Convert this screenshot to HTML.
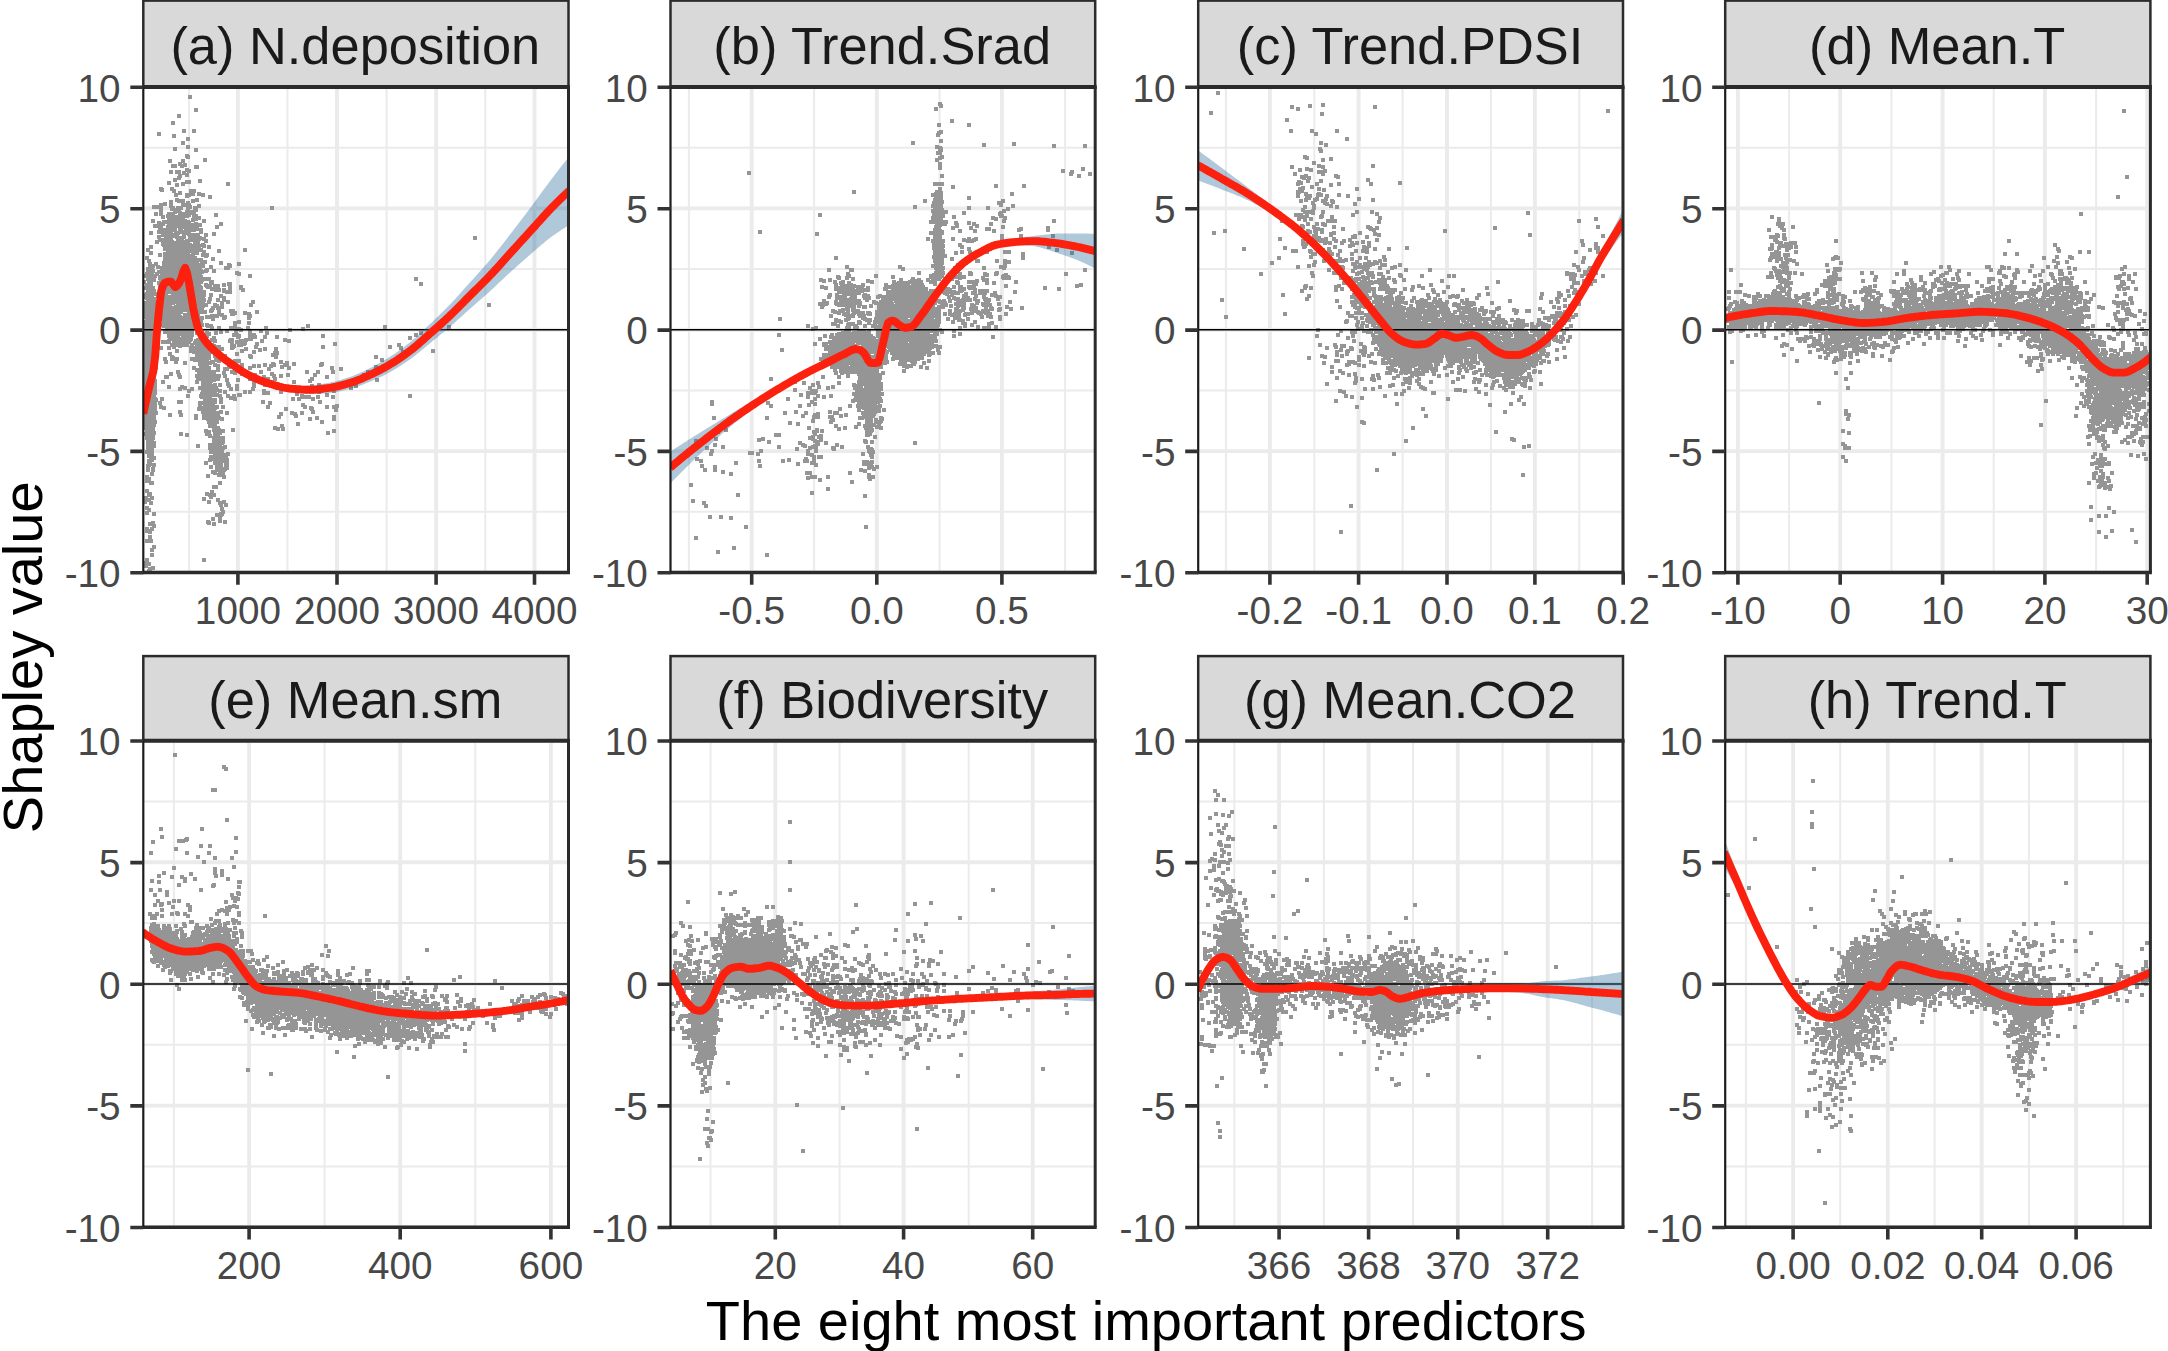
<!DOCTYPE html>
<html><head><meta charset="utf-8"><title>Shapley value</title>
<style>html,body{margin:0;padding:0;background:#fff}svg{display:block}text{font-family:"Liberation Sans",Arial,sans-serif}</style></head><body>
<svg width="2168" height="1351" viewBox="0 0 2168 1351">
<rect width="2168" height="1351" fill="#fff"/>
<g id="panel-a">
<clipPath id="clipa"><rect x="143.3" y="87" width="425.2" height="485.5"/></clipPath>
<rect x="143.3" y="0.6" width="425.2" height="86.4" fill="#d9d9d9" stroke="#2b2b2b" stroke-width="2.5"/>
<text x="355.3" y="64" font-size="52.4" text-anchor="middle" fill="#1a1a1a">(a) N.deposition</text>
<g clip-path="url(#clipa)">
<path d="M143.3 511.8H568.5M143.3 390.4H568.5M143.3 269.1H568.5M143.3 147.7H568.5M189.1 87V572.5M287.5 87V572.5M386.6 87V572.5M485.3 87V572.5" stroke="#ebebeb" stroke-width="2" fill="none"/>
<path d="M143.3 572.5H568.5M143.3 451.1H568.5M143.3 329.8H568.5M143.3 208.4H568.5M143.3 87H568.5M237.9 87V572.5M337 87V572.5M436.1 87V572.5M534.5 87V572.5" stroke="#ebebeb" stroke-width="3.9" fill="none"/>
<path d="M142 282h4M142 288h4M142 331h4M142 362h4M142 371h4M142 381h4M142 394h4M143 295h4M143 297h4M143 305h4M143 316h4M143 317h4M143 322h4M143 324h4M143 325h4M143 328h4M143 329h4M143 332h4M143 334h4M143 339h4M143 341h4M143 346h4M143 347h4M143 350h4M143 352h4M143 353h4M143 357h4M143 358h4M143 362h4M143 366h4M143 377h4M143 380h4M143 381h4M143 383h4M143 385h4M143 388h4M143 391h4M143 395h4M143 396h4M143 397h4M143 407h4M143 408h4M143 412h4M143 414h4M143 415h4M143 416h4M143 418h4M143 419h4M143 421h4M143 425h4M143 499h4M143 502h4M144 276h4M144 303h4M144 307h4M144 310h4M144 312h4M144 315h4M144 316h4M144 317h4M144 324h4M144 328h4M144 336h4M144 337h4M144 338h4M144 342h4M144 347h4M144 350h4M144 352h4M144 354h4M144 359h4M144 361h4M144 365h4M144 366h4M144 367h4M144 369h4M144 375h4M144 377h4M144 380h4M144 382h4M144 388h4M144 389h4M144 390h4M144 397h4M144 401h4M144 402h4M144 405h4M144 406h4M144 410h4M144 412h4M144 413h4M144 414h4M144 415h4M144 422h4M144 423h4M144 428h4M144 434h4M144 498h4M144 563h4M144 566h4M145 258h4M145 274h4M145 276h4M145 285h4M145 288h4M145 294h4M145 298h4M145 303h4M145 305h4M145 306h4M145 307h4M145 308h4M145 309h4M145 313h4M145 315h4M145 316h4M145 317h4M145 320h4M145 321h4M145 323h4M145 324h4M145 327h4M145 329h4M145 330h4M145 331h4M145 333h4M145 336h4M145 340h4M145 345h4M145 347h4M145 352h4M145 353h4M145 356h4M145 359h4M145 361h4M145 369h4M145 370h4M145 371h4M145 372h4M145 379h4M145 380h4M145 390h4M145 394h4M145 395h4M145 403h4M145 405h4M145 415h4M145 418h4M145 422h4M145 423h4M145 427h4M145 430h4M145 431h4M145 432h4M145 434h4M145 435h4M145 438h4M145 452h4M145 477h4M145 481h4M145 491h4M145 500h4M145 508h4M145 513h4M145 529h4M145 531h4M145 541h4M145 560h4M146 250h4M146 269h4M146 273h4M146 277h4M146 279h4M146 287h4M146 289h4M146 291h4M146 294h4M146 299h4M146 300h4M146 307h4M146 309h4M146 311h4M146 316h4M146 318h4M146 321h4M146 322h4M146 324h4M146 326h4M146 331h4M146 332h4M146 333h4M146 335h4M146 336h4M146 352h4M146 353h4M146 354h4M146 358h4M146 360h4M146 363h4M146 373h4M146 376h4M146 377h4M146 378h4M146 382h4M146 383h4M146 384h4M146 389h4M146 390h4M146 395h4M146 396h4M146 397h4M146 401h4M146 402h4M146 404h4M146 409h4M146 411h4M146 418h4M146 423h4M146 424h4M146 429h4M146 430h4M146 438h4M146 440h4M146 443h4M146 446h4M146 448h4M146 450h4M146 451h4M146 452h4M146 466h4M146 470h4M146 531h4M147 261h4M147 271h4M147 273h4M147 276h4M147 277h4M147 278h4M147 279h4M147 280h4M147 284h4M147 286h4M147 288h4M147 291h4M147 293h4M147 294h4M147 295h4M147 299h4M147 312h4M147 314h4M147 315h4M147 316h4M147 317h4M147 321h4M147 322h4M147 323h4M147 324h4M147 325h4M147 328h4M147 334h4M147 335h4M147 342h4M147 348h4M147 353h4M147 362h4M147 364h4M147 366h4M147 368h4M147 376h4M147 379h4M147 384h4M147 385h4M147 390h4M147 391h4M147 395h4M147 403h4M147 404h4M147 406h4M147 408h4M147 409h4M147 410h4M147 413h4M147 418h4M147 419h4M147 420h4M147 422h4M147 424h4M147 425h4M147 437h4M147 439h4M147 445h4M147 447h4M147 448h4M147 453h4M147 456h4M147 461h4M147 465h4M147 479h4M147 495h4M147 500h4M147 510h4M147 564h4M147 571h4M148 264h4M148 267h4M148 272h4M148 275h4M148 277h4M148 278h4M148 280h4M148 282h4M148 284h4M148 288h4M148 294h4M148 301h4M148 303h4M148 304h4M148 306h4M148 307h4M148 308h4M148 309h4M148 310h4M148 313h4M148 314h4M148 315h4M148 317h4M148 324h4M148 325h4M148 332h4M148 334h4M148 337h4M148 341h4M148 342h4M148 345h4M148 347h4M148 358h4M148 360h4M148 364h4M148 368h4M148 370h4M148 373h4M148 377h4M148 380h4M148 385h4M148 387h4M148 391h4M148 405h4M148 408h4M148 409h4M148 422h4M148 425h4M148 426h4M148 430h4M148 432h4M148 434h4M148 438h4M148 439h4M148 440h4M148 441h4M148 443h4M148 444h4M148 446h4M148 450h4M148 452h4M148 455h4M148 464h4M148 494h4M148 524h4M148 532h4M148 537h4M148 569h4M149 233h4M149 247h4M149 253h4M149 271h4M149 272h4M149 275h4M149 277h4M149 281h4M149 283h4M149 284h4M149 285h4M149 286h4M149 287h4M149 288h4M149 292h4M149 295h4M149 297h4M149 301h4M149 302h4M149 307h4M149 309h4M149 311h4M149 313h4M149 316h4M149 325h4M149 326h4M149 327h4M149 330h4M149 331h4M149 332h4M149 333h4M149 336h4M149 338h4M149 343h4M149 346h4M149 347h4M149 348h4M149 350h4M149 353h4M149 356h4M149 358h4M149 359h4M149 370h4M149 377h4M149 381h4M149 383h4M149 390h4M149 401h4M149 403h4M149 404h4M149 410h4M149 411h4M149 416h4M149 417h4M149 420h4M149 425h4M149 427h4M149 433h4M149 435h4M149 438h4M149 439h4M149 440h4M149 441h4M149 443h4M149 444h4M149 447h4M149 448h4M149 449h4M149 454h4M149 457h4M149 458h4M149 483h4M149 503h4M149 541h4M150 268h4M150 273h4M150 274h4M150 276h4M150 279h4M150 291h4M150 292h4M150 293h4M150 297h4M150 298h4M150 301h4M150 305h4M150 306h4M150 309h4M150 311h4M150 315h4M150 316h4M150 317h4M150 318h4M150 320h4M150 324h4M150 326h4M150 329h4M150 330h4M150 331h4M150 333h4M150 334h4M150 336h4M150 339h4M150 348h4M150 350h4M150 357h4M150 364h4M150 365h4M150 368h4M150 370h4M150 373h4M150 375h4M150 380h4M150 382h4M150 385h4M150 393h4M150 397h4M150 398h4M150 404h4M150 405h4M150 406h4M150 408h4M150 416h4M150 417h4M150 418h4M150 420h4M150 427h4M150 429h4M150 430h4M150 431h4M150 432h4M150 433h4M150 437h4M150 439h4M150 443h4M150 444h4M150 445h4M150 446h4M150 447h4M150 449h4M150 450h4M150 451h4M150 453h4M150 454h4M150 460h4M150 474h4M150 483h4M150 498h4M150 529h4M150 550h4M150 555h4M151 221h4M151 266h4M151 271h4M151 288h4M151 290h4M151 291h4M151 294h4M151 300h4M151 303h4M151 304h4M151 305h4M151 312h4M151 317h4M151 318h4M151 321h4M151 322h4M151 326h4M151 329h4M151 331h4M151 336h4M151 338h4M151 340h4M151 343h4M151 349h4M151 350h4M151 351h4M151 354h4M151 355h4M151 359h4M151 360h4M151 373h4M151 376h4M151 377h4M151 378h4M151 380h4M151 382h4M151 386h4M151 387h4M151 395h4M151 399h4M151 402h4M151 406h4M151 409h4M151 411h4M151 415h4M151 419h4M151 421h4M151 426h4M151 429h4M151 430h4M151 432h4M151 435h4M151 436h4M151 437h4M151 438h4M151 444h4M151 469h4M151 470h4M151 523h4M151 568h4M152 207h4M152 280h4M152 291h4M152 299h4M152 300h4M152 301h4M152 304h4M152 305h4M152 306h4M152 308h4M152 310h4M152 314h4M152 322h4M152 326h4M152 327h4M152 333h4M152 337h4M152 342h4M152 347h4M152 348h4M152 352h4M152 355h4M152 360h4M152 365h4M152 368h4M152 370h4M152 371h4M152 373h4M152 375h4M152 378h4M152 383h4M152 386h4M152 388h4M152 391h4M152 396h4M152 403h4M152 404h4M152 405h4M152 412h4M152 414h4M152 416h4M152 418h4M152 423h4M152 425h4M152 433h4M152 443h4M152 446h4M152 458h4M152 465h4M152 514h4M152 526h4M152 547h4M153 226h4M153 276h4M153 319h4M153 322h4M153 327h4M153 328h4M153 331h4M153 333h4M153 336h4M153 343h4M153 349h4M153 352h4M153 353h4M153 354h4M153 356h4M153 358h4M153 362h4M153 364h4M153 365h4M153 369h4M153 370h4M153 371h4M153 381h4M153 383h4M153 385h4M153 387h4M153 388h4M153 389h4M153 392h4M153 393h4M153 399h4M153 402h4M153 406h4M153 408h4M153 409h4M153 410h4M153 412h4M153 422h4M154 214h4M154 264h4M154 294h4M154 313h4M154 323h4M154 338h4M154 343h4M154 368h4M154 400h4M154 413h4M155 207h4M155 242h4M155 274h4M156 267h4M156 296h4M156 333h4M157 134h4M157 223h4M157 226h4M157 232h4M157 237h4M157 272h4M157 283h4M157 300h4M157 303h4M158 229h4M158 240h4M158 255h4M158 278h4M158 285h4M158 288h4M158 289h4M158 292h4M158 294h4M158 296h4M158 297h4M158 298h4M158 305h4M158 309h4M158 403h4M159 189h4M159 205h4M159 209h4M159 212h4M159 214h4M159 227h4M159 277h4M159 281h4M159 301h4M159 303h4M159 304h4M159 305h4M159 306h4M159 309h4M159 317h4M159 348h4M159 407h4M160 190h4M160 268h4M160 270h4M160 272h4M160 273h4M160 274h4M160 277h4M160 282h4M160 283h4M160 285h4M160 289h4M160 291h4M160 296h4M160 297h4M160 299h4M160 302h4M160 303h4M160 306h4M160 307h4M160 308h4M160 309h4M160 312h4M160 314h4M160 315h4M160 320h4M160 399h4M161 217h4M161 224h4M161 230h4M161 231h4M161 235h4M161 243h4M161 244h4M161 269h4M161 270h4M161 275h4M161 276h4M161 280h4M161 282h4M161 283h4M161 284h4M161 294h4M161 295h4M161 296h4M161 298h4M161 300h4M161 301h4M161 302h4M161 304h4M161 306h4M161 308h4M161 311h4M161 312h4M161 318h4M161 319h4M161 325h4M161 342h4M161 382h4M162 222h4M162 240h4M162 245h4M162 263h4M162 267h4M162 277h4M162 279h4M162 281h4M162 286h4M162 291h4M162 292h4M162 293h4M162 298h4M162 300h4M162 303h4M162 306h4M162 308h4M162 314h4M162 321h4M162 326h4M162 408h4M163 204h4M163 222h4M163 230h4M163 235h4M163 243h4M163 245h4M163 249h4M163 254h4M163 255h4M163 258h4M163 261h4M163 262h4M163 263h4M163 265h4M163 271h4M163 275h4M163 278h4M163 279h4M163 284h4M163 290h4M163 295h4M163 304h4M163 307h4M163 308h4M163 310h4M163 312h4M163 313h4M163 324h4M163 332h4M163 359h4M164 231h4M164 232h4M164 237h4M164 240h4M164 241h4M164 255h4M164 257h4M164 258h4M164 262h4M164 265h4M164 266h4M164 267h4M164 268h4M164 270h4M164 271h4M164 272h4M164 277h4M164 285h4M164 289h4M164 293h4M164 295h4M164 301h4M164 305h4M164 306h4M164 313h4M164 318h4M164 321h4M164 342h4M164 362h4M164 377h4M165 234h4M165 255h4M165 259h4M165 260h4M165 262h4M165 265h4M165 282h4M165 285h4M165 286h4M165 287h4M165 289h4M165 290h4M165 300h4M165 305h4M165 312h4M165 314h4M165 316h4M165 325h4M165 326h4M165 327h4M165 332h4M165 377h4M166 216h4M166 227h4M166 233h4M166 234h4M166 238h4M166 239h4M166 240h4M166 244h4M166 248h4M166 252h4M166 254h4M166 256h4M166 258h4M166 264h4M166 267h4M166 272h4M166 275h4M166 278h4M166 282h4M166 283h4M166 287h4M166 289h4M166 292h4M166 297h4M166 298h4M166 303h4M166 308h4M166 310h4M166 312h4M166 317h4M166 320h4M166 323h4M166 330h4M167 183h4M167 214h4M167 215h4M167 219h4M167 221h4M167 223h4M167 230h4M167 231h4M167 234h4M167 251h4M167 252h4M167 256h4M167 257h4M167 261h4M167 264h4M167 265h4M167 267h4M167 268h4M167 272h4M167 276h4M167 280h4M167 281h4M167 282h4M167 285h4M167 288h4M167 298h4M167 300h4M167 307h4M167 308h4M167 311h4M167 315h4M167 317h4M167 321h4M167 324h4M167 326h4M167 331h4M167 332h4M167 334h4M167 336h4M167 341h4M167 342h4M167 348h4M167 387h4M168 161h4M168 215h4M168 216h4M168 231h4M168 232h4M168 234h4M168 236h4M168 238h4M168 239h4M168 244h4M168 246h4M168 248h4M168 257h4M168 259h4M168 269h4M168 270h4M168 273h4M168 278h4M168 281h4M168 282h4M168 301h4M168 305h4M168 316h4M168 319h4M168 322h4M168 325h4M168 332h4M168 337h4M168 354h4M168 415h4M169 172h4M169 202h4M169 206h4M169 217h4M169 218h4M169 222h4M169 224h4M169 232h4M169 233h4M169 238h4M169 242h4M169 244h4M169 260h4M169 264h4M169 267h4M169 275h4M169 280h4M169 286h4M169 287h4M169 289h4M169 291h4M169 297h4M169 299h4M169 309h4M169 316h4M169 322h4M169 323h4M169 374h4M170 189h4M170 209h4M170 221h4M170 227h4M170 236h4M170 242h4M170 244h4M170 252h4M170 253h4M170 254h4M170 255h4M170 261h4M170 262h4M170 263h4M170 266h4M170 267h4M170 269h4M170 276h4M170 279h4M170 283h4M170 286h4M170 287h4M170 288h4M170 289h4M170 290h4M170 292h4M170 297h4M170 301h4M170 302h4M170 308h4M170 315h4M170 316h4M170 318h4M170 319h4M170 326h4M170 328h4M170 330h4M170 333h4M170 338h4M170 339h4M170 345h4M170 357h4M170 359h4M171 123h4M171 166h4M171 208h4M171 209h4M171 214h4M171 215h4M171 219h4M171 220h4M171 223h4M171 226h4M171 228h4M171 236h4M171 243h4M171 247h4M171 249h4M171 255h4M171 256h4M171 257h4M171 267h4M171 268h4M171 274h4M171 282h4M171 284h4M171 287h4M171 294h4M171 299h4M171 303h4M171 312h4M171 315h4M171 316h4M171 317h4M171 318h4M171 319h4M171 322h4M171 328h4M171 331h4M171 332h4M171 336h4M171 358h4M172 136h4M172 191h4M172 219h4M172 221h4M172 222h4M172 235h4M172 247h4M172 249h4M172 252h4M172 253h4M172 255h4M172 258h4M172 262h4M172 267h4M172 268h4M172 272h4M172 277h4M172 278h4M172 282h4M172 283h4M172 287h4M172 289h4M172 291h4M172 292h4M172 297h4M172 309h4M172 311h4M172 313h4M172 318h4M172 319h4M172 321h4M172 322h4M172 323h4M172 329h4M172 330h4M172 331h4M172 333h4M172 335h4M172 342h4M172 347h4M173 149h4M173 166h4M173 180h4M173 212h4M173 217h4M173 224h4M173 227h4M173 230h4M173 235h4M173 243h4M173 246h4M173 247h4M173 248h4M173 249h4M173 250h4M173 254h4M173 257h4M173 261h4M173 262h4M173 270h4M173 271h4M173 281h4M173 283h4M173 285h4M173 286h4M173 288h4M173 292h4M173 296h4M173 298h4M173 299h4M173 302h4M173 311h4M173 312h4M173 319h4M173 321h4M173 325h4M173 327h4M173 328h4M173 332h4M173 335h4M173 338h4M173 341h4M173 343h4M173 344h4M174 195h4M174 210h4M174 211h4M174 221h4M174 223h4M174 233h4M174 245h4M174 246h4M174 248h4M174 251h4M174 257h4M174 264h4M174 265h4M174 266h4M174 267h4M174 268h4M174 269h4M174 275h4M174 277h4M174 279h4M174 281h4M174 285h4M174 288h4M174 297h4M174 298h4M174 301h4M174 307h4M174 309h4M174 312h4M174 316h4M174 321h4M174 324h4M174 336h4M174 362h4M175 172h4M175 185h4M175 200h4M175 226h4M175 234h4M175 237h4M175 247h4M175 248h4M175 250h4M175 252h4M175 255h4M175 264h4M175 268h4M175 272h4M175 275h4M175 280h4M175 281h4M175 283h4M175 288h4M175 292h4M175 293h4M175 295h4M175 298h4M175 312h4M175 316h4M175 317h4M175 318h4M175 322h4M175 325h4M175 327h4M175 333h4M175 334h4M175 335h4M175 336h4M175 337h4M175 342h4M175 343h4M175 345h4M175 351h4M175 359h4M176 208h4M176 217h4M176 233h4M176 238h4M176 241h4M176 242h4M176 243h4M176 247h4M176 248h4M176 252h4M176 253h4M176 254h4M176 257h4M176 260h4M176 264h4M176 265h4M176 268h4M176 270h4M176 271h4M176 273h4M176 275h4M176 277h4M176 284h4M176 285h4M176 287h4M176 289h4M176 291h4M176 292h4M176 296h4M176 297h4M176 299h4M176 303h4M176 304h4M176 307h4M176 309h4M176 316h4M176 323h4M176 324h4M176 326h4M176 330h4M176 334h4M176 336h4M176 340h4M176 372h4M177 116h4M177 172h4M177 178h4M177 201h4M177 209h4M177 211h4M177 238h4M177 240h4M177 244h4M177 245h4M177 247h4M177 251h4M177 252h4M177 253h4M177 256h4M177 258h4M177 263h4M177 264h4M177 270h4M177 275h4M177 276h4M177 280h4M177 286h4M177 287h4M177 289h4M177 290h4M177 293h4M177 296h4M177 297h4M177 306h4M177 307h4M177 308h4M177 312h4M177 315h4M177 331h4M177 333h4M177 334h4M177 339h4M177 343h4M177 375h4M177 402h4M178 164h4M178 176h4M178 193h4M178 213h4M178 215h4M178 217h4M178 220h4M178 224h4M178 225h4M178 227h4M178 230h4M178 231h4M178 238h4M178 242h4M178 250h4M178 255h4M178 256h4M178 261h4M178 263h4M178 271h4M178 282h4M178 288h4M178 290h4M178 293h4M178 298h4M178 299h4M178 301h4M178 308h4M178 311h4M178 312h4M178 317h4M178 319h4M178 328h4M178 333h4M178 343h4M178 345h4M178 346h4M178 377h4M178 389h4M178 412h4M179 208h4M179 214h4M179 221h4M179 223h4M179 224h4M179 226h4M179 229h4M179 232h4M179 238h4M179 242h4M179 243h4M179 245h4M179 246h4M179 251h4M179 258h4M179 261h4M179 262h4M179 273h4M179 281h4M179 288h4M179 290h4M179 295h4M179 302h4M179 303h4M179 308h4M179 312h4M179 318h4M179 320h4M179 321h4M179 322h4M179 323h4M179 324h4M179 325h4M179 332h4M179 333h4M179 334h4M179 402h4M179 415h4M179 434h4M180 166h4M180 226h4M180 227h4M180 241h4M180 243h4M180 250h4M180 251h4M180 254h4M180 259h4M180 262h4M180 268h4M180 269h4M180 275h4M180 276h4M180 280h4M180 284h4M180 285h4M180 289h4M180 290h4M180 291h4M180 294h4M180 297h4M180 298h4M180 299h4M180 302h4M180 306h4M180 307h4M180 325h4M180 326h4M180 328h4M180 329h4M180 330h4M180 339h4M180 344h4M180 387h4M181 143h4M181 161h4M181 184h4M181 201h4M181 203h4M181 205h4M181 214h4M181 217h4M181 220h4M181 227h4M181 243h4M181 244h4M181 247h4M181 249h4M181 252h4M181 255h4M181 256h4M181 261h4M181 263h4M181 264h4M181 266h4M181 267h4M181 270h4M181 271h4M181 273h4M181 275h4M181 276h4M181 277h4M181 278h4M181 281h4M181 282h4M181 283h4M181 286h4M181 287h4M181 292h4M181 296h4M181 298h4M181 299h4M181 302h4M181 304h4M181 307h4M181 308h4M181 309h4M181 321h4M181 322h4M181 327h4M181 328h4M181 335h4M181 345h4M182 131h4M182 173h4M182 216h4M182 223h4M182 227h4M182 232h4M182 233h4M182 235h4M182 236h4M182 237h4M182 246h4M182 252h4M182 262h4M182 265h4M182 273h4M182 274h4M182 275h4M182 279h4M182 281h4M182 286h4M182 287h4M182 288h4M182 292h4M182 304h4M182 310h4M182 318h4M182 328h4M182 330h4M182 331h4M182 342h4M183 165h4M183 215h4M183 221h4M183 233h4M183 244h4M183 248h4M183 250h4M183 257h4M183 259h4M183 260h4M183 269h4M183 273h4M183 275h4M183 280h4M183 285h4M183 291h4M183 293h4M183 294h4M183 296h4M183 298h4M183 299h4M183 302h4M183 303h4M183 305h4M183 315h4M183 317h4M183 321h4M183 326h4M183 331h4M183 334h4M183 341h4M183 363h4M183 388h4M184 205h4M184 226h4M184 228h4M184 242h4M184 244h4M184 246h4M184 247h4M184 249h4M184 250h4M184 251h4M184 259h4M184 260h4M184 261h4M184 264h4M184 266h4M184 268h4M184 270h4M184 283h4M184 287h4M184 291h4M184 293h4M184 295h4M184 297h4M184 304h4M184 324h4M184 327h4M184 330h4M184 333h4M184 334h4M184 335h4M184 337h4M184 338h4M184 339h4M184 341h4M185 156h4M185 170h4M185 175h4M185 182h4M185 195h4M185 196h4M185 212h4M185 216h4M185 222h4M185 223h4M185 224h4M185 225h4M185 226h4M185 241h4M185 246h4M185 248h4M185 249h4M185 252h4M185 253h4M185 255h4M185 263h4M185 266h4M185 267h4M185 270h4M185 271h4M185 273h4M185 274h4M185 275h4M185 279h4M185 283h4M185 285h4M185 287h4M185 295h4M185 301h4M185 308h4M185 309h4M185 315h4M185 322h4M185 323h4M185 325h4M185 331h4M185 332h4M185 336h4M185 345h4M185 435h4M186 139h4M186 147h4M186 157h4M186 203h4M186 206h4M186 210h4M186 222h4M186 224h4M186 229h4M186 241h4M186 243h4M186 245h4M186 247h4M186 249h4M186 250h4M186 252h4M186 253h4M186 256h4M186 259h4M186 260h4M186 263h4M186 264h4M186 265h4M186 267h4M186 269h4M186 275h4M186 276h4M186 277h4M186 278h4M186 283h4M186 288h4M186 293h4M186 294h4M186 299h4M186 308h4M186 310h4M186 321h4M186 325h4M186 329h4M186 331h4M186 335h4M186 336h4M186 338h4M186 341h4M186 396h4M187 171h4M187 182h4M187 195h4M187 205h4M187 212h4M187 215h4M187 223h4M187 227h4M187 232h4M187 234h4M187 248h4M187 256h4M187 260h4M187 263h4M187 267h4M187 268h4M187 272h4M187 273h4M187 274h4M187 278h4M187 280h4M187 286h4M187 289h4M187 295h4M187 298h4M187 299h4M187 304h4M187 306h4M187 314h4M187 319h4M187 320h4M187 332h4M187 333h4M187 335h4M187 337h4M187 341h4M187 342h4M187 391h4M188 97h4M188 207h4M188 230h4M188 235h4M188 237h4M188 245h4M188 251h4M188 256h4M188 259h4M188 261h4M188 263h4M188 266h4M188 267h4M188 270h4M188 271h4M188 275h4M188 277h4M188 278h4M188 285h4M188 286h4M188 287h4M188 294h4M188 299h4M188 304h4M188 305h4M188 307h4M188 309h4M188 314h4M188 317h4M188 321h4M188 325h4M188 333h4M188 336h4M188 340h4M189 191h4M189 194h4M189 213h4M189 225h4M189 228h4M189 229h4M189 240h4M189 246h4M189 249h4M189 250h4M189 257h4M189 259h4M189 263h4M189 273h4M189 278h4M189 282h4M189 295h4M189 297h4M189 298h4M189 299h4M189 300h4M189 301h4M189 302h4M189 310h4M189 312h4M189 316h4M189 324h4M189 328h4M189 331h4M189 334h4M189 338h4M189 339h4M189 348h4M189 351h4M190 194h4M190 212h4M190 236h4M190 250h4M190 257h4M190 259h4M190 260h4M190 263h4M190 266h4M190 269h4M190 270h4M190 275h4M190 282h4M190 291h4M190 297h4M190 302h4M190 303h4M190 305h4M190 308h4M190 310h4M190 311h4M190 312h4M190 315h4M190 331h4M190 335h4M190 345h4M190 359h4M190 389h4M191 191h4M191 194h4M191 201h4M191 212h4M191 220h4M191 228h4M191 230h4M191 235h4M191 236h4M191 247h4M191 254h4M191 255h4M191 258h4M191 265h4M191 278h4M191 283h4M191 285h4M191 286h4M191 292h4M191 295h4M191 296h4M191 298h4M191 299h4M191 303h4M191 306h4M191 307h4M191 308h4M191 309h4M191 316h4M191 317h4M191 324h4M191 350h4M192 131h4M192 191h4M192 213h4M192 214h4M192 215h4M192 219h4M192 225h4M192 230h4M192 235h4M192 236h4M192 240h4M192 246h4M192 250h4M192 258h4M192 264h4M192 267h4M192 270h4M192 271h4M192 272h4M192 274h4M192 275h4M192 278h4M192 279h4M192 294h4M192 299h4M192 303h4M192 315h4M192 319h4M192 320h4M192 321h4M192 322h4M192 323h4M192 325h4M192 327h4M192 328h4M192 352h4M192 368h4M193 208h4M193 216h4M193 236h4M193 239h4M193 242h4M193 258h4M193 260h4M193 262h4M193 269h4M193 270h4M193 271h4M193 276h4M193 279h4M193 283h4M193 284h4M193 285h4M193 295h4M193 296h4M193 298h4M193 299h4M193 300h4M193 307h4M193 321h4M193 327h4M193 328h4M193 343h4M193 348h4M193 360h4M194 110h4M194 150h4M194 167h4M194 210h4M194 216h4M194 219h4M194 224h4M194 228h4M194 242h4M194 243h4M194 248h4M194 250h4M194 260h4M194 261h4M194 267h4M194 271h4M194 273h4M194 278h4M194 287h4M194 291h4M194 293h4M194 295h4M194 300h4M194 303h4M194 307h4M194 313h4M194 316h4M194 317h4M194 319h4M194 323h4M194 324h4M194 326h4M194 341h4M194 359h4M194 416h4M194 418h4M195 167h4M195 200h4M195 229h4M195 236h4M195 238h4M195 242h4M195 247h4M195 253h4M195 263h4M195 274h4M195 275h4M195 277h4M195 279h4M195 280h4M195 286h4M195 288h4M195 291h4M195 292h4M195 295h4M195 299h4M195 302h4M195 303h4M195 306h4M195 308h4M195 312h4M195 321h4M195 322h4M195 324h4M195 325h4M195 333h4M195 342h4M195 345h4M195 347h4M195 348h4M195 351h4M195 354h4M195 358h4M195 370h4M195 376h4M195 382h4M196 235h4M196 236h4M196 242h4M196 244h4M196 265h4M196 271h4M196 276h4M196 283h4M196 287h4M196 293h4M196 298h4M196 300h4M196 302h4M196 307h4M196 308h4M196 313h4M196 315h4M196 330h4M196 340h4M196 341h4M196 342h4M196 347h4M196 349h4M196 352h4M196 359h4M196 360h4M196 379h4M196 446h4M197 194h4M197 206h4M197 218h4M197 238h4M197 239h4M197 246h4M197 247h4M197 249h4M197 271h4M197 274h4M197 276h4M197 283h4M197 288h4M197 291h4M197 295h4M197 297h4M197 301h4M197 310h4M197 347h4M197 350h4M197 353h4M197 354h4M197 357h4M197 372h4M197 409h4M198 181h4M198 225h4M198 238h4M198 260h4M198 268h4M198 276h4M198 279h4M198 280h4M198 287h4M198 289h4M198 293h4M198 294h4M198 300h4M198 304h4M198 306h4M198 307h4M198 318h4M198 327h4M198 343h4M198 345h4M198 346h4M198 350h4M198 352h4M198 364h4M198 370h4M198 374h4M198 377h4M198 379h4M198 388h4M198 403h4M198 406h4M199 230h4M199 232h4M199 250h4M199 260h4M199 271h4M199 277h4M199 281h4M199 282h4M199 288h4M199 293h4M199 296h4M199 303h4M199 310h4M199 321h4M199 339h4M199 341h4M199 343h4M199 344h4M199 346h4M199 348h4M199 349h4M199 354h4M199 360h4M199 361h4M199 368h4M199 370h4M199 372h4M199 375h4M199 396h4M199 403h4M200 263h4M200 265h4M200 272h4M200 280h4M200 296h4M200 297h4M200 306h4M200 307h4M200 308h4M200 312h4M200 318h4M200 325h4M200 340h4M200 345h4M200 350h4M200 355h4M200 358h4M200 361h4M200 364h4M200 365h4M200 372h4M200 374h4M200 376h4M200 378h4M200 379h4M200 388h4M200 394h4M200 396h4M200 397h4M200 408h4M201 195h4M201 245h4M201 255h4M201 266h4M201 295h4M201 297h4M201 304h4M201 306h4M201 342h4M201 343h4M201 344h4M201 349h4M201 352h4M201 358h4M201 363h4M201 364h4M201 365h4M201 366h4M201 368h4M201 370h4M201 372h4M201 381h4M201 385h4M201 389h4M201 390h4M201 393h4M201 412h4M202 221h4M202 239h4M202 246h4M202 252h4M202 262h4M202 279h4M202 292h4M202 295h4M202 300h4M202 335h4M202 341h4M202 362h4M202 363h4M202 364h4M202 365h4M202 368h4M202 369h4M202 371h4M202 372h4M202 375h4M202 382h4M202 383h4M202 388h4M202 390h4M202 393h4M202 416h4M202 418h4M202 499h4M202 560h4M203 160h4M203 262h4M203 312h4M203 345h4M203 349h4M203 360h4M203 362h4M203 363h4M203 364h4M203 365h4M203 371h4M203 372h4M203 377h4M203 378h4M203 379h4M203 380h4M203 381h4M203 387h4M203 394h4M203 400h4M203 403h4M203 406h4M203 414h4M203 416h4M203 418h4M204 235h4M204 241h4M204 256h4M204 271h4M204 285h4M204 305h4M204 349h4M204 351h4M204 354h4M204 356h4M204 359h4M204 365h4M204 368h4M204 369h4M204 372h4M204 373h4M204 377h4M204 379h4M204 382h4M204 383h4M204 387h4M204 392h4M204 395h4M204 397h4M204 407h4M204 411h4M204 414h4M204 431h4M204 463h4M205 255h4M205 270h4M205 279h4M205 286h4M205 317h4M205 325h4M205 333h4M205 336h4M205 350h4M205 352h4M205 354h4M205 357h4M205 360h4M205 361h4M205 364h4M205 365h4M205 368h4M205 369h4M205 374h4M205 380h4M205 381h4M205 382h4M205 384h4M205 392h4M205 396h4M205 404h4M205 409h4M205 411h4M205 418h4M205 434h4M205 494h4M206 287h4M206 326h4M206 343h4M206 350h4M206 351h4M206 352h4M206 358h4M206 370h4M206 372h4M206 385h4M206 389h4M206 391h4M206 392h4M206 395h4M206 396h4M206 399h4M206 402h4M206 404h4M206 405h4M206 419h4M206 432h4M206 476h4M206 522h4M207 247h4M207 279h4M207 302h4M207 334h4M207 345h4M207 348h4M207 355h4M207 358h4M207 363h4M207 368h4M207 376h4M207 379h4M207 380h4M207 381h4M207 382h4M207 384h4M207 385h4M207 388h4M207 390h4M207 391h4M207 394h4M207 395h4M207 396h4M207 402h4M207 404h4M207 414h4M207 420h4M207 421h4M207 422h4M207 432h4M207 502h4M207 523h4M208 197h4M208 286h4M208 299h4M208 317h4M208 352h4M208 363h4M208 373h4M208 375h4M208 376h4M208 382h4M208 385h4M208 388h4M208 392h4M208 394h4M208 395h4M208 399h4M208 402h4M208 403h4M208 405h4M208 406h4M208 409h4M208 410h4M208 415h4M208 418h4M208 426h4M208 436h4M208 445h4M208 448h4M208 460h4M208 495h4M209 267h4M209 283h4M209 295h4M209 311h4M209 326h4M209 345h4M209 372h4M209 378h4M209 381h4M209 386h4M209 387h4M209 392h4M209 395h4M209 402h4M209 403h4M209 405h4M209 406h4M209 407h4M209 420h4M209 422h4M209 424h4M209 425h4M209 426h4M209 452h4M209 457h4M209 467h4M209 497h4M210 282h4M210 289h4M210 310h4M210 316h4M210 328h4M210 340h4M210 345h4M210 362h4M210 374h4M210 376h4M210 386h4M210 388h4M210 393h4M210 402h4M210 407h4M210 412h4M210 417h4M210 420h4M210 422h4M210 492h4M211 259h4M211 308h4M211 319h4M211 347h4M211 362h4M211 379h4M211 387h4M211 394h4M211 405h4M211 407h4M211 409h4M211 414h4M211 415h4M211 417h4M211 447h4M211 472h4M211 519h4M212 234h4M212 271h4M212 316h4M212 338h4M212 346h4M212 349h4M212 372h4M212 380h4M212 387h4M212 400h4M212 411h4M212 413h4M212 415h4M212 424h4M212 428h4M212 429h4M212 430h4M212 438h4M212 439h4M212 440h4M212 441h4M212 442h4M212 444h4M212 450h4M212 459h4M212 487h4M212 495h4M212 524h4M213 286h4M213 305h4M213 341h4M213 347h4M213 356h4M213 365h4M213 376h4M213 385h4M213 391h4M213 395h4M213 400h4M213 402h4M213 408h4M213 419h4M213 420h4M213 424h4M213 430h4M213 431h4M213 433h4M213 434h4M213 435h4M213 443h4M213 453h4M213 455h4M213 456h4M213 459h4M213 460h4M213 463h4M213 473h4M213 487h4M214 215h4M214 290h4M214 333h4M214 349h4M214 351h4M214 356h4M214 360h4M214 388h4M214 389h4M214 414h4M214 416h4M214 417h4M214 420h4M214 429h4M214 433h4M214 436h4M214 459h4M214 463h4M214 487h4M215 227h4M215 306h4M215 316h4M215 390h4M215 395h4M215 407h4M215 413h4M215 414h4M215 422h4M215 429h4M215 433h4M215 434h4M215 436h4M215 443h4M215 446h4M215 447h4M215 449h4M215 450h4M215 453h4M215 454h4M215 459h4M215 467h4M215 470h4M215 515h4M216 286h4M216 300h4M216 308h4M216 354h4M216 366h4M216 370h4M216 379h4M216 415h4M216 428h4M216 437h4M216 439h4M216 440h4M216 442h4M216 443h4M216 444h4M216 448h4M216 449h4M216 450h4M216 451h4M216 454h4M216 457h4M216 461h4M216 467h4M216 468h4M216 500h4M217 251h4M217 290h4M217 311h4M217 314h4M217 328h4M217 347h4M217 355h4M217 358h4M217 361h4M217 376h4M217 418h4M217 430h4M217 432h4M217 439h4M217 450h4M217 451h4M217 458h4M217 460h4M217 461h4M217 475h4M218 385h4M218 391h4M218 396h4M218 433h4M218 442h4M218 445h4M218 446h4M218 447h4M218 457h4M218 458h4M218 465h4M218 472h4M218 475h4M218 483h4M218 503h4M218 518h4M218 521h4M219 224h4M219 263h4M219 296h4M219 332h4M219 349h4M219 399h4M219 402h4M219 412h4M219 431h4M219 438h4M219 441h4M219 442h4M219 448h4M219 449h4M219 450h4M219 452h4M219 453h4M219 463h4M219 466h4M219 470h4M219 505h4M219 514h4M219 515h4M220 303h4M220 307h4M220 315h4M220 349h4M220 419h4M220 443h4M220 449h4M220 451h4M220 458h4M220 472h4M220 509h4M220 514h4M221 407h4M221 431h4M221 438h4M221 442h4M221 448h4M221 461h4M221 473h4M221 512h4M222 285h4M222 290h4M222 291h4M222 298h4M222 300h4M222 318h4M222 373h4M222 455h4M222 470h4M222 477h4M222 502h4M223 317h4M223 356h4M223 369h4M223 376h4M223 392h4M223 447h4M223 469h4M223 522h4M224 268h4M224 458h4M224 465h4M224 468h4M224 505h4M225 292h4M225 331h4M225 369h4M225 380h4M225 413h4M225 460h4M225 464h4M225 468h4M226 184h4M226 268h4M226 302h4M226 384h4M226 396h4M226 454h4M227 265h4M227 284h4M227 292h4M227 361h4M227 363h4M227 367h4M227 386h4M228 266h4M228 284h4M228 288h4M228 292h4M228 341h4M228 364h4M229 311h4M229 328h4M229 340h4M229 389h4M229 398h4M230 313h4M230 314h4M230 340h4M230 342h4M230 344h4M230 348h4M230 362h4M230 372h4M231 311h4M231 314h4M231 347h4M231 430h4M232 335h4M232 346h4M232 362h4M232 365h4M232 396h4M233 313h4M233 323h4M233 326h4M233 327h4M233 361h4M233 373h4M233 399h4M234 332h4M235 273h4M235 335h4M235 342h4M235 354h4M235 386h4M235 389h4M236 337h4M236 380h4M237 264h4M237 274h4M237 322h4M237 329h4M237 336h4M237 345h4M237 361h4M237 395h4M238 395h4M239 287h4M239 288h4M239 330h4M239 341h4M239 345h4M240 351h4M240 365h4M240 367h4M240 374h4M241 290h4M242 341h4M242 344h4M243 250h4M243 313h4M243 343h4M243 392h4M244 340h4M244 349h4M244 372h4M244 375h4M246 328h4M246 374h4M247 314h4M247 318h4M247 323h4M248 276h4M248 316h4M248 332h4M248 335h4M248 339h4M248 356h4M248 368h4M248 379h4M248 392h4M249 305h4M249 339h4M249 357h4M250 335h4M251 302h4M251 389h4M252 335h4M252 352h4M252 366h4M252 382h4M252 386h4M253 337h4M253 375h4M254 347h4M254 378h4M254 380h4M255 312h4M255 344h4M257 366h4M258 350h4M259 331h4M259 372h4M260 341h4M261 402h4M262 377h4M262 391h4M262 393h4M263 337h4M263 349h4M263 365h4M263 385h4M264 328h4M264 383h4M264 393h4M265 333h4M266 379h4M266 381h4M266 393h4M266 407h4M267 369h4M268 403h4M269 366h4M270 208h4M270 374h4M271 355h4M271 364h4M272 365h4M272 376h4M273 353h4M273 379h4M273 384h4M273 428h4M274 349h4M274 357h4M275 337h4M275 353h4M275 388h4M276 429h4M277 417h4M279 362h4M279 376h4M279 392h4M279 414h4M280 367h4M280 426h4M281 429h4M283 340h4M283 365h4M284 409h4M285 363h4M285 364h4M286 375h4M287 341h4M287 368h4M288 330h4M290 413h4M291 399h4M292 364h4M292 382h4M293 414h4M294 416h4M295 394h4M296 424h4M297 399h4M300 396h4M300 413h4M301 329h4M301 389h4M301 397h4M301 405h4M302 390h4M303 407h4M305 372h4M305 397h4M306 326h4M307 397h4M308 381h4M308 419h4M309 408h4M310 379h4M310 386h4M310 409h4M311 399h4M311 412h4M313 375h4M315 418h4M316 372h4M316 397h4M317 385h4M317 392h4M318 388h4M318 402h4M319 365h4M320 364h4M320 422h4M321 336h4M321 347h4M325 377h4M325 395h4M325 407h4M326 433h4M330 368h4M331 372h4M331 397h4M332 391h4M332 407h4M332 417h4M332 419h4M332 431h4M333 344h4M333 386h4M334 410h4M335 406h4M339 369h4M349 388h4M354 386h4M358 378h4M362 375h4M366 372h4M371 373h4M374 357h4M374 367h4M375 380h4M380 360h4M383 327h4M388 347h4M397 345h4M399 348h4M399 359h4M401 352h4M408 338h4M408 350h4M408 396h4M414 279h4M414 335h4M414 347h4M419 284h4M419 333h4M431 351h4M440 321h4M447 327h4M473 238h4M487 305h4" stroke="#959595" stroke-width="4" fill="none"/>
<path d="M143.3 329.8H568.5" stroke="#000" stroke-width="1.4"/>
<path d="M299.2 385.7 301.2 385.7 303.2 385.7 305.2 385.7 307.2 385.6 309.2 385.6 311.2 385.4 313.2 385.3 315.2 385.1 317.2 384.8 319.2 384.5 321.2 384.2 323.2 383.8 325.2 383.4 327.2 383.1 329.2 382.7 331.2 382.3 333.2 381.9 335.2 381.4 337.2 380.9 339.2 380.3 341.2 379.7 343.2 379.1 345.2 378.5 347.2 377.8 349.2 377.2 351.2 376.5 353.2 375.7 355.2 375 357.2 374.1 359.2 373.2 361.2 372.3 363.2 371.4 365.2 370.4 367.2 369.5 369.2 368.5 371.2 367.5 373.2 366.5 375.2 365.4 377.2 364.3 379.2 363.3 381.2 362.1 383.2 361 385.2 359.8 387.2 358.6 389.2 357.3 391.2 356.1 393.2 354.8 395.2 353.4 397.2 352 399.2 350.6 401.2 349.1 403.2 347.7 405.2 346.1 407.2 344.6 409.2 343 411.2 341.3 413.2 339.6 415.2 337.9 417.2 336.1 419.2 334.2 421.2 332.4 423.2 330.5 425.2 328.6 427.2 326.7 429.2 324.8 431.2 322.9 433.2 321 435.2 319.1 437.2 317.2 439.2 315.2 441.2 313.3 443.2 311.3 445.2 309.3 447.2 307.3 449.2 305.3 451.2 303.2 453.2 301.1 455.2 298.9 457.2 296.7 459.2 294.5 461.2 292.3 463.2 290 465.2 287.8 467.2 285.6 469.2 283.3 471.2 281.1 473.2 278.9 475.2 276.7 477.2 274.5 479.2 272.3 481.2 270 483.2 267.8 485.2 265.5 487.2 263.2 489.2 260.9 491.2 258.5 493.2 256.1 495.2 253.6 497.2 251.1 499.2 248.6 501.2 246 503.2 243.4 505.2 240.8 507.2 238.2 509.2 235.6 511.2 233 513.2 230.4 515.2 227.8 517.2 225.2 519.2 222.6 521.2 219.9 523.2 217.3 525.2 214.7 527.2 212 529.2 209.4 531.2 206.7 533.2 204 535.2 201.3 537.2 198.6 539.2 195.8 541.2 193.1 543.2 190.3 545.2 187.6 547.2 184.9 549.2 182.2 551.2 179.6 553.2 176.9 555.2 174.3 557.2 171.7 559.2 169.1 561.2 166.6 563.2 164 565.2 161.5 567.2 158.9 569.2 156.4 569.2 156.3 L569.2 225.1 569.2 225.1 567.2 226.3 565.2 227.6 563.2 228.8 561.2 230.1 559.2 231.5 557.2 232.8 555.2 234.2 553.2 235.6 551.2 237.1 549.2 238.6 547.2 240.1 545.2 241.7 543.2 243.4 541.2 245.1 539.2 246.8 537.2 248.5 535.2 250.2 533.2 252 531.2 253.8 529.2 255.5 527.2 257.3 525.2 259 523.2 260.8 521.2 262.5 519.2 264.3 517.2 266.1 515.2 267.9 513.2 269.6 511.2 271.4 509.2 273.3 507.2 275.1 505.2 276.9 503.2 278.8 501.2 280.7 499.2 282.6 497.2 284.5 495.2 286.4 493.2 288.2 491.2 290.1 489.2 291.9 487.2 293.7 485.2 295.5 483.2 297.3 481.2 299 479.2 300.7 477.2 302.5 475.2 304.2 473.2 305.9 471.2 307.7 469.2 309.5 467.2 311.2 465.2 313.1 463.2 314.9 461.2 316.7 459.2 318.5 457.2 320.3 455.2 322.2 453.2 323.9 451.2 325.7 449.2 327.4 447.2 329.1 445.2 330.8 443.2 332.5 441.2 334.1 439.2 335.7 437.2 337.4 435.2 339 433.2 340.6 431.2 342.2 429.2 343.9 427.2 345.5 425.2 347.2 423.2 348.9 421.2 350.5 419.2 352.2 417.2 353.8 415.2 355.4 413.2 357 411.2 358.5 409.2 359.9 407.2 361.3 405.2 362.7 403.2 364 401.2 365.3 399.2 366.6 397.2 367.9 395.2 369.1 393.2 370.3 391.2 371.4 389.2 372.5 387.2 373.6 385.2 374.7 383.2 375.7 381.2 376.7 379.2 377.6 377.2 378.6 375.2 379.5 373.2 380.3 371.2 381.2 369.2 382 367.2 382.8 365.2 383.6 363.2 384.4 361.2 385.2 359.2 386 357.2 386.7 355.2 387.4 353.2 388 351.2 388.6 349.2 389.1 347.2 389.6 345.2 390.1 343.2 390.6 341.2 391.1 339.2 391.5 337.2 391.9 335.2 392.2 333.2 392.6 331.2 392.8 329.2 393 327.2 393.2 325.2 393.4 323.2 393.6 321.2 393.7 319.2 393.9 317.2 394 315.2 394.1 313.2 394.1 311.2 394 309.2 394 307.2 393.8 305.2 393.7 303.2 393.5 301.2 393.3 299.2 393Z" fill="#2e6f9e" fill-opacity="0.38"/>
<path d="M143.2 413.7 145.2 404.6 147.2 395.7 149.2 387.1 151.2 379.3 153.2 371.9 155.2 356.2 157.2 328.8 159.2 307.7 161.2 291 163.2 285.4 165.2 282.6 167.2 281.8 169.2 281.8 171.2 281.8 173.2 284.5 175.2 287 177.2 285.8 179.2 283 181.2 278.8 183.2 271.6 185.2 267.8 187.2 273.6 189.2 284 191.2 296 193.2 308 195.2 317.6 197.2 325.6 199.2 330.8 201.2 334.7 203.2 338 205.2 340.8 207.2 343.4 209.2 345.6 211.2 347.7 213.2 349.6 215.2 351.4 217.2 353.1 219.2 354.9 221.2 356.5 223.2 358.1 225.2 359.6 227.2 361.1 229.2 362.5 231.2 363.9 233.2 365.3 235.2 366.6 237.2 368 239.2 369.4 241.2 370.7 243.2 372 245.2 373.2 247.2 374.3 249.2 375.4 251.2 376.4 253.2 377.3 255.2 378.2 257.2 379.1 259.2 380 261.2 380.8 263.2 381.5 265.2 382.2 267.2 382.9 269.2 383.5 271.2 384.1 273.2 384.8 275.2 385.4 277.2 385.9 279.2 386.5 281.2 387 283.2 387.5 285.2 387.9 287.2 388.2 289.2 388.5 291.2 388.7 293.2 388.9 295.2 389 297.2 389.2 299.2 389.3 301.2 389.5 303.2 389.6 305.2 389.7 307.2 389.7 309.2 389.8 311.2 389.7 313.2 389.7 315.2 389.6 317.2 389.4 319.2 389.2 321.2 389 323.2 388.7 325.2 388.4 327.2 388.1 329.2 387.9 331.2 387.6 333.2 387.2 335.2 386.8 337.2 386.4 339.2 385.9 341.2 385.4 343.2 384.9 345.2 384.3 347.2 383.7 349.2 383.2 351.2 382.5 353.2 381.9 355.2 381.2 357.2 380.4 359.2 379.6 361.2 378.8 363.2 377.9 365.2 377 367.2 376.2 369.2 375.3 371.2 374.3 373.2 373.4 375.2 372.4 377.2 371.5 379.2 370.4 381.2 369.4 383.2 368.3 385.2 367.2 387.2 366.1 389.2 364.9 391.2 363.7 393.2 362.5 395.2 361.3 397.2 360 399.2 358.6 401.2 357.2 403.2 355.8 405.2 354.4 407.2 352.9 409.2 351.4 411.2 349.9 413.2 348.3 415.2 346.7 417.2 345 419.2 343.2 421.2 341.4 423.2 339.7 425.2 337.9 427.2 336.1 429.2 334.3 431.2 332.6 433.2 330.8 435.2 329 437.2 327.3 439.2 325.5 441.2 323.7 443.2 321.9 445.2 320.1 447.2 318.2 449.2 316.4 451.2 314.4 453.2 312.5 455.2 310.5 457.2 308.5 459.2 306.5 461.2 304.5 463.2 302.5 465.2 300.4 467.2 298.4 469.2 296.4 471.2 294.4 473.2 292.4 475.2 290.4 477.2 288.5 479.2 286.5 481.2 284.5 483.2 282.5 485.2 280.5 487.2 278.5 489.2 276.4 491.2 274.3 493.2 272.2 495.2 270 497.2 267.8 499.2 265.6 501.2 263.3 503.2 261.1 505.2 258.9 507.2 256.7 509.2 254.4 511.2 252.2 513.2 250 515.2 247.8 517.2 245.6 519.2 243.4 521.2 241.2 523.2 239 525.2 236.8 527.2 234.6 529.2 232.4 531.2 230.2 533.2 228 535.2 225.8 537.2 223.5 539.2 221.3 541.2 219.1 543.2 216.8 545.2 214.7 547.2 212.5 549.2 210.4 551.2 208.3 553.2 206.3 555.2 204.3 557.2 202.3 559.2 200.3 561.2 198.3 563.2 196.4 565.2 194.5 567.2 192.6 569.2 190.8 569.2 190.7" stroke="#fb210e" stroke-width="7.9" stroke-linejoin="round" stroke-linecap="butt" fill="none"/>
</g>
<path d="M142.2 87H570" stroke="#2b2b2b" stroke-width="4" fill="none"/>
<path d="M142.2 572.5H570" stroke="#2b2b2b" stroke-width="3.5" fill="none"/>
<path d="M568.5 87V572.5" stroke="#2b2b2b" stroke-width="3" fill="none"/>
<path d="M143.3 87V572.5" stroke="#1c1c1c" stroke-width="2.2" fill="none"/>
<path d="M130.3 572.8H143.3M130.3 451.4H143.3M130.3 330.1H143.3M130.3 208.7H143.3M130.3 87.3H143.3M237.9 572.5V584.8M337 572.5V584.8M436.1 572.5V584.8M534.5 572.5V584.8" stroke="#333333" stroke-width="3.6" fill="none"/>
<text x="120.6" y="587.1" font-size="38.7" text-anchor="end" fill="#474747">-10</text>
<text x="120.6" y="465.7" font-size="38.7" text-anchor="end" fill="#474747">-5</text>
<text x="120.6" y="344.4" font-size="38.7" text-anchor="end" fill="#474747">0</text>
<text x="120.6" y="223" font-size="38.7" text-anchor="end" fill="#474747">5</text>
<text x="120.6" y="101.6" font-size="38.7" text-anchor="end" fill="#474747">10</text>
<text x="237.9" y="624" font-size="38.7" text-anchor="middle" fill="#474747">1000</text>
<text x="337" y="624" font-size="38.7" text-anchor="middle" fill="#474747">2000</text>
<text x="436.1" y="624" font-size="38.7" text-anchor="middle" fill="#474747">3000</text>
<text x="534.5" y="624" font-size="38.7" text-anchor="middle" fill="#474747">4000</text>
</g>
<g id="panel-b">
<clipPath id="clipb"><rect x="670.5" y="87" width="424.7" height="485.5"/></clipPath>
<rect x="670.5" y="0.6" width="424.7" height="86.4" fill="#d9d9d9" stroke="#2b2b2b" stroke-width="2.5"/>
<text x="882.2" y="64" font-size="52.4" text-anchor="middle" fill="#1a1a1a">(b) Trend.Srad</text>
<g clip-path="url(#clipb)">
<path d="M670.5 511.8H1095.2M670.5 390.4H1095.2M670.5 269.1H1095.2M670.5 147.7H1095.2M688.9 87V572.5M814.1 87V572.5M939.6 87V572.5M1065.1 87V572.5" stroke="#ebebeb" stroke-width="2" fill="none"/>
<path d="M670.5 572.5H1095.2M670.5 451.1H1095.2M670.5 329.8H1095.2M670.5 208.4H1095.2M670.5 87H1095.2M751.7 87V572.5M876.8 87V572.5M1001.9 87V572.5" stroke="#ebebeb" stroke-width="3.9" fill="none"/>
<path d="M689 485h4M691 501h4M694 441h4M694 538h4M695 459h4M699 461h4M700 466h4M702 503h4M703 470h4M704 506h4M705 448h4M708 517h4M709 454h4M710 402h4M710 404h4M710 451h4M712 418h4M713 445h4M713 467h4M713 470h4M714 439h4M716 432h4M716 552h4M719 517h4M721 447h4M721 472h4M724 430h4M729 474h4M729 518h4M732 548h4M733 415h4M734 463h4M736 495h4M738 413h4M744 527h4M747 173h4M748 453h4M750 453h4M756 454h4M757 440h4M757 461h4M758 232h4M758 466h4M759 451h4M761 439h4M765 418h4M765 555h4M766 403h4M767 442h4M769 379h4M769 406h4M774 435h4M777 335h4M777 435h4M777 447h4M778 319h4M780 350h4M781 461h4M783 413h4M786 399h4M787 460h4M788 423h4M793 382h4M793 390h4M794 412h4M795 449h4M796 424h4M796 464h4M798 406h4M798 443h4M799 395h4M801 416h4M801 445h4M802 383h4M803 446h4M803 461h4M804 413h4M804 459h4M805 461h4M805 473h4M806 326h4M806 393h4M806 397h4M806 451h4M806 454h4M806 478h4M807 405h4M807 428h4M808 388h4M808 438h4M808 448h4M808 473h4M809 393h4M810 391h4M810 402h4M810 455h4M810 463h4M810 477h4M810 493h4M811 329h4M811 385h4M811 421h4M811 437h4M811 439h4M811 447h4M812 417h4M812 432h4M812 457h4M812 460h4M812 461h4M813 344h4M813 392h4M813 393h4M813 399h4M813 404h4M813 415h4M813 416h4M813 434h4M813 441h4M813 446h4M813 477h4M814 328h4M814 391h4M814 447h4M814 451h4M814 465h4M815 234h4M815 430h4M815 431h4M815 442h4M816 383h4M816 396h4M816 414h4M816 417h4M816 442h4M816 444h4M817 387h4M817 437h4M817 457h4M818 215h4M818 304h4M818 339h4M818 480h4M819 280h4M819 359h4M819 436h4M819 440h4M819 457h4M820 287h4M820 307h4M820 431h4M821 305h4M821 361h4M821 377h4M822 281h4M822 301h4M822 344h4M822 345h4M822 355h4M822 358h4M822 397h4M823 336h4M823 361h4M823 365h4M824 288h4M824 304h4M824 344h4M824 349h4M824 443h4M825 303h4M825 355h4M826 347h4M826 355h4M826 357h4M826 388h4M826 477h4M826 489h4M827 270h4M827 297h4M827 349h4M827 358h4M828 280h4M828 295h4M828 342h4M828 351h4M828 358h4M828 360h4M828 361h4M828 412h4M828 417h4M829 316h4M829 337h4M829 343h4M829 344h4M829 346h4M829 347h4M829 348h4M829 349h4M829 354h4M829 356h4M829 360h4M829 362h4M829 363h4M829 396h4M829 422h4M830 335h4M830 343h4M830 345h4M830 347h4M830 349h4M830 352h4M830 353h4M830 363h4M830 364h4M830 367h4M830 417h4M830 418h4M831 311h4M831 324h4M831 343h4M831 345h4M831 348h4M831 350h4M831 354h4M831 356h4M831 358h4M831 360h4M831 364h4M831 365h4M831 387h4M831 420h4M831 448h4M832 338h4M832 339h4M832 347h4M832 350h4M832 352h4M832 355h4M832 357h4M832 359h4M832 364h4M832 365h4M832 367h4M832 449h4M833 282h4M833 312h4M833 324h4M833 338h4M833 342h4M833 344h4M833 345h4M833 356h4M833 358h4M833 360h4M833 366h4M833 367h4M833 370h4M833 413h4M834 258h4M834 285h4M834 289h4M834 302h4M834 303h4M834 320h4M834 344h4M834 346h4M834 352h4M834 354h4M834 355h4M834 364h4M834 366h4M834 373h4M834 426h4M835 295h4M835 298h4M835 304h4M835 335h4M835 338h4M835 342h4M835 348h4M835 354h4M835 413h4M835 445h4M836 277h4M836 326h4M836 335h4M836 336h4M836 338h4M836 340h4M836 341h4M836 350h4M836 351h4M836 355h4M836 356h4M836 357h4M836 358h4M836 361h4M836 362h4M837 278h4M837 292h4M837 305h4M837 313h4M837 321h4M837 334h4M837 344h4M837 347h4M837 350h4M837 351h4M837 356h4M837 360h4M837 361h4M837 362h4M837 364h4M837 366h4M837 367h4M837 377h4M837 383h4M837 429h4M838 288h4M838 291h4M838 311h4M838 334h4M838 336h4M838 339h4M838 340h4M838 342h4M838 343h4M838 350h4M838 351h4M838 352h4M838 355h4M838 360h4M838 361h4M838 363h4M838 409h4M839 283h4M839 288h4M839 297h4M839 300h4M839 301h4M839 305h4M839 322h4M839 334h4M839 337h4M839 340h4M839 343h4M839 356h4M839 359h4M839 365h4M839 367h4M839 368h4M839 371h4M839 416h4M840 286h4M840 292h4M840 336h4M840 339h4M840 344h4M840 347h4M840 353h4M840 354h4M840 357h4M840 358h4M840 361h4M840 363h4M840 364h4M840 365h4M840 373h4M840 447h4M841 282h4M841 283h4M841 298h4M841 299h4M841 302h4M841 310h4M841 333h4M841 334h4M841 335h4M841 336h4M841 341h4M841 345h4M841 346h4M841 352h4M841 358h4M841 360h4M841 362h4M841 366h4M841 370h4M841 371h4M842 292h4M842 294h4M842 305h4M842 314h4M842 335h4M842 337h4M842 345h4M842 346h4M842 347h4M842 349h4M842 357h4M842 364h4M842 365h4M842 367h4M842 368h4M843 288h4M843 293h4M843 298h4M843 303h4M843 304h4M843 341h4M843 345h4M843 346h4M843 353h4M843 357h4M843 362h4M843 363h4M843 368h4M843 369h4M843 372h4M843 428h4M844 286h4M844 289h4M844 303h4M844 314h4M844 315h4M844 320h4M844 332h4M844 339h4M844 348h4M844 350h4M844 351h4M844 356h4M844 358h4M844 362h4M844 363h4M844 366h4M844 369h4M844 415h4M845 267h4M845 278h4M845 287h4M845 292h4M845 294h4M845 300h4M845 307h4M845 309h4M845 328h4M845 332h4M845 337h4M845 345h4M845 350h4M845 351h4M845 357h4M845 360h4M845 366h4M845 368h4M846 274h4M846 286h4M846 294h4M846 309h4M846 312h4M846 319h4M846 325h4M846 326h4M846 331h4M846 332h4M846 335h4M846 339h4M846 341h4M846 344h4M846 346h4M846 350h4M846 351h4M846 352h4M846 353h4M846 354h4M846 360h4M846 363h4M846 370h4M846 376h4M847 276h4M847 283h4M847 286h4M847 290h4M847 306h4M847 318h4M847 324h4M847 327h4M847 331h4M847 334h4M847 338h4M847 345h4M847 349h4M847 352h4M847 356h4M847 359h4M847 361h4M847 363h4M847 372h4M848 293h4M848 300h4M848 304h4M848 316h4M848 334h4M848 337h4M848 346h4M848 352h4M848 357h4M848 371h4M848 406h4M848 473h4M849 270h4M849 285h4M849 286h4M849 289h4M849 299h4M849 306h4M849 337h4M849 338h4M849 339h4M849 342h4M849 344h4M849 346h4M849 347h4M849 349h4M849 354h4M849 355h4M849 358h4M849 360h4M849 363h4M849 368h4M849 369h4M849 370h4M849 372h4M850 270h4M850 296h4M850 303h4M850 334h4M850 339h4M850 340h4M850 343h4M850 346h4M850 348h4M850 350h4M850 351h4M850 353h4M850 356h4M850 365h4M850 367h4M850 482h4M851 279h4M851 288h4M851 310h4M851 315h4M851 316h4M851 324h4M851 334h4M851 341h4M851 343h4M851 349h4M851 350h4M851 351h4M851 354h4M851 358h4M851 362h4M851 363h4M851 364h4M851 366h4M851 401h4M852 192h4M852 286h4M852 292h4M852 294h4M852 304h4M852 308h4M852 312h4M852 313h4M852 333h4M852 334h4M852 338h4M852 340h4M852 352h4M852 354h4M852 355h4M852 362h4M852 367h4M852 371h4M852 385h4M852 394h4M853 294h4M853 298h4M853 300h4M853 303h4M853 327h4M853 328h4M853 336h4M853 338h4M853 340h4M853 341h4M853 346h4M853 348h4M853 356h4M853 361h4M853 363h4M853 367h4M853 369h4M853 371h4M853 372h4M853 388h4M853 400h4M854 312h4M854 326h4M854 334h4M854 338h4M854 349h4M854 351h4M854 359h4M854 362h4M854 395h4M854 399h4M854 400h4M854 427h4M855 291h4M855 303h4M855 328h4M855 333h4M855 336h4M855 338h4M855 340h4M855 357h4M855 362h4M855 363h4M855 364h4M855 386h4M855 389h4M855 391h4M856 287h4M856 302h4M856 311h4M856 335h4M856 343h4M856 348h4M856 352h4M856 353h4M856 358h4M856 366h4M856 367h4M856 368h4M856 386h4M856 389h4M856 390h4M856 395h4M856 396h4M856 397h4M856 398h4M856 399h4M856 406h4M857 287h4M857 293h4M857 301h4M857 306h4M857 314h4M857 322h4M857 331h4M857 339h4M857 343h4M857 349h4M857 350h4M857 352h4M857 359h4M857 360h4M857 363h4M857 367h4M857 368h4M857 369h4M857 370h4M857 371h4M857 374h4M857 382h4M857 383h4M857 389h4M857 392h4M857 396h4M857 399h4M857 402h4M857 403h4M857 410h4M857 424h4M858 303h4M858 304h4M858 316h4M858 323h4M858 332h4M858 338h4M858 340h4M858 348h4M858 350h4M858 353h4M858 354h4M858 358h4M858 361h4M858 363h4M858 368h4M858 369h4M858 374h4M858 375h4M858 376h4M858 377h4M858 379h4M858 385h4M858 389h4M858 390h4M858 399h4M858 404h4M858 405h4M858 407h4M858 418h4M859 290h4M859 291h4M859 333h4M859 335h4M859 337h4M859 338h4M859 339h4M859 342h4M859 349h4M859 350h4M859 352h4M859 353h4M859 357h4M859 359h4M859 365h4M859 372h4M859 374h4M859 381h4M859 383h4M859 387h4M859 389h4M859 390h4M859 393h4M859 394h4M859 398h4M859 400h4M859 404h4M859 418h4M859 470h4M860 287h4M860 291h4M860 313h4M860 333h4M860 335h4M860 338h4M860 350h4M860 366h4M860 368h4M860 370h4M860 371h4M860 374h4M860 377h4M860 381h4M860 382h4M860 390h4M860 391h4M860 401h4M860 403h4M860 406h4M860 418h4M861 285h4M861 313h4M861 318h4M861 336h4M861 339h4M861 341h4M861 344h4M861 346h4M861 347h4M861 353h4M861 355h4M861 364h4M861 369h4M861 373h4M861 379h4M861 383h4M861 384h4M861 393h4M861 395h4M861 396h4M861 398h4M861 399h4M861 401h4M861 413h4M861 454h4M862 290h4M862 296h4M862 307h4M862 316h4M862 332h4M862 333h4M862 334h4M862 339h4M862 345h4M862 346h4M862 352h4M862 357h4M862 362h4M862 364h4M862 368h4M862 370h4M862 371h4M862 372h4M862 375h4M862 376h4M862 391h4M862 398h4M862 399h4M862 401h4M862 403h4M862 408h4M862 413h4M862 415h4M862 462h4M862 464h4M863 295h4M863 297h4M863 298h4M863 307h4M863 319h4M863 326h4M863 334h4M863 339h4M863 347h4M863 350h4M863 352h4M863 353h4M863 361h4M863 364h4M863 365h4M863 366h4M863 367h4M863 368h4M863 369h4M863 380h4M863 383h4M863 394h4M863 396h4M863 400h4M863 408h4M863 416h4M863 426h4M863 441h4M863 471h4M863 496h4M864 333h4M864 335h4M864 337h4M864 342h4M864 346h4M864 347h4M864 348h4M864 349h4M864 353h4M864 354h4M864 359h4M864 368h4M864 369h4M864 370h4M864 374h4M864 376h4M864 377h4M864 378h4M864 379h4M864 387h4M864 393h4M864 394h4M864 396h4M864 400h4M864 404h4M864 406h4M864 407h4M864 408h4M864 412h4M864 414h4M864 417h4M864 428h4M864 442h4M864 527h4M865 300h4M865 320h4M865 333h4M865 341h4M865 342h4M865 344h4M865 348h4M865 352h4M865 354h4M865 357h4M865 358h4M865 360h4M865 362h4M865 364h4M865 365h4M865 366h4M865 367h4M865 368h4M865 371h4M865 375h4M865 379h4M865 384h4M865 395h4M865 398h4M865 400h4M865 402h4M865 403h4M865 410h4M865 413h4M865 416h4M865 419h4M865 422h4M865 425h4M865 429h4M865 432h4M865 435h4M865 462h4M865 464h4M866 281h4M866 288h4M866 290h4M866 296h4M866 313h4M866 337h4M866 338h4M866 340h4M866 344h4M866 350h4M866 356h4M866 360h4M866 361h4M866 366h4M866 378h4M866 379h4M866 380h4M866 381h4M866 385h4M866 386h4M866 390h4M866 391h4M866 398h4M866 401h4M866 402h4M866 408h4M866 435h4M866 447h4M867 298h4M867 313h4M867 314h4M867 323h4M867 332h4M867 333h4M867 335h4M867 344h4M867 345h4M867 346h4M867 351h4M867 353h4M867 356h4M867 357h4M867 360h4M867 361h4M867 362h4M867 363h4M867 365h4M867 372h4M867 375h4M867 385h4M867 389h4M867 391h4M867 402h4M867 406h4M867 410h4M867 421h4M867 424h4M867 433h4M867 434h4M867 451h4M867 468h4M867 475h4M867 477h4M868 314h4M868 320h4M868 341h4M868 348h4M868 349h4M868 357h4M868 364h4M868 370h4M868 376h4M868 377h4M868 382h4M868 393h4M868 394h4M868 395h4M868 405h4M868 407h4M868 408h4M868 410h4M868 412h4M868 413h4M868 416h4M868 427h4M868 432h4M868 434h4M868 452h4M868 463h4M868 479h4M869 306h4M869 336h4M869 339h4M869 350h4M869 357h4M869 359h4M869 360h4M869 362h4M869 365h4M869 367h4M869 372h4M869 374h4M869 377h4M869 378h4M869 382h4M869 386h4M869 390h4M869 392h4M869 393h4M869 394h4M869 399h4M869 402h4M869 405h4M869 407h4M869 413h4M869 415h4M869 416h4M869 418h4M869 421h4M869 424h4M869 428h4M869 431h4M869 449h4M869 455h4M869 466h4M870 282h4M870 339h4M870 340h4M870 343h4M870 344h4M870 347h4M870 348h4M870 349h4M870 352h4M870 357h4M870 362h4M870 363h4M870 367h4M870 371h4M870 373h4M870 374h4M870 376h4M870 379h4M870 382h4M870 388h4M870 390h4M870 391h4M870 393h4M870 394h4M870 396h4M870 399h4M870 404h4M870 407h4M870 409h4M870 410h4M870 411h4M870 416h4M870 430h4M870 442h4M870 450h4M870 452h4M870 455h4M870 457h4M870 462h4M870 467h4M871 326h4M871 338h4M871 342h4M871 346h4M871 349h4M871 350h4M871 351h4M871 358h4M871 361h4M871 362h4M871 363h4M871 364h4M871 365h4M871 366h4M871 367h4M871 368h4M871 373h4M871 374h4M871 386h4M871 387h4M871 388h4M871 393h4M871 396h4M871 400h4M871 402h4M871 405h4M871 406h4M871 409h4M871 411h4M871 416h4M871 452h4M871 477h4M872 302h4M872 339h4M872 341h4M872 342h4M872 345h4M872 357h4M872 361h4M872 365h4M872 366h4M872 367h4M872 371h4M872 374h4M872 375h4M872 381h4M872 382h4M872 385h4M872 388h4M872 392h4M872 394h4M872 396h4M872 403h4M872 405h4M872 406h4M872 414h4M872 425h4M872 469h4M873 322h4M873 323h4M873 346h4M873 349h4M873 350h4M873 358h4M873 363h4M873 365h4M873 368h4M873 370h4M873 371h4M873 375h4M873 379h4M873 384h4M873 385h4M873 386h4M873 388h4M873 391h4M873 398h4M873 400h4M873 403h4M873 407h4M873 408h4M873 409h4M873 412h4M873 437h4M874 276h4M874 303h4M874 319h4M874 327h4M874 341h4M874 342h4M874 344h4M874 347h4M874 352h4M874 353h4M874 357h4M874 358h4M874 361h4M874 365h4M874 371h4M874 374h4M874 377h4M874 379h4M874 394h4M874 397h4M874 409h4M874 410h4M874 420h4M874 421h4M875 312h4M875 315h4M875 320h4M875 342h4M875 344h4M875 356h4M875 359h4M875 371h4M875 372h4M875 377h4M875 381h4M875 383h4M875 385h4M875 391h4M875 392h4M875 395h4M875 399h4M875 409h4M875 427h4M875 467h4M876 297h4M876 332h4M876 334h4M876 336h4M876 345h4M876 349h4M876 355h4M876 356h4M876 357h4M876 359h4M876 367h4M876 375h4M876 378h4M876 382h4M876 384h4M876 386h4M876 389h4M876 394h4M876 398h4M876 402h4M876 407h4M876 411h4M876 422h4M877 307h4M877 308h4M877 310h4M877 316h4M877 317h4M877 319h4M877 322h4M877 327h4M877 329h4M877 347h4M877 348h4M877 352h4M877 356h4M877 361h4M877 365h4M877 375h4M877 377h4M877 380h4M877 381h4M877 387h4M877 390h4M877 391h4M877 395h4M877 396h4M877 407h4M877 411h4M877 425h4M878 296h4M878 304h4M878 309h4M878 311h4M878 314h4M878 316h4M878 319h4M878 320h4M878 321h4M878 322h4M878 325h4M878 334h4M878 335h4M878 337h4M878 341h4M878 343h4M878 346h4M878 351h4M878 357h4M878 376h4M878 378h4M878 388h4M878 394h4M878 399h4M878 401h4M878 406h4M878 422h4M879 302h4M879 310h4M879 312h4M879 313h4M879 315h4M879 316h4M879 319h4M879 320h4M879 322h4M879 328h4M879 332h4M879 336h4M879 347h4M879 364h4M879 367h4M879 384h4M879 388h4M879 389h4M879 401h4M879 418h4M879 421h4M879 428h4M880 304h4M880 305h4M880 306h4M880 308h4M880 309h4M880 312h4M880 315h4M880 316h4M880 322h4M880 324h4M880 325h4M880 331h4M880 333h4M880 334h4M880 336h4M880 339h4M880 343h4M880 354h4M880 355h4M880 394h4M880 419h4M881 297h4M881 298h4M881 303h4M881 307h4M881 309h4M881 310h4M881 313h4M881 317h4M881 318h4M881 322h4M881 325h4M881 331h4M881 335h4M881 346h4M881 347h4M881 355h4M881 373h4M882 297h4M882 298h4M882 300h4M882 303h4M882 307h4M882 308h4M882 313h4M882 317h4M882 319h4M882 320h4M882 322h4M882 327h4M882 328h4M882 332h4M882 336h4M882 340h4M882 341h4M882 348h4M882 359h4M882 410h4M883 289h4M883 300h4M883 302h4M883 306h4M883 326h4M883 330h4M883 331h4M883 335h4M883 343h4M883 351h4M883 352h4M883 356h4M883 363h4M884 285h4M884 289h4M884 297h4M884 298h4M884 300h4M884 305h4M884 307h4M884 314h4M884 317h4M884 331h4M884 332h4M884 335h4M884 337h4M884 352h4M884 354h4M884 358h4M885 298h4M885 301h4M885 302h4M885 304h4M885 309h4M885 312h4M885 314h4M885 322h4M885 329h4M885 335h4M885 352h4M885 362h4M886 287h4M886 292h4M886 293h4M886 299h4M886 301h4M886 303h4M886 304h4M886 305h4M886 309h4M886 310h4M886 322h4M886 326h4M886 329h4M886 336h4M886 343h4M886 345h4M886 346h4M887 297h4M887 298h4M887 312h4M887 314h4M887 315h4M887 316h4M887 317h4M887 318h4M887 319h4M887 322h4M887 323h4M887 328h4M887 330h4M887 333h4M887 334h4M887 337h4M887 338h4M887 342h4M887 345h4M887 347h4M888 287h4M888 293h4M888 295h4M888 296h4M888 298h4M888 300h4M888 301h4M888 303h4M888 305h4M888 308h4M888 328h4M888 330h4M888 333h4M888 334h4M888 335h4M888 336h4M888 337h4M888 341h4M888 342h4M888 344h4M888 346h4M888 350h4M889 295h4M889 297h4M889 302h4M889 303h4M889 305h4M889 306h4M889 313h4M889 314h4M889 315h4M889 317h4M889 318h4M889 319h4M889 320h4M889 321h4M889 327h4M889 349h4M890 292h4M890 304h4M890 308h4M890 312h4M890 319h4M890 322h4M890 323h4M890 324h4M890 325h4M890 326h4M890 327h4M890 328h4M890 331h4M890 332h4M890 334h4M890 338h4M890 343h4M890 351h4M890 352h4M890 353h4M891 277h4M891 286h4M891 289h4M891 292h4M891 299h4M891 309h4M891 314h4M891 315h4M891 325h4M891 329h4M891 330h4M891 331h4M891 332h4M891 336h4M891 339h4M891 343h4M891 346h4M891 348h4M891 352h4M891 359h4M892 282h4M892 286h4M892 294h4M892 298h4M892 299h4M892 306h4M892 309h4M892 310h4M892 311h4M892 314h4M892 317h4M892 318h4M892 326h4M892 328h4M892 332h4M892 334h4M892 337h4M892 341h4M892 343h4M892 353h4M892 356h4M893 286h4M893 287h4M893 288h4M893 289h4M893 291h4M893 296h4M893 297h4M893 298h4M893 299h4M893 308h4M893 311h4M893 312h4M893 315h4M893 318h4M893 319h4M893 321h4M893 323h4M893 324h4M893 333h4M893 335h4M893 338h4M893 339h4M893 344h4M893 351h4M893 355h4M894 285h4M894 287h4M894 292h4M894 296h4M894 301h4M894 308h4M894 310h4M894 311h4M894 314h4M894 316h4M894 322h4M894 323h4M894 324h4M894 326h4M894 327h4M894 339h4M894 343h4M894 344h4M894 347h4M894 348h4M895 284h4M895 285h4M895 289h4M895 294h4M895 296h4M895 298h4M895 301h4M895 302h4M895 310h4M895 311h4M895 312h4M895 314h4M895 317h4M895 319h4M895 321h4M895 326h4M895 330h4M895 334h4M895 336h4M895 339h4M895 347h4M895 353h4M895 357h4M895 358h4M896 284h4M896 285h4M896 287h4M896 294h4M896 295h4M896 297h4M896 299h4M896 302h4M896 304h4M896 307h4M896 309h4M896 315h4M896 319h4M896 326h4M896 327h4M896 328h4M896 333h4M896 337h4M896 341h4M896 344h4M896 351h4M896 353h4M896 354h4M896 356h4M897 283h4M897 284h4M897 290h4M897 292h4M897 294h4M897 295h4M897 299h4M897 304h4M897 305h4M897 307h4M897 309h4M897 310h4M897 314h4M897 318h4M897 319h4M897 320h4M897 323h4M897 326h4M897 339h4M897 346h4M897 349h4M897 352h4M897 353h4M897 354h4M898 267h4M898 286h4M898 289h4M898 290h4M898 298h4M898 299h4M898 313h4M898 317h4M898 318h4M898 319h4M898 323h4M898 332h4M898 337h4M898 338h4M898 339h4M898 340h4M898 343h4M898 347h4M898 352h4M898 354h4M898 364h4M899 280h4M899 281h4M899 285h4M899 286h4M899 288h4M899 292h4M899 293h4M899 296h4M899 301h4M899 305h4M899 314h4M899 328h4M899 329h4M899 332h4M899 334h4M899 337h4M899 342h4M899 344h4M899 345h4M899 349h4M899 352h4M899 353h4M899 356h4M899 358h4M899 362h4M899 364h4M900 286h4M900 288h4M900 293h4M900 297h4M900 298h4M900 300h4M900 301h4M900 303h4M900 308h4M900 311h4M900 313h4M900 314h4M900 322h4M900 323h4M900 328h4M900 330h4M900 331h4M900 335h4M900 337h4M900 338h4M900 339h4M900 341h4M900 347h4M900 350h4M900 351h4M900 356h4M900 357h4M900 361h4M901 269h4M901 283h4M901 285h4M901 286h4M901 287h4M901 290h4M901 291h4M901 294h4M901 296h4M901 297h4M901 298h4M901 302h4M901 306h4M901 308h4M901 310h4M901 314h4M901 316h4M901 319h4M901 323h4M901 327h4M901 328h4M901 329h4M901 334h4M901 338h4M901 343h4M901 347h4M901 348h4M901 351h4M901 357h4M902 283h4M902 285h4M902 288h4M902 291h4M902 292h4M902 293h4M902 296h4M902 297h4M902 300h4M902 302h4M902 304h4M902 313h4M902 319h4M902 324h4M902 325h4M902 332h4M902 338h4M902 340h4M902 342h4M902 345h4M902 349h4M902 352h4M902 359h4M902 366h4M902 371h4M903 284h4M903 286h4M903 287h4M903 300h4M903 310h4M903 312h4M903 313h4M903 314h4M903 318h4M903 320h4M903 323h4M903 324h4M903 325h4M903 326h4M903 327h4M903 332h4M903 334h4M903 335h4M903 337h4M903 340h4M903 341h4M903 345h4M903 347h4M903 350h4M903 351h4M903 353h4M903 356h4M903 359h4M903 360h4M903 363h4M903 364h4M904 283h4M904 284h4M904 285h4M904 287h4M904 288h4M904 289h4M904 297h4M904 301h4M904 314h4M904 317h4M904 318h4M904 328h4M904 329h4M904 334h4M904 337h4M904 340h4M904 343h4M904 350h4M904 352h4M904 353h4M904 358h4M904 359h4M904 360h4M905 283h4M905 289h4M905 290h4M905 293h4M905 301h4M905 303h4M905 307h4M905 313h4M905 316h4M905 321h4M905 327h4M905 333h4M905 338h4M905 348h4M905 349h4M905 350h4M905 356h4M905 357h4M905 359h4M905 367h4M906 285h4M906 287h4M906 292h4M906 293h4M906 296h4M906 297h4M906 300h4M906 304h4M906 306h4M906 311h4M906 313h4M906 314h4M906 315h4M906 321h4M906 338h4M906 346h4M906 351h4M906 353h4M906 354h4M906 358h4M906 359h4M906 366h4M907 289h4M907 291h4M907 296h4M907 297h4M907 298h4M907 301h4M907 305h4M907 306h4M907 307h4M907 315h4M907 316h4M907 321h4M907 325h4M907 326h4M907 330h4M907 333h4M907 334h4M907 335h4M907 340h4M907 347h4M907 350h4M907 352h4M907 353h4M907 357h4M907 360h4M908 282h4M908 289h4M908 295h4M908 297h4M908 299h4M908 300h4M908 303h4M908 306h4M908 307h4M908 309h4M908 314h4M908 331h4M908 333h4M908 334h4M908 338h4M908 339h4M908 345h4M908 346h4M908 348h4M908 352h4M908 356h4M908 358h4M909 289h4M909 295h4M909 298h4M909 302h4M909 310h4M909 313h4M909 316h4M909 323h4M909 325h4M909 332h4M909 333h4M909 342h4M909 347h4M909 348h4M909 350h4M909 358h4M909 366h4M910 281h4M910 287h4M910 291h4M910 294h4M910 297h4M910 305h4M910 310h4M910 312h4M910 313h4M910 317h4M910 321h4M910 322h4M910 323h4M910 326h4M910 327h4M910 332h4M910 335h4M910 340h4M910 345h4M910 347h4M910 349h4M910 353h4M910 355h4M910 361h4M911 143h4M911 279h4M911 284h4M911 286h4M911 289h4M911 290h4M911 299h4M911 305h4M911 307h4M911 308h4M911 309h4M911 315h4M911 318h4M911 326h4M911 338h4M911 341h4M911 343h4M911 346h4M911 347h4M911 355h4M911 356h4M911 358h4M911 359h4M911 360h4M911 364h4M912 282h4M912 284h4M912 289h4M912 294h4M912 298h4M912 303h4M912 305h4M912 310h4M912 311h4M912 321h4M912 323h4M912 336h4M912 337h4M912 338h4M912 344h4M912 345h4M912 347h4M912 350h4M912 351h4M912 353h4M912 355h4M912 357h4M912 359h4M912 360h4M912 364h4M913 207h4M913 281h4M913 286h4M913 288h4M913 299h4M913 301h4M913 302h4M913 308h4M913 311h4M913 315h4M913 321h4M913 323h4M913 328h4M913 330h4M913 333h4M913 336h4M913 342h4M913 343h4M913 344h4M913 348h4M913 352h4M913 355h4M913 357h4M913 358h4M913 362h4M913 443h4M914 284h4M914 286h4M914 288h4M914 289h4M914 290h4M914 292h4M914 293h4M914 296h4M914 299h4M914 301h4M914 303h4M914 304h4M914 305h4M914 307h4M914 308h4M914 313h4M914 316h4M914 324h4M914 327h4M914 331h4M914 334h4M914 345h4M914 349h4M914 358h4M914 359h4M915 281h4M915 286h4M915 289h4M915 291h4M915 293h4M915 298h4M915 305h4M915 307h4M915 308h4M915 311h4M915 313h4M915 317h4M915 324h4M915 330h4M915 333h4M915 337h4M915 339h4M915 341h4M915 344h4M915 348h4M915 350h4M915 351h4M915 352h4M915 355h4M915 358h4M915 359h4M916 284h4M916 286h4M916 293h4M916 294h4M916 297h4M916 300h4M916 304h4M916 307h4M916 317h4M916 331h4M916 332h4M916 333h4M916 334h4M916 336h4M916 339h4M916 345h4M916 349h4M916 350h4M916 351h4M916 353h4M916 354h4M916 356h4M916 359h4M917 273h4M917 280h4M917 281h4M917 285h4M917 288h4M917 293h4M917 294h4M917 297h4M917 300h4M917 301h4M917 302h4M917 306h4M917 308h4M917 309h4M917 315h4M917 320h4M917 321h4M917 322h4M917 324h4M917 328h4M917 331h4M917 332h4M917 333h4M917 341h4M917 342h4M917 343h4M917 347h4M917 352h4M918 290h4M918 295h4M918 296h4M918 297h4M918 304h4M918 315h4M918 325h4M918 326h4M918 330h4M918 334h4M918 339h4M918 341h4M918 342h4M918 346h4M918 350h4M918 351h4M918 355h4M919 282h4M919 289h4M919 292h4M919 295h4M919 296h4M919 311h4M919 314h4M919 319h4M919 325h4M919 327h4M919 328h4M919 331h4M919 338h4M919 341h4M919 343h4M919 348h4M919 349h4M919 354h4M919 355h4M919 357h4M919 367h4M920 285h4M920 286h4M920 287h4M920 289h4M920 293h4M920 294h4M920 296h4M920 300h4M920 303h4M920 305h4M920 309h4M920 311h4M920 313h4M920 314h4M920 315h4M920 318h4M920 322h4M920 323h4M920 327h4M920 331h4M920 337h4M920 338h4M920 340h4M920 343h4M920 344h4M920 346h4M920 348h4M920 349h4M920 352h4M920 354h4M920 358h4M921 287h4M921 296h4M921 299h4M921 301h4M921 311h4M921 317h4M921 319h4M921 325h4M921 333h4M921 338h4M921 339h4M921 340h4M921 344h4M921 345h4M921 348h4M921 350h4M921 351h4M921 352h4M921 354h4M922 293h4M922 295h4M922 298h4M922 300h4M922 304h4M922 306h4M922 307h4M922 308h4M922 313h4M922 316h4M922 323h4M922 324h4M922 327h4M922 331h4M922 346h4M922 349h4M922 354h4M922 363h4M923 201h4M923 294h4M923 300h4M923 301h4M923 303h4M923 306h4M923 311h4M923 315h4M923 317h4M923 320h4M923 321h4M923 323h4M923 324h4M923 330h4M923 333h4M923 335h4M923 336h4M923 340h4M923 342h4M923 343h4M923 347h4M923 351h4M924 289h4M924 290h4M924 293h4M924 298h4M924 299h4M924 302h4M924 303h4M924 308h4M924 313h4M924 317h4M924 319h4M924 320h4M924 329h4M924 337h4M924 340h4M924 348h4M924 350h4M924 352h4M925 295h4M925 303h4M925 306h4M925 315h4M925 318h4M925 320h4M925 322h4M925 324h4M925 328h4M925 330h4M925 331h4M925 336h4M925 337h4M925 343h4M925 344h4M925 352h4M925 368h4M926 239h4M926 280h4M926 293h4M926 295h4M926 298h4M926 302h4M926 303h4M926 316h4M926 317h4M926 318h4M926 320h4M926 328h4M926 333h4M926 334h4M926 336h4M926 342h4M926 346h4M926 348h4M926 350h4M927 295h4M927 301h4M927 309h4M927 312h4M927 314h4M927 323h4M927 328h4M927 336h4M927 339h4M927 340h4M927 341h4M927 343h4M927 348h4M927 350h4M927 355h4M927 361h4M928 297h4M928 299h4M928 303h4M928 308h4M928 311h4M928 313h4M928 316h4M928 320h4M928 321h4M928 323h4M928 324h4M928 329h4M928 330h4M928 336h4M928 337h4M928 338h4M928 347h4M928 348h4M928 354h4M929 222h4M929 233h4M929 276h4M929 282h4M929 291h4M929 293h4M929 294h4M929 295h4M929 297h4M929 308h4M929 310h4M929 313h4M929 315h4M929 316h4M929 319h4M929 320h4M929 323h4M929 326h4M929 328h4M929 330h4M929 331h4M929 340h4M929 346h4M929 347h4M930 277h4M930 292h4M930 294h4M930 296h4M930 299h4M930 300h4M930 301h4M930 319h4M930 320h4M930 323h4M930 324h4M930 326h4M930 327h4M930 330h4M930 331h4M930 339h4M930 342h4M930 344h4M930 347h4M931 195h4M931 206h4M931 211h4M931 218h4M931 221h4M931 241h4M931 266h4M931 279h4M931 299h4M931 305h4M931 314h4M931 322h4M931 331h4M931 336h4M931 339h4M931 353h4M932 203h4M932 205h4M932 206h4M932 214h4M932 215h4M932 217h4M932 242h4M932 244h4M932 247h4M932 248h4M932 257h4M932 275h4M932 291h4M932 298h4M932 301h4M932 313h4M932 315h4M932 316h4M932 321h4M932 325h4M932 330h4M932 340h4M933 184h4M933 200h4M933 201h4M933 204h4M933 209h4M933 222h4M933 230h4M933 234h4M933 238h4M933 246h4M933 247h4M933 251h4M933 252h4M933 253h4M933 258h4M933 259h4M933 261h4M933 283h4M933 284h4M933 294h4M933 300h4M933 303h4M933 309h4M933 310h4M933 313h4M933 314h4M933 324h4M933 326h4M933 327h4M933 330h4M933 331h4M933 333h4M933 338h4M934 109h4M934 194h4M934 199h4M934 201h4M934 206h4M934 207h4M934 209h4M934 215h4M934 217h4M934 218h4M934 219h4M934 220h4M934 227h4M934 239h4M934 240h4M934 241h4M934 242h4M934 243h4M934 246h4M934 253h4M934 257h4M934 259h4M934 264h4M934 268h4M934 273h4M934 274h4M934 276h4M934 310h4M934 315h4M934 322h4M934 326h4M934 332h4M934 334h4M934 341h4M934 346h4M935 147h4M935 160h4M935 184h4M935 192h4M935 195h4M935 197h4M935 198h4M935 199h4M935 210h4M935 211h4M935 213h4M935 218h4M935 221h4M935 222h4M935 223h4M935 225h4M935 227h4M935 228h4M935 233h4M935 235h4M935 239h4M935 240h4M935 241h4M935 242h4M935 243h4M935 244h4M935 252h4M935 254h4M935 257h4M935 258h4M935 259h4M935 261h4M935 262h4M935 263h4M935 267h4M935 271h4M935 272h4M935 273h4M935 274h4M935 277h4M935 279h4M935 312h4M935 315h4M935 318h4M935 323h4M935 325h4M935 328h4M935 329h4M935 332h4M935 334h4M936 135h4M936 153h4M936 196h4M936 198h4M936 201h4M936 203h4M936 205h4M936 206h4M936 207h4M936 208h4M936 211h4M936 212h4M936 215h4M936 220h4M936 222h4M936 225h4M936 226h4M936 230h4M936 231h4M936 232h4M936 234h4M936 236h4M936 242h4M936 245h4M936 247h4M936 249h4M936 250h4M936 256h4M936 257h4M936 260h4M936 261h4M936 262h4M936 263h4M936 264h4M936 267h4M936 268h4M936 269h4M936 270h4M936 272h4M936 273h4M936 274h4M936 275h4M936 276h4M936 278h4M936 310h4M936 317h4M936 319h4M936 325h4M936 350h4M937 125h4M937 133h4M937 195h4M937 197h4M937 199h4M937 200h4M937 201h4M937 202h4M937 204h4M937 207h4M937 210h4M937 211h4M937 213h4M937 214h4M937 215h4M937 216h4M937 217h4M937 221h4M937 222h4M937 224h4M937 226h4M937 227h4M937 230h4M937 233h4M937 236h4M937 242h4M937 243h4M937 246h4M937 247h4M937 252h4M937 253h4M937 256h4M937 258h4M937 259h4M937 260h4M937 264h4M937 265h4M937 266h4M937 267h4M937 268h4M937 270h4M937 271h4M937 272h4M937 273h4M937 274h4M937 279h4M937 301h4M937 307h4M937 309h4M937 313h4M937 314h4M937 318h4M937 322h4M937 353h4M938 104h4M938 148h4M938 151h4M938 153h4M938 158h4M938 164h4M938 168h4M938 189h4M938 197h4M938 200h4M938 205h4M938 210h4M938 212h4M938 217h4M938 221h4M938 222h4M938 225h4M938 231h4M938 233h4M938 235h4M938 236h4M938 238h4M938 239h4M938 241h4M938 244h4M938 245h4M938 248h4M938 253h4M938 257h4M938 260h4M938 267h4M938 268h4M938 270h4M938 273h4M938 275h4M938 276h4M938 277h4M938 302h4M938 307h4M938 330h4M938 347h4M939 106h4M939 132h4M939 141h4M939 149h4M939 150h4M939 184h4M939 193h4M939 194h4M939 195h4M939 197h4M939 198h4M939 205h4M939 208h4M939 210h4M939 211h4M939 212h4M939 215h4M939 216h4M939 217h4M939 221h4M939 242h4M939 255h4M939 257h4M939 264h4M939 266h4M939 270h4M940 157h4M940 176h4M940 184h4M940 202h4M940 210h4M940 222h4M940 223h4M940 232h4M940 233h4M940 243h4M940 245h4M940 249h4M940 251h4M940 252h4M940 255h4M940 260h4M940 261h4M940 263h4M940 269h4M940 274h4M940 276h4M940 305h4M940 332h4M941 212h4M941 216h4M941 224h4M941 241h4M941 246h4M941 251h4M941 253h4M941 255h4M941 268h4M941 273h4M941 306h4M941 307h4M942 292h4M942 301h4M943 224h4M943 256h4M943 293h4M943 303h4M943 314h4M944 212h4M944 222h4M944 290h4M944 305h4M945 291h4M945 294h4M946 289h4M946 319h4M947 297h4M948 290h4M948 301h4M948 311h4M948 314h4M949 292h4M949 306h4M950 121h4M950 259h4M950 279h4M950 295h4M950 315h4M951 187h4M951 228h4M951 239h4M951 322h4M952 217h4M952 287h4M952 292h4M952 298h4M952 331h4M952 336h4M953 268h4M953 314h4M953 318h4M954 223h4M954 253h4M954 277h4M954 293h4M954 299h4M954 304h4M954 309h4M954 312h4M955 225h4M955 226h4M955 272h4M955 282h4M955 309h4M956 265h4M956 283h4M956 293h4M956 299h4M956 302h4M956 303h4M956 306h4M957 301h4M957 305h4M957 315h4M957 316h4M957 320h4M958 231h4M958 245h4M958 274h4M958 278h4M958 287h4M958 289h4M958 304h4M958 311h4M958 320h4M958 328h4M958 334h4M959 287h4M959 291h4M959 302h4M960 247h4M960 252h4M960 290h4M961 300h4M961 307h4M961 309h4M961 310h4M961 321h4M961 323h4M962 213h4M962 240h4M962 277h4M962 289h4M962 296h4M962 303h4M962 305h4M962 308h4M963 315h4M963 324h4M963 326h4M964 263h4M964 294h4M964 300h4M964 314h4M966 241h4M966 298h4M966 314h4M966 319h4M967 125h4M967 198h4M967 208h4M967 223h4M967 239h4M967 249h4M967 282h4M967 287h4M968 252h4M968 273h4M968 274h4M968 287h4M968 288h4M968 300h4M969 228h4M969 274h4M969 309h4M970 241h4M970 258h4M970 305h4M970 308h4M970 313h4M970 325h4M971 282h4M971 293h4M971 307h4M972 224h4M972 240h4M972 286h4M972 288h4M972 306h4M972 307h4M973 231h4M973 284h4M973 290h4M973 293h4M973 299h4M973 311h4M973 322h4M974 239h4M974 282h4M974 284h4M974 296h4M974 308h4M975 226h4M975 261h4M975 281h4M975 303h4M976 261h4M976 301h4M976 312h4M976 327h4M977 313h4M978 291h4M978 292h4M978 293h4M979 314h4M980 317h4M981 278h4M981 304h4M981 311h4M981 312h4M982 145h4M982 268h4M982 280h4M982 291h4M982 294h4M982 296h4M982 297h4M982 305h4M982 328h4M983 274h4M983 280h4M983 293h4M983 299h4M984 299h4M984 300h4M984 307h4M984 311h4M984 313h4M984 328h4M985 229h4M985 252h4M985 275h4M985 280h4M985 283h4M985 291h4M985 303h4M986 208h4M986 303h4M986 305h4M986 311h4M986 316h4M987 229h4M987 300h4M987 324h4M987 327h4M988 249h4M988 305h4M988 314h4M989 224h4M989 308h4M989 317h4M990 295h4M990 309h4M990 323h4M991 218h4M991 337h4M992 231h4M992 283h4M993 293h4M994 186h4M994 219h4M994 244h4M994 274h4M994 296h4M994 327h4M995 261h4M995 273h4M996 299h4M997 203h4M997 304h4M997 310h4M998 214h4M998 297h4M998 309h4M998 317h4M998 319h4M999 205h4M999 213h4M999 216h4M999 267h4M1000 216h4M1000 236h4M1000 239h4M1001 201h4M1001 227h4M1001 277h4M1002 211h4M1002 221h4M1002 268h4M1002 276h4M1002 278h4M1003 218h4M1003 252h4M1003 261h4M1003 262h4M1003 266h4M1003 278h4M1004 275h4M1004 286h4M1004 314h4M1005 252h4M1005 307h4M1006 209h4M1006 277h4M1007 252h4M1007 262h4M1007 278h4M1008 302h4M1009 309h4M1010 194h4M1011 206h4M1012 144h4M1013 292h4M1014 282h4M1017 230h4M1019 229h4M1019 236h4M1020 308h4M1021 254h4M1021 258h4M1022 186h4M1043 288h4M1046 228h4M1046 230h4M1047 247h4M1051 236h4M1052 146h4M1052 221h4M1055 250h4M1057 289h4M1061 171h4M1064 274h4M1069 174h4M1070 172h4M1070 253h4M1075 286h4M1077 176h4M1079 285h4M1081 169h4M1083 146h4M1083 270h4M1088 174h4" stroke="#959595" stroke-width="4" fill="none"/>
<path d="M670.5 329.8H1095.2" stroke="#000" stroke-width="1.4"/>
<path d="M670.2 451.7 672.2 450.4 674.2 449.1 676.2 447.8 678.2 446.5 680.2 445.2 682.2 443.9 684.2 442.6 686.2 441.4 688.2 440.1 690.2 438.8 692.2 437.5 694.2 436.3 696.2 435 698.2 433.8 700.2 432.5 702.2 431.3 704.2 430 706.2 428.8 708.2 427.6 710.2 426.4 712.2 425.1 714.2 423.9 716.2 422.7 718.2 421.5 720.2 420.3 722.2 419.1 724.2 417.9 726.2 416.7 728.2 415.5 730.2 414.3 732.2 413 734.2 411.8 736.2 410.6 738.2 409.4 740.2 408.2 742.2 407 744.2 405.8 746.2 404.6 748.2 403.4 750.2 402.2 752.2 401 754.2 399.8 756.2 398.6 758.2 397.5 760.2 396.3 762.2 395.1 764.2 394 766.2 392.8 768.2 391.6 770.2 390.5 772.2 389.3 774.2 388.1 776.2 387 L776.2 393.4 774.2 394.7 772.2 396 770.2 397.3 768.2 398.6 766.2 399.9 764.2 401.3 762.2 402.7 760.2 404.1 758.2 405.5 756.2 406.9 754.2 408.3 752.2 409.8 750.2 411.3 748.2 412.7 746.2 414.2 744.2 415.8 742.2 417.3 740.2 418.8 738.2 420.4 736.2 421.9 734.2 423.5 732.2 425.1 730.2 426.8 728.2 428.5 726.2 430.2 724.2 431.9 722.2 433.6 720.2 435.4 718.2 437.2 716.2 439 714.2 440.8 712.2 442.6 710.2 444.5 708.2 446.4 706.2 448.2 704.2 450.1 702.2 452 700.2 453.9 698.2 455.8 696.2 457.6 694.2 459.6 692.2 461.5 690.2 463.4 688.2 465.4 686.2 467.4 684.2 469.4 682.2 471.4 680.2 473.4 678.2 475.4 676.2 477.5 674.2 479.5 672.2 481.6 670.2 483.7Z" fill="#2e6f9e" fill-opacity="0.38"/>
<path d="M1018.2 238.4 1020.2 238.1 1022.2 237.8 1024.2 237.4 1026.2 237.1 1028.2 236.8 1030.2 236.4 1032.2 236.1 1034.2 235.9 1036.2 235.6 1038.2 235.4 1040.2 235.2 1042.2 235 1044.2 234.8 1046.2 234.6 1048.2 234.4 1050.2 234.1 1052.2 233.9 1054.2 233.7 1056.2 233.6 1058.2 233.5 1060.2 233.4 1062.2 233.4 1064.2 233.4 1066.2 233.4 1068.2 233.4 1070.2 233.4 1072.2 233.4 1074.2 233.4 1076.2 233.5 1078.2 233.5 1080.2 233.5 1082.2 233.5 1084.2 233.6 1086.2 233.6 1088.2 233.6 1090.2 233.7 1092.2 233.7 1094.2 233.8 1096.2 233.9 1096.2 233.9 L1096.2 269 1096.2 269 1094.2 268 1092.2 266.9 1090.2 265.9 1088.2 265 1086.2 264 1084.2 263.1 1082.2 262.2 1080.2 261.3 1078.2 260.5 1076.2 259.6 1074.2 258.9 1072.2 258.1 1070.2 257.4 1068.2 256.6 1066.2 255.9 1064.2 255.2 1062.2 254.6 1060.2 253.9 1058.2 253.2 1056.2 252.6 1054.2 251.9 1052.2 251.3 1050.2 250.6 1048.2 250 1046.2 249.3 1044.2 248.7 1042.2 248.1 1040.2 247.6 1038.2 247.1 1036.2 246.7 1034.2 246.3 1032.2 246 1030.2 245.8 1028.2 245.6 1026.2 245.4 1024.2 245.3 1022.2 245.2 1020.2 245.1 1018.2 245.1Z" fill="#2e6f9e" fill-opacity="0.38"/>
<path d="M670.2 467.7 672.2 466 674.2 464.3 676.2 462.6 678.2 461 680.2 459.3 682.2 457.6 684.2 456 686.2 454.4 688.2 452.7 690.2 451.1 692.2 449.5 694.2 447.9 696.2 446.3 698.2 444.8 700.2 443.2 702.2 441.6 704.2 440.1 706.2 438.5 708.2 437 710.2 435.4 712.2 433.9 714.2 432.4 716.2 430.9 718.2 429.3 720.2 427.8 722.2 426.4 724.2 424.9 726.2 423.4 728.2 422 730.2 420.5 732.2 419.1 734.2 417.7 736.2 416.3 738.2 414.9 740.2 413.5 742.2 412.1 744.2 410.8 746.2 409.4 748.2 408.1 750.2 406.7 752.2 405.4 754.2 404.1 756.2 402.8 758.2 401.5 760.2 400.2 762.2 398.9 764.2 397.6 766.2 396.4 768.2 395.1 770.2 393.9 772.2 392.6 774.2 391.4 776.2 390.2 778.2 389 780.2 387.8 782.2 386.6 784.2 385.4 786.2 384.2 788.2 383.1 790.2 381.9 792.2 380.8 794.2 379.6 796.2 378.5 798.2 377.4 800.2 376.3 802.2 375.2 804.2 374.1 806.2 373.1 808.2 372 810.2 371 812.2 370 814.2 369 816.2 368 818.2 367 820.2 366.1 822.2 365.1 824.2 364.1 826.2 363.1 828.2 362.1 830.2 361.1 832.2 360.1 834.2 359.1 836.2 358 838.2 357 840.2 356 842.2 355 844.2 354.1 846.2 353.1 848.2 352 850.2 350.9 852.2 349.9 854.2 349.2 856.2 349 858.2 349.4 860.2 350.2 862.2 351.4 864.2 353.2 866.2 356.7 868.2 360.5 870.2 362.8 872.2 363 874.2 363 876.2 363 878.2 362.6 880.2 356 882.2 346.4 884.2 338.1 886.2 328.9 888.2 322.5 890.2 321.2 892.2 320.6 894.2 321 896.2 322.5 898.2 324.2 900.2 325.5 902.2 326.9 904.2 327.7 906.2 327.7 908.2 327.5 910.2 327.1 912.2 326.4 914.2 324.6 916.2 322.2 918.2 319.4 920.2 316.6 922.2 314 924.2 311.3 926.2 308.5 928.2 305.6 930.2 302.7 932.2 299.9 934.2 297.1 936.2 294.3 938.2 291.6 940.2 288.8 942.2 286.1 944.2 283.5 946.2 280.9 948.2 278.5 950.2 276.2 952.2 274 954.2 271.8 956.2 269.7 958.2 267.7 960.2 265.8 962.2 264 964.2 262.3 966.2 260.8 968.2 259.4 970.2 258 972.2 256.7 974.2 255.5 976.2 254.3 978.2 253.2 980.2 252.2 982.2 251.1 984.2 250 986.2 249 988.2 247.9 990.2 247 992.2 246.1 994.2 245.4 996.2 244.8 998.2 244.4 1000.2 244 1002.2 243.6 1004.2 243.3 1006.2 243 1008.2 242.7 1010.2 242.5 1012.2 242.3 1014.2 242.1 1016.2 241.9 1018.2 241.8 1020.2 241.6 1022.2 241.5 1024.2 241.4 1026.2 241.2 1028.2 241.2 1030.2 241.1 1032.2 241.1 1034.2 241.1 1036.2 241.1 1038.2 241.2 1040.2 241.4 1042.2 241.6 1044.2 241.7 1046.2 241.9 1048.2 242.2 1050.2 242.4 1052.2 242.6 1054.2 242.8 1056.2 243.1 1058.2 243.4 1060.2 243.7 1062.2 244 1064.2 244.3 1066.2 244.7 1068.2 245 1070.2 245.4 1072.2 245.8 1074.2 246.2 1076.2 246.6 1078.2 247 1080.2 247.4 1082.2 247.9 1084.2 248.3 1086.2 248.8 1088.2 249.3 1090.2 249.8 1092.2 250.3 1094.2 250.9 1096.2 251.4 1096.2 251.5" stroke="#fb210e" stroke-width="7.9" stroke-linejoin="round" stroke-linecap="butt" fill="none"/>
</g>
<path d="M669.4 87H1096.7" stroke="#2b2b2b" stroke-width="4" fill="none"/>
<path d="M669.4 572.5H1096.7" stroke="#2b2b2b" stroke-width="3.5" fill="none"/>
<path d="M1095.2 87V572.5" stroke="#2b2b2b" stroke-width="3" fill="none"/>
<path d="M670.5 87V572.5" stroke="#1c1c1c" stroke-width="2.2" fill="none"/>
<path d="M657.5 572.8H670.5M657.5 451.4H670.5M657.5 330.1H670.5M657.5 208.7H670.5M657.5 87.3H670.5M751.7 572.5V584.8M876.8 572.5V584.8M1001.9 572.5V584.8" stroke="#333333" stroke-width="3.6" fill="none"/>
<text x="647.8" y="587.1" font-size="38.7" text-anchor="end" fill="#474747">-10</text>
<text x="647.8" y="465.7" font-size="38.7" text-anchor="end" fill="#474747">-5</text>
<text x="647.8" y="344.4" font-size="38.7" text-anchor="end" fill="#474747">0</text>
<text x="647.8" y="223" font-size="38.7" text-anchor="end" fill="#474747">5</text>
<text x="647.8" y="101.6" font-size="38.7" text-anchor="end" fill="#474747">10</text>
<text x="751.7" y="624" font-size="38.7" text-anchor="middle" fill="#474747">-0.5</text>
<text x="876.8" y="624" font-size="38.7" text-anchor="middle" fill="#474747">0.0</text>
<text x="1001.9" y="624" font-size="38.7" text-anchor="middle" fill="#474747">0.5</text>
</g>
<g id="panel-c">
<clipPath id="clipc"><rect x="1198.2" y="87" width="424.8" height="485.5"/></clipPath>
<rect x="1198.2" y="0.6" width="424.8" height="86.4" fill="#d9d9d9" stroke="#2b2b2b" stroke-width="2.5"/>
<text x="1410" y="64" font-size="52.4" text-anchor="middle" fill="#1a1a1a">(c) Trend.PDSI</text>
<g clip-path="url(#clipc)">
<path d="M1198.2 511.8H1623M1198.2 390.4H1623M1198.2 269.1H1623M1198.2 147.7H1623M1225.9 87V572.5M1314.3 87V572.5M1402.6 87V572.5M1490.9 87V572.5M1579.3 87V572.5" stroke="#ebebeb" stroke-width="2" fill="none"/>
<path d="M1198.2 572.5H1623M1198.2 451.1H1623M1198.2 329.8H1623M1198.2 208.4H1623M1198.2 87H1623M1269.9 87V572.5M1358.6 87V572.5M1447 87V572.5M1534.9 87V572.5M1623.2 87V572.5" stroke="#ebebeb" stroke-width="3.9" fill="none"/>
<path d="M1209 113h4M1212 233h4M1216 93h4M1220 300h4M1223 231h4M1224 317h4M1242 249h4M1259 274h4M1270 263h4M1277 258h4M1278 239h4M1280 221h4M1281 295h4M1283 248h4M1283 314h4M1285 120h4M1289 131h4M1290 107h4M1290 167h4M1291 251h4M1293 174h4M1294 215h4M1294 251h4M1296 109h4M1296 184h4M1296 192h4M1296 196h4M1296 267h4M1297 182h4M1297 192h4M1297 218h4M1297 219h4M1297 229h4M1298 170h4M1298 189h4M1298 215h4M1299 183h4M1299 201h4M1299 215h4M1300 177h4M1300 191h4M1300 226h4M1300 291h4M1301 188h4M1301 210h4M1301 217h4M1301 227h4M1301 236h4M1301 241h4M1301 244h4M1302 178h4M1302 247h4M1303 157h4M1303 207h4M1303 212h4M1303 219h4M1303 220h4M1303 246h4M1303 287h4M1303 288h4M1304 176h4M1304 194h4M1304 200h4M1304 234h4M1304 244h4M1304 286h4M1305 158h4M1305 169h4M1305 196h4M1305 213h4M1305 216h4M1305 299h4M1306 181h4M1306 224h4M1306 231h4M1307 178h4M1307 198h4M1307 212h4M1307 266h4M1307 296h4M1307 358h4M1308 106h4M1308 196h4M1308 232h4M1308 251h4M1309 170h4M1309 219h4M1309 252h4M1309 257h4M1309 288h4M1310 131h4M1310 187h4M1310 273h4M1311 203h4M1311 211h4M1311 213h4M1311 243h4M1311 254h4M1311 276h4M1312 163h4M1312 206h4M1312 208h4M1312 227h4M1312 236h4M1312 239h4M1312 265h4M1313 200h4M1313 231h4M1313 254h4M1313 262h4M1314 134h4M1314 229h4M1314 233h4M1314 235h4M1314 238h4M1314 239h4M1315 184h4M1315 199h4M1315 224h4M1315 240h4M1315 247h4M1315 336h4M1316 195h4M1316 229h4M1316 330h4M1317 166h4M1317 172h4M1317 189h4M1317 194h4M1317 238h4M1318 149h4M1318 345h4M1319 143h4M1319 151h4M1319 172h4M1319 181h4M1319 195h4M1319 217h4M1319 241h4M1320 114h4M1320 216h4M1320 230h4M1320 232h4M1320 252h4M1320 356h4M1321 105h4M1321 160h4M1321 167h4M1321 174h4M1321 201h4M1321 212h4M1321 224h4M1321 240h4M1321 250h4M1322 190h4M1322 261h4M1322 363h4M1323 171h4M1323 203h4M1323 225h4M1323 243h4M1323 357h4M1324 145h4M1324 199h4M1324 239h4M1324 242h4M1325 196h4M1325 204h4M1325 253h4M1325 257h4M1325 348h4M1325 384h4M1326 221h4M1327 249h4M1327 270h4M1328 243h4M1328 252h4M1328 256h4M1329 159h4M1329 185h4M1329 206h4M1329 234h4M1329 235h4M1330 201h4M1330 217h4M1330 221h4M1330 254h4M1330 367h4M1330 372h4M1331 202h4M1332 227h4M1332 233h4M1332 239h4M1332 273h4M1333 221h4M1333 247h4M1333 345h4M1334 176h4M1334 241h4M1334 261h4M1334 287h4M1334 290h4M1334 347h4M1334 361h4M1334 401h4M1335 131h4M1335 207h4M1335 273h4M1335 301h4M1335 352h4M1335 355h4M1335 378h4M1336 177h4M1336 255h4M1336 335h4M1336 361h4M1337 184h4M1337 195h4M1337 261h4M1337 271h4M1337 286h4M1338 251h4M1338 259h4M1338 307h4M1338 371h4M1338 391h4M1339 278h4M1339 331h4M1339 350h4M1339 532h4M1340 243h4M1340 267h4M1340 289h4M1340 346h4M1340 356h4M1341 229h4M1341 261h4M1341 268h4M1341 373h4M1342 241h4M1342 283h4M1342 346h4M1342 392h4M1343 282h4M1344 260h4M1344 322h4M1344 396h4M1345 139h4M1345 283h4M1345 321h4M1345 352h4M1345 354h4M1345 365h4M1346 196h4M1346 278h4M1346 313h4M1346 338h4M1346 351h4M1347 280h4M1347 362h4M1347 364h4M1347 375h4M1348 240h4M1348 246h4M1348 316h4M1349 278h4M1349 348h4M1349 506h4M1350 243h4M1350 254h4M1350 259h4M1350 282h4M1350 283h4M1350 288h4M1350 289h4M1350 297h4M1350 302h4M1350 316h4M1350 332h4M1350 349h4M1350 397h4M1351 215h4M1351 237h4M1351 245h4M1351 264h4M1351 271h4M1351 282h4M1351 286h4M1351 305h4M1351 336h4M1351 362h4M1352 283h4M1352 284h4M1352 285h4M1352 295h4M1352 297h4M1352 341h4M1353 204h4M1353 236h4M1353 237h4M1353 266h4M1353 268h4M1353 280h4M1353 286h4M1353 302h4M1353 304h4M1353 307h4M1353 332h4M1353 363h4M1353 374h4M1353 383h4M1354 251h4M1354 279h4M1354 281h4M1354 288h4M1354 299h4M1354 313h4M1354 318h4M1354 378h4M1354 381h4M1355 189h4M1355 212h4M1355 243h4M1355 262h4M1355 274h4M1355 291h4M1355 308h4M1355 325h4M1355 407h4M1356 279h4M1356 322h4M1356 329h4M1357 199h4M1357 267h4M1357 273h4M1357 279h4M1357 284h4M1357 285h4M1357 286h4M1357 291h4M1357 298h4M1357 302h4M1357 309h4M1357 357h4M1357 360h4M1357 365h4M1358 233h4M1358 258h4M1358 265h4M1358 313h4M1359 287h4M1359 290h4M1359 300h4M1359 306h4M1359 344h4M1359 351h4M1360 272h4M1360 282h4M1360 296h4M1360 306h4M1360 313h4M1360 318h4M1360 326h4M1360 328h4M1360 379h4M1360 398h4M1360 422h4M1361 242h4M1361 251h4M1361 267h4M1361 277h4M1361 283h4M1361 284h4M1361 287h4M1361 293h4M1361 296h4M1361 297h4M1361 304h4M1361 305h4M1361 323h4M1361 353h4M1362 247h4M1362 269h4M1362 278h4M1362 288h4M1362 295h4M1362 299h4M1362 301h4M1362 302h4M1362 331h4M1362 347h4M1362 355h4M1362 366h4M1362 423h4M1363 264h4M1363 267h4M1363 282h4M1363 286h4M1363 287h4M1363 291h4M1363 297h4M1363 303h4M1363 304h4M1363 307h4M1363 348h4M1363 352h4M1363 389h4M1364 258h4M1364 264h4M1364 284h4M1364 292h4M1364 295h4M1364 299h4M1364 300h4M1364 305h4M1364 315h4M1365 237h4M1365 248h4M1365 252h4M1365 270h4M1365 283h4M1365 296h4M1365 304h4M1365 307h4M1365 315h4M1365 320h4M1365 326h4M1365 331h4M1366 180h4M1366 227h4M1366 267h4M1366 273h4M1366 278h4M1366 286h4M1366 299h4M1366 300h4M1366 301h4M1366 318h4M1366 321h4M1366 332h4M1367 243h4M1367 246h4M1367 262h4M1367 275h4M1367 286h4M1367 287h4M1367 291h4M1367 303h4M1367 331h4M1367 356h4M1368 228h4M1368 265h4M1368 282h4M1368 298h4M1368 308h4M1368 313h4M1368 322h4M1369 184h4M1369 229h4M1369 273h4M1369 282h4M1369 289h4M1369 305h4M1369 315h4M1369 318h4M1369 319h4M1369 330h4M1369 332h4M1369 362h4M1370 212h4M1370 273h4M1370 283h4M1370 312h4M1370 317h4M1370 354h4M1370 379h4M1371 166h4M1371 200h4M1371 264h4M1371 276h4M1371 277h4M1371 309h4M1371 310h4M1371 318h4M1371 323h4M1371 325h4M1371 335h4M1371 343h4M1371 376h4M1371 389h4M1372 230h4M1372 289h4M1372 291h4M1372 295h4M1372 302h4M1372 314h4M1372 317h4M1372 320h4M1372 321h4M1372 325h4M1372 339h4M1372 342h4M1372 380h4M1373 107h4M1373 234h4M1373 249h4M1373 262h4M1373 296h4M1373 302h4M1373 316h4M1373 329h4M1373 363h4M1374 282h4M1374 298h4M1374 301h4M1374 307h4M1374 311h4M1374 312h4M1374 318h4M1374 319h4M1374 321h4M1374 323h4M1374 328h4M1374 332h4M1374 341h4M1374 342h4M1374 349h4M1375 214h4M1375 228h4M1375 240h4M1375 263h4M1375 297h4M1375 298h4M1375 304h4M1375 306h4M1375 312h4M1375 313h4M1375 316h4M1375 317h4M1375 337h4M1375 340h4M1375 470h4M1376 300h4M1376 301h4M1376 314h4M1376 328h4M1376 375h4M1377 222h4M1377 235h4M1377 274h4M1377 280h4M1377 298h4M1377 302h4M1377 303h4M1377 316h4M1377 317h4M1377 321h4M1377 325h4M1377 330h4M1377 337h4M1377 344h4M1377 354h4M1377 378h4M1378 218h4M1378 261h4M1378 268h4M1378 280h4M1378 283h4M1378 289h4M1378 297h4M1378 298h4M1378 306h4M1378 310h4M1378 312h4M1378 313h4M1378 315h4M1378 318h4M1378 319h4M1378 321h4M1378 324h4M1378 325h4M1378 334h4M1378 336h4M1378 339h4M1378 345h4M1378 352h4M1378 387h4M1379 274h4M1379 286h4M1379 297h4M1379 298h4M1379 299h4M1379 302h4M1379 303h4M1379 305h4M1379 306h4M1379 314h4M1379 316h4M1379 319h4M1379 321h4M1379 323h4M1379 326h4M1379 327h4M1379 328h4M1379 331h4M1379 332h4M1379 336h4M1379 340h4M1379 343h4M1379 347h4M1379 349h4M1380 265h4M1380 284h4M1380 307h4M1380 309h4M1380 312h4M1380 313h4M1380 316h4M1380 321h4M1380 324h4M1380 331h4M1380 335h4M1380 338h4M1380 340h4M1380 341h4M1380 342h4M1381 277h4M1381 280h4M1381 284h4M1381 285h4M1381 305h4M1381 311h4M1381 316h4M1381 322h4M1381 324h4M1381 326h4M1381 330h4M1381 335h4M1381 345h4M1381 347h4M1381 352h4M1381 355h4M1381 360h4M1381 363h4M1382 257h4M1382 289h4M1382 299h4M1382 311h4M1382 312h4M1382 313h4M1382 315h4M1382 318h4M1382 320h4M1382 321h4M1382 322h4M1382 323h4M1382 324h4M1382 325h4M1382 329h4M1382 332h4M1382 338h4M1382 343h4M1382 346h4M1382 350h4M1382 353h4M1383 260h4M1383 265h4M1383 280h4M1383 284h4M1383 299h4M1383 306h4M1383 307h4M1383 313h4M1383 315h4M1383 318h4M1383 320h4M1383 321h4M1383 322h4M1383 327h4M1383 335h4M1383 338h4M1383 339h4M1383 340h4M1383 341h4M1383 342h4M1383 343h4M1383 344h4M1383 348h4M1383 351h4M1383 358h4M1383 396h4M1384 298h4M1384 302h4M1384 306h4M1384 308h4M1384 309h4M1384 312h4M1384 319h4M1384 320h4M1384 323h4M1384 324h4M1384 327h4M1384 328h4M1384 330h4M1384 331h4M1384 333h4M1384 341h4M1384 346h4M1384 347h4M1384 356h4M1384 363h4M1385 286h4M1385 292h4M1385 298h4M1385 299h4M1385 300h4M1385 303h4M1385 309h4M1385 312h4M1385 313h4M1385 315h4M1385 316h4M1385 318h4M1385 321h4M1385 324h4M1385 326h4M1385 327h4M1385 330h4M1385 331h4M1385 334h4M1385 335h4M1385 337h4M1385 349h4M1385 353h4M1385 356h4M1385 358h4M1385 373h4M1386 272h4M1386 288h4M1386 297h4M1386 302h4M1386 303h4M1386 305h4M1386 311h4M1386 313h4M1386 317h4M1386 318h4M1386 319h4M1386 321h4M1386 324h4M1386 332h4M1386 335h4M1386 338h4M1386 342h4M1386 344h4M1386 346h4M1386 348h4M1386 349h4M1386 353h4M1386 355h4M1386 368h4M1387 249h4M1387 278h4M1387 299h4M1387 300h4M1387 303h4M1387 304h4M1387 311h4M1387 314h4M1387 318h4M1387 320h4M1387 322h4M1387 326h4M1387 327h4M1387 330h4M1387 332h4M1387 334h4M1387 338h4M1387 339h4M1387 340h4M1387 341h4M1387 345h4M1387 350h4M1387 355h4M1387 360h4M1387 362h4M1388 292h4M1388 295h4M1388 301h4M1388 302h4M1388 306h4M1388 310h4M1388 314h4M1388 317h4M1388 318h4M1388 322h4M1388 323h4M1388 326h4M1388 327h4M1388 331h4M1388 332h4M1388 337h4M1388 339h4M1388 342h4M1388 344h4M1388 346h4M1388 347h4M1388 348h4M1388 349h4M1388 351h4M1388 369h4M1388 373h4M1388 386h4M1389 293h4M1389 295h4M1389 300h4M1389 310h4M1389 317h4M1389 319h4M1389 320h4M1389 322h4M1389 323h4M1389 328h4M1389 329h4M1389 331h4M1389 332h4M1389 334h4M1389 339h4M1389 343h4M1389 344h4M1389 347h4M1389 354h4M1389 356h4M1389 361h4M1389 363h4M1390 268h4M1390 290h4M1390 299h4M1390 309h4M1390 318h4M1390 319h4M1390 320h4M1390 323h4M1390 327h4M1390 330h4M1390 331h4M1390 335h4M1390 337h4M1390 338h4M1390 340h4M1390 342h4M1390 343h4M1390 345h4M1390 349h4M1390 362h4M1390 366h4M1391 292h4M1391 303h4M1391 314h4M1391 316h4M1391 317h4M1391 318h4M1391 320h4M1391 324h4M1391 325h4M1391 330h4M1391 331h4M1391 332h4M1391 335h4M1391 336h4M1391 344h4M1391 354h4M1391 356h4M1391 385h4M1392 280h4M1392 311h4M1392 314h4M1392 318h4M1392 320h4M1392 322h4M1392 323h4M1392 331h4M1392 332h4M1392 337h4M1392 339h4M1392 340h4M1392 341h4M1392 346h4M1392 348h4M1392 352h4M1392 354h4M1392 355h4M1392 370h4M1392 378h4M1392 454h4M1393 267h4M1393 282h4M1393 290h4M1393 305h4M1393 306h4M1393 312h4M1393 316h4M1393 319h4M1393 325h4M1393 327h4M1393 338h4M1393 343h4M1393 347h4M1393 353h4M1393 357h4M1393 360h4M1393 363h4M1393 365h4M1394 309h4M1394 313h4M1394 316h4M1394 318h4M1394 322h4M1394 323h4M1394 324h4M1394 325h4M1394 331h4M1394 333h4M1394 338h4M1394 339h4M1394 340h4M1394 342h4M1394 343h4M1394 346h4M1394 355h4M1394 363h4M1394 371h4M1394 394h4M1395 298h4M1395 301h4M1395 304h4M1395 306h4M1395 319h4M1395 324h4M1395 327h4M1395 328h4M1395 332h4M1395 333h4M1395 334h4M1395 339h4M1395 346h4M1395 349h4M1395 354h4M1395 362h4M1395 404h4M1396 305h4M1396 320h4M1396 322h4M1396 323h4M1396 324h4M1396 329h4M1396 334h4M1396 335h4M1396 336h4M1396 343h4M1396 345h4M1396 351h4M1396 357h4M1396 360h4M1396 361h4M1396 364h4M1396 376h4M1397 297h4M1397 301h4M1397 305h4M1397 306h4M1397 309h4M1397 312h4M1397 320h4M1397 321h4M1397 325h4M1397 328h4M1397 329h4M1397 330h4M1397 333h4M1397 338h4M1397 339h4M1397 340h4M1397 341h4M1397 345h4M1397 348h4M1397 350h4M1397 352h4M1397 355h4M1397 357h4M1398 183h4M1398 265h4M1398 275h4M1398 309h4M1398 315h4M1398 321h4M1398 326h4M1398 330h4M1398 332h4M1398 334h4M1398 335h4M1398 336h4M1398 339h4M1398 340h4M1398 342h4M1398 343h4M1398 345h4M1398 349h4M1398 354h4M1398 355h4M1398 357h4M1398 358h4M1398 364h4M1398 366h4M1399 276h4M1399 293h4M1399 307h4M1399 311h4M1399 318h4M1399 320h4M1399 321h4M1399 322h4M1399 327h4M1399 328h4M1399 332h4M1399 333h4M1399 334h4M1399 337h4M1399 338h4M1399 339h4M1399 340h4M1399 343h4M1399 346h4M1399 347h4M1399 348h4M1399 349h4M1399 351h4M1399 355h4M1399 356h4M1399 357h4M1399 360h4M1399 373h4M1400 302h4M1400 309h4M1400 312h4M1400 319h4M1400 320h4M1400 324h4M1400 325h4M1400 326h4M1400 334h4M1400 335h4M1400 336h4M1400 338h4M1400 345h4M1400 346h4M1400 347h4M1400 348h4M1400 350h4M1400 353h4M1400 360h4M1400 367h4M1400 370h4M1400 394h4M1401 298h4M1401 311h4M1401 312h4M1401 313h4M1401 320h4M1401 324h4M1401 329h4M1401 335h4M1401 338h4M1401 340h4M1401 347h4M1401 350h4M1401 351h4M1401 352h4M1401 360h4M1401 362h4M1401 372h4M1401 384h4M1402 280h4M1402 308h4M1402 315h4M1402 318h4M1402 329h4M1402 330h4M1402 331h4M1402 334h4M1402 335h4M1402 339h4M1402 342h4M1402 345h4M1402 361h4M1402 362h4M1402 363h4M1402 367h4M1402 372h4M1402 391h4M1403 289h4M1403 325h4M1403 328h4M1403 331h4M1403 335h4M1403 337h4M1403 346h4M1403 351h4M1403 354h4M1403 356h4M1403 364h4M1403 365h4M1403 379h4M1404 270h4M1404 303h4M1404 315h4M1404 316h4M1404 321h4M1404 323h4M1404 325h4M1404 328h4M1404 330h4M1404 338h4M1404 345h4M1404 346h4M1404 348h4M1404 349h4M1404 350h4M1404 353h4M1404 356h4M1404 358h4M1404 359h4M1404 362h4M1404 366h4M1404 368h4M1404 373h4M1404 379h4M1404 382h4M1404 441h4M1405 248h4M1405 314h4M1405 333h4M1405 341h4M1405 342h4M1405 351h4M1405 352h4M1405 354h4M1405 355h4M1405 362h4M1405 366h4M1405 367h4M1406 310h4M1406 316h4M1406 322h4M1406 325h4M1406 326h4M1406 331h4M1406 334h4M1406 335h4M1406 340h4M1406 341h4M1406 343h4M1406 347h4M1406 354h4M1406 357h4M1406 359h4M1406 362h4M1406 363h4M1406 372h4M1407 309h4M1407 320h4M1407 321h4M1407 336h4M1407 337h4M1407 340h4M1407 347h4M1407 348h4M1407 354h4M1407 363h4M1407 364h4M1407 369h4M1407 388h4M1408 312h4M1408 319h4M1408 330h4M1408 339h4M1408 340h4M1408 347h4M1408 348h4M1408 350h4M1408 352h4M1408 358h4M1408 367h4M1408 371h4M1408 378h4M1408 379h4M1408 383h4M1409 306h4M1409 312h4M1409 316h4M1409 317h4M1409 319h4M1409 322h4M1409 331h4M1409 334h4M1409 346h4M1409 347h4M1409 355h4M1409 361h4M1409 362h4M1409 363h4M1409 366h4M1410 290h4M1410 301h4M1410 315h4M1410 317h4M1410 322h4M1410 325h4M1410 329h4M1410 330h4M1410 334h4M1410 340h4M1410 341h4M1410 344h4M1410 345h4M1410 346h4M1410 353h4M1410 356h4M1410 358h4M1410 359h4M1410 360h4M1410 362h4M1410 363h4M1410 365h4M1410 373h4M1410 376h4M1411 287h4M1411 309h4M1411 318h4M1411 327h4M1411 328h4M1411 335h4M1411 336h4M1411 340h4M1411 343h4M1411 344h4M1411 348h4M1411 352h4M1411 354h4M1411 360h4M1411 362h4M1411 366h4M1411 428h4M1412 298h4M1412 313h4M1412 317h4M1412 321h4M1412 324h4M1412 325h4M1412 338h4M1412 341h4M1412 346h4M1412 348h4M1412 349h4M1412 350h4M1412 352h4M1412 354h4M1412 362h4M1412 374h4M1413 316h4M1413 317h4M1413 324h4M1413 330h4M1413 333h4M1413 335h4M1413 339h4M1413 342h4M1413 343h4M1413 350h4M1413 352h4M1413 354h4M1413 360h4M1413 362h4M1413 365h4M1414 310h4M1414 315h4M1414 317h4M1414 319h4M1414 320h4M1414 323h4M1414 327h4M1414 331h4M1414 333h4M1414 337h4M1414 338h4M1414 342h4M1414 343h4M1414 354h4M1414 358h4M1414 370h4M1415 302h4M1415 317h4M1415 322h4M1415 326h4M1415 330h4M1415 336h4M1415 338h4M1415 344h4M1415 346h4M1415 347h4M1415 348h4M1415 350h4M1415 358h4M1415 375h4M1415 381h4M1416 304h4M1416 308h4M1416 313h4M1416 317h4M1416 325h4M1416 335h4M1416 337h4M1416 338h4M1416 342h4M1416 345h4M1416 348h4M1416 350h4M1416 353h4M1416 355h4M1416 357h4M1416 359h4M1416 362h4M1416 370h4M1416 373h4M1417 286h4M1417 306h4M1417 309h4M1417 311h4M1417 315h4M1417 316h4M1417 317h4M1417 319h4M1417 320h4M1417 326h4M1417 329h4M1417 331h4M1417 334h4M1417 336h4M1417 339h4M1417 342h4M1417 344h4M1417 345h4M1417 346h4M1417 348h4M1417 350h4M1417 351h4M1417 352h4M1417 355h4M1417 356h4M1417 357h4M1417 363h4M1417 364h4M1417 373h4M1417 374h4M1417 379h4M1417 384h4M1418 308h4M1418 312h4M1418 315h4M1418 318h4M1418 329h4M1418 330h4M1418 333h4M1418 339h4M1418 343h4M1418 354h4M1418 368h4M1419 301h4M1419 312h4M1419 323h4M1419 325h4M1419 329h4M1419 331h4M1419 337h4M1419 340h4M1419 341h4M1419 343h4M1419 347h4M1419 350h4M1419 353h4M1419 354h4M1419 357h4M1419 358h4M1419 360h4M1419 368h4M1419 387h4M1420 276h4M1420 300h4M1420 305h4M1420 307h4M1420 328h4M1420 330h4M1420 333h4M1420 334h4M1420 341h4M1420 347h4M1420 349h4M1420 351h4M1420 356h4M1420 357h4M1420 358h4M1420 363h4M1420 364h4M1421 288h4M1421 301h4M1421 310h4M1421 318h4M1421 325h4M1421 330h4M1421 335h4M1421 337h4M1421 344h4M1421 349h4M1421 350h4M1421 352h4M1421 359h4M1421 370h4M1421 374h4M1421 388h4M1421 409h4M1422 305h4M1422 322h4M1422 341h4M1422 342h4M1422 344h4M1422 351h4M1422 352h4M1422 355h4M1422 356h4M1422 357h4M1422 363h4M1423 306h4M1423 311h4M1423 315h4M1423 316h4M1423 321h4M1423 324h4M1423 331h4M1423 332h4M1423 336h4M1423 340h4M1423 342h4M1423 347h4M1423 351h4M1423 353h4M1423 355h4M1423 358h4M1423 359h4M1423 366h4M1423 369h4M1423 389h4M1424 301h4M1424 302h4M1424 315h4M1424 316h4M1424 321h4M1424 325h4M1424 328h4M1424 329h4M1424 331h4M1424 332h4M1424 340h4M1424 345h4M1424 349h4M1424 350h4M1424 352h4M1424 354h4M1424 359h4M1424 360h4M1424 416h4M1425 317h4M1425 319h4M1425 326h4M1425 328h4M1425 336h4M1425 338h4M1425 339h4M1425 341h4M1425 342h4M1425 346h4M1425 353h4M1425 355h4M1425 360h4M1425 366h4M1425 368h4M1425 371h4M1426 295h4M1426 311h4M1426 315h4M1426 320h4M1426 326h4M1426 331h4M1426 332h4M1426 333h4M1426 341h4M1426 351h4M1426 357h4M1426 358h4M1426 362h4M1426 364h4M1426 366h4M1426 368h4M1427 298h4M1427 304h4M1427 307h4M1427 310h4M1427 317h4M1427 325h4M1427 327h4M1427 331h4M1427 332h4M1427 334h4M1427 336h4M1427 353h4M1427 356h4M1427 358h4M1427 362h4M1427 365h4M1427 367h4M1428 270h4M1428 311h4M1428 315h4M1428 318h4M1428 327h4M1428 328h4M1428 329h4M1428 330h4M1428 340h4M1428 343h4M1428 346h4M1428 347h4M1428 348h4M1428 353h4M1428 364h4M1428 368h4M1429 285h4M1429 304h4M1429 330h4M1429 332h4M1429 333h4M1429 337h4M1429 339h4M1429 342h4M1429 343h4M1429 346h4M1429 347h4M1429 348h4M1429 350h4M1429 354h4M1429 366h4M1429 382h4M1430 305h4M1430 308h4M1430 313h4M1430 315h4M1430 317h4M1430 320h4M1430 325h4M1430 327h4M1430 328h4M1430 334h4M1430 336h4M1430 351h4M1430 353h4M1430 357h4M1430 360h4M1430 369h4M1431 290h4M1431 307h4M1431 315h4M1431 322h4M1431 323h4M1431 325h4M1431 328h4M1431 332h4M1431 336h4M1431 339h4M1431 342h4M1431 343h4M1431 344h4M1431 347h4M1431 353h4M1431 357h4M1431 359h4M1431 360h4M1431 371h4M1431 393h4M1432 292h4M1432 302h4M1432 308h4M1432 309h4M1432 311h4M1432 315h4M1432 320h4M1432 321h4M1432 326h4M1432 331h4M1432 332h4M1432 356h4M1432 361h4M1432 374h4M1432 393h4M1433 299h4M1433 309h4M1433 314h4M1433 321h4M1433 329h4M1433 332h4M1433 334h4M1433 338h4M1433 343h4M1433 347h4M1433 349h4M1433 350h4M1433 356h4M1433 359h4M1434 313h4M1434 316h4M1434 319h4M1434 320h4M1434 324h4M1434 334h4M1434 336h4M1434 337h4M1434 343h4M1434 347h4M1434 349h4M1434 361h4M1434 364h4M1434 366h4M1434 370h4M1435 306h4M1435 315h4M1435 321h4M1435 324h4M1435 329h4M1435 330h4M1435 332h4M1435 338h4M1435 339h4M1435 341h4M1435 345h4M1435 346h4M1435 347h4M1435 349h4M1435 352h4M1435 361h4M1435 364h4M1436 295h4M1436 302h4M1436 312h4M1436 315h4M1436 322h4M1436 323h4M1436 326h4M1436 328h4M1436 331h4M1436 333h4M1436 337h4M1436 342h4M1436 343h4M1436 346h4M1436 349h4M1436 351h4M1436 354h4M1436 355h4M1436 357h4M1436 364h4M1437 312h4M1437 320h4M1437 325h4M1437 327h4M1437 328h4M1437 332h4M1437 336h4M1437 339h4M1437 344h4M1437 345h4M1437 350h4M1437 376h4M1438 300h4M1438 304h4M1438 320h4M1438 326h4M1438 333h4M1438 338h4M1438 339h4M1438 346h4M1438 347h4M1438 352h4M1439 303h4M1439 304h4M1439 308h4M1439 321h4M1439 322h4M1439 330h4M1439 335h4M1439 337h4M1439 342h4M1439 345h4M1439 346h4M1439 347h4M1439 350h4M1439 351h4M1439 360h4M1439 361h4M1440 281h4M1440 311h4M1440 319h4M1440 320h4M1440 324h4M1440 328h4M1440 329h4M1440 340h4M1440 342h4M1440 344h4M1440 345h4M1440 351h4M1440 356h4M1441 304h4M1441 311h4M1441 312h4M1441 314h4M1441 319h4M1441 324h4M1441 333h4M1441 337h4M1441 339h4M1441 345h4M1441 346h4M1441 348h4M1441 353h4M1442 292h4M1442 308h4M1442 312h4M1442 316h4M1442 319h4M1442 326h4M1442 327h4M1442 330h4M1442 334h4M1442 335h4M1442 339h4M1442 345h4M1442 348h4M1442 349h4M1442 351h4M1443 231h4M1443 313h4M1443 314h4M1443 326h4M1443 329h4M1443 340h4M1443 343h4M1443 344h4M1443 346h4M1443 348h4M1443 351h4M1443 368h4M1444 306h4M1444 310h4M1444 315h4M1444 324h4M1444 329h4M1444 332h4M1444 333h4M1444 336h4M1444 341h4M1444 343h4M1444 347h4M1444 352h4M1445 302h4M1445 309h4M1445 313h4M1445 319h4M1445 320h4M1445 322h4M1445 327h4M1445 328h4M1445 337h4M1445 338h4M1445 340h4M1445 342h4M1445 350h4M1445 353h4M1445 356h4M1445 375h4M1446 287h4M1446 310h4M1446 311h4M1446 314h4M1446 321h4M1446 325h4M1446 329h4M1446 330h4M1446 334h4M1446 336h4M1446 340h4M1446 343h4M1446 351h4M1446 353h4M1446 359h4M1446 366h4M1446 399h4M1447 276h4M1447 313h4M1447 317h4M1447 318h4M1447 323h4M1447 326h4M1447 327h4M1447 343h4M1447 346h4M1447 347h4M1447 353h4M1447 354h4M1447 361h4M1448 297h4M1448 315h4M1448 329h4M1448 330h4M1448 331h4M1448 333h4M1448 334h4M1448 335h4M1448 337h4M1448 338h4M1448 347h4M1448 351h4M1448 353h4M1448 355h4M1448 362h4M1449 319h4M1449 323h4M1449 329h4M1449 330h4M1449 331h4M1449 336h4M1449 340h4M1449 343h4M1449 348h4M1449 355h4M1449 363h4M1449 366h4M1450 319h4M1450 321h4M1450 323h4M1450 325h4M1450 326h4M1450 327h4M1450 328h4M1450 329h4M1450 331h4M1450 332h4M1450 333h4M1450 336h4M1450 338h4M1450 340h4M1450 344h4M1450 357h4M1450 372h4M1451 296h4M1451 315h4M1451 318h4M1451 319h4M1451 327h4M1451 333h4M1451 334h4M1451 335h4M1451 338h4M1451 340h4M1451 341h4M1451 344h4M1451 345h4M1451 347h4M1451 352h4M1451 354h4M1451 356h4M1451 359h4M1451 363h4M1451 382h4M1452 276h4M1452 305h4M1452 317h4M1452 321h4M1452 322h4M1452 323h4M1452 324h4M1452 325h4M1452 331h4M1452 332h4M1452 333h4M1452 334h4M1452 336h4M1452 344h4M1452 349h4M1452 352h4M1452 359h4M1452 360h4M1452 361h4M1453 304h4M1453 312h4M1453 323h4M1453 325h4M1453 327h4M1453 332h4M1453 335h4M1453 337h4M1453 339h4M1453 342h4M1453 344h4M1453 352h4M1453 354h4M1453 355h4M1454 319h4M1454 322h4M1454 325h4M1454 329h4M1454 332h4M1454 334h4M1454 339h4M1454 340h4M1454 341h4M1454 343h4M1454 344h4M1454 345h4M1454 348h4M1454 349h4M1454 353h4M1454 357h4M1454 390h4M1455 297h4M1455 323h4M1455 325h4M1455 331h4M1455 332h4M1455 335h4M1455 337h4M1455 339h4M1455 341h4M1455 345h4M1455 346h4M1455 358h4M1456 296h4M1456 306h4M1456 317h4M1456 321h4M1456 327h4M1456 328h4M1456 331h4M1456 342h4M1456 343h4M1456 346h4M1456 347h4M1456 349h4M1456 358h4M1456 361h4M1456 379h4M1457 305h4M1457 310h4M1457 318h4M1457 326h4M1457 327h4M1457 331h4M1457 332h4M1457 336h4M1457 337h4M1457 339h4M1457 344h4M1457 348h4M1457 350h4M1457 352h4M1457 356h4M1457 361h4M1457 367h4M1457 368h4M1457 373h4M1458 318h4M1458 325h4M1458 327h4M1458 328h4M1458 334h4M1458 337h4M1458 343h4M1458 348h4M1458 352h4M1458 370h4M1458 390h4M1459 308h4M1459 313h4M1459 325h4M1459 328h4M1459 330h4M1459 336h4M1459 338h4M1459 339h4M1459 342h4M1459 346h4M1459 347h4M1459 350h4M1459 351h4M1459 358h4M1459 362h4M1460 301h4M1460 315h4M1460 326h4M1460 329h4M1460 330h4M1460 334h4M1460 335h4M1460 338h4M1460 340h4M1460 342h4M1460 344h4M1460 345h4M1460 346h4M1460 348h4M1460 349h4M1460 365h4M1461 290h4M1461 308h4M1461 314h4M1461 319h4M1461 320h4M1461 332h4M1461 333h4M1461 334h4M1461 337h4M1461 338h4M1461 341h4M1461 344h4M1461 352h4M1461 353h4M1461 356h4M1461 377h4M1462 303h4M1462 311h4M1462 312h4M1462 318h4M1462 319h4M1462 321h4M1462 326h4M1462 333h4M1462 335h4M1462 339h4M1462 340h4M1462 341h4M1462 342h4M1462 347h4M1462 349h4M1462 352h4M1462 357h4M1462 367h4M1463 303h4M1463 308h4M1463 336h4M1463 338h4M1463 345h4M1463 347h4M1463 348h4M1463 349h4M1463 356h4M1463 391h4M1464 325h4M1464 329h4M1464 331h4M1464 336h4M1464 338h4M1464 341h4M1464 343h4M1464 344h4M1464 360h4M1464 363h4M1464 369h4M1465 300h4M1465 305h4M1465 309h4M1465 317h4M1465 323h4M1465 325h4M1465 328h4M1465 330h4M1465 333h4M1465 336h4M1465 339h4M1465 342h4M1465 343h4M1465 344h4M1465 345h4M1465 352h4M1465 353h4M1465 356h4M1465 359h4M1465 371h4M1466 312h4M1466 318h4M1466 333h4M1466 339h4M1466 340h4M1466 344h4M1466 352h4M1466 355h4M1467 303h4M1467 306h4M1467 311h4M1467 317h4M1467 318h4M1467 320h4M1467 325h4M1467 326h4M1467 328h4M1467 329h4M1467 331h4M1467 340h4M1467 342h4M1467 344h4M1467 345h4M1467 350h4M1467 351h4M1467 353h4M1467 357h4M1467 363h4M1467 365h4M1468 313h4M1468 316h4M1468 332h4M1468 336h4M1468 345h4M1468 352h4M1468 353h4M1469 304h4M1469 305h4M1469 310h4M1469 325h4M1469 328h4M1469 330h4M1469 332h4M1469 342h4M1469 350h4M1469 355h4M1469 356h4M1469 357h4M1469 364h4M1469 367h4M1469 368h4M1470 313h4M1470 317h4M1470 321h4M1470 329h4M1470 331h4M1470 336h4M1470 340h4M1470 341h4M1470 345h4M1470 354h4M1470 360h4M1471 303h4M1471 336h4M1471 337h4M1471 338h4M1471 339h4M1471 341h4M1471 342h4M1471 348h4M1471 354h4M1472 304h4M1472 320h4M1472 322h4M1472 323h4M1472 333h4M1472 335h4M1472 336h4M1472 338h4M1472 341h4M1472 344h4M1472 353h4M1472 367h4M1472 373h4M1472 382h4M1473 309h4M1473 312h4M1473 316h4M1473 318h4M1473 321h4M1473 329h4M1473 330h4M1473 333h4M1473 335h4M1473 336h4M1473 346h4M1473 351h4M1473 352h4M1473 356h4M1473 359h4M1473 362h4M1473 379h4M1474 317h4M1474 318h4M1474 322h4M1474 335h4M1474 341h4M1474 349h4M1474 351h4M1474 352h4M1474 372h4M1474 389h4M1475 298h4M1475 314h4M1475 315h4M1475 326h4M1475 333h4M1475 336h4M1475 337h4M1475 338h4M1475 339h4M1475 342h4M1475 344h4M1475 345h4M1476 322h4M1476 329h4M1476 335h4M1476 339h4M1476 351h4M1476 363h4M1477 295h4M1477 315h4M1477 324h4M1477 326h4M1477 327h4M1477 342h4M1477 345h4M1477 347h4M1477 348h4M1477 380h4M1477 382h4M1477 392h4M1478 310h4M1478 318h4M1478 320h4M1478 321h4M1478 327h4M1478 328h4M1478 331h4M1478 337h4M1478 339h4M1478 341h4M1478 342h4M1478 343h4M1478 352h4M1478 356h4M1478 357h4M1478 370h4M1478 380h4M1479 325h4M1479 329h4M1479 333h4M1479 336h4M1479 337h4M1479 338h4M1479 339h4M1479 341h4M1479 347h4M1479 348h4M1479 350h4M1479 354h4M1479 357h4M1479 359h4M1480 308h4M1480 327h4M1480 329h4M1480 332h4M1480 335h4M1480 337h4M1480 338h4M1480 340h4M1480 342h4M1480 343h4M1480 344h4M1480 348h4M1480 355h4M1480 358h4M1480 375h4M1481 325h4M1481 326h4M1481 327h4M1481 328h4M1481 331h4M1481 337h4M1481 339h4M1481 341h4M1481 342h4M1481 343h4M1481 346h4M1481 347h4M1481 348h4M1481 353h4M1481 354h4M1481 358h4M1481 360h4M1482 312h4M1482 314h4M1482 319h4M1482 326h4M1482 329h4M1482 332h4M1482 337h4M1482 341h4M1482 344h4M1482 345h4M1482 359h4M1482 361h4M1483 312h4M1483 319h4M1483 320h4M1483 323h4M1483 325h4M1483 329h4M1483 330h4M1483 335h4M1483 337h4M1483 340h4M1483 351h4M1483 352h4M1483 353h4M1483 356h4M1483 364h4M1484 311h4M1484 320h4M1484 322h4M1484 324h4M1484 327h4M1484 333h4M1484 337h4M1484 339h4M1484 340h4M1484 341h4M1484 344h4M1484 346h4M1484 347h4M1484 350h4M1484 359h4M1484 360h4M1484 362h4M1484 370h4M1484 373h4M1484 385h4M1484 394h4M1485 288h4M1485 324h4M1485 338h4M1485 346h4M1485 348h4M1485 355h4M1485 356h4M1485 363h4M1485 366h4M1485 367h4M1485 375h4M1486 294h4M1486 319h4M1486 327h4M1486 330h4M1486 335h4M1486 337h4M1486 339h4M1486 341h4M1486 343h4M1486 347h4M1486 348h4M1486 354h4M1486 355h4M1486 360h4M1486 362h4M1486 369h4M1487 326h4M1487 327h4M1487 330h4M1487 341h4M1487 342h4M1487 345h4M1487 347h4M1487 349h4M1487 366h4M1487 367h4M1487 368h4M1487 369h4M1487 370h4M1488 319h4M1488 328h4M1488 330h4M1488 335h4M1488 336h4M1488 339h4M1488 340h4M1488 342h4M1488 351h4M1488 353h4M1488 355h4M1488 361h4M1488 366h4M1488 405h4M1489 312h4M1489 337h4M1489 351h4M1489 356h4M1489 357h4M1489 363h4M1489 366h4M1489 372h4M1489 373h4M1489 375h4M1489 376h4M1490 303h4M1490 332h4M1490 333h4M1490 335h4M1490 336h4M1490 338h4M1490 340h4M1490 341h4M1490 344h4M1490 346h4M1490 347h4M1490 351h4M1490 353h4M1490 359h4M1490 361h4M1490 363h4M1490 364h4M1490 369h4M1490 388h4M1491 316h4M1491 322h4M1491 327h4M1491 328h4M1491 329h4M1491 331h4M1491 337h4M1491 339h4M1491 341h4M1491 345h4M1491 346h4M1491 350h4M1491 351h4M1491 352h4M1491 365h4M1491 369h4M1491 373h4M1491 377h4M1491 385h4M1492 312h4M1492 324h4M1492 330h4M1492 331h4M1492 337h4M1492 342h4M1492 348h4M1492 351h4M1492 356h4M1492 359h4M1492 363h4M1492 367h4M1492 371h4M1492 372h4M1492 374h4M1492 376h4M1492 382h4M1493 228h4M1493 342h4M1493 343h4M1493 344h4M1493 347h4M1493 349h4M1493 351h4M1493 357h4M1493 359h4M1493 361h4M1493 364h4M1494 328h4M1494 330h4M1494 332h4M1494 338h4M1494 340h4M1494 343h4M1494 350h4M1494 355h4M1494 356h4M1494 359h4M1494 363h4M1494 365h4M1494 368h4M1494 369h4M1494 370h4M1494 371h4M1494 375h4M1494 432h4M1495 309h4M1495 319h4M1495 323h4M1495 334h4M1495 337h4M1495 342h4M1495 353h4M1495 355h4M1495 364h4M1495 369h4M1495 381h4M1496 282h4M1496 328h4M1496 335h4M1496 341h4M1496 345h4M1496 346h4M1496 348h4M1496 349h4M1496 350h4M1496 351h4M1496 353h4M1496 358h4M1496 366h4M1496 374h4M1497 308h4M1497 316h4M1497 318h4M1497 326h4M1497 329h4M1497 339h4M1497 340h4M1497 343h4M1497 344h4M1497 345h4M1497 346h4M1497 350h4M1497 355h4M1497 357h4M1497 362h4M1497 364h4M1497 371h4M1497 375h4M1498 338h4M1498 343h4M1498 344h4M1498 347h4M1498 353h4M1498 357h4M1498 361h4M1498 368h4M1498 370h4M1498 386h4M1499 322h4M1499 328h4M1499 333h4M1499 344h4M1499 345h4M1499 348h4M1499 353h4M1499 355h4M1499 358h4M1499 359h4M1499 364h4M1500 338h4M1500 344h4M1500 345h4M1500 352h4M1500 353h4M1500 357h4M1500 359h4M1500 362h4M1500 366h4M1500 368h4M1500 375h4M1501 320h4M1501 329h4M1501 333h4M1501 338h4M1501 345h4M1501 346h4M1501 348h4M1501 349h4M1501 355h4M1501 356h4M1501 368h4M1502 326h4M1502 333h4M1502 336h4M1502 339h4M1502 348h4M1502 349h4M1502 352h4M1502 353h4M1502 354h4M1502 359h4M1502 361h4M1502 366h4M1502 367h4M1502 369h4M1502 370h4M1502 378h4M1502 388h4M1503 322h4M1503 329h4M1503 333h4M1503 339h4M1503 343h4M1503 344h4M1503 350h4M1503 351h4M1503 355h4M1503 359h4M1503 360h4M1503 365h4M1503 382h4M1503 412h4M1504 323h4M1504 334h4M1504 337h4M1504 350h4M1504 351h4M1504 352h4M1504 353h4M1504 356h4M1504 357h4M1504 360h4M1504 361h4M1504 372h4M1504 375h4M1504 385h4M1504 390h4M1505 332h4M1505 336h4M1505 339h4M1505 341h4M1505 343h4M1505 347h4M1505 349h4M1505 350h4M1505 351h4M1505 358h4M1505 360h4M1505 362h4M1505 363h4M1505 373h4M1505 377h4M1506 330h4M1506 338h4M1506 339h4M1506 341h4M1506 348h4M1506 353h4M1506 354h4M1506 357h4M1506 365h4M1506 367h4M1506 370h4M1506 380h4M1507 331h4M1507 338h4M1507 339h4M1507 340h4M1507 344h4M1507 349h4M1507 350h4M1507 353h4M1507 355h4M1507 358h4M1507 362h4M1507 368h4M1507 376h4M1507 379h4M1507 383h4M1508 301h4M1508 326h4M1508 329h4M1508 334h4M1508 349h4M1508 351h4M1508 353h4M1508 354h4M1508 355h4M1508 357h4M1508 358h4M1508 360h4M1508 361h4M1508 365h4M1508 367h4M1508 368h4M1508 369h4M1508 374h4M1508 376h4M1508 387h4M1509 335h4M1509 351h4M1509 356h4M1509 357h4M1509 376h4M1509 383h4M1509 404h4M1510 320h4M1510 340h4M1510 346h4M1510 350h4M1510 352h4M1510 355h4M1510 358h4M1510 360h4M1510 372h4M1510 376h4M1510 377h4M1510 439h4M1511 329h4M1511 343h4M1511 348h4M1511 352h4M1511 356h4M1511 358h4M1511 360h4M1511 361h4M1511 364h4M1511 373h4M1511 374h4M1511 376h4M1511 382h4M1511 383h4M1511 386h4M1511 387h4M1511 393h4M1512 310h4M1512 330h4M1512 340h4M1512 343h4M1512 350h4M1512 353h4M1512 354h4M1512 356h4M1512 363h4M1512 365h4M1512 366h4M1512 370h4M1512 371h4M1512 372h4M1512 375h4M1512 440h4M1513 325h4M1513 332h4M1513 346h4M1513 347h4M1513 350h4M1513 352h4M1513 356h4M1513 358h4M1513 359h4M1513 360h4M1513 364h4M1513 369h4M1513 376h4M1513 384h4M1514 313h4M1514 322h4M1514 328h4M1514 333h4M1514 337h4M1514 338h4M1514 343h4M1514 345h4M1514 348h4M1514 350h4M1514 357h4M1514 359h4M1514 361h4M1514 364h4M1514 367h4M1514 373h4M1514 375h4M1514 379h4M1515 311h4M1515 331h4M1515 340h4M1515 346h4M1515 350h4M1515 354h4M1515 355h4M1515 357h4M1515 362h4M1515 364h4M1515 367h4M1515 371h4M1515 372h4M1515 374h4M1515 375h4M1515 377h4M1515 380h4M1516 320h4M1516 325h4M1516 335h4M1516 342h4M1516 344h4M1516 345h4M1516 347h4M1516 348h4M1516 349h4M1516 351h4M1516 353h4M1516 354h4M1516 355h4M1516 361h4M1516 364h4M1516 366h4M1517 328h4M1517 335h4M1517 336h4M1517 343h4M1517 345h4M1517 346h4M1517 347h4M1517 349h4M1517 353h4M1517 355h4M1517 360h4M1517 362h4M1517 364h4M1517 367h4M1517 369h4M1517 370h4M1517 379h4M1517 380h4M1517 381h4M1517 382h4M1517 400h4M1518 321h4M1518 324h4M1518 329h4M1518 334h4M1518 337h4M1518 339h4M1518 341h4M1518 342h4M1518 344h4M1518 347h4M1518 352h4M1518 353h4M1518 354h4M1518 355h4M1518 357h4M1518 359h4M1518 360h4M1518 362h4M1518 363h4M1518 364h4M1518 366h4M1518 372h4M1518 374h4M1519 330h4M1519 334h4M1519 336h4M1519 337h4M1519 339h4M1519 340h4M1519 341h4M1519 343h4M1519 348h4M1519 356h4M1519 358h4M1519 361h4M1519 362h4M1519 372h4M1519 373h4M1519 397h4M1520 323h4M1520 324h4M1520 329h4M1520 335h4M1520 339h4M1520 341h4M1520 342h4M1520 343h4M1520 345h4M1520 349h4M1520 350h4M1520 351h4M1520 353h4M1520 356h4M1520 357h4M1520 363h4M1520 364h4M1520 366h4M1520 372h4M1520 378h4M1520 384h4M1521 321h4M1521 325h4M1521 326h4M1521 351h4M1521 352h4M1521 353h4M1521 354h4M1521 359h4M1521 362h4M1521 363h4M1521 367h4M1521 371h4M1521 385h4M1521 475h4M1522 332h4M1522 334h4M1522 336h4M1522 341h4M1522 347h4M1522 349h4M1522 351h4M1522 352h4M1522 355h4M1522 356h4M1522 357h4M1522 358h4M1522 362h4M1522 363h4M1522 364h4M1522 369h4M1522 370h4M1522 379h4M1522 404h4M1522 447h4M1523 337h4M1523 340h4M1523 343h4M1523 346h4M1523 347h4M1523 348h4M1523 349h4M1523 351h4M1523 353h4M1523 356h4M1523 359h4M1523 365h4M1523 370h4M1523 383h4M1523 386h4M1524 332h4M1524 339h4M1524 344h4M1524 347h4M1524 349h4M1524 350h4M1524 351h4M1524 353h4M1524 358h4M1524 359h4M1524 365h4M1524 378h4M1524 380h4M1525 311h4M1525 325h4M1525 334h4M1525 340h4M1525 345h4M1525 358h4M1526 213h4M1526 337h4M1526 341h4M1526 360h4M1526 368h4M1527 311h4M1527 336h4M1527 338h4M1527 347h4M1527 350h4M1527 355h4M1527 364h4M1527 368h4M1527 374h4M1527 446h4M1528 235h4M1528 339h4M1528 345h4M1528 349h4M1528 359h4M1528 363h4M1528 377h4M1528 388h4M1529 343h4M1529 345h4M1529 362h4M1529 380h4M1530 324h4M1530 327h4M1530 331h4M1530 336h4M1530 341h4M1530 350h4M1530 361h4M1530 365h4M1531 336h4M1531 340h4M1531 346h4M1531 347h4M1531 348h4M1531 358h4M1531 361h4M1532 340h4M1532 344h4M1532 349h4M1532 355h4M1532 358h4M1532 359h4M1532 362h4M1532 366h4M1532 372h4M1533 328h4M1533 329h4M1533 332h4M1533 335h4M1533 342h4M1533 350h4M1533 351h4M1533 354h4M1533 363h4M1533 371h4M1534 327h4M1534 333h4M1534 347h4M1534 352h4M1534 364h4M1535 333h4M1535 334h4M1535 335h4M1535 343h4M1535 350h4M1535 357h4M1535 360h4M1536 325h4M1536 332h4M1536 342h4M1536 356h4M1537 320h4M1537 324h4M1537 334h4M1537 336h4M1537 340h4M1537 344h4M1537 356h4M1538 309h4M1538 344h4M1538 346h4M1538 349h4M1538 358h4M1538 372h4M1539 298h4M1539 323h4M1539 324h4M1539 332h4M1539 336h4M1539 337h4M1539 338h4M1539 346h4M1539 349h4M1539 350h4M1539 351h4M1539 353h4M1539 363h4M1539 384h4M1540 294h4M1540 335h4M1540 341h4M1541 312h4M1541 324h4M1541 328h4M1541 331h4M1541 335h4M1541 348h4M1541 353h4M1541 354h4M1541 361h4M1542 328h4M1542 337h4M1542 340h4M1542 346h4M1542 351h4M1542 361h4M1543 318h4M1543 325h4M1543 343h4M1543 346h4M1544 325h4M1544 337h4M1545 329h4M1545 356h4M1546 327h4M1546 333h4M1546 345h4M1546 354h4M1547 318h4M1547 320h4M1547 326h4M1547 331h4M1547 338h4M1547 341h4M1547 344h4M1547 362h4M1548 331h4M1549 302h4M1549 334h4M1550 316h4M1550 317h4M1550 337h4M1551 316h4M1552 307h4M1552 323h4M1552 339h4M1553 317h4M1553 319h4M1553 338h4M1553 340h4M1554 318h4M1554 322h4M1554 323h4M1554 324h4M1554 327h4M1554 331h4M1554 337h4M1555 299h4M1555 313h4M1555 316h4M1555 327h4M1555 328h4M1555 350h4M1555 359h4M1556 302h4M1556 315h4M1556 325h4M1556 341h4M1557 293h4M1557 297h4M1557 308h4M1558 313h4M1558 316h4M1559 295h4M1559 314h4M1559 330h4M1559 337h4M1559 342h4M1560 315h4M1560 318h4M1560 323h4M1560 324h4M1560 325h4M1560 337h4M1561 320h4M1561 339h4M1562 323h4M1562 333h4M1562 348h4M1563 300h4M1563 306h4M1563 312h4M1563 316h4M1563 321h4M1563 357h4M1565 273h4M1565 274h4M1565 316h4M1565 329h4M1566 291h4M1566 317h4M1566 341h4M1567 274h4M1567 296h4M1567 320h4M1568 306h4M1568 311h4M1568 337h4M1569 277h4M1569 279h4M1569 326h4M1570 287h4M1571 274h4M1571 317h4M1572 265h4M1572 279h4M1572 283h4M1572 293h4M1573 275h4M1573 290h4M1574 252h4M1574 315h4M1576 267h4M1576 283h4M1576 292h4M1577 221h4M1577 270h4M1577 304h4M1580 241h4M1580 276h4M1580 291h4M1581 245h4M1581 262h4M1582 258h4M1582 281h4M1583 272h4M1584 274h4M1587 270h4M1588 250h4M1588 268h4M1589 284h4M1592 269h4M1593 281h4M1594 219h4M1594 244h4M1594 248h4M1594 273h4M1595 267h4M1596 227h4M1596 248h4M1596 252h4M1601 236h4M1601 251h4M1601 253h4M1601 276h4M1606 111h4" stroke="#959595" stroke-width="4" fill="none"/>
<path d="M1198.2 329.8H1623" stroke="#000" stroke-width="1.4"/>
<path d="M1197.6 149.9 1199.6 151.4 1201.6 152.9 1203.6 154.4 1205.6 155.9 1207.6 157.3 1209.6 158.8 1211.6 160.3 1213.6 161.8 1215.6 163.3 1217.6 164.8 1219.6 166.3 1221.6 167.7 1223.6 169.2 1225.6 170.7 1227.6 172.2 1229.6 173.7 1231.6 175.2 1233.6 176.7 1235.6 178.2 1237.6 179.7 1239.6 181.2 1241.6 182.7 1243.6 184.2 1245.6 185.7 1247.6 187.2 1249.6 188.7 1251.6 190.2 1253.6 191.8 1255.6 193.3 1257.6 194.8 1259.6 196.4 1261.6 197.9 1263.6 199.4 1265.6 201 1267.6 202.5 1269.6 204.1 1271.6 205.6 1273.6 207.2 1275.6 208.7 1277.6 210.3 1279.6 211.8 1281.6 213.4 1283.6 214.9 1285.6 216.5 1287.6 218.1 L1287.6 224.5 1285.6 223 1283.6 221.6 1281.6 220.2 1279.6 218.9 1277.6 217.6 1275.6 216.2 1273.6 214.9 1271.6 213.7 1269.6 212.4 1267.6 211.2 1265.6 210 1263.6 208.8 1261.6 207.6 1259.6 206.5 1257.6 205.3 1255.6 204.3 1253.6 203.2 1251.6 202.1 1249.6 201.1 1247.6 200.1 1245.6 199.2 1243.6 198.2 1241.6 197.3 1239.6 196.5 1237.6 195.7 1235.6 194.9 1233.6 194.1 1231.6 193.3 1229.6 192.5 1227.6 191.7 1225.6 190.9 1223.6 190.2 1221.6 189.4 1219.6 188.6 1217.6 187.8 1215.6 187 1213.6 186.2 1211.6 185.5 1209.6 184.7 1207.6 184 1205.6 183.2 1203.6 182.5 1201.6 181.8 1199.6 181 1197.6 180.3Z" fill="#2e6f9e" fill-opacity="0.38"/>
<path d="M1577.6 295.6 1579.6 292.2 1581.6 288.8 1583.6 285.3 1585.6 281.7 1587.6 278 1589.6 274.3 1591.6 270.4 1593.6 266.4 1595.6 262.3 1597.6 258.3 1599.6 254.4 1601.6 250.6 1603.6 246.8 1605.6 243.1 1607.6 239.4 1609.6 235.6 1611.6 231.8 1613.6 228 1615.6 224.2 1617.6 220.4 1619.6 216.5 1621.6 212.7 1623.6 208.8 1624 207.9 L1624 231.9 1623.6 232.5 1621.6 235 1619.6 237.5 1617.6 240.1 1615.6 242.8 1613.6 245.5 1611.6 248.2 1609.6 251 1607.6 253.8 1605.6 256.6 1603.6 259.6 1601.6 262.6 1599.6 265.7 1597.6 268.9 1595.6 272.3 1593.6 275.7 1591.6 279.2 1589.6 282.7 1587.6 286 1585.6 289.3 1583.6 292.6 1581.6 295.8 1579.6 298.9 1577.6 302.1Z" fill="#2e6f9e" fill-opacity="0.38"/>
<path d="M1197.6 165.1 1199.6 166.2 1201.6 167.3 1203.6 168.4 1205.6 169.5 1207.6 170.7 1209.6 171.8 1211.6 172.9 1213.6 174 1215.6 175.1 1217.6 176.3 1219.6 177.4 1221.6 178.6 1223.6 179.7 1225.6 180.8 1227.6 182 1229.6 183.1 1231.6 184.3 1233.6 185.4 1235.6 186.5 1237.6 187.7 1239.6 188.9 1241.6 190 1243.6 191.2 1245.6 192.4 1247.6 193.7 1249.6 194.9 1251.6 196.2 1253.6 197.5 1255.6 198.8 1257.6 200.1 1259.6 201.4 1261.6 202.7 1263.6 204.1 1265.6 205.5 1267.6 206.8 1269.6 208.2 1271.6 209.6 1273.6 211.1 1275.6 212.5 1277.6 213.9 1279.6 215.3 1281.6 216.8 1283.6 218.3 1285.6 219.8 1287.6 221.3 1289.6 222.8 1291.6 224.4 1293.6 226 1295.6 227.6 1297.6 229.3 1299.6 231 1301.6 232.7 1303.6 234.5 1305.6 236.2 1307.6 238.1 1309.6 239.9 1311.6 241.8 1313.6 243.7 1315.6 245.6 1317.6 247.6 1319.6 249.6 1321.6 251.6 1323.6 253.6 1325.6 255.7 1327.6 257.8 1329.6 259.9 1331.6 262.1 1333.6 264.3 1335.6 266.5 1337.6 268.7 1339.6 271 1341.6 273.2 1343.6 275.5 1345.6 277.8 1347.6 280.1 1349.6 282.5 1351.6 284.9 1353.6 287.3 1355.6 289.7 1357.6 292.1 1359.6 294.6 1361.6 297 1363.6 299.5 1365.6 302 1367.6 304.5 1369.6 307 1371.6 309.5 1373.6 312 1375.6 314.6 1377.6 317 1379.6 319.5 1381.6 321.9 1383.6 324.5 1385.6 327 1387.6 329.4 1389.6 331.7 1391.6 333.6 1393.6 335.3 1395.6 336.9 1397.6 338.4 1399.6 339.7 1401.6 340.8 1403.6 341.7 1405.6 342.4 1407.6 343.1 1409.6 343.6 1411.6 344.1 1413.6 344.5 1415.6 344.6 1417.6 344.6 1419.6 344.5 1421.6 344.3 1423.6 344.1 1425.6 343.8 1427.6 343.2 1429.6 342 1431.6 340.6 1433.6 339.1 1435.6 337.7 1437.6 336 1439.6 334.5 1441.6 333.8 1443.6 334 1445.6 334.4 1447.6 334.9 1449.6 335.6 1451.6 336.5 1453.6 337.4 1455.6 337.8 1457.6 337.7 1459.6 337.4 1461.6 337 1463.6 336.6 1465.6 336.2 1467.6 335.7 1469.6 335.2 1471.6 335 1473.6 335.2 1475.6 335.8 1477.6 336.7 1479.6 337.7 1481.6 339 1483.6 340.7 1485.6 342.7 1487.6 344.4 1489.6 346 1491.6 347.7 1493.6 349.2 1495.6 350.6 1497.6 351.7 1499.6 352.6 1501.6 353.5 1503.6 354.2 1505.6 354.8 1507.6 355 1509.6 355 1511.6 355 1513.6 355 1515.6 355 1517.6 355 1519.6 354.8 1521.6 354.3 1523.6 353.6 1525.6 352.7 1527.6 351.8 1529.6 351 1531.6 349.9 1533.6 348.7 1535.6 347.5 1537.6 346.1 1539.6 344.7 1541.6 343.2 1543.6 341.5 1545.6 339.8 1547.6 337.9 1549.6 335.9 1551.6 333.9 1553.6 331.9 1555.6 329.7 1557.6 327.4 1559.6 325 1561.6 322.5 1563.6 320 1565.6 317.3 1567.6 314.4 1569.6 311.4 1571.6 308.3 1573.6 305.2 1575.6 302 1577.6 298.8 1579.6 295.6 1581.6 292.3 1583.6 288.9 1585.6 285.5 1587.6 282 1589.6 278.5 1591.6 274.8 1593.6 271 1595.6 267.3 1597.6 263.6 1599.6 260 1601.6 256.6 1603.6 253.2 1605.6 249.9 1607.6 246.6 1609.6 243.3 1611.6 240 1613.6 236.7 1615.6 233.5 1617.6 230.3 1619.6 227 1621.6 223.8 1623.6 220.6 1624 219.9" stroke="#fb210e" stroke-width="7.9" stroke-linejoin="round" stroke-linecap="butt" fill="none"/>
</g>
<path d="M1197.1 87H1624.5" stroke="#2b2b2b" stroke-width="4" fill="none"/>
<path d="M1197.1 572.5H1624.5" stroke="#2b2b2b" stroke-width="3.5" fill="none"/>
<path d="M1623 87V572.5" stroke="#2b2b2b" stroke-width="3" fill="none"/>
<path d="M1198.2 87V572.5" stroke="#1c1c1c" stroke-width="2.2" fill="none"/>
<path d="M1185.2 572.8H1198.2M1185.2 451.4H1198.2M1185.2 330.1H1198.2M1185.2 208.7H1198.2M1185.2 87.3H1198.2M1269.9 572.5V584.8M1358.6 572.5V584.8M1447 572.5V584.8M1534.9 572.5V584.8M1623.2 572.5V584.8" stroke="#333333" stroke-width="3.6" fill="none"/>
<text x="1175.5" y="587.1" font-size="38.7" text-anchor="end" fill="#474747">-10</text>
<text x="1175.5" y="465.7" font-size="38.7" text-anchor="end" fill="#474747">-5</text>
<text x="1175.5" y="344.4" font-size="38.7" text-anchor="end" fill="#474747">0</text>
<text x="1175.5" y="223" font-size="38.7" text-anchor="end" fill="#474747">5</text>
<text x="1175.5" y="101.6" font-size="38.7" text-anchor="end" fill="#474747">10</text>
<text x="1269.9" y="624" font-size="38.7" text-anchor="middle" fill="#474747">-0.2</text>
<text x="1358.6" y="624" font-size="38.7" text-anchor="middle" fill="#474747">-0.1</text>
<text x="1447" y="624" font-size="38.7" text-anchor="middle" fill="#474747">0.0</text>
<text x="1534.9" y="624" font-size="38.7" text-anchor="middle" fill="#474747">0.1</text>
<text x="1623.2" y="624" font-size="38.7" text-anchor="middle" fill="#474747">0.2</text>
</g>
<g id="panel-d">
<clipPath id="clipd"><rect x="1725.2" y="87" width="425.2" height="485.5"/></clipPath>
<rect x="1725.2" y="0.6" width="425.2" height="86.4" fill="#d9d9d9" stroke="#2b2b2b" stroke-width="2.5"/>
<text x="1937.2" y="64" font-size="52.4" text-anchor="middle" fill="#1a1a1a">(d) Mean.T</text>
<g clip-path="url(#clipd)">
<path d="M1725.2 511.8H2150.4M1725.2 390.4H2150.4M1725.2 269.1H2150.4M1725.2 147.7H2150.4M1789.1 87V572.5M1891.4 87V572.5M1993.7 87V572.5M2096.1 87V572.5" stroke="#ebebeb" stroke-width="2" fill="none"/>
<path d="M1725.2 572.5H2150.4M1725.2 451.1H2150.4M1725.2 329.8H2150.4M1725.2 208.4H2150.4M1725.2 87H2150.4M1737.9 87V572.5M1840.2 87V572.5M1942.6 87V572.5M2044.9 87V572.5M2147.2 87V572.5" stroke="#ebebeb" stroke-width="3.9" fill="none"/>
<path d="M1726 309h4M1726 317h4M1726 321h4M1727 292h4M1727 298h4M1727 308h4M1727 327h4M1728 306h4M1728 313h4M1728 316h4M1728 320h4M1728 321h4M1728 332h4M1729 270h4M1729 304h4M1729 313h4M1729 319h4M1729 320h4M1729 324h4M1729 327h4M1730 317h4M1730 321h4M1730 324h4M1730 331h4M1730 362h4M1731 323h4M1731 324h4M1731 328h4M1732 310h4M1732 315h4M1732 316h4M1732 320h4M1732 326h4M1732 327h4M1733 302h4M1733 310h4M1733 313h4M1733 315h4M1733 318h4M1733 322h4M1734 292h4M1734 309h4M1734 315h4M1734 316h4M1734 318h4M1734 321h4M1735 303h4M1735 305h4M1735 308h4M1735 310h4M1735 314h4M1735 315h4M1735 316h4M1735 317h4M1735 321h4M1735 328h4M1736 307h4M1736 312h4M1736 313h4M1736 314h4M1736 316h4M1736 319h4M1736 324h4M1737 307h4M1737 308h4M1737 311h4M1737 312h4M1737 313h4M1737 314h4M1737 315h4M1737 316h4M1737 318h4M1737 319h4M1737 320h4M1737 323h4M1737 324h4M1737 325h4M1737 327h4M1738 292h4M1738 310h4M1738 312h4M1738 313h4M1738 316h4M1738 318h4M1738 321h4M1738 322h4M1738 323h4M1738 324h4M1739 285h4M1739 306h4M1739 307h4M1739 314h4M1739 317h4M1739 328h4M1739 331h4M1740 301h4M1740 302h4M1740 312h4M1740 318h4M1740 319h4M1740 324h4M1740 327h4M1741 309h4M1741 312h4M1741 313h4M1741 314h4M1741 324h4M1741 329h4M1741 330h4M1742 303h4M1742 309h4M1742 310h4M1742 312h4M1742 314h4M1742 320h4M1742 322h4M1742 323h4M1743 295h4M1743 306h4M1743 309h4M1743 320h4M1743 322h4M1743 327h4M1744 305h4M1744 310h4M1744 313h4M1744 314h4M1744 316h4M1744 317h4M1744 321h4M1744 323h4M1745 311h4M1745 312h4M1745 313h4M1745 315h4M1745 316h4M1745 317h4M1746 307h4M1746 308h4M1746 312h4M1746 314h4M1746 316h4M1746 317h4M1746 321h4M1746 322h4M1746 336h4M1747 296h4M1747 307h4M1747 310h4M1747 312h4M1747 314h4M1747 315h4M1747 316h4M1747 317h4M1747 321h4M1747 323h4M1748 306h4M1748 307h4M1748 308h4M1748 309h4M1748 311h4M1748 326h4M1748 328h4M1749 311h4M1749 313h4M1749 314h4M1749 315h4M1749 319h4M1749 320h4M1749 327h4M1750 306h4M1750 307h4M1750 309h4M1750 310h4M1750 311h4M1750 312h4M1750 317h4M1751 306h4M1751 311h4M1751 313h4M1751 314h4M1751 318h4M1751 319h4M1751 322h4M1751 324h4M1752 297h4M1752 300h4M1752 302h4M1752 306h4M1752 311h4M1752 312h4M1752 313h4M1752 315h4M1752 319h4M1753 301h4M1753 310h4M1753 311h4M1753 313h4M1753 315h4M1753 316h4M1753 323h4M1753 326h4M1754 298h4M1754 305h4M1754 311h4M1754 312h4M1754 313h4M1754 316h4M1754 319h4M1754 320h4M1754 323h4M1754 327h4M1754 335h4M1755 305h4M1755 312h4M1755 313h4M1755 315h4M1755 324h4M1756 294h4M1756 304h4M1756 306h4M1756 309h4M1756 310h4M1756 316h4M1756 321h4M1756 322h4M1757 303h4M1757 307h4M1757 317h4M1757 318h4M1757 319h4M1757 322h4M1757 323h4M1758 296h4M1758 301h4M1758 302h4M1758 305h4M1758 306h4M1758 307h4M1758 312h4M1758 314h4M1758 315h4M1758 317h4M1758 318h4M1758 320h4M1759 306h4M1759 308h4M1759 309h4M1759 312h4M1759 314h4M1759 315h4M1759 321h4M1760 308h4M1760 309h4M1760 311h4M1760 316h4M1760 317h4M1760 319h4M1760 324h4M1760 328h4M1760 332h4M1761 309h4M1761 315h4M1761 318h4M1762 300h4M1762 301h4M1762 303h4M1762 306h4M1762 307h4M1762 308h4M1762 311h4M1762 313h4M1762 315h4M1762 320h4M1762 331h4M1762 336h4M1763 301h4M1763 306h4M1763 307h4M1763 315h4M1763 318h4M1764 296h4M1764 305h4M1764 310h4M1764 312h4M1764 314h4M1764 316h4M1764 317h4M1765 305h4M1765 314h4M1765 318h4M1766 277h4M1766 296h4M1766 308h4M1766 309h4M1766 314h4M1766 320h4M1766 328h4M1767 230h4M1767 299h4M1767 302h4M1767 304h4M1767 306h4M1767 308h4M1767 313h4M1767 314h4M1767 324h4M1768 249h4M1768 260h4M1768 298h4M1768 303h4M1768 305h4M1768 307h4M1768 308h4M1768 315h4M1768 321h4M1768 322h4M1768 325h4M1769 237h4M1769 249h4M1769 258h4M1769 273h4M1769 299h4M1769 311h4M1769 317h4M1769 319h4M1769 320h4M1770 217h4M1770 245h4M1770 248h4M1770 254h4M1770 277h4M1770 297h4M1770 303h4M1770 306h4M1770 310h4M1770 314h4M1770 315h4M1770 321h4M1771 294h4M1771 300h4M1771 304h4M1771 316h4M1771 317h4M1771 319h4M1772 254h4M1772 257h4M1772 268h4M1772 292h4M1772 293h4M1772 303h4M1772 310h4M1772 314h4M1772 318h4M1772 319h4M1773 237h4M1773 240h4M1773 269h4M1773 291h4M1773 304h4M1773 305h4M1773 306h4M1773 309h4M1773 310h4M1773 311h4M1773 312h4M1773 314h4M1773 315h4M1773 316h4M1774 240h4M1774 252h4M1774 271h4M1774 297h4M1774 306h4M1774 316h4M1774 319h4M1774 325h4M1774 327h4M1774 338h4M1775 235h4M1775 236h4M1775 242h4M1775 252h4M1775 257h4M1775 261h4M1775 275h4M1775 293h4M1775 301h4M1775 307h4M1775 308h4M1775 310h4M1775 313h4M1775 315h4M1775 318h4M1775 320h4M1775 325h4M1776 224h4M1776 236h4M1776 256h4M1776 259h4M1776 272h4M1776 278h4M1776 287h4M1776 299h4M1776 309h4M1776 316h4M1776 317h4M1776 322h4M1777 219h4M1777 222h4M1777 248h4M1777 253h4M1777 256h4M1777 271h4M1777 275h4M1777 293h4M1777 302h4M1777 306h4M1777 309h4M1777 310h4M1777 312h4M1778 226h4M1778 244h4M1778 259h4M1778 276h4M1778 281h4M1778 286h4M1778 295h4M1778 299h4M1778 308h4M1778 317h4M1778 319h4M1778 324h4M1778 328h4M1779 243h4M1779 246h4M1779 259h4M1779 266h4M1779 278h4M1779 288h4M1779 298h4M1779 308h4M1779 310h4M1779 313h4M1779 314h4M1779 315h4M1779 321h4M1779 328h4M1780 228h4M1780 282h4M1780 289h4M1780 291h4M1780 302h4M1780 306h4M1780 307h4M1780 308h4M1780 310h4M1780 311h4M1780 313h4M1780 314h4M1780 322h4M1780 326h4M1780 346h4M1781 224h4M1781 246h4M1781 263h4M1781 266h4M1781 267h4M1781 272h4M1781 282h4M1781 297h4M1781 298h4M1781 299h4M1781 302h4M1781 308h4M1781 310h4M1781 311h4M1781 315h4M1781 317h4M1781 318h4M1781 335h4M1782 230h4M1782 235h4M1782 238h4M1782 266h4M1782 270h4M1782 280h4M1782 281h4M1782 289h4M1782 291h4M1782 300h4M1782 305h4M1782 306h4M1782 309h4M1782 312h4M1782 313h4M1782 317h4M1782 324h4M1782 328h4M1782 344h4M1782 355h4M1783 239h4M1783 255h4M1783 270h4M1783 281h4M1783 299h4M1783 303h4M1783 304h4M1783 315h4M1783 319h4M1784 244h4M1784 258h4M1784 263h4M1784 266h4M1784 268h4M1784 286h4M1784 300h4M1784 302h4M1784 304h4M1784 307h4M1784 309h4M1784 311h4M1784 313h4M1784 314h4M1784 316h4M1784 319h4M1784 321h4M1784 324h4M1785 244h4M1785 247h4M1785 250h4M1785 262h4M1785 268h4M1785 272h4M1785 273h4M1785 282h4M1785 294h4M1785 303h4M1785 306h4M1785 309h4M1785 311h4M1785 313h4M1785 317h4M1785 345h4M1786 255h4M1786 286h4M1786 302h4M1786 305h4M1786 306h4M1786 309h4M1786 311h4M1786 312h4M1786 314h4M1786 330h4M1787 244h4M1787 248h4M1787 274h4M1787 278h4M1787 292h4M1787 295h4M1787 296h4M1787 301h4M1787 306h4M1787 312h4M1787 313h4M1787 315h4M1787 316h4M1787 317h4M1787 318h4M1787 323h4M1788 260h4M1788 273h4M1788 289h4M1788 300h4M1788 311h4M1788 312h4M1788 313h4M1788 314h4M1788 316h4M1788 317h4M1788 320h4M1789 243h4M1789 247h4M1789 283h4M1789 303h4M1789 312h4M1789 314h4M1789 318h4M1789 328h4M1789 333h4M1790 303h4M1790 308h4M1790 313h4M1790 314h4M1790 315h4M1790 321h4M1790 349h4M1791 227h4M1791 304h4M1791 309h4M1791 311h4M1791 316h4M1791 317h4M1791 326h4M1792 261h4M1792 301h4M1792 303h4M1792 307h4M1792 308h4M1792 321h4M1792 322h4M1793 243h4M1793 273h4M1793 309h4M1793 312h4M1793 326h4M1794 247h4M1794 252h4M1794 296h4M1794 301h4M1794 307h4M1794 310h4M1794 312h4M1794 315h4M1794 318h4M1794 320h4M1794 322h4M1794 330h4M1795 264h4M1795 300h4M1795 307h4M1795 308h4M1795 312h4M1795 313h4M1795 315h4M1795 317h4M1795 323h4M1795 326h4M1795 333h4M1795 361h4M1796 298h4M1796 305h4M1796 307h4M1796 308h4M1796 313h4M1796 314h4M1796 315h4M1796 318h4M1796 320h4M1796 339h4M1797 298h4M1797 306h4M1797 307h4M1797 311h4M1797 312h4M1797 316h4M1797 317h4M1797 318h4M1797 324h4M1798 308h4M1798 311h4M1798 313h4M1798 314h4M1798 315h4M1798 316h4M1798 317h4M1798 319h4M1798 341h4M1799 312h4M1799 315h4M1799 318h4M1799 320h4M1799 322h4M1799 324h4M1799 339h4M1800 274h4M1800 308h4M1800 313h4M1800 314h4M1800 321h4M1800 339h4M1801 297h4M1801 307h4M1801 309h4M1801 310h4M1801 313h4M1801 316h4M1802 295h4M1802 302h4M1802 306h4M1802 310h4M1802 313h4M1802 315h4M1802 320h4M1803 302h4M1803 310h4M1803 314h4M1803 315h4M1803 320h4M1803 325h4M1803 341h4M1804 306h4M1804 311h4M1804 314h4M1804 318h4M1804 319h4M1804 321h4M1804 323h4M1804 337h4M1805 298h4M1805 312h4M1805 313h4M1805 318h4M1805 338h4M1806 294h4M1806 304h4M1806 307h4M1806 310h4M1806 315h4M1806 316h4M1807 299h4M1807 305h4M1807 310h4M1807 311h4M1807 312h4M1807 313h4M1807 316h4M1807 317h4M1807 320h4M1807 346h4M1808 307h4M1808 308h4M1808 310h4M1808 312h4M1808 313h4M1808 318h4M1808 321h4M1808 352h4M1809 312h4M1809 314h4M1809 318h4M1809 320h4M1809 322h4M1809 327h4M1809 332h4M1809 337h4M1810 307h4M1810 313h4M1810 319h4M1810 321h4M1811 308h4M1811 311h4M1811 315h4M1811 319h4M1811 345h4M1812 316h4M1812 321h4M1812 323h4M1812 324h4M1812 339h4M1812 342h4M1812 346h4M1813 294h4M1813 306h4M1813 313h4M1813 314h4M1813 317h4M1813 318h4M1813 320h4M1813 321h4M1813 323h4M1813 326h4M1814 307h4M1814 310h4M1814 312h4M1814 313h4M1814 314h4M1814 319h4M1814 322h4M1814 324h4M1814 327h4M1814 331h4M1815 290h4M1815 292h4M1815 303h4M1815 305h4M1815 307h4M1815 310h4M1815 315h4M1815 316h4M1815 317h4M1815 321h4M1815 328h4M1816 304h4M1816 305h4M1816 311h4M1816 316h4M1816 319h4M1816 320h4M1816 327h4M1816 328h4M1816 341h4M1816 342h4M1816 344h4M1816 350h4M1817 301h4M1817 307h4M1817 310h4M1817 315h4M1817 316h4M1817 318h4M1817 319h4M1817 329h4M1817 331h4M1817 343h4M1817 403h4M1818 303h4M1818 317h4M1818 319h4M1818 326h4M1818 336h4M1818 339h4M1818 357h4M1819 313h4M1819 315h4M1819 317h4M1819 319h4M1819 321h4M1819 344h4M1819 345h4M1820 285h4M1820 308h4M1820 320h4M1820 322h4M1820 323h4M1820 328h4M1820 349h4M1821 300h4M1821 303h4M1821 313h4M1821 317h4M1821 319h4M1821 320h4M1821 321h4M1821 325h4M1821 331h4M1821 333h4M1822 285h4M1822 311h4M1822 314h4M1822 316h4M1822 320h4M1822 321h4M1822 323h4M1822 325h4M1823 281h4M1823 286h4M1823 311h4M1823 312h4M1823 314h4M1823 315h4M1823 316h4M1823 323h4M1823 325h4M1823 346h4M1823 352h4M1824 286h4M1824 308h4M1824 313h4M1824 315h4M1824 316h4M1824 323h4M1824 325h4M1824 326h4M1824 335h4M1824 339h4M1824 344h4M1824 358h4M1825 265h4M1825 302h4M1825 311h4M1825 313h4M1825 316h4M1825 323h4M1825 324h4M1825 333h4M1825 343h4M1825 349h4M1826 271h4M1826 282h4M1826 293h4M1826 297h4M1826 308h4M1826 310h4M1826 317h4M1826 322h4M1826 346h4M1826 354h4M1826 355h4M1827 278h4M1827 284h4M1827 302h4M1827 306h4M1827 307h4M1827 311h4M1827 313h4M1827 319h4M1827 321h4M1827 325h4M1828 280h4M1828 286h4M1828 288h4M1828 289h4M1828 300h4M1828 312h4M1828 315h4M1828 316h4M1828 322h4M1828 323h4M1828 328h4M1828 329h4M1828 330h4M1828 340h4M1828 341h4M1828 344h4M1828 349h4M1829 277h4M1829 280h4M1829 287h4M1829 295h4M1829 309h4M1829 316h4M1829 317h4M1829 318h4M1829 319h4M1829 320h4M1829 324h4M1829 327h4M1829 329h4M1829 333h4M1829 334h4M1829 341h4M1829 342h4M1829 352h4M1830 277h4M1830 303h4M1830 317h4M1830 322h4M1830 325h4M1830 327h4M1830 328h4M1830 333h4M1830 334h4M1830 336h4M1830 339h4M1830 340h4M1830 342h4M1831 259h4M1831 280h4M1831 284h4M1831 291h4M1831 301h4M1831 308h4M1831 310h4M1831 311h4M1831 314h4M1831 318h4M1831 322h4M1831 323h4M1831 324h4M1831 327h4M1831 329h4M1831 334h4M1831 336h4M1831 342h4M1831 347h4M1831 351h4M1832 273h4M1832 289h4M1832 293h4M1832 297h4M1832 302h4M1832 312h4M1832 314h4M1832 315h4M1832 316h4M1832 317h4M1832 318h4M1832 319h4M1832 326h4M1832 331h4M1832 338h4M1832 362h4M1833 258h4M1833 269h4M1833 272h4M1833 281h4M1833 283h4M1833 308h4M1833 314h4M1833 317h4M1833 319h4M1833 320h4M1833 321h4M1833 322h4M1833 323h4M1833 324h4M1833 330h4M1833 333h4M1833 334h4M1833 336h4M1833 338h4M1833 349h4M1833 351h4M1833 360h4M1834 241h4M1834 257h4M1834 275h4M1834 277h4M1834 300h4M1834 308h4M1834 309h4M1834 317h4M1834 319h4M1834 320h4M1834 322h4M1834 323h4M1834 324h4M1834 339h4M1834 341h4M1834 344h4M1834 358h4M1834 373h4M1835 270h4M1835 295h4M1835 296h4M1835 300h4M1835 307h4M1835 308h4M1835 315h4M1835 316h4M1835 319h4M1835 321h4M1835 322h4M1835 323h4M1835 328h4M1835 331h4M1835 333h4M1835 335h4M1835 346h4M1835 360h4M1836 258h4M1836 279h4M1836 312h4M1836 314h4M1836 318h4M1836 319h4M1836 321h4M1836 326h4M1836 327h4M1836 329h4M1836 339h4M1836 348h4M1836 349h4M1837 269h4M1837 270h4M1837 294h4M1837 314h4M1837 317h4M1837 318h4M1837 320h4M1837 321h4M1837 324h4M1837 326h4M1837 327h4M1837 328h4M1837 335h4M1837 339h4M1837 344h4M1837 346h4M1838 269h4M1838 279h4M1838 311h4M1838 314h4M1838 318h4M1838 322h4M1838 323h4M1838 326h4M1838 332h4M1838 342h4M1838 351h4M1839 263h4M1839 315h4M1839 316h4M1839 318h4M1839 319h4M1839 320h4M1839 321h4M1839 326h4M1839 331h4M1839 338h4M1839 347h4M1839 349h4M1839 353h4M1839 356h4M1839 359h4M1840 304h4M1840 312h4M1840 314h4M1840 315h4M1840 319h4M1840 321h4M1840 322h4M1840 334h4M1840 341h4M1840 351h4M1840 354h4M1840 356h4M1841 296h4M1841 300h4M1841 305h4M1841 319h4M1841 324h4M1841 326h4M1841 347h4M1841 354h4M1841 431h4M1841 444h4M1841 457h4M1842 302h4M1842 308h4M1842 314h4M1842 315h4M1842 317h4M1842 318h4M1842 320h4M1842 321h4M1842 322h4M1842 323h4M1842 330h4M1842 333h4M1842 334h4M1842 338h4M1842 340h4M1842 356h4M1842 357h4M1843 297h4M1843 316h4M1843 317h4M1843 319h4M1843 320h4M1843 321h4M1843 322h4M1843 323h4M1843 327h4M1843 339h4M1843 341h4M1843 347h4M1843 353h4M1843 355h4M1843 446h4M1843 448h4M1844 309h4M1844 312h4M1844 317h4M1844 318h4M1844 319h4M1844 325h4M1844 328h4M1844 330h4M1844 331h4M1844 335h4M1844 346h4M1844 348h4M1844 379h4M1844 411h4M1844 414h4M1844 461h4M1845 316h4M1845 317h4M1845 321h4M1845 327h4M1845 329h4M1845 330h4M1845 340h4M1845 341h4M1845 345h4M1846 326h4M1846 328h4M1846 336h4M1846 346h4M1846 388h4M1846 419h4M1847 313h4M1847 319h4M1847 322h4M1847 325h4M1847 327h4M1847 337h4M1847 345h4M1847 346h4M1847 415h4M1847 433h4M1847 448h4M1848 301h4M1848 310h4M1848 312h4M1848 313h4M1848 320h4M1848 329h4M1848 333h4M1848 337h4M1848 340h4M1848 353h4M1848 355h4M1848 363h4M1849 306h4M1849 308h4M1849 309h4M1849 313h4M1849 315h4M1849 316h4M1849 321h4M1849 324h4M1849 325h4M1849 326h4M1849 327h4M1849 333h4M1849 335h4M1849 353h4M1849 357h4M1849 373h4M1850 307h4M1850 313h4M1850 319h4M1850 328h4M1850 344h4M1850 346h4M1851 323h4M1851 327h4M1851 330h4M1851 334h4M1852 317h4M1852 321h4M1852 326h4M1852 330h4M1852 331h4M1852 333h4M1852 335h4M1852 339h4M1852 342h4M1852 345h4M1852 350h4M1852 351h4M1853 292h4M1853 312h4M1853 314h4M1853 318h4M1853 323h4M1853 344h4M1853 348h4M1853 350h4M1854 308h4M1854 313h4M1854 322h4M1854 323h4M1854 326h4M1854 330h4M1854 334h4M1854 339h4M1854 345h4M1854 348h4M1855 329h4M1855 332h4M1855 339h4M1855 345h4M1855 348h4M1855 354h4M1856 307h4M1856 310h4M1856 313h4M1856 328h4M1856 329h4M1856 332h4M1856 334h4M1856 341h4M1856 348h4M1856 350h4M1856 361h4M1857 313h4M1857 314h4M1857 316h4M1857 317h4M1857 319h4M1857 320h4M1857 325h4M1857 326h4M1857 328h4M1857 349h4M1858 313h4M1858 321h4M1858 324h4M1858 326h4M1858 333h4M1858 336h4M1859 292h4M1859 317h4M1859 321h4M1859 325h4M1859 330h4M1859 335h4M1859 337h4M1859 343h4M1860 273h4M1860 316h4M1860 319h4M1860 328h4M1860 329h4M1860 331h4M1860 349h4M1860 351h4M1861 281h4M1861 290h4M1861 299h4M1861 312h4M1861 318h4M1861 319h4M1861 320h4M1861 321h4M1861 325h4M1861 326h4M1861 330h4M1861 333h4M1861 334h4M1861 335h4M1861 348h4M1862 291h4M1862 299h4M1862 300h4M1862 318h4M1862 323h4M1862 324h4M1862 328h4M1862 330h4M1862 342h4M1863 288h4M1863 290h4M1863 300h4M1863 310h4M1863 314h4M1863 317h4M1863 319h4M1863 332h4M1863 335h4M1863 336h4M1863 340h4M1863 349h4M1864 291h4M1864 297h4M1864 304h4M1864 306h4M1864 316h4M1864 319h4M1864 326h4M1864 328h4M1864 331h4M1864 344h4M1864 352h4M1865 289h4M1865 293h4M1865 306h4M1865 312h4M1865 320h4M1865 322h4M1865 324h4M1865 326h4M1865 330h4M1865 332h4M1865 334h4M1866 289h4M1866 291h4M1866 307h4M1866 308h4M1866 309h4M1866 314h4M1866 316h4M1866 317h4M1866 318h4M1866 323h4M1866 324h4M1866 325h4M1866 326h4M1866 328h4M1866 331h4M1866 332h4M1867 291h4M1867 295h4M1867 301h4M1867 303h4M1867 310h4M1867 311h4M1867 312h4M1867 313h4M1867 314h4M1867 315h4M1867 316h4M1867 318h4M1867 323h4M1867 324h4M1867 333h4M1867 347h4M1868 287h4M1868 291h4M1868 293h4M1868 303h4M1868 304h4M1868 309h4M1868 316h4M1868 320h4M1868 329h4M1868 330h4M1868 332h4M1868 339h4M1869 311h4M1869 315h4M1869 316h4M1869 317h4M1869 318h4M1869 320h4M1869 322h4M1869 327h4M1869 333h4M1869 337h4M1870 273h4M1870 291h4M1870 297h4M1870 306h4M1870 307h4M1870 320h4M1870 322h4M1870 323h4M1870 326h4M1870 328h4M1870 335h4M1870 344h4M1871 297h4M1871 304h4M1871 305h4M1871 311h4M1871 317h4M1871 318h4M1871 320h4M1871 322h4M1871 323h4M1871 326h4M1871 328h4M1871 329h4M1871 331h4M1871 354h4M1871 356h4M1872 291h4M1872 303h4M1872 311h4M1872 313h4M1872 314h4M1872 315h4M1872 316h4M1872 317h4M1872 318h4M1872 320h4M1872 324h4M1872 333h4M1872 343h4M1872 347h4M1873 280h4M1873 286h4M1873 300h4M1873 308h4M1873 314h4M1873 323h4M1873 324h4M1873 325h4M1873 327h4M1873 331h4M1873 348h4M1874 277h4M1874 300h4M1874 314h4M1874 321h4M1874 322h4M1874 327h4M1874 329h4M1874 330h4M1874 332h4M1874 334h4M1874 336h4M1874 337h4M1875 305h4M1875 311h4M1875 313h4M1875 319h4M1875 345h4M1876 293h4M1876 299h4M1876 301h4M1876 304h4M1876 306h4M1876 311h4M1876 314h4M1876 317h4M1876 319h4M1876 320h4M1876 322h4M1876 324h4M1876 325h4M1876 326h4M1876 327h4M1876 329h4M1876 334h4M1877 298h4M1877 307h4M1877 313h4M1877 320h4M1877 321h4M1877 324h4M1877 328h4M1877 330h4M1877 333h4M1878 316h4M1878 319h4M1878 323h4M1878 325h4M1878 329h4M1878 330h4M1878 335h4M1878 337h4M1879 295h4M1879 317h4M1879 318h4M1879 319h4M1879 323h4M1879 333h4M1879 346h4M1880 306h4M1880 314h4M1880 322h4M1880 323h4M1880 324h4M1880 326h4M1880 327h4M1880 328h4M1880 330h4M1880 356h4M1881 319h4M1881 321h4M1881 323h4M1881 330h4M1881 331h4M1881 332h4M1881 334h4M1881 347h4M1882 308h4M1882 312h4M1882 314h4M1882 320h4M1882 323h4M1882 331h4M1882 334h4M1883 310h4M1883 318h4M1883 320h4M1883 325h4M1883 329h4M1883 343h4M1884 317h4M1884 320h4M1884 322h4M1884 330h4M1884 332h4M1884 333h4M1884 345h4M1885 319h4M1885 320h4M1885 325h4M1885 327h4M1885 330h4M1886 309h4M1886 311h4M1886 315h4M1886 320h4M1886 323h4M1886 328h4M1886 345h4M1887 317h4M1887 322h4M1887 323h4M1887 326h4M1888 314h4M1888 315h4M1888 318h4M1888 320h4M1888 329h4M1888 337h4M1888 360h4M1889 291h4M1889 313h4M1889 319h4M1889 321h4M1889 325h4M1889 328h4M1889 329h4M1890 292h4M1890 310h4M1890 322h4M1890 325h4M1890 327h4M1890 333h4M1890 336h4M1890 339h4M1890 352h4M1891 320h4M1891 321h4M1891 323h4M1891 326h4M1891 351h4M1892 282h4M1892 291h4M1892 294h4M1892 296h4M1892 304h4M1892 310h4M1892 311h4M1892 313h4M1892 314h4M1892 316h4M1892 321h4M1892 322h4M1892 323h4M1892 348h4M1893 307h4M1893 308h4M1893 309h4M1893 311h4M1893 315h4M1893 316h4M1893 317h4M1893 320h4M1893 328h4M1893 333h4M1893 340h4M1894 302h4M1894 312h4M1894 315h4M1894 317h4M1894 318h4M1894 320h4M1894 325h4M1894 326h4M1894 342h4M1895 274h4M1895 299h4M1895 317h4M1895 321h4M1895 322h4M1895 324h4M1895 325h4M1895 327h4M1895 328h4M1895 336h4M1896 292h4M1896 294h4M1896 297h4M1896 303h4M1896 304h4M1896 317h4M1896 318h4M1896 320h4M1896 323h4M1896 325h4M1896 327h4M1896 330h4M1896 334h4M1896 347h4M1897 298h4M1897 305h4M1897 306h4M1897 315h4M1897 322h4M1897 323h4M1897 329h4M1897 338h4M1898 297h4M1898 305h4M1898 307h4M1898 313h4M1898 316h4M1898 318h4M1898 321h4M1898 322h4M1898 324h4M1898 337h4M1899 295h4M1899 301h4M1899 308h4M1899 311h4M1899 320h4M1899 325h4M1899 331h4M1899 335h4M1900 289h4M1900 300h4M1900 314h4M1900 315h4M1900 316h4M1900 317h4M1900 318h4M1900 320h4M1900 329h4M1900 331h4M1901 291h4M1901 293h4M1901 301h4M1901 320h4M1902 271h4M1902 274h4M1902 314h4M1902 315h4M1902 316h4M1902 320h4M1902 321h4M1902 324h4M1902 327h4M1902 336h4M1903 293h4M1903 301h4M1903 310h4M1903 313h4M1903 316h4M1903 322h4M1903 330h4M1904 263h4M1904 300h4M1904 303h4M1904 304h4M1904 307h4M1904 320h4M1904 323h4M1904 327h4M1904 328h4M1905 284h4M1905 289h4M1905 302h4M1905 306h4M1905 314h4M1905 315h4M1905 317h4M1905 319h4M1905 320h4M1905 324h4M1905 330h4M1906 287h4M1906 314h4M1906 316h4M1906 317h4M1906 319h4M1906 320h4M1906 321h4M1906 324h4M1906 329h4M1906 343h4M1907 292h4M1907 295h4M1907 306h4M1907 309h4M1907 312h4M1907 314h4M1907 317h4M1907 325h4M1907 332h4M1908 293h4M1908 297h4M1908 314h4M1908 318h4M1908 320h4M1908 321h4M1908 322h4M1908 323h4M1908 325h4M1908 326h4M1909 280h4M1909 294h4M1909 299h4M1909 302h4M1909 315h4M1909 317h4M1909 319h4M1909 320h4M1909 322h4M1909 326h4M1910 283h4M1910 288h4M1910 292h4M1910 309h4M1910 310h4M1910 311h4M1910 315h4M1910 324h4M1911 285h4M1911 288h4M1911 292h4M1911 303h4M1911 308h4M1911 309h4M1911 312h4M1911 313h4M1911 314h4M1911 315h4M1911 321h4M1911 328h4M1911 339h4M1912 298h4M1912 301h4M1912 307h4M1912 310h4M1912 313h4M1912 318h4M1913 285h4M1913 288h4M1913 293h4M1913 296h4M1913 309h4M1913 310h4M1913 313h4M1913 314h4M1913 315h4M1913 316h4M1913 317h4M1913 318h4M1913 319h4M1913 323h4M1913 325h4M1913 329h4M1913 330h4M1913 333h4M1914 304h4M1914 307h4M1914 308h4M1914 309h4M1914 318h4M1914 321h4M1915 290h4M1915 300h4M1915 309h4M1915 311h4M1915 314h4M1915 315h4M1915 316h4M1915 317h4M1915 318h4M1915 321h4M1915 328h4M1915 332h4M1916 309h4M1916 312h4M1916 313h4M1916 314h4M1916 321h4M1917 299h4M1917 311h4M1917 313h4M1917 314h4M1917 326h4M1917 328h4M1917 336h4M1918 289h4M1918 305h4M1918 317h4M1918 320h4M1918 323h4M1919 277h4M1919 280h4M1919 290h4M1919 305h4M1919 310h4M1919 312h4M1919 319h4M1919 320h4M1919 321h4M1919 322h4M1919 323h4M1919 326h4M1919 328h4M1919 331h4M1920 308h4M1920 309h4M1920 313h4M1920 315h4M1920 317h4M1921 287h4M1921 290h4M1921 302h4M1921 303h4M1921 310h4M1921 315h4M1921 317h4M1921 318h4M1921 320h4M1921 323h4M1921 324h4M1922 296h4M1922 310h4M1922 311h4M1922 312h4M1922 316h4M1922 318h4M1922 321h4M1922 322h4M1922 327h4M1922 344h4M1923 283h4M1923 290h4M1923 293h4M1923 300h4M1923 303h4M1923 314h4M1923 318h4M1923 319h4M1923 322h4M1923 326h4M1924 305h4M1924 315h4M1924 317h4M1924 321h4M1924 323h4M1924 324h4M1924 331h4M1924 333h4M1924 334h4M1925 309h4M1925 317h4M1925 322h4M1926 293h4M1926 305h4M1926 316h4M1926 318h4M1926 319h4M1926 322h4M1926 324h4M1926 332h4M1927 301h4M1927 307h4M1927 308h4M1927 309h4M1927 311h4M1927 318h4M1928 292h4M1928 296h4M1928 300h4M1928 315h4M1928 316h4M1928 320h4M1928 322h4M1928 338h4M1929 274h4M1929 291h4M1929 298h4M1929 303h4M1929 306h4M1929 310h4M1929 312h4M1929 313h4M1929 314h4M1929 316h4M1929 317h4M1929 320h4M1929 322h4M1929 329h4M1930 310h4M1930 311h4M1930 319h4M1930 326h4M1931 284h4M1931 287h4M1931 308h4M1931 312h4M1931 313h4M1931 316h4M1931 320h4M1931 321h4M1931 326h4M1932 272h4M1932 284h4M1932 304h4M1932 313h4M1932 319h4M1932 328h4M1933 286h4M1933 308h4M1933 309h4M1933 314h4M1933 317h4M1933 318h4M1933 323h4M1934 280h4M1934 298h4M1934 300h4M1934 305h4M1934 309h4M1934 311h4M1934 315h4M1934 316h4M1934 318h4M1934 333h4M1935 301h4M1935 304h4M1935 307h4M1935 311h4M1935 313h4M1935 315h4M1935 316h4M1935 317h4M1935 318h4M1935 320h4M1936 279h4M1936 301h4M1936 302h4M1936 310h4M1936 313h4M1936 314h4M1936 317h4M1936 322h4M1936 333h4M1936 337h4M1936 338h4M1937 281h4M1937 290h4M1937 296h4M1937 308h4M1937 314h4M1937 321h4M1938 289h4M1938 290h4M1938 298h4M1938 299h4M1938 307h4M1938 309h4M1938 312h4M1938 313h4M1938 314h4M1938 317h4M1938 320h4M1938 322h4M1939 267h4M1939 276h4M1939 305h4M1939 309h4M1939 312h4M1939 314h4M1939 316h4M1939 321h4M1939 325h4M1940 283h4M1940 289h4M1940 302h4M1940 303h4M1940 309h4M1940 310h4M1940 315h4M1940 317h4M1940 321h4M1941 275h4M1941 296h4M1941 301h4M1941 302h4M1941 310h4M1941 312h4M1941 317h4M1941 321h4M1941 330h4M1942 295h4M1942 296h4M1942 297h4M1942 298h4M1942 304h4M1942 306h4M1942 307h4M1942 308h4M1942 309h4M1942 310h4M1942 312h4M1942 314h4M1942 315h4M1942 319h4M1942 325h4M1942 328h4M1942 338h4M1943 280h4M1943 286h4M1943 287h4M1943 303h4M1943 308h4M1943 310h4M1943 311h4M1943 312h4M1943 315h4M1943 320h4M1944 273h4M1944 285h4M1944 291h4M1944 294h4M1944 298h4M1944 304h4M1944 312h4M1944 314h4M1944 318h4M1944 321h4M1944 325h4M1945 273h4M1945 283h4M1945 285h4M1945 297h4M1945 305h4M1945 308h4M1945 311h4M1945 312h4M1945 313h4M1945 315h4M1945 316h4M1945 318h4M1945 333h4M1946 304h4M1946 305h4M1946 308h4M1946 310h4M1946 315h4M1946 316h4M1947 267h4M1947 286h4M1947 300h4M1947 310h4M1947 311h4M1947 312h4M1947 315h4M1947 316h4M1947 319h4M1947 321h4M1947 322h4M1948 270h4M1948 284h4M1948 286h4M1948 293h4M1948 303h4M1948 304h4M1948 308h4M1948 309h4M1948 310h4M1948 317h4M1948 321h4M1948 323h4M1948 333h4M1949 292h4M1949 294h4M1949 297h4M1949 300h4M1949 301h4M1949 304h4M1949 308h4M1949 309h4M1949 311h4M1949 313h4M1949 314h4M1949 315h4M1949 320h4M1949 324h4M1949 326h4M1950 284h4M1950 291h4M1950 292h4M1950 297h4M1950 304h4M1950 312h4M1950 319h4M1950 320h4M1951 279h4M1951 284h4M1951 291h4M1951 292h4M1951 296h4M1951 297h4M1951 299h4M1951 309h4M1951 312h4M1951 313h4M1951 314h4M1951 315h4M1951 317h4M1951 321h4M1951 322h4M1951 324h4M1951 326h4M1952 304h4M1952 311h4M1952 312h4M1952 314h4M1952 315h4M1953 289h4M1953 295h4M1953 299h4M1953 305h4M1953 307h4M1953 311h4M1953 312h4M1953 313h4M1953 322h4M1953 323h4M1953 325h4M1954 284h4M1954 288h4M1954 301h4M1954 310h4M1954 314h4M1954 318h4M1954 323h4M1954 325h4M1954 333h4M1955 274h4M1955 311h4M1955 312h4M1955 314h4M1955 318h4M1955 320h4M1955 322h4M1956 278h4M1956 305h4M1956 308h4M1956 315h4M1956 316h4M1956 317h4M1956 319h4M1956 321h4M1956 322h4M1956 323h4M1956 327h4M1956 332h4M1956 341h4M1957 271h4M1957 280h4M1957 293h4M1957 302h4M1957 310h4M1957 315h4M1957 318h4M1957 323h4M1957 328h4M1957 336h4M1958 286h4M1958 287h4M1958 301h4M1958 302h4M1958 305h4M1958 309h4M1958 310h4M1958 311h4M1958 312h4M1958 313h4M1958 316h4M1958 319h4M1958 331h4M1959 296h4M1959 300h4M1959 304h4M1959 316h4M1959 328h4M1960 286h4M1960 292h4M1960 293h4M1960 298h4M1960 308h4M1960 311h4M1960 312h4M1960 314h4M1960 315h4M1960 317h4M1960 318h4M1960 322h4M1960 324h4M1960 326h4M1961 301h4M1961 306h4M1961 312h4M1961 313h4M1961 314h4M1961 316h4M1961 319h4M1961 320h4M1961 329h4M1962 299h4M1962 304h4M1962 307h4M1962 310h4M1962 312h4M1962 319h4M1962 322h4M1962 326h4M1963 286h4M1963 305h4M1963 310h4M1963 315h4M1963 316h4M1963 320h4M1963 346h4M1964 288h4M1964 290h4M1964 296h4M1964 302h4M1964 303h4M1964 309h4M1964 314h4M1964 320h4M1964 323h4M1964 324h4M1964 339h4M1965 294h4M1965 296h4M1965 297h4M1965 306h4M1965 308h4M1965 314h4M1965 315h4M1965 316h4M1965 320h4M1965 324h4M1966 286h4M1966 315h4M1966 316h4M1966 320h4M1966 321h4M1966 325h4M1967 274h4M1967 312h4M1967 322h4M1968 307h4M1968 313h4M1968 314h4M1968 315h4M1968 316h4M1968 326h4M1969 296h4M1969 308h4M1969 316h4M1969 317h4M1969 322h4M1969 323h4M1969 325h4M1969 333h4M1970 304h4M1970 310h4M1970 311h4M1970 312h4M1970 315h4M1970 317h4M1970 320h4M1970 321h4M1970 323h4M1970 325h4M1970 326h4M1971 306h4M1971 307h4M1971 311h4M1971 314h4M1971 315h4M1971 323h4M1971 325h4M1971 326h4M1971 330h4M1971 336h4M1972 305h4M1972 307h4M1972 311h4M1972 313h4M1972 314h4M1972 320h4M1972 323h4M1972 324h4M1973 304h4M1973 311h4M1973 312h4M1973 314h4M1973 316h4M1973 318h4M1973 319h4M1973 320h4M1973 321h4M1973 330h4M1974 301h4M1974 304h4M1974 308h4M1974 311h4M1974 312h4M1974 314h4M1974 315h4M1974 316h4M1974 318h4M1974 319h4M1974 324h4M1974 325h4M1974 338h4M1975 282h4M1975 300h4M1975 303h4M1975 304h4M1975 308h4M1975 314h4M1975 317h4M1975 318h4M1975 320h4M1975 323h4M1976 293h4M1976 306h4M1976 311h4M1976 317h4M1976 318h4M1976 320h4M1977 298h4M1977 304h4M1977 307h4M1977 308h4M1977 310h4M1978 302h4M1978 303h4M1978 305h4M1978 308h4M1978 309h4M1978 314h4M1978 316h4M1978 317h4M1978 318h4M1978 321h4M1978 325h4M1979 298h4M1979 300h4M1979 305h4M1979 307h4M1979 335h4M1980 286h4M1980 298h4M1980 308h4M1980 313h4M1980 314h4M1980 315h4M1980 316h4M1980 317h4M1980 318h4M1980 320h4M1980 322h4M1980 340h4M1981 301h4M1981 304h4M1981 309h4M1981 310h4M1981 311h4M1981 315h4M1981 316h4M1981 320h4M1981 331h4M1982 297h4M1982 300h4M1982 302h4M1982 314h4M1982 317h4M1982 321h4M1982 329h4M1983 291h4M1983 297h4M1983 299h4M1983 305h4M1983 312h4M1983 313h4M1983 316h4M1983 323h4M1983 326h4M1984 299h4M1984 304h4M1984 305h4M1984 307h4M1984 311h4M1984 312h4M1984 313h4M1984 319h4M1984 320h4M1984 321h4M1984 325h4M1985 267h4M1985 289h4M1985 305h4M1985 307h4M1985 312h4M1985 315h4M1985 316h4M1985 320h4M1985 322h4M1985 324h4M1986 291h4M1986 296h4M1986 299h4M1986 300h4M1986 307h4M1986 317h4M1987 267h4M1987 279h4M1987 282h4M1987 302h4M1987 307h4M1987 309h4M1987 312h4M1987 316h4M1987 320h4M1988 297h4M1988 311h4M1988 312h4M1988 313h4M1988 314h4M1988 330h4M1989 270h4M1989 288h4M1989 297h4M1989 306h4M1989 316h4M1989 318h4M1990 289h4M1990 292h4M1990 304h4M1990 306h4M1990 307h4M1990 310h4M1990 313h4M1990 318h4M1990 320h4M1991 279h4M1991 287h4M1991 290h4M1991 296h4M1991 297h4M1991 306h4M1991 308h4M1991 310h4M1991 318h4M1991 332h4M1991 335h4M1992 300h4M1992 310h4M1992 311h4M1992 312h4M1992 314h4M1992 316h4M1993 306h4M1993 310h4M1993 314h4M1993 315h4M1994 294h4M1994 306h4M1994 310h4M1994 311h4M1994 312h4M1994 325h4M1995 300h4M1995 305h4M1995 307h4M1995 314h4M1995 315h4M1995 320h4M1996 293h4M1996 296h4M1996 300h4M1996 301h4M1996 305h4M1996 306h4M1996 311h4M1996 314h4M1996 321h4M1997 273h4M1997 288h4M1997 299h4M1997 300h4M1997 308h4M1997 314h4M1997 317h4M1997 318h4M1998 271h4M1998 273h4M1998 281h4M1998 299h4M1998 303h4M1998 305h4M1998 306h4M1998 311h4M1998 313h4M1998 314h4M1998 315h4M1998 319h4M1998 320h4M1998 322h4M1998 326h4M1998 328h4M1998 345h4M1999 284h4M1999 292h4M1999 307h4M1999 308h4M1999 310h4M1999 316h4M1999 318h4M1999 319h4M1999 322h4M1999 333h4M1999 334h4M2000 267h4M2000 299h4M2000 300h4M2000 301h4M2000 311h4M2000 312h4M2000 316h4M2000 317h4M2000 321h4M2000 323h4M2000 326h4M2000 328h4M2000 332h4M2001 295h4M2001 305h4M2001 310h4M2001 315h4M2001 318h4M2001 319h4M2001 322h4M2001 332h4M2002 268h4M2002 276h4M2002 306h4M2002 315h4M2002 317h4M2002 318h4M2002 321h4M2003 254h4M2003 290h4M2003 292h4M2003 298h4M2003 300h4M2003 309h4M2003 310h4M2003 314h4M2003 316h4M2003 319h4M2003 320h4M2003 327h4M2004 277h4M2004 304h4M2004 306h4M2004 310h4M2004 311h4M2004 313h4M2004 319h4M2004 323h4M2004 325h4M2004 329h4M2005 287h4M2005 294h4M2005 304h4M2005 308h4M2005 309h4M2005 310h4M2005 311h4M2005 313h4M2005 315h4M2005 318h4M2005 319h4M2005 332h4M2006 289h4M2006 294h4M2006 298h4M2006 303h4M2006 308h4M2006 309h4M2006 310h4M2006 311h4M2006 313h4M2006 315h4M2006 317h4M2006 324h4M2006 326h4M2006 338h4M2007 241h4M2007 268h4M2007 289h4M2007 296h4M2007 297h4M2007 299h4M2007 306h4M2007 311h4M2007 316h4M2007 318h4M2007 320h4M2008 288h4M2008 301h4M2008 304h4M2008 305h4M2008 311h4M2008 318h4M2008 319h4M2008 321h4M2008 325h4M2008 334h4M2009 286h4M2009 291h4M2009 298h4M2009 301h4M2009 309h4M2009 314h4M2009 319h4M2009 325h4M2009 327h4M2010 282h4M2010 296h4M2010 305h4M2010 310h4M2010 312h4M2010 315h4M2010 316h4M2010 317h4M2010 319h4M2010 320h4M2010 321h4M2011 294h4M2011 297h4M2011 300h4M2011 303h4M2011 306h4M2011 307h4M2011 314h4M2011 319h4M2011 323h4M2011 328h4M2012 275h4M2012 288h4M2012 290h4M2012 293h4M2012 309h4M2012 320h4M2012 322h4M2012 323h4M2013 274h4M2013 278h4M2013 287h4M2013 298h4M2013 300h4M2013 311h4M2013 315h4M2013 316h4M2013 325h4M2013 332h4M2014 299h4M2014 309h4M2014 310h4M2014 318h4M2014 327h4M2015 254h4M2015 270h4M2015 306h4M2015 309h4M2015 310h4M2015 312h4M2015 314h4M2015 321h4M2016 272h4M2016 293h4M2016 305h4M2016 306h4M2016 311h4M2016 314h4M2016 316h4M2016 318h4M2016 320h4M2016 321h4M2016 322h4M2017 304h4M2017 307h4M2017 309h4M2017 315h4M2017 329h4M2017 338h4M2018 297h4M2018 306h4M2018 312h4M2018 314h4M2018 315h4M2018 316h4M2018 317h4M2018 320h4M2018 327h4M2019 304h4M2019 307h4M2019 309h4M2019 311h4M2019 313h4M2019 317h4M2019 320h4M2019 321h4M2019 323h4M2019 340h4M2019 356h4M2020 293h4M2020 296h4M2020 305h4M2020 309h4M2020 315h4M2020 318h4M2020 320h4M2020 321h4M2020 322h4M2020 324h4M2020 325h4M2020 326h4M2020 332h4M2021 308h4M2021 310h4M2021 313h4M2021 314h4M2021 315h4M2021 319h4M2021 322h4M2021 323h4M2021 330h4M2021 337h4M2021 338h4M2022 282h4M2022 306h4M2022 312h4M2022 313h4M2022 317h4M2022 318h4M2022 319h4M2022 325h4M2022 326h4M2023 302h4M2023 305h4M2023 306h4M2023 311h4M2023 313h4M2023 317h4M2023 318h4M2023 321h4M2023 323h4M2023 326h4M2023 328h4M2023 334h4M2023 335h4M2024 293h4M2024 307h4M2024 311h4M2024 315h4M2024 316h4M2024 318h4M2024 320h4M2024 322h4M2024 328h4M2025 308h4M2025 312h4M2025 315h4M2025 316h4M2025 322h4M2025 327h4M2025 362h4M2026 293h4M2026 301h4M2026 305h4M2026 313h4M2026 315h4M2026 317h4M2026 320h4M2026 321h4M2026 324h4M2026 325h4M2026 326h4M2026 327h4M2026 328h4M2026 331h4M2026 332h4M2026 333h4M2026 342h4M2026 344h4M2027 296h4M2027 312h4M2027 313h4M2027 318h4M2027 320h4M2027 321h4M2027 322h4M2027 323h4M2027 324h4M2027 334h4M2027 346h4M2027 358h4M2028 271h4M2028 305h4M2028 307h4M2028 308h4M2028 309h4M2028 314h4M2028 320h4M2028 323h4M2028 324h4M2028 325h4M2028 332h4M2028 334h4M2028 340h4M2028 341h4M2028 365h4M2029 291h4M2029 299h4M2029 300h4M2029 313h4M2029 315h4M2029 316h4M2029 317h4M2029 318h4M2029 321h4M2029 324h4M2029 325h4M2029 326h4M2029 328h4M2029 331h4M2029 334h4M2029 335h4M2029 347h4M2029 361h4M2030 266h4M2030 290h4M2030 293h4M2030 312h4M2030 313h4M2030 317h4M2030 322h4M2030 326h4M2030 327h4M2030 329h4M2030 330h4M2030 331h4M2030 333h4M2031 294h4M2031 300h4M2031 303h4M2031 308h4M2031 309h4M2031 312h4M2031 313h4M2031 314h4M2031 320h4M2031 321h4M2031 329h4M2031 333h4M2031 336h4M2031 340h4M2032 284h4M2032 295h4M2032 307h4M2032 308h4M2032 311h4M2032 321h4M2032 324h4M2032 331h4M2032 336h4M2032 358h4M2033 276h4M2033 291h4M2033 302h4M2033 303h4M2033 316h4M2033 317h4M2033 318h4M2033 323h4M2033 324h4M2033 332h4M2033 339h4M2033 346h4M2034 292h4M2034 299h4M2034 300h4M2034 306h4M2034 310h4M2034 316h4M2034 318h4M2034 321h4M2034 322h4M2034 323h4M2034 325h4M2034 327h4M2034 330h4M2034 331h4M2034 341h4M2035 301h4M2035 309h4M2035 314h4M2035 315h4M2035 316h4M2035 317h4M2035 322h4M2035 328h4M2035 329h4M2035 333h4M2035 336h4M2035 358h4M2036 290h4M2036 315h4M2036 316h4M2036 323h4M2036 328h4M2036 333h4M2036 335h4M2036 336h4M2036 341h4M2036 347h4M2036 371h4M2037 287h4M2037 313h4M2037 320h4M2037 322h4M2037 324h4M2037 325h4M2037 329h4M2037 340h4M2038 275h4M2038 289h4M2038 303h4M2038 304h4M2038 305h4M2038 310h4M2038 315h4M2038 317h4M2038 318h4M2038 321h4M2038 329h4M2038 349h4M2039 281h4M2039 300h4M2039 301h4M2039 310h4M2039 312h4M2039 313h4M2039 316h4M2039 326h4M2039 330h4M2039 332h4M2039 343h4M2039 347h4M2039 354h4M2039 356h4M2039 365h4M2039 425h4M2040 301h4M2040 303h4M2040 306h4M2040 311h4M2040 314h4M2040 328h4M2040 330h4M2040 345h4M2040 346h4M2040 360h4M2040 369h4M2041 271h4M2041 298h4M2041 308h4M2041 309h4M2041 313h4M2041 314h4M2041 317h4M2041 319h4M2041 322h4M2041 324h4M2041 325h4M2041 327h4M2041 335h4M2041 336h4M2041 342h4M2041 359h4M2042 258h4M2042 294h4M2042 297h4M2042 305h4M2042 309h4M2042 313h4M2042 316h4M2042 321h4M2042 327h4M2042 332h4M2042 334h4M2042 336h4M2042 338h4M2042 341h4M2042 345h4M2043 285h4M2043 289h4M2043 291h4M2043 313h4M2043 314h4M2043 316h4M2043 317h4M2043 318h4M2043 322h4M2043 323h4M2043 326h4M2043 334h4M2043 345h4M2043 346h4M2043 348h4M2044 294h4M2044 302h4M2044 306h4M2044 326h4M2044 331h4M2044 337h4M2044 341h4M2044 344h4M2044 401h4M2045 320h4M2045 322h4M2045 329h4M2045 333h4M2045 335h4M2045 343h4M2045 350h4M2045 351h4M2046 267h4M2046 284h4M2046 295h4M2046 300h4M2046 303h4M2046 305h4M2046 313h4M2046 315h4M2046 317h4M2046 319h4M2046 327h4M2046 328h4M2046 330h4M2046 334h4M2046 339h4M2046 351h4M2046 354h4M2047 292h4M2047 300h4M2047 319h4M2047 320h4M2047 327h4M2047 328h4M2047 329h4M2047 332h4M2047 341h4M2047 344h4M2048 291h4M2048 300h4M2048 301h4M2048 305h4M2048 309h4M2048 314h4M2048 317h4M2048 322h4M2048 325h4M2048 327h4M2048 331h4M2048 339h4M2048 342h4M2048 344h4M2048 345h4M2048 346h4M2048 352h4M2048 361h4M2049 274h4M2049 290h4M2049 298h4M2049 308h4M2049 311h4M2049 325h4M2049 327h4M2049 332h4M2049 334h4M2049 337h4M2049 342h4M2050 275h4M2050 289h4M2050 298h4M2050 302h4M2050 308h4M2050 311h4M2050 313h4M2050 321h4M2050 325h4M2050 330h4M2050 331h4M2050 337h4M2050 338h4M2050 342h4M2050 343h4M2050 352h4M2051 278h4M2051 293h4M2051 308h4M2051 310h4M2051 311h4M2051 319h4M2051 321h4M2051 322h4M2051 323h4M2051 326h4M2051 335h4M2051 336h4M2051 337h4M2051 350h4M2051 351h4M2051 352h4M2051 353h4M2051 354h4M2052 261h4M2052 290h4M2052 309h4M2052 314h4M2052 317h4M2052 319h4M2052 322h4M2052 325h4M2052 327h4M2052 328h4M2052 329h4M2052 330h4M2052 340h4M2052 346h4M2052 350h4M2052 351h4M2053 245h4M2053 281h4M2053 287h4M2053 299h4M2053 310h4M2053 314h4M2053 315h4M2053 319h4M2053 325h4M2053 331h4M2053 332h4M2053 337h4M2053 351h4M2053 352h4M2054 267h4M2054 293h4M2054 295h4M2054 297h4M2054 299h4M2054 307h4M2054 316h4M2054 317h4M2054 320h4M2054 324h4M2054 326h4M2054 328h4M2054 333h4M2054 342h4M2054 345h4M2055 257h4M2055 289h4M2055 296h4M2055 297h4M2055 299h4M2055 300h4M2055 302h4M2055 306h4M2055 309h4M2055 314h4M2055 315h4M2055 322h4M2055 323h4M2055 335h4M2055 339h4M2055 340h4M2055 344h4M2055 349h4M2056 249h4M2056 263h4M2056 285h4M2056 291h4M2056 300h4M2056 309h4M2056 317h4M2056 325h4M2056 326h4M2056 327h4M2056 328h4M2056 329h4M2056 331h4M2056 332h4M2056 335h4M2056 348h4M2056 349h4M2056 354h4M2057 251h4M2057 288h4M2057 293h4M2057 301h4M2057 313h4M2057 315h4M2057 319h4M2057 327h4M2057 328h4M2057 329h4M2057 330h4M2057 334h4M2057 339h4M2057 346h4M2057 349h4M2057 351h4M2057 360h4M2058 271h4M2058 274h4M2058 279h4M2058 298h4M2058 304h4M2058 310h4M2058 312h4M2058 314h4M2058 317h4M2058 318h4M2058 324h4M2058 325h4M2058 326h4M2058 327h4M2058 329h4M2058 332h4M2058 337h4M2058 342h4M2059 271h4M2059 280h4M2059 284h4M2059 300h4M2059 308h4M2059 314h4M2059 316h4M2059 323h4M2059 324h4M2059 325h4M2059 327h4M2059 333h4M2059 334h4M2059 338h4M2059 341h4M2059 351h4M2059 352h4M2060 274h4M2060 279h4M2060 290h4M2060 299h4M2060 301h4M2060 302h4M2060 316h4M2060 322h4M2060 328h4M2060 334h4M2060 343h4M2060 346h4M2060 357h4M2061 288h4M2061 296h4M2061 306h4M2061 308h4M2061 313h4M2061 322h4M2061 323h4M2061 327h4M2061 328h4M2061 329h4M2061 331h4M2061 334h4M2061 338h4M2061 342h4M2061 348h4M2061 349h4M2062 288h4M2062 294h4M2062 300h4M2062 303h4M2062 305h4M2062 320h4M2062 323h4M2062 326h4M2062 327h4M2062 331h4M2062 343h4M2062 344h4M2062 346h4M2062 348h4M2062 356h4M2062 358h4M2063 278h4M2063 279h4M2063 289h4M2063 304h4M2063 306h4M2063 308h4M2063 313h4M2063 315h4M2063 317h4M2063 327h4M2063 329h4M2063 333h4M2063 339h4M2063 341h4M2063 343h4M2063 347h4M2063 353h4M2063 354h4M2064 278h4M2064 288h4M2064 294h4M2064 300h4M2064 309h4M2064 312h4M2064 320h4M2064 333h4M2064 334h4M2064 335h4M2064 337h4M2064 338h4M2064 339h4M2064 341h4M2064 347h4M2064 348h4M2065 262h4M2065 279h4M2065 283h4M2065 295h4M2065 296h4M2065 313h4M2065 319h4M2065 321h4M2065 323h4M2065 338h4M2065 340h4M2065 344h4M2065 351h4M2065 354h4M2066 282h4M2066 288h4M2066 290h4M2066 291h4M2066 304h4M2066 318h4M2066 324h4M2066 326h4M2066 332h4M2066 334h4M2066 339h4M2066 340h4M2066 344h4M2066 354h4M2066 355h4M2067 268h4M2067 280h4M2067 290h4M2067 302h4M2067 304h4M2067 306h4M2067 311h4M2067 312h4M2067 318h4M2067 320h4M2067 334h4M2067 337h4M2067 338h4M2067 343h4M2067 348h4M2067 353h4M2067 368h4M2068 257h4M2068 273h4M2068 283h4M2068 297h4M2068 302h4M2068 308h4M2068 310h4M2068 317h4M2068 324h4M2068 326h4M2068 333h4M2068 338h4M2068 348h4M2068 349h4M2068 350h4M2068 351h4M2068 352h4M2068 354h4M2069 283h4M2069 286h4M2069 290h4M2069 306h4M2069 319h4M2069 320h4M2069 322h4M2069 325h4M2069 326h4M2069 330h4M2069 331h4M2069 333h4M2069 340h4M2069 345h4M2069 346h4M2069 353h4M2070 258h4M2070 278h4M2070 293h4M2070 299h4M2070 303h4M2070 310h4M2070 319h4M2070 323h4M2070 336h4M2070 340h4M2070 342h4M2070 343h4M2070 346h4M2070 357h4M2070 361h4M2070 378h4M2071 299h4M2071 312h4M2071 328h4M2071 334h4M2071 345h4M2071 348h4M2071 352h4M2071 357h4M2072 288h4M2072 291h4M2072 295h4M2072 315h4M2072 319h4M2072 320h4M2072 328h4M2072 333h4M2072 334h4M2072 338h4M2072 342h4M2072 345h4M2072 349h4M2072 353h4M2072 355h4M2073 269h4M2073 292h4M2073 294h4M2073 314h4M2073 319h4M2073 320h4M2073 326h4M2073 331h4M2073 335h4M2073 342h4M2073 346h4M2073 348h4M2073 349h4M2073 350h4M2073 351h4M2073 352h4M2073 362h4M2074 290h4M2074 292h4M2074 304h4M2074 311h4M2074 320h4M2074 323h4M2074 325h4M2074 335h4M2074 345h4M2074 348h4M2074 350h4M2074 358h4M2074 359h4M2074 416h4M2075 287h4M2075 298h4M2075 311h4M2075 315h4M2075 318h4M2075 325h4M2075 333h4M2075 339h4M2075 341h4M2075 344h4M2075 345h4M2075 346h4M2075 358h4M2075 385h4M2075 408h4M2076 300h4M2076 309h4M2076 312h4M2076 323h4M2076 330h4M2076 336h4M2076 342h4M2076 348h4M2076 359h4M2077 297h4M2077 301h4M2077 312h4M2077 316h4M2077 320h4M2077 326h4M2077 333h4M2077 335h4M2077 338h4M2077 346h4M2077 353h4M2077 354h4M2078 252h4M2078 293h4M2078 294h4M2078 302h4M2078 313h4M2078 320h4M2078 332h4M2078 338h4M2078 342h4M2078 354h4M2078 360h4M2078 377h4M2079 214h4M2079 294h4M2079 298h4M2079 311h4M2079 315h4M2079 322h4M2079 338h4M2079 345h4M2079 353h4M2079 358h4M2079 359h4M2079 361h4M2079 362h4M2079 403h4M2080 308h4M2080 316h4M2080 320h4M2080 322h4M2080 328h4M2080 330h4M2080 335h4M2080 337h4M2080 344h4M2080 354h4M2080 356h4M2080 367h4M2080 381h4M2080 394h4M2081 331h4M2081 337h4M2081 340h4M2081 341h4M2081 342h4M2081 344h4M2081 346h4M2081 348h4M2081 351h4M2081 352h4M2081 354h4M2081 356h4M2081 357h4M2081 360h4M2081 369h4M2082 309h4M2082 317h4M2082 333h4M2082 339h4M2082 341h4M2082 343h4M2082 348h4M2082 349h4M2082 350h4M2082 351h4M2082 353h4M2082 357h4M2082 358h4M2082 367h4M2082 378h4M2082 397h4M2082 406h4M2083 282h4M2083 301h4M2083 305h4M2083 307h4M2083 308h4M2083 309h4M2083 310h4M2083 329h4M2083 342h4M2083 349h4M2083 358h4M2083 359h4M2083 362h4M2084 307h4M2084 310h4M2084 335h4M2084 348h4M2084 351h4M2084 353h4M2084 356h4M2084 364h4M2084 369h4M2084 401h4M2084 404h4M2085 293h4M2085 310h4M2085 316h4M2085 330h4M2085 341h4M2085 350h4M2085 362h4M2085 363h4M2085 369h4M2085 370h4M2085 371h4M2085 380h4M2085 385h4M2085 391h4M2085 404h4M2086 308h4M2086 310h4M2086 316h4M2086 328h4M2086 335h4M2086 338h4M2086 344h4M2086 345h4M2086 350h4M2086 365h4M2086 383h4M2086 393h4M2086 396h4M2086 437h4M2087 252h4M2087 302h4M2087 316h4M2087 317h4M2087 339h4M2087 340h4M2087 350h4M2087 351h4M2087 354h4M2087 357h4M2087 363h4M2087 364h4M2087 368h4M2087 376h4M2087 382h4M2087 383h4M2087 384h4M2087 389h4M2087 391h4M2087 396h4M2087 398h4M2087 402h4M2087 407h4M2087 426h4M2087 444h4M2087 483h4M2088 347h4M2088 353h4M2088 355h4M2088 356h4M2088 358h4M2088 360h4M2088 363h4M2088 367h4M2088 372h4M2088 375h4M2088 376h4M2088 381h4M2088 382h4M2088 387h4M2088 395h4M2088 430h4M2088 436h4M2089 299h4M2089 350h4M2089 354h4M2089 355h4M2089 357h4M2089 359h4M2089 361h4M2089 362h4M2089 363h4M2089 368h4M2089 370h4M2089 374h4M2089 375h4M2089 386h4M2089 387h4M2089 397h4M2089 408h4M2089 412h4M2089 421h4M2089 507h4M2089 520h4M2090 333h4M2090 334h4M2090 342h4M2090 345h4M2090 350h4M2090 358h4M2090 366h4M2090 367h4M2090 368h4M2090 373h4M2090 376h4M2090 379h4M2090 383h4M2090 386h4M2090 390h4M2090 392h4M2090 408h4M2090 412h4M2090 413h4M2090 426h4M2090 428h4M2090 464h4M2091 326h4M2091 350h4M2091 353h4M2091 358h4M2091 366h4M2091 369h4M2091 370h4M2091 376h4M2091 381h4M2091 382h4M2091 390h4M2091 392h4M2091 405h4M2091 406h4M2091 408h4M2091 418h4M2091 422h4M2091 427h4M2091 430h4M2091 457h4M2092 295h4M2092 336h4M2092 341h4M2092 347h4M2092 354h4M2092 355h4M2092 358h4M2092 359h4M2092 360h4M2092 366h4M2092 370h4M2092 374h4M2092 375h4M2092 378h4M2092 383h4M2092 384h4M2092 392h4M2092 403h4M2092 405h4M2092 406h4M2092 407h4M2092 408h4M2092 414h4M2092 420h4M2092 423h4M2092 434h4M2092 474h4M2092 478h4M2093 347h4M2093 352h4M2093 360h4M2093 361h4M2093 362h4M2093 363h4M2093 364h4M2093 366h4M2093 367h4M2093 369h4M2093 371h4M2093 374h4M2093 377h4M2093 380h4M2093 389h4M2093 390h4M2093 393h4M2093 399h4M2093 400h4M2093 402h4M2093 407h4M2093 430h4M2093 454h4M2094 341h4M2094 345h4M2094 349h4M2094 352h4M2094 363h4M2094 367h4M2094 371h4M2094 373h4M2094 376h4M2094 381h4M2094 392h4M2094 393h4M2094 397h4M2094 401h4M2094 411h4M2094 418h4M2094 419h4M2094 422h4M2094 423h4M2094 434h4M2094 463h4M2094 473h4M2095 354h4M2095 356h4M2095 361h4M2095 362h4M2095 363h4M2095 366h4M2095 368h4M2095 374h4M2095 376h4M2095 377h4M2095 383h4M2095 395h4M2095 398h4M2095 403h4M2095 410h4M2095 420h4M2095 432h4M2095 437h4M2095 438h4M2095 468h4M2096 350h4M2096 362h4M2096 366h4M2096 367h4M2096 372h4M2096 374h4M2096 375h4M2096 379h4M2096 382h4M2096 384h4M2096 386h4M2096 389h4M2096 400h4M2096 404h4M2096 406h4M2096 414h4M2096 424h4M2096 437h4M2096 460h4M2096 461h4M2096 462h4M2096 481h4M2097 307h4M2097 341h4M2097 344h4M2097 355h4M2097 356h4M2097 360h4M2097 362h4M2097 365h4M2097 367h4M2097 368h4M2097 370h4M2097 371h4M2097 376h4M2097 380h4M2097 384h4M2097 385h4M2097 386h4M2097 397h4M2097 406h4M2097 414h4M2097 421h4M2097 429h4M2097 439h4M2097 441h4M2097 487h4M2097 516h4M2097 532h4M2098 337h4M2098 357h4M2098 360h4M2098 361h4M2098 364h4M2098 365h4M2098 368h4M2098 369h4M2098 370h4M2098 372h4M2098 375h4M2098 385h4M2098 387h4M2098 388h4M2098 389h4M2098 396h4M2098 397h4M2098 399h4M2098 403h4M2098 407h4M2098 416h4M2098 420h4M2098 422h4M2098 460h4M2098 466h4M2098 477h4M2098 481h4M2098 486h4M2099 345h4M2099 364h4M2099 368h4M2099 371h4M2099 375h4M2099 379h4M2099 383h4M2099 384h4M2099 385h4M2099 386h4M2099 387h4M2099 391h4M2099 394h4M2099 395h4M2099 396h4M2099 400h4M2099 405h4M2099 410h4M2099 415h4M2099 416h4M2099 420h4M2099 428h4M2099 439h4M2099 440h4M2099 455h4M2099 459h4M2099 471h4M2099 481h4M2099 484h4M2099 485h4M2100 342h4M2100 354h4M2100 359h4M2100 360h4M2100 363h4M2100 364h4M2100 365h4M2100 369h4M2100 370h4M2100 371h4M2100 374h4M2100 375h4M2100 379h4M2100 383h4M2100 387h4M2100 394h4M2100 401h4M2100 412h4M2100 420h4M2100 438h4M2100 440h4M2100 462h4M2100 466h4M2100 481h4M2101 308h4M2101 350h4M2101 359h4M2101 361h4M2101 362h4M2101 363h4M2101 365h4M2101 367h4M2101 368h4M2101 371h4M2101 379h4M2101 382h4M2101 383h4M2101 384h4M2101 388h4M2101 392h4M2101 402h4M2101 407h4M2101 413h4M2101 416h4M2101 419h4M2101 426h4M2101 429h4M2101 436h4M2101 438h4M2101 445h4M2101 463h4M2101 474h4M2101 477h4M2102 343h4M2102 345h4M2102 350h4M2102 353h4M2102 360h4M2102 361h4M2102 364h4M2102 366h4M2102 368h4M2102 372h4M2102 374h4M2102 375h4M2102 379h4M2102 382h4M2102 384h4M2102 385h4M2102 386h4M2102 388h4M2102 392h4M2102 393h4M2102 399h4M2102 400h4M2102 403h4M2102 404h4M2102 405h4M2102 415h4M2102 417h4M2102 426h4M2102 430h4M2102 448h4M2103 352h4M2103 354h4M2103 355h4M2103 358h4M2103 359h4M2103 362h4M2103 370h4M2103 372h4M2103 373h4M2103 376h4M2103 383h4M2103 384h4M2103 387h4M2103 389h4M2103 394h4M2103 395h4M2103 397h4M2103 406h4M2103 410h4M2103 412h4M2103 428h4M2103 430h4M2103 442h4M2103 449h4M2103 459h4M2103 483h4M2103 485h4M2103 488h4M2104 353h4M2104 361h4M2104 362h4M2104 366h4M2104 368h4M2104 371h4M2104 373h4M2104 375h4M2104 377h4M2104 378h4M2104 381h4M2104 385h4M2104 395h4M2104 397h4M2104 401h4M2104 403h4M2104 410h4M2104 426h4M2104 464h4M2104 516h4M2104 537h4M2105 360h4M2105 361h4M2105 363h4M2105 365h4M2105 367h4M2105 368h4M2105 370h4M2105 372h4M2105 374h4M2105 378h4M2105 381h4M2105 389h4M2105 391h4M2105 394h4M2105 395h4M2105 397h4M2105 408h4M2105 416h4M2105 424h4M2106 325h4M2106 359h4M2106 360h4M2106 363h4M2106 370h4M2106 372h4M2106 376h4M2106 378h4M2106 379h4M2106 380h4M2106 381h4M2106 383h4M2106 386h4M2106 389h4M2106 397h4M2106 401h4M2106 404h4M2106 408h4M2106 413h4M2106 417h4M2106 419h4M2106 423h4M2106 446h4M2106 478h4M2107 337h4M2107 359h4M2107 360h4M2107 361h4M2107 363h4M2107 366h4M2107 369h4M2107 371h4M2107 372h4M2107 373h4M2107 374h4M2107 376h4M2107 379h4M2107 382h4M2107 385h4M2107 389h4M2107 390h4M2107 399h4M2107 405h4M2107 426h4M2107 463h4M2107 464h4M2107 481h4M2107 487h4M2107 508h4M2108 338h4M2108 359h4M2108 369h4M2108 373h4M2108 375h4M2108 378h4M2108 384h4M2108 388h4M2108 407h4M2108 409h4M2108 414h4M2108 423h4M2108 425h4M2108 489h4M2109 350h4M2109 356h4M2109 364h4M2109 367h4M2109 368h4M2109 369h4M2109 372h4M2109 373h4M2109 374h4M2109 378h4M2109 381h4M2109 384h4M2109 388h4M2109 391h4M2109 393h4M2109 395h4M2109 399h4M2109 400h4M2109 403h4M2109 408h4M2109 413h4M2109 415h4M2109 426h4M2109 486h4M2110 355h4M2110 357h4M2110 363h4M2110 369h4M2110 374h4M2110 376h4M2110 377h4M2110 381h4M2110 385h4M2110 388h4M2110 390h4M2110 392h4M2110 394h4M2110 395h4M2110 397h4M2110 398h4M2110 402h4M2110 414h4M2110 415h4M2110 416h4M2110 418h4M2110 473h4M2110 531h4M2111 328h4M2111 356h4M2111 357h4M2111 358h4M2111 360h4M2111 362h4M2111 371h4M2111 374h4M2111 375h4M2111 379h4M2111 382h4M2111 385h4M2111 392h4M2111 394h4M2111 396h4M2111 399h4M2111 412h4M2111 420h4M2111 422h4M2112 302h4M2112 330h4M2112 339h4M2112 358h4M2112 363h4M2112 365h4M2112 370h4M2112 371h4M2112 372h4M2112 375h4M2112 376h4M2112 379h4M2112 380h4M2112 386h4M2112 388h4M2112 389h4M2112 394h4M2112 399h4M2112 401h4M2112 403h4M2112 410h4M2112 420h4M2112 422h4M2112 432h4M2112 512h4M2113 314h4M2113 351h4M2113 356h4M2113 357h4M2113 359h4M2113 361h4M2113 363h4M2113 370h4M2113 371h4M2113 373h4M2113 379h4M2113 383h4M2113 384h4M2113 388h4M2113 390h4M2113 392h4M2113 394h4M2113 409h4M2113 416h4M2113 421h4M2113 427h4M2114 277h4M2114 278h4M2114 303h4M2114 318h4M2114 366h4M2114 367h4M2114 368h4M2114 369h4M2114 371h4M2114 373h4M2114 378h4M2114 379h4M2114 380h4M2114 383h4M2114 392h4M2114 403h4M2114 405h4M2114 406h4M2114 409h4M2114 412h4M2114 420h4M2114 424h4M2114 429h4M2114 432h4M2115 296h4M2115 320h4M2115 357h4M2115 361h4M2115 363h4M2115 366h4M2115 368h4M2115 377h4M2115 382h4M2115 384h4M2115 387h4M2115 389h4M2115 395h4M2115 397h4M2115 400h4M2115 412h4M2115 415h4M2115 416h4M2115 423h4M2115 425h4M2115 428h4M2116 197h4M2116 287h4M2116 306h4M2116 312h4M2116 334h4M2116 354h4M2116 359h4M2116 360h4M2116 363h4M2116 368h4M2116 369h4M2116 371h4M2116 372h4M2116 373h4M2116 379h4M2116 380h4M2116 382h4M2116 383h4M2116 385h4M2116 387h4M2116 391h4M2116 395h4M2116 400h4M2116 402h4M2116 404h4M2116 408h4M2116 409h4M2116 413h4M2117 278h4M2117 289h4M2117 360h4M2117 362h4M2117 367h4M2117 369h4M2117 371h4M2117 373h4M2117 377h4M2117 378h4M2117 381h4M2117 383h4M2117 388h4M2117 389h4M2117 391h4M2117 403h4M2117 404h4M2117 405h4M2117 410h4M2117 415h4M2117 418h4M2117 425h4M2118 276h4M2118 303h4M2118 324h4M2118 361h4M2118 364h4M2118 365h4M2118 366h4M2118 369h4M2118 374h4M2118 380h4M2118 382h4M2118 383h4M2118 385h4M2118 386h4M2118 391h4M2118 392h4M2118 394h4M2118 400h4M2118 405h4M2118 410h4M2118 418h4M2118 421h4M2119 286h4M2119 320h4M2119 330h4M2119 332h4M2119 350h4M2119 366h4M2119 368h4M2119 371h4M2119 372h4M2119 374h4M2119 376h4M2119 384h4M2119 385h4M2119 398h4M2119 405h4M2119 416h4M2119 417h4M2119 420h4M2120 269h4M2120 282h4M2120 358h4M2120 369h4M2120 371h4M2120 380h4M2120 383h4M2120 386h4M2120 399h4M2120 404h4M2120 408h4M2120 409h4M2120 412h4M2120 414h4M2120 423h4M2120 442h4M2121 282h4M2121 305h4M2121 308h4M2121 323h4M2121 327h4M2121 329h4M2121 343h4M2121 344h4M2121 348h4M2121 362h4M2121 368h4M2121 372h4M2121 374h4M2121 375h4M2121 376h4M2121 379h4M2121 381h4M2121 383h4M2121 393h4M2121 405h4M2121 407h4M2121 412h4M2122 111h4M2122 274h4M2122 284h4M2122 289h4M2122 302h4M2122 320h4M2122 359h4M2122 361h4M2122 372h4M2122 374h4M2122 377h4M2122 379h4M2122 382h4M2122 384h4M2122 396h4M2122 399h4M2122 410h4M2123 267h4M2123 294h4M2123 354h4M2123 358h4M2123 363h4M2123 364h4M2123 365h4M2123 371h4M2123 373h4M2123 374h4M2123 376h4M2123 377h4M2123 380h4M2123 385h4M2123 386h4M2123 394h4M2123 400h4M2123 406h4M2123 409h4M2123 410h4M2123 440h4M2124 310h4M2124 357h4M2124 369h4M2124 372h4M2124 375h4M2124 376h4M2124 378h4M2124 379h4M2124 389h4M2124 390h4M2124 393h4M2124 395h4M2124 397h4M2124 401h4M2124 415h4M2124 427h4M2125 177h4M2125 304h4M2125 314h4M2125 319h4M2125 354h4M2125 355h4M2125 359h4M2125 370h4M2125 373h4M2125 380h4M2125 384h4M2125 385h4M2125 386h4M2125 393h4M2125 400h4M2125 405h4M2125 407h4M2126 288h4M2126 309h4M2126 332h4M2126 366h4M2126 374h4M2126 375h4M2126 382h4M2126 384h4M2126 387h4M2126 393h4M2126 402h4M2126 418h4M2126 424h4M2126 437h4M2126 443h4M2127 276h4M2127 279h4M2127 311h4M2127 335h4M2127 354h4M2127 359h4M2127 365h4M2127 368h4M2127 369h4M2127 371h4M2127 373h4M2127 376h4M2127 377h4M2127 388h4M2127 396h4M2127 404h4M2127 405h4M2127 413h4M2128 299h4M2128 314h4M2128 357h4M2128 367h4M2128 368h4M2128 370h4M2128 376h4M2128 377h4M2128 381h4M2128 383h4M2128 402h4M2128 408h4M2128 437h4M2129 298h4M2129 299h4M2129 358h4M2129 359h4M2129 362h4M2129 366h4M2129 372h4M2129 375h4M2129 378h4M2129 383h4M2129 386h4M2129 394h4M2129 402h4M2129 417h4M2129 455h4M2130 303h4M2130 315h4M2130 359h4M2130 361h4M2130 374h4M2130 376h4M2130 377h4M2130 378h4M2130 381h4M2130 382h4M2130 391h4M2130 392h4M2130 394h4M2130 433h4M2130 436h4M2130 530h4M2131 282h4M2131 356h4M2131 359h4M2131 365h4M2131 366h4M2131 370h4M2131 371h4M2131 373h4M2131 374h4M2131 377h4M2131 381h4M2131 385h4M2131 386h4M2131 401h4M2131 426h4M2131 433h4M2132 340h4M2132 353h4M2132 358h4M2132 363h4M2132 367h4M2132 368h4M2132 373h4M2132 376h4M2132 383h4M2132 386h4M2132 387h4M2132 398h4M2132 402h4M2132 403h4M2132 411h4M2132 434h4M2132 441h4M2133 274h4M2133 316h4M2133 333h4M2133 360h4M2133 363h4M2133 364h4M2133 368h4M2133 370h4M2133 377h4M2133 385h4M2133 392h4M2133 405h4M2134 289h4M2134 337h4M2134 349h4M2134 355h4M2134 356h4M2134 357h4M2134 361h4M2134 365h4M2134 367h4M2134 370h4M2134 376h4M2134 379h4M2134 381h4M2134 382h4M2134 386h4M2134 393h4M2134 400h4M2134 404h4M2134 419h4M2134 431h4M2134 433h4M2134 542h4M2135 344h4M2135 350h4M2135 351h4M2135 355h4M2135 366h4M2135 367h4M2135 369h4M2135 374h4M2135 376h4M2135 379h4M2135 390h4M2135 391h4M2135 393h4M2135 407h4M2135 410h4M2135 415h4M2135 426h4M2135 427h4M2136 349h4M2136 354h4M2136 366h4M2136 369h4M2136 371h4M2136 382h4M2136 385h4M2136 390h4M2136 399h4M2136 410h4M2136 456h4M2137 324h4M2137 353h4M2137 355h4M2137 359h4M2137 361h4M2137 362h4M2137 363h4M2137 365h4M2137 366h4M2137 374h4M2137 375h4M2137 376h4M2137 378h4M2137 383h4M2137 384h4M2137 387h4M2137 390h4M2137 391h4M2137 395h4M2137 399h4M2137 406h4M2137 409h4M2137 423h4M2138 311h4M2138 353h4M2138 358h4M2138 366h4M2138 374h4M2138 375h4M2138 380h4M2138 383h4M2138 384h4M2138 404h4M2138 407h4M2138 428h4M2138 429h4M2138 442h4M2139 355h4M2139 361h4M2139 366h4M2139 367h4M2139 370h4M2139 372h4M2139 376h4M2139 386h4M2139 390h4M2139 392h4M2139 395h4M2139 404h4M2139 439h4M2139 443h4M2140 329h4M2140 344h4M2140 354h4M2140 355h4M2140 363h4M2140 367h4M2140 371h4M2140 372h4M2140 381h4M2140 385h4M2140 406h4M2140 418h4M2140 445h4M2141 354h4M2141 355h4M2141 360h4M2141 367h4M2141 370h4M2141 377h4M2141 382h4M2141 386h4M2141 387h4M2141 393h4M2141 424h4M2141 437h4M2141 442h4M2142 321h4M2142 334h4M2142 352h4M2142 355h4M2142 357h4M2142 366h4M2142 372h4M2142 382h4M2142 384h4M2142 395h4M2142 402h4M2142 406h4M2142 407h4M2142 422h4M2142 454h4M2143 314h4M2143 348h4M2143 360h4M2143 362h4M2143 365h4M2143 370h4M2143 372h4M2143 381h4M2143 382h4M2143 389h4M2143 417h4M2143 424h4M2144 333h4M2144 334h4M2144 352h4M2144 354h4M2144 370h4M2144 385h4M2144 414h4M2144 420h4M2144 426h4M2144 459h4M2145 354h4M2145 357h4M2145 363h4M2145 365h4M2145 366h4M2145 368h4M2145 373h4M2145 378h4M2145 384h4M2145 437h4M2146 365h4M2146 366h4M2146 377h4M2147 383h4M2147 390h4M2147 404h4M2147 411h4" stroke="#959595" stroke-width="4" fill="none"/>
<path d="M1725.2 329.8H2150.4" stroke="#000" stroke-width="1.4"/>
<path d="M1723.9 318.2 1725.9 317.8 1727.9 317.4 1729.9 317 1731.9 316.6 1733.9 316.2 1735.9 315.8 1737.9 315.4 1739.9 315.1 1741.9 314.7 1743.9 314.4 1745.9 314.1 1747.9 313.8 1749.9 313.5 1751.9 313.2 1753.9 312.9 1755.9 312.6 1757.9 312.3 1759.9 312 1761.9 311.7 1763.9 311.5 1765.9 311.3 1767.9 311.1 1769.9 311 1771.9 311 1773.9 311 1775.9 311 1777.9 311.1 1779.9 311.1 1781.9 311.2 1783.9 311.2 1785.9 311.3 1787.9 311.4 1789.9 311.5 1791.9 311.6 1793.9 311.7 1795.9 311.8 1797.9 312 1799.9 312.2 1801.9 312.4 1803.9 312.7 1805.9 313.1 1807.9 313.4 1809.9 313.8 1811.9 314.2 1813.9 314.6 1815.9 315.1 1817.9 315.4 1819.9 315.8 1821.9 316.2 1823.9 316.6 1825.9 317 1827.9 317.5 1829.9 317.9 1831.9 318.3 1833.9 318.8 1835.9 319.2 1837.9 319.6 1839.9 320 1841.9 320.3 1843.9 320.6 1845.9 320.9 1847.9 321.3 1849.9 321.6 1851.9 321.9 1853.9 322.2 1855.9 322.5 1857.9 322.7 1859.9 322.9 1861.9 323 1863.9 323 1865.9 323 1867.9 322.9 1869.9 322.9 1871.9 322.7 1873.9 322.6 1875.9 322.5 1877.9 322.3 1879.9 322.1 1881.9 322 1883.9 321.8 1885.9 321.6 1887.9 321.3 1889.9 321 1891.9 320.7 1893.9 320.3 1895.9 319.9 1897.9 319.5 1899.9 319.2 1901.9 318.8 1903.9 318.4 1905.9 318.1 1907.9 317.8 1909.9 317.5 1911.9 317.2 1913.9 317 1915.9 316.7 1917.9 316.5 1919.9 316.2 1921.9 316 1923.9 315.8 1925.9 315.6 1927.9 315.4 1929.9 315.2 1931.9 315 1933.9 314.8 1935.9 314.7 1937.9 314.5 1939.9 314.4 1941.9 314.3 1943.9 314.1 1945.9 314 1947.9 313.9 1949.9 313.8 1951.9 313.7 1953.9 313.5 1955.9 313.4 1957.9 313.3 1959.9 313.1 1961.9 312.9 1963.9 312.7 1965.9 312.6 1967.9 312.4 1969.9 312.2 1971.9 312.1 1973.9 312 1975.9 311.9 1977.9 311.8 1979.9 311.8 1981.9 311.8 1983.9 311.9 1985.9 311.9 1987.9 312 1989.9 312.1 1991.9 312.2 1993.9 312.3 1995.9 312.4 1997.9 312.6 1999.9 312.7 2001.9 312.9 2003.9 313 2005.9 313.2 2007.9 313.5 2009.9 313.8 2011.9 314.1 2013.9 314.5 2015.9 314.9 2017.9 315.4 2019.9 315.9 2021.9 316.3 2023.9 316.8 2025.9 317.4 2027.9 317.9 2029.9 318.4 2031.9 319 2033.9 319.6 2035.9 320.2 2037.9 320.9 2039.9 321.6 2041.9 322.3 2043.9 323.1 2045.9 323.9 2047.9 324.7 2049.9 325.5 2051.9 326.4 2053.9 327.4 2055.9 328.3 2057.9 329.4 2059.9 330.4 2061.9 331.5 2063.9 332.7 2065.9 333.9 2067.9 335.2 2069.9 336.5 2071.9 338 2073.9 339.6 2075.9 341.2 2077.9 343 2079.9 344.8 2081.9 346.9 2083.9 349.1 2085.9 351.4 2087.9 353.7 2089.9 356 2091.9 358.1 2093.9 360.1 2095.9 362.1 2097.9 364.1 2099.9 365.9 2101.9 367.5 2103.9 368.7 2105.9 369.8 2107.9 370.9 2109.9 371.8 2111.9 372.4 2113.9 372.6 2115.9 372.6 2117.9 372.6 2119.9 372.6 2121.9 372.6 2123.9 372.6 2125.9 372.3 2127.9 371.7 2129.9 370.8 2131.9 369.8 2133.9 368.7 2135.9 367.6 2137.9 366.5 2139.9 365.3 2141.9 364 2143.9 362.6 2145.9 361.1 2147.9 359.4 2149.9 357.8 2150.8 357" stroke="#fb210e" stroke-width="7.9" stroke-linejoin="round" stroke-linecap="butt" fill="none"/>
</g>
<path d="M1724.1 87H2151.9" stroke="#2b2b2b" stroke-width="4" fill="none"/>
<path d="M1724.1 572.5H2151.9" stroke="#2b2b2b" stroke-width="3.5" fill="none"/>
<path d="M2150.4 87V572.5" stroke="#2b2b2b" stroke-width="3" fill="none"/>
<path d="M1725.2 87V572.5" stroke="#1c1c1c" stroke-width="2.2" fill="none"/>
<path d="M1712.2 572.8H1725.2M1712.2 451.4H1725.2M1712.2 330.1H1725.2M1712.2 208.7H1725.2M1712.2 87.3H1725.2M1737.9 572.5V584.8M1840.2 572.5V584.8M1942.6 572.5V584.8M2044.9 572.5V584.8M2147.2 572.5V584.8" stroke="#333333" stroke-width="3.6" fill="none"/>
<text x="1702.5" y="587.1" font-size="38.7" text-anchor="end" fill="#474747">-10</text>
<text x="1702.5" y="465.7" font-size="38.7" text-anchor="end" fill="#474747">-5</text>
<text x="1702.5" y="344.4" font-size="38.7" text-anchor="end" fill="#474747">0</text>
<text x="1702.5" y="223" font-size="38.7" text-anchor="end" fill="#474747">5</text>
<text x="1702.5" y="101.6" font-size="38.7" text-anchor="end" fill="#474747">10</text>
<text x="1737.9" y="624" font-size="38.7" text-anchor="middle" fill="#474747">-10</text>
<text x="1840.2" y="624" font-size="38.7" text-anchor="middle" fill="#474747">0</text>
<text x="1942.6" y="624" font-size="38.7" text-anchor="middle" fill="#474747">10</text>
<text x="2044.9" y="624" font-size="38.7" text-anchor="middle" fill="#474747">20</text>
<text x="2147.2" y="624" font-size="38.7" text-anchor="middle" fill="#474747">30</text>
</g>
<g id="panel-e">
<clipPath id="clipe"><rect x="143.3" y="740.7" width="425.2" height="486.5"/></clipPath>
<rect x="143.3" y="656.1" width="425.2" height="84.6" fill="#d9d9d9" stroke="#2b2b2b" stroke-width="2.5"/>
<text x="355.3" y="717.7" font-size="52.4" text-anchor="middle" fill="#1a1a1a">(e) Mean.sm</text>
<g clip-path="url(#clipe)">
<path d="M143.3 1166.4H568.5M143.3 1044.8H568.5M143.3 923.1H568.5M143.3 801.5H568.5M173.9 740.7V1227.2M324.6 740.7V1227.2M475.3 740.7V1227.2" stroke="#ebebeb" stroke-width="2" fill="none"/>
<path d="M143.3 1227.2H568.5M143.3 1105.6H568.5M143.3 984H568.5M143.3 862.3H568.5M143.3 740.7H568.5M249.1 740.7V1227.2M400.2 740.7V1227.2M550.9 740.7V1227.2" stroke="#ebebeb" stroke-width="3.9" fill="none"/>
<path d="M148 914h4M149 853h4M149 890h4M149 928h4M149 929h4M149 931h4M149 934h4M149 938h4M149 939h4M149 941h4M150 881h4M150 918h4M150 925h4M150 928h4M150 929h4M150 936h4M150 939h4M150 940h4M150 942h4M150 944h4M150 945h4M150 946h4M150 952h4M150 960h4M151 842h4M151 916h4M151 933h4M151 936h4M151 937h4M151 938h4M151 942h4M151 943h4M151 945h4M151 948h4M151 952h4M151 961h4M152 924h4M152 927h4M152 929h4M152 931h4M152 935h4M152 941h4M152 942h4M152 944h4M152 945h4M152 947h4M152 954h4M152 962h4M153 895h4M153 905h4M153 918h4M153 927h4M153 938h4M153 942h4M153 944h4M153 949h4M153 951h4M153 958h4M154 930h4M154 934h4M154 936h4M154 937h4M154 938h4M154 939h4M154 940h4M154 943h4M154 946h4M154 956h4M154 958h4M154 960h4M155 914h4M155 932h4M155 937h4M155 940h4M155 945h4M155 947h4M155 950h4M155 952h4M155 955h4M156 901h4M156 926h4M156 927h4M156 928h4M156 937h4M156 943h4M156 948h4M156 949h4M156 951h4M156 952h4M156 954h4M156 955h4M156 956h4M156 957h4M156 961h4M156 966h4M157 876h4M157 882h4M157 930h4M157 933h4M157 934h4M157 940h4M157 941h4M157 942h4M157 944h4M157 946h4M157 947h4M157 950h4M157 952h4M157 955h4M158 890h4M158 932h4M158 934h4M158 937h4M158 942h4M158 943h4M158 945h4M158 948h4M158 950h4M158 952h4M158 953h4M158 957h4M158 961h4M159 829h4M159 905h4M159 932h4M159 938h4M159 941h4M159 943h4M159 947h4M159 951h4M159 954h4M159 955h4M159 958h4M159 963h4M160 837h4M160 904h4M160 910h4M160 916h4M160 933h4M160 934h4M160 942h4M160 944h4M160 945h4M160 947h4M160 948h4M160 949h4M160 954h4M160 963h4M161 935h4M161 937h4M161 942h4M161 943h4M161 949h4M161 950h4M161 951h4M161 955h4M161 963h4M161 970h4M162 873h4M162 926h4M162 929h4M162 940h4M162 942h4M162 943h4M162 944h4M162 945h4M162 947h4M162 948h4M162 952h4M162 954h4M162 956h4M162 962h4M162 965h4M163 928h4M163 942h4M163 945h4M163 947h4M163 948h4M163 949h4M163 951h4M163 954h4M163 964h4M163 966h4M163 967h4M164 932h4M164 934h4M164 935h4M164 938h4M164 940h4M164 941h4M164 949h4M164 952h4M164 953h4M164 960h4M164 961h4M164 964h4M165 892h4M165 895h4M165 929h4M165 930h4M165 936h4M165 940h4M165 941h4M165 944h4M165 949h4M165 957h4M165 964h4M166 928h4M166 931h4M166 941h4M166 949h4M166 952h4M166 957h4M166 958h4M166 959h4M166 961h4M166 966h4M167 903h4M167 926h4M167 929h4M167 938h4M167 942h4M167 945h4M167 946h4M167 947h4M167 949h4M167 950h4M167 951h4M167 956h4M168 929h4M168 933h4M168 935h4M168 938h4M168 939h4M168 940h4M168 942h4M168 944h4M168 953h4M168 957h4M168 959h4M168 960h4M168 965h4M168 971h4M168 973h4M169 937h4M169 941h4M169 944h4M169 946h4M169 952h4M169 962h4M169 965h4M169 971h4M169 980h4M170 877h4M170 914h4M170 939h4M170 940h4M170 942h4M170 947h4M170 949h4M170 952h4M170 956h4M170 958h4M170 961h4M171 907h4M171 934h4M171 941h4M171 943h4M171 944h4M171 946h4M171 948h4M171 950h4M171 954h4M171 955h4M171 960h4M171 963h4M171 967h4M172 868h4M172 901h4M172 933h4M172 935h4M172 937h4M172 942h4M172 944h4M172 947h4M172 949h4M172 951h4M172 952h4M172 961h4M172 962h4M172 967h4M172 969h4M173 755h4M173 938h4M173 942h4M173 943h4M173 945h4M173 951h4M173 953h4M173 960h4M173 963h4M173 964h4M173 965h4M174 849h4M174 926h4M174 933h4M174 936h4M174 937h4M174 938h4M174 939h4M174 946h4M174 947h4M174 948h4M174 952h4M174 955h4M174 956h4M174 958h4M174 960h4M174 961h4M174 963h4M174 967h4M174 973h4M174 974h4M175 913h4M175 931h4M175 932h4M175 939h4M175 941h4M175 943h4M175 946h4M175 947h4M175 952h4M175 954h4M175 955h4M175 957h4M175 961h4M175 963h4M175 965h4M175 969h4M175 985h4M176 914h4M176 944h4M176 947h4M176 949h4M176 950h4M176 952h4M176 955h4M176 960h4M176 962h4M176 965h4M176 967h4M176 968h4M176 972h4M176 976h4M177 841h4M177 885h4M177 901h4M177 948h4M177 952h4M177 953h4M177 957h4M177 960h4M177 961h4M177 962h4M177 968h4M177 989h4M178 941h4M178 949h4M178 951h4M178 953h4M178 956h4M178 959h4M178 960h4M178 962h4M178 972h4M179 929h4M179 941h4M179 942h4M179 943h4M179 952h4M179 956h4M179 964h4M179 974h4M179 975h4M180 877h4M180 932h4M180 936h4M180 939h4M180 940h4M180 944h4M180 954h4M180 963h4M180 964h4M180 978h4M180 980h4M181 841h4M181 935h4M181 943h4M181 948h4M181 949h4M181 950h4M181 957h4M181 958h4M181 960h4M181 961h4M181 962h4M181 968h4M181 969h4M182 924h4M182 935h4M182 939h4M182 948h4M182 950h4M182 951h4M182 954h4M182 961h4M182 966h4M182 971h4M182 972h4M182 973h4M182 975h4M182 976h4M183 879h4M183 881h4M183 914h4M183 926h4M183 935h4M183 945h4M183 950h4M183 951h4M183 955h4M183 957h4M183 958h4M183 960h4M183 962h4M183 963h4M183 974h4M183 980h4M184 840h4M184 941h4M184 942h4M184 948h4M184 951h4M184 955h4M184 959h4M184 961h4M184 963h4M184 966h4M184 967h4M184 968h4M184 970h4M185 839h4M185 853h4M185 941h4M185 944h4M185 945h4M185 947h4M185 948h4M185 950h4M185 952h4M185 953h4M185 954h4M185 959h4M185 961h4M185 965h4M185 972h4M186 905h4M186 916h4M186 940h4M186 944h4M186 945h4M186 947h4M186 948h4M186 949h4M186 952h4M186 956h4M186 957h4M186 958h4M186 959h4M186 960h4M186 961h4M186 962h4M186 963h4M186 964h4M186 966h4M186 968h4M187 939h4M187 944h4M187 948h4M187 950h4M187 954h4M187 955h4M187 963h4M187 967h4M188 907h4M188 910h4M188 943h4M188 946h4M188 948h4M188 950h4M188 953h4M188 956h4M188 957h4M188 958h4M188 960h4M188 963h4M188 968h4M188 969h4M188 974h4M189 874h4M189 922h4M189 941h4M189 944h4M189 946h4M189 947h4M189 950h4M189 951h4M189 954h4M189 962h4M189 964h4M189 965h4M189 969h4M189 979h4M190 922h4M190 937h4M190 946h4M190 949h4M190 952h4M190 955h4M190 956h4M190 957h4M190 961h4M190 962h4M190 968h4M190 969h4M191 933h4M191 935h4M191 939h4M191 943h4M191 944h4M191 946h4M191 947h4M191 951h4M191 959h4M191 961h4M191 962h4M191 963h4M191 966h4M191 970h4M192 932h4M192 936h4M192 938h4M192 947h4M192 948h4M192 950h4M192 952h4M192 954h4M192 955h4M192 957h4M192 961h4M192 962h4M192 963h4M192 966h4M192 970h4M193 879h4M193 939h4M193 949h4M193 952h4M193 954h4M193 958h4M193 968h4M194 928h4M194 932h4M194 943h4M194 947h4M194 948h4M194 951h4M194 952h4M194 953h4M194 955h4M194 956h4M194 960h4M194 961h4M194 965h4M194 966h4M195 925h4M195 936h4M195 941h4M195 943h4M195 945h4M195 950h4M195 954h4M195 958h4M195 960h4M195 962h4M195 963h4M195 969h4M195 971h4M196 857h4M196 932h4M196 938h4M196 943h4M196 953h4M196 955h4M196 956h4M196 960h4M196 966h4M196 967h4M196 977h4M197 928h4M197 931h4M197 938h4M197 944h4M197 947h4M197 952h4M197 953h4M197 954h4M197 960h4M197 961h4M197 964h4M198 933h4M198 937h4M198 940h4M198 943h4M198 945h4M198 946h4M198 947h4M198 952h4M198 956h4M198 957h4M198 958h4M198 959h4M198 963h4M198 964h4M198 965h4M198 969h4M199 846h4M199 890h4M199 944h4M199 946h4M199 950h4M199 956h4M199 957h4M199 958h4M199 960h4M199 969h4M200 829h4M200 945h4M200 946h4M200 947h4M200 950h4M200 951h4M200 952h4M200 953h4M200 956h4M200 957h4M200 968h4M200 972h4M201 928h4M201 935h4M201 936h4M201 938h4M201 945h4M201 946h4M201 948h4M201 949h4M201 951h4M201 960h4M201 963h4M201 965h4M201 973h4M202 862h4M202 944h4M202 945h4M202 947h4M202 951h4M202 956h4M202 959h4M202 961h4M202 966h4M203 934h4M203 940h4M203 944h4M203 946h4M203 947h4M203 948h4M203 949h4M203 950h4M203 951h4M203 954h4M203 955h4M203 958h4M203 960h4M203 962h4M203 964h4M203 965h4M204 942h4M204 944h4M204 947h4M204 948h4M204 951h4M204 953h4M204 954h4M204 956h4M204 960h4M204 961h4M204 963h4M205 926h4M205 932h4M205 935h4M205 942h4M205 943h4M205 951h4M205 952h4M205 954h4M205 957h4M205 958h4M205 959h4M205 961h4M205 963h4M206 928h4M206 938h4M206 942h4M206 943h4M206 945h4M206 948h4M206 949h4M206 961h4M206 962h4M207 853h4M207 928h4M207 936h4M207 945h4M207 946h4M207 953h4M207 955h4M207 956h4M207 958h4M207 959h4M207 964h4M207 967h4M207 969h4M208 846h4M208 931h4M208 936h4M208 940h4M208 945h4M208 947h4M208 949h4M208 950h4M208 951h4M208 952h4M208 955h4M208 958h4M208 962h4M208 965h4M208 978h4M209 919h4M209 931h4M209 938h4M209 943h4M209 948h4M209 950h4M209 952h4M209 953h4M209 959h4M209 965h4M209 969h4M210 925h4M210 932h4M210 941h4M210 942h4M210 945h4M210 946h4M210 947h4M210 949h4M210 954h4M210 957h4M210 962h4M210 966h4M211 790h4M211 886h4M211 930h4M211 935h4M211 940h4M211 942h4M211 945h4M211 947h4M211 954h4M211 956h4M211 957h4M211 958h4M211 959h4M211 961h4M211 964h4M211 974h4M211 982h4M212 885h4M212 931h4M212 933h4M212 936h4M212 937h4M212 944h4M212 945h4M212 947h4M212 949h4M212 950h4M212 953h4M212 956h4M212 957h4M212 958h4M212 959h4M212 965h4M212 969h4M213 790h4M213 858h4M213 869h4M213 873h4M213 923h4M213 934h4M213 937h4M213 943h4M213 946h4M213 955h4M213 956h4M213 958h4M213 960h4M213 964h4M213 965h4M214 876h4M214 921h4M214 929h4M214 936h4M214 941h4M214 942h4M214 946h4M214 947h4M214 948h4M214 953h4M214 955h4M214 956h4M214 958h4M214 959h4M214 963h4M215 914h4M215 933h4M215 936h4M215 938h4M215 939h4M215 940h4M215 942h4M215 946h4M215 947h4M215 948h4M215 950h4M215 953h4M215 954h4M215 956h4M215 961h4M215 962h4M216 934h4M216 945h4M216 947h4M216 955h4M216 967h4M217 911h4M217 921h4M217 927h4M217 930h4M217 933h4M217 935h4M217 938h4M217 946h4M217 948h4M217 950h4M217 951h4M217 952h4M217 956h4M217 957h4M217 958h4M217 962h4M217 964h4M217 974h4M218 925h4M218 927h4M218 930h4M218 937h4M218 941h4M218 942h4M218 943h4M218 945h4M218 947h4M218 948h4M218 949h4M218 952h4M218 953h4M218 957h4M218 960h4M218 963h4M219 936h4M219 938h4M219 941h4M219 943h4M219 944h4M219 946h4M219 947h4M219 949h4M219 950h4M219 953h4M219 954h4M219 958h4M219 961h4M219 967h4M220 871h4M220 875h4M220 910h4M220 929h4M220 930h4M220 944h4M220 945h4M220 948h4M220 949h4M220 950h4M220 951h4M220 956h4M220 957h4M220 959h4M221 929h4M221 931h4M221 938h4M221 939h4M221 941h4M221 943h4M221 945h4M221 946h4M221 947h4M221 949h4M221 950h4M221 951h4M221 952h4M221 954h4M221 958h4M222 767h4M222 938h4M222 942h4M222 943h4M222 945h4M222 946h4M222 947h4M222 948h4M222 949h4M222 950h4M222 951h4M222 958h4M222 959h4M222 975h4M223 911h4M223 924h4M223 928h4M223 934h4M223 938h4M223 942h4M223 945h4M223 949h4M223 951h4M223 954h4M223 955h4M223 956h4M223 959h4M223 960h4M223 965h4M223 970h4M224 769h4M224 902h4M224 929h4M224 934h4M224 936h4M224 941h4M224 946h4M224 950h4M224 954h4M224 964h4M224 982h4M225 820h4M225 908h4M225 914h4M225 930h4M225 934h4M225 936h4M225 946h4M225 947h4M225 949h4M225 952h4M225 954h4M225 955h4M225 956h4M225 957h4M225 959h4M225 971h4M225 973h4M225 979h4M226 879h4M226 923h4M226 932h4M226 938h4M226 940h4M226 945h4M226 946h4M226 947h4M226 948h4M226 949h4M226 950h4M226 952h4M226 956h4M226 959h4M226 965h4M227 910h4M227 930h4M227 936h4M227 937h4M227 940h4M227 952h4M227 960h4M227 961h4M227 965h4M227 969h4M228 907h4M228 930h4M228 942h4M228 943h4M228 945h4M228 946h4M228 947h4M228 948h4M228 950h4M228 951h4M228 954h4M228 955h4M228 956h4M228 957h4M228 959h4M228 961h4M228 962h4M228 964h4M228 969h4M228 971h4M229 941h4M229 943h4M229 946h4M229 950h4M229 954h4M229 956h4M229 958h4M229 959h4M229 969h4M230 858h4M230 895h4M230 948h4M230 949h4M230 952h4M230 953h4M230 955h4M230 957h4M230 958h4M230 961h4M230 962h4M230 964h4M230 968h4M230 969h4M230 977h4M231 898h4M231 920h4M231 941h4M231 946h4M231 948h4M231 950h4M231 954h4M231 956h4M231 963h4M231 967h4M231 970h4M231 980h4M232 867h4M232 906h4M232 923h4M232 933h4M232 936h4M232 943h4M232 952h4M232 966h4M232 967h4M232 968h4M232 970h4M232 972h4M232 977h4M232 989h4M233 899h4M233 901h4M233 928h4M233 944h4M233 951h4M233 954h4M233 955h4M233 956h4M233 962h4M233 964h4M233 965h4M233 968h4M233 970h4M233 973h4M233 982h4M233 984h4M233 986h4M234 838h4M234 852h4M234 898h4M234 921h4M234 933h4M234 950h4M234 953h4M234 957h4M234 959h4M234 960h4M234 965h4M234 967h4M234 970h4M234 976h4M234 978h4M234 979h4M235 907h4M235 939h4M235 942h4M235 954h4M235 956h4M235 958h4M235 960h4M235 962h4M235 963h4M235 968h4M235 974h4M235 975h4M235 981h4M236 893h4M236 899h4M236 955h4M236 957h4M236 964h4M236 967h4M236 969h4M236 975h4M236 976h4M237 882h4M237 887h4M237 894h4M237 913h4M237 915h4M237 923h4M237 955h4M237 958h4M237 960h4M237 961h4M237 962h4M237 963h4M237 966h4M237 969h4M237 971h4M237 979h4M238 882h4M238 952h4M238 956h4M238 957h4M238 958h4M238 959h4M238 965h4M238 966h4M238 968h4M238 969h4M238 973h4M238 975h4M238 976h4M238 977h4M238 979h4M238 989h4M238 997h4M239 931h4M239 946h4M239 951h4M239 959h4M239 961h4M239 962h4M239 967h4M239 968h4M239 971h4M239 973h4M239 975h4M239 976h4M239 977h4M239 978h4M239 980h4M239 982h4M239 990h4M240 933h4M240 937h4M240 952h4M240 954h4M240 956h4M240 957h4M240 958h4M240 960h4M240 961h4M240 965h4M240 966h4M240 967h4M240 968h4M240 970h4M240 971h4M240 973h4M240 975h4M240 977h4M240 980h4M240 981h4M240 982h4M240 983h4M240 984h4M240 987h4M240 998h4M241 951h4M241 955h4M241 956h4M241 963h4M241 964h4M241 965h4M241 966h4M241 967h4M241 972h4M241 973h4M241 974h4M241 975h4M241 980h4M241 981h4M241 982h4M241 983h4M241 984h4M241 985h4M241 986h4M241 990h4M241 992h4M242 963h4M242 964h4M242 966h4M242 967h4M242 975h4M242 976h4M242 981h4M242 985h4M242 986h4M242 987h4M242 993h4M242 1003h4M242 1005h4M243 961h4M243 963h4M243 967h4M243 970h4M243 971h4M243 972h4M243 974h4M243 978h4M243 982h4M243 983h4M244 963h4M244 964h4M244 965h4M244 975h4M244 977h4M244 978h4M244 981h4M244 984h4M244 985h4M244 988h4M244 989h4M244 990h4M244 994h4M244 1021h4M245 973h4M245 975h4M245 976h4M245 979h4M245 980h4M245 987h4M245 990h4M245 992h4M245 1002h4M246 951h4M246 962h4M246 969h4M246 971h4M246 976h4M246 977h4M246 985h4M246 986h4M246 989h4M246 990h4M246 991h4M246 993h4M246 996h4M246 999h4M246 1006h4M246 1009h4M246 1070h4M247 967h4M247 972h4M247 974h4M247 975h4M247 977h4M247 979h4M247 982h4M247 986h4M247 990h4M247 993h4M248 962h4M248 972h4M248 977h4M248 978h4M248 988h4M248 994h4M248 996h4M249 951h4M249 967h4M249 979h4M249 983h4M249 986h4M249 987h4M249 997h4M249 999h4M249 1003h4M249 1011h4M250 954h4M250 971h4M250 974h4M250 976h4M250 977h4M250 980h4M250 983h4M250 991h4M250 992h4M250 993h4M250 995h4M250 998h4M250 1029h4M251 960h4M251 967h4M251 974h4M251 977h4M251 981h4M251 992h4M251 994h4M251 998h4M251 1000h4M251 1002h4M251 1010h4M251 1015h4M252 970h4M252 977h4M252 978h4M252 982h4M252 1008h4M252 1009h4M252 1017h4M253 971h4M253 972h4M253 976h4M253 983h4M253 991h4M253 992h4M253 994h4M253 996h4M254 971h4M254 977h4M254 991h4M254 999h4M254 1000h4M254 1013h4M254 1014h4M255 963h4M255 981h4M255 982h4M255 989h4M255 991h4M255 992h4M255 995h4M255 997h4M255 998h4M255 1000h4M255 1003h4M255 1006h4M255 1007h4M255 1009h4M255 1012h4M255 1022h4M256 961h4M256 976h4M256 986h4M256 994h4M256 995h4M256 996h4M256 999h4M256 1002h4M256 1004h4M256 1014h4M256 1018h4M257 964h4M257 978h4M257 983h4M257 986h4M257 994h4M257 996h4M257 997h4M257 1001h4M257 1004h4M257 1006h4M257 1015h4M257 1021h4M258 975h4M258 980h4M258 981h4M258 985h4M258 988h4M258 990h4M258 997h4M258 1000h4M258 1010h4M258 1012h4M258 1016h4M259 970h4M259 975h4M259 978h4M259 986h4M259 989h4M259 1000h4M259 1003h4M259 1004h4M259 1007h4M259 1008h4M260 970h4M260 978h4M260 984h4M260 985h4M260 992h4M260 996h4M260 997h4M260 1000h4M260 1001h4M260 1002h4M260 1007h4M260 1008h4M260 1011h4M260 1015h4M260 1025h4M261 971h4M261 976h4M261 986h4M261 995h4M261 998h4M261 999h4M261 1001h4M261 1014h4M261 1017h4M261 1018h4M261 1033h4M262 960h4M262 973h4M262 983h4M262 987h4M262 988h4M262 989h4M262 990h4M262 991h4M262 993h4M262 997h4M262 1003h4M262 1010h4M262 1014h4M262 1022h4M263 916h4M263 987h4M263 991h4M263 995h4M263 996h4M263 998h4M263 999h4M263 1001h4M263 1004h4M263 1005h4M263 1006h4M263 1011h4M263 1014h4M263 1016h4M263 1020h4M263 1021h4M264 973h4M264 976h4M264 980h4M264 983h4M264 986h4M264 989h4M264 990h4M264 993h4M264 994h4M264 1000h4M264 1001h4M264 1003h4M264 1004h4M264 1007h4M265 957h4M265 971h4M265 981h4M265 985h4M265 989h4M265 993h4M265 995h4M265 1001h4M265 1007h4M265 1009h4M266 966h4M266 993h4M266 997h4M266 1005h4M266 1008h4M266 1020h4M266 1028h4M267 979h4M267 986h4M267 987h4M267 992h4M267 998h4M267 1004h4M267 1007h4M267 1013h4M267 1017h4M267 1028h4M268 981h4M268 982h4M268 985h4M268 986h4M268 988h4M268 990h4M268 992h4M268 996h4M268 1001h4M268 1004h4M268 1005h4M268 1010h4M268 1016h4M268 1025h4M269 985h4M269 986h4M269 987h4M269 988h4M269 989h4M269 996h4M269 999h4M269 1000h4M269 1001h4M269 1005h4M269 1014h4M269 1016h4M269 1027h4M269 1074h4M270 987h4M270 988h4M270 996h4M270 1001h4M270 1002h4M270 1004h4M270 1007h4M270 1013h4M270 1019h4M271 968h4M271 985h4M271 991h4M271 992h4M271 993h4M271 997h4M271 998h4M271 999h4M271 1011h4M271 1019h4M271 1020h4M272 973h4M272 974h4M272 979h4M272 982h4M272 983h4M272 991h4M272 997h4M272 1000h4M272 1002h4M272 1014h4M272 1023h4M272 1036h4M273 973h4M273 982h4M273 983h4M273 991h4M273 992h4M273 996h4M273 1002h4M273 1004h4M273 1006h4M273 1007h4M273 1008h4M273 1011h4M274 973h4M274 988h4M274 992h4M274 998h4M274 1003h4M274 1006h4M274 1008h4M274 1012h4M274 1017h4M274 1019h4M274 1027h4M274 1028h4M275 973h4M275 974h4M275 983h4M275 986h4M275 994h4M275 995h4M275 997h4M275 998h4M275 1002h4M275 1004h4M275 1006h4M275 1007h4M275 1009h4M275 1012h4M275 1017h4M275 1023h4M276 965h4M276 972h4M276 982h4M276 990h4M276 995h4M276 996h4M276 1004h4M276 1007h4M276 1019h4M276 1022h4M277 978h4M277 1005h4M277 1006h4M277 1007h4M277 1029h4M278 976h4M278 987h4M278 993h4M278 994h4M278 1000h4M278 1008h4M278 1013h4M278 1018h4M279 982h4M279 984h4M279 987h4M279 989h4M279 990h4M279 994h4M279 997h4M279 998h4M279 1004h4M279 1007h4M280 977h4M280 989h4M280 991h4M280 994h4M280 995h4M280 1002h4M280 1004h4M280 1005h4M280 1010h4M280 1015h4M281 962h4M281 977h4M281 980h4M281 985h4M281 987h4M281 992h4M281 996h4M281 998h4M281 1000h4M281 1001h4M281 1002h4M281 1004h4M281 1006h4M281 1007h4M281 1010h4M281 1016h4M281 1017h4M281 1028h4M282 971h4M282 972h4M282 975h4M282 979h4M282 980h4M282 983h4M282 984h4M282 988h4M282 992h4M282 995h4M282 999h4M282 1002h4M282 1007h4M282 1017h4M283 990h4M283 991h4M283 993h4M283 995h4M283 1035h4M284 978h4M284 982h4M284 984h4M284 991h4M284 992h4M284 999h4M284 1001h4M284 1004h4M284 1006h4M284 1007h4M284 1011h4M284 1014h4M284 1028h4M285 970h4M285 983h4M285 984h4M285 985h4M285 986h4M285 992h4M285 993h4M285 996h4M285 1002h4M285 1004h4M285 1006h4M285 1013h4M285 1020h4M286 987h4M286 989h4M286 993h4M286 995h4M286 996h4M286 1000h4M286 1002h4M286 1003h4M286 1005h4M286 1019h4M286 1026h4M287 983h4M287 984h4M287 989h4M287 990h4M287 999h4M287 1005h4M287 1012h4M287 1014h4M287 1017h4M287 1018h4M287 1025h4M287 1028h4M288 976h4M288 989h4M288 990h4M288 991h4M288 993h4M288 1002h4M288 1005h4M288 1006h4M288 1009h4M289 986h4M289 988h4M289 991h4M289 994h4M289 995h4M289 998h4M289 999h4M289 1000h4M289 1002h4M289 1008h4M289 1009h4M289 1019h4M289 1026h4M290 973h4M290 986h4M290 989h4M290 990h4M290 994h4M290 998h4M290 1000h4M290 1001h4M290 1006h4M290 1010h4M290 1013h4M290 1023h4M290 1024h4M290 1025h4M290 1030h4M291 975h4M291 976h4M291 979h4M291 980h4M291 1001h4M291 1002h4M291 1010h4M291 1011h4M291 1030h4M292 983h4M292 985h4M292 989h4M292 990h4M292 991h4M292 994h4M292 996h4M292 997h4M292 1003h4M292 1004h4M292 1007h4M292 1009h4M292 1013h4M292 1015h4M292 1028h4M293 975h4M293 979h4M293 986h4M293 989h4M293 990h4M293 993h4M293 997h4M293 998h4M293 1000h4M293 1005h4M293 1021h4M293 1022h4M294 981h4M294 984h4M294 985h4M294 988h4M294 991h4M294 994h4M294 995h4M294 997h4M294 998h4M294 1000h4M294 1024h4M294 1028h4M295 973h4M295 982h4M295 991h4M295 997h4M295 999h4M295 1000h4M295 1001h4M295 1002h4M295 1003h4M295 1005h4M295 1009h4M295 1012h4M296 974h4M296 976h4M296 991h4M296 993h4M296 1001h4M296 1005h4M296 1006h4M296 1007h4M296 1010h4M296 1011h4M296 1014h4M297 984h4M297 991h4M297 992h4M297 993h4M297 998h4M297 1000h4M297 1001h4M297 1002h4M297 1006h4M297 1007h4M297 1014h4M297 1018h4M297 1019h4M298 990h4M298 991h4M298 992h4M298 996h4M298 997h4M298 1001h4M298 1005h4M298 1008h4M298 1010h4M298 1016h4M299 979h4M299 982h4M299 988h4M299 992h4M299 993h4M299 995h4M299 1000h4M299 1011h4M299 1014h4M299 1029h4M300 979h4M300 987h4M300 988h4M300 993h4M300 995h4M300 1008h4M300 1014h4M300 1017h4M301 972h4M301 974h4M301 987h4M301 988h4M301 993h4M301 996h4M301 999h4M301 1000h4M301 1001h4M301 1002h4M301 1005h4M301 1006h4M301 1008h4M301 1016h4M302 980h4M302 981h4M302 983h4M302 986h4M302 989h4M302 993h4M302 995h4M302 996h4M302 999h4M302 1002h4M302 1005h4M302 1011h4M302 1015h4M302 1020h4M302 1022h4M303 968h4M303 984h4M303 985h4M303 987h4M303 991h4M303 995h4M303 996h4M303 998h4M303 1003h4M303 1004h4M303 1005h4M303 1006h4M303 1007h4M303 1013h4M303 1015h4M303 1023h4M303 1029h4M304 980h4M304 984h4M304 990h4M304 993h4M304 1004h4M304 1005h4M304 1007h4M304 1016h4M304 1017h4M304 1031h4M305 995h4M305 1000h4M305 1004h4M305 1005h4M305 1008h4M305 1019h4M306 967h4M306 972h4M306 973h4M306 995h4M306 996h4M306 999h4M306 1005h4M306 1007h4M306 1018h4M306 1021h4M307 987h4M307 989h4M307 1012h4M307 1015h4M307 1016h4M307 1018h4M308 970h4M308 985h4M308 991h4M308 992h4M308 998h4M308 1002h4M308 1009h4M308 1010h4M308 1016h4M308 1024h4M308 1029h4M309 975h4M309 988h4M309 993h4M309 1000h4M309 1006h4M309 1009h4M309 1010h4M309 1013h4M309 1019h4M310 965h4M310 973h4M310 975h4M310 996h4M310 1000h4M310 1006h4M310 1037h4M311 979h4M311 982h4M311 989h4M311 990h4M311 993h4M311 994h4M311 995h4M311 999h4M311 1003h4M311 1007h4M311 1008h4M311 1009h4M311 1011h4M311 1015h4M312 970h4M312 986h4M312 994h4M312 996h4M312 998h4M312 1003h4M312 1008h4M312 1009h4M312 1016h4M313 979h4M313 988h4M313 989h4M313 993h4M313 994h4M313 999h4M313 1001h4M313 1003h4M313 1009h4M313 1011h4M313 1014h4M314 982h4M314 983h4M314 987h4M314 996h4M314 998h4M314 1004h4M314 1006h4M314 1007h4M314 1009h4M314 1010h4M314 1020h4M314 1021h4M314 1024h4M314 1025h4M314 1028h4M315 968h4M315 983h4M315 992h4M315 994h4M315 995h4M315 998h4M315 999h4M315 1001h4M315 1002h4M315 1006h4M315 1007h4M315 1008h4M315 1009h4M315 1012h4M315 1030h4M316 983h4M316 988h4M316 994h4M316 997h4M316 1004h4M316 1006h4M316 1007h4M316 1009h4M316 1012h4M316 1020h4M317 993h4M317 995h4M317 999h4M317 1000h4M317 1011h4M317 1012h4M317 1014h4M317 1019h4M317 1020h4M317 1021h4M318 987h4M318 988h4M318 993h4M318 994h4M318 1002h4M318 1003h4M318 1004h4M318 1005h4M318 1008h4M318 1009h4M318 1012h4M318 1013h4M318 1016h4M319 999h4M319 1002h4M319 1010h4M319 1014h4M319 1019h4M319 1023h4M319 1026h4M319 1031h4M320 955h4M320 993h4M320 994h4M320 999h4M320 1000h4M320 1005h4M320 1007h4M320 1008h4M320 1012h4M320 1015h4M320 1018h4M320 1019h4M321 970h4M321 977h4M321 979h4M321 984h4M321 987h4M321 992h4M321 993h4M321 998h4M321 1004h4M321 1009h4M321 1011h4M321 1013h4M321 1014h4M321 1024h4M322 991h4M322 994h4M322 996h4M322 1001h4M322 1005h4M322 1007h4M322 1009h4M322 1023h4M323 990h4M323 996h4M323 1003h4M323 1004h4M323 1005h4M323 1006h4M323 1007h4M323 1011h4M323 1015h4M323 1029h4M323 1030h4M324 946h4M324 973h4M324 989h4M324 991h4M324 993h4M324 996h4M324 999h4M324 1002h4M324 1003h4M324 1004h4M324 1006h4M324 1007h4M324 1008h4M324 1009h4M324 1010h4M324 1015h4M324 1021h4M324 1024h4M324 1026h4M325 975h4M325 985h4M325 989h4M325 992h4M325 996h4M325 1000h4M325 1008h4M325 1010h4M325 1014h4M325 1024h4M326 956h4M326 976h4M326 985h4M326 987h4M326 996h4M326 999h4M326 1000h4M326 1007h4M326 1011h4M326 1012h4M326 1016h4M326 1018h4M326 1020h4M326 1032h4M327 951h4M327 991h4M327 992h4M327 999h4M327 1006h4M327 1009h4M327 1019h4M328 977h4M328 982h4M328 988h4M328 990h4M328 995h4M328 999h4M328 1002h4M328 1003h4M328 1004h4M328 1008h4M328 1013h4M328 1024h4M328 1029h4M328 1038h4M329 991h4M329 993h4M329 995h4M329 998h4M329 1000h4M329 1003h4M329 1011h4M329 1012h4M329 1014h4M329 1015h4M329 1020h4M329 1021h4M329 1035h4M330 983h4M330 991h4M330 993h4M330 1001h4M330 1002h4M330 1006h4M330 1007h4M330 1017h4M330 1018h4M330 1020h4M330 1022h4M330 1029h4M331 984h4M331 985h4M331 990h4M331 996h4M331 997h4M331 999h4M331 1003h4M331 1006h4M331 1007h4M331 1009h4M331 1011h4M331 1012h4M331 1013h4M331 1024h4M331 1028h4M332 983h4M332 994h4M332 996h4M332 998h4M332 1004h4M332 1006h4M332 1008h4M332 1011h4M332 1014h4M332 1016h4M332 1017h4M332 1020h4M332 1021h4M333 998h4M333 999h4M333 1005h4M333 1008h4M333 1009h4M333 1010h4M333 1012h4M333 1013h4M333 1014h4M333 1016h4M333 1018h4M333 1026h4M333 1028h4M333 1033h4M334 992h4M334 995h4M334 1001h4M334 1002h4M334 1003h4M334 1004h4M334 1005h4M334 1007h4M334 1008h4M334 1009h4M334 1019h4M334 1020h4M334 1034h4M335 981h4M335 984h4M335 985h4M335 990h4M335 995h4M335 996h4M335 1000h4M335 1003h4M335 1010h4M335 1014h4M335 1015h4M335 1019h4M335 1021h4M335 1024h4M335 1031h4M335 1052h4M336 971h4M336 975h4M336 983h4M336 986h4M336 990h4M336 992h4M336 996h4M336 997h4M336 999h4M336 1000h4M336 1002h4M336 1004h4M336 1006h4M336 1012h4M336 1015h4M336 1024h4M336 1026h4M337 987h4M337 989h4M337 992h4M337 993h4M337 995h4M337 996h4M337 997h4M337 998h4M337 999h4M337 1002h4M337 1004h4M337 1005h4M337 1006h4M337 1010h4M337 1012h4M337 1014h4M337 1017h4M337 1021h4M337 1024h4M337 1028h4M337 1029h4M337 1035h4M338 978h4M338 979h4M338 982h4M338 984h4M338 985h4M338 986h4M338 987h4M338 997h4M338 998h4M338 999h4M338 1000h4M338 1005h4M338 1008h4M338 1009h4M338 1012h4M338 1014h4M338 1018h4M338 1019h4M338 1026h4M338 1027h4M338 1038h4M338 1039h4M339 984h4M339 987h4M339 992h4M339 993h4M339 995h4M339 997h4M339 1003h4M339 1011h4M339 1012h4M339 1014h4M339 1015h4M339 1018h4M339 1019h4M339 1020h4M339 1024h4M339 1027h4M339 1034h4M340 983h4M340 989h4M340 990h4M340 992h4M340 994h4M340 995h4M340 996h4M340 997h4M340 999h4M340 1001h4M340 1002h4M340 1003h4M340 1004h4M340 1005h4M340 1010h4M340 1016h4M340 1022h4M340 1023h4M340 1025h4M340 1032h4M341 981h4M341 988h4M341 989h4M341 1001h4M341 1004h4M341 1006h4M341 1011h4M341 1012h4M341 1013h4M341 1017h4M341 1018h4M341 1029h4M341 1035h4M342 981h4M342 988h4M342 991h4M342 996h4M342 997h4M342 999h4M342 1001h4M342 1004h4M342 1005h4M342 1006h4M342 1009h4M342 1012h4M342 1020h4M342 1021h4M342 1023h4M342 1024h4M342 1025h4M342 1036h4M343 991h4M343 992h4M343 993h4M343 997h4M343 998h4M343 1001h4M343 1004h4M343 1008h4M343 1013h4M343 1015h4M343 1016h4M343 1018h4M343 1023h4M343 1032h4M344 988h4M344 990h4M344 999h4M344 1006h4M344 1009h4M344 1011h4M344 1016h4M344 1017h4M344 1019h4M344 1021h4M344 1022h4M344 1029h4M345 975h4M345 989h4M345 994h4M345 998h4M345 1000h4M345 1002h4M345 1003h4M345 1009h4M345 1011h4M345 1012h4M345 1013h4M345 1014h4M345 1015h4M345 1016h4M345 1027h4M345 1028h4M345 1030h4M345 1035h4M345 1038h4M346 983h4M346 991h4M346 994h4M346 995h4M346 1000h4M346 1001h4M346 1003h4M346 1005h4M346 1009h4M346 1017h4M346 1018h4M346 1021h4M346 1023h4M346 1024h4M346 1036h4M347 982h4M347 994h4M347 996h4M347 997h4M347 1001h4M347 1002h4M347 1005h4M347 1008h4M347 1011h4M347 1012h4M347 1013h4M347 1015h4M347 1016h4M347 1021h4M347 1032h4M348 974h4M348 998h4M348 999h4M348 1002h4M348 1005h4M348 1006h4M348 1008h4M348 1009h4M348 1011h4M348 1012h4M348 1013h4M348 1015h4M348 1017h4M348 1020h4M348 1024h4M348 1025h4M348 1026h4M349 993h4M349 996h4M349 999h4M349 1002h4M349 1003h4M349 1004h4M349 1005h4M349 1006h4M349 1007h4M349 1008h4M349 1009h4M349 1012h4M349 1013h4M349 1016h4M349 1017h4M349 1018h4M349 1019h4M349 1020h4M349 1021h4M349 1027h4M349 1036h4M350 983h4M350 987h4M350 994h4M350 999h4M350 1000h4M350 1002h4M350 1006h4M350 1008h4M350 1009h4M350 1013h4M350 1015h4M350 1016h4M350 1023h4M350 1027h4M350 1028h4M350 1032h4M351 968h4M351 985h4M351 989h4M351 992h4M351 994h4M351 1005h4M351 1006h4M351 1007h4M351 1008h4M351 1014h4M351 1017h4M351 1020h4M351 1028h4M351 1035h4M352 991h4M352 995h4M352 997h4M352 1003h4M352 1005h4M352 1007h4M352 1010h4M352 1011h4M352 1013h4M352 1016h4M352 1021h4M352 1024h4M352 1029h4M352 1032h4M352 1057h4M353 987h4M353 994h4M353 1001h4M353 1002h4M353 1007h4M353 1012h4M353 1013h4M353 1016h4M353 1018h4M353 1022h4M353 1026h4M353 1027h4M353 1033h4M353 1034h4M353 1046h4M354 987h4M354 989h4M354 993h4M354 994h4M354 997h4M354 998h4M354 1003h4M354 1005h4M354 1006h4M354 1007h4M354 1008h4M354 1014h4M354 1017h4M354 1020h4M354 1023h4M354 1025h4M354 1029h4M354 1030h4M354 1035h4M355 998h4M355 1002h4M355 1003h4M355 1007h4M355 1008h4M355 1009h4M355 1010h4M355 1011h4M355 1012h4M355 1014h4M355 1018h4M355 1020h4M355 1021h4M355 1025h4M355 1028h4M355 1031h4M355 1034h4M356 988h4M356 991h4M356 992h4M356 994h4M356 997h4M356 1001h4M356 1002h4M356 1006h4M356 1009h4M356 1014h4M356 1015h4M356 1016h4M356 1017h4M356 1018h4M356 1022h4M356 1024h4M356 1026h4M356 1039h4M357 987h4M357 991h4M357 995h4M357 997h4M357 1000h4M357 1003h4M357 1004h4M357 1006h4M357 1009h4M357 1010h4M357 1013h4M357 1018h4M357 1019h4M357 1020h4M357 1023h4M357 1025h4M357 1027h4M357 1037h4M357 1044h4M358 981h4M358 983h4M358 991h4M358 1002h4M358 1003h4M358 1005h4M358 1011h4M358 1013h4M358 1015h4M358 1021h4M358 1025h4M358 1028h4M358 1032h4M358 1035h4M358 1036h4M359 990h4M359 996h4M359 1004h4M359 1011h4M359 1012h4M359 1013h4M359 1015h4M359 1016h4M359 1017h4M359 1019h4M359 1020h4M359 1022h4M359 1025h4M359 1028h4M359 1030h4M359 1038h4M360 995h4M360 997h4M360 1000h4M360 1004h4M360 1006h4M360 1007h4M360 1008h4M360 1009h4M360 1010h4M360 1011h4M360 1012h4M360 1015h4M360 1020h4M360 1026h4M360 1029h4M361 992h4M361 1001h4M361 1003h4M361 1004h4M361 1009h4M361 1013h4M361 1020h4M361 1022h4M361 1024h4M361 1025h4M361 1026h4M361 1032h4M361 1039h4M362 992h4M362 996h4M362 999h4M362 1000h4M362 1002h4M362 1003h4M362 1005h4M362 1007h4M362 1019h4M362 1022h4M362 1023h4M362 1026h4M362 1030h4M362 1031h4M362 1033h4M363 997h4M363 998h4M363 999h4M363 1000h4M363 1001h4M363 1004h4M363 1006h4M363 1008h4M363 1014h4M363 1015h4M363 1016h4M363 1021h4M363 1023h4M363 1026h4M363 1028h4M363 1029h4M363 1042h4M364 993h4M364 995h4M364 996h4M364 1001h4M364 1003h4M364 1004h4M364 1005h4M364 1007h4M364 1008h4M364 1009h4M364 1012h4M364 1013h4M364 1014h4M364 1015h4M364 1018h4M364 1019h4M364 1020h4M364 1021h4M364 1024h4M364 1027h4M364 1033h4M365 971h4M365 974h4M365 980h4M365 990h4M365 994h4M365 997h4M365 1001h4M365 1004h4M365 1007h4M365 1010h4M365 1011h4M365 1014h4M365 1015h4M365 1018h4M365 1025h4M365 1026h4M365 1027h4M365 1033h4M365 1035h4M365 1039h4M366 985h4M366 996h4M366 997h4M366 998h4M366 1000h4M366 1001h4M366 1002h4M366 1003h4M366 1004h4M366 1007h4M366 1008h4M366 1011h4M366 1013h4M366 1014h4M366 1015h4M366 1016h4M366 1017h4M366 1021h4M366 1023h4M366 1026h4M366 1029h4M366 1031h4M367 971h4M367 980h4M367 989h4M367 993h4M367 999h4M367 1000h4M367 1002h4M367 1003h4M367 1005h4M367 1006h4M367 1007h4M367 1008h4M367 1009h4M367 1011h4M367 1015h4M367 1016h4M367 1017h4M367 1020h4M367 1022h4M367 1023h4M367 1025h4M367 1026h4M367 1027h4M367 1028h4M367 1033h4M367 1034h4M367 1038h4M367 1040h4M368 987h4M368 998h4M368 1001h4M368 1002h4M368 1003h4M368 1006h4M368 1007h4M368 1008h4M368 1012h4M368 1015h4M368 1016h4M368 1019h4M368 1020h4M368 1024h4M368 1026h4M368 1028h4M369 989h4M369 994h4M369 996h4M369 997h4M369 999h4M369 1002h4M369 1003h4M369 1013h4M369 1016h4M369 1018h4M369 1019h4M369 1024h4M369 1028h4M370 1000h4M370 1009h4M370 1012h4M370 1014h4M370 1016h4M370 1023h4M370 1024h4M370 1028h4M370 1036h4M371 1011h4M371 1013h4M371 1015h4M371 1017h4M371 1020h4M371 1022h4M371 1023h4M371 1028h4M371 1029h4M371 1034h4M371 1040h4M372 987h4M372 993h4M372 996h4M372 998h4M372 1003h4M372 1007h4M372 1010h4M372 1012h4M372 1016h4M372 1019h4M372 1023h4M372 1024h4M372 1030h4M372 1034h4M372 1035h4M373 1005h4M373 1010h4M373 1012h4M373 1013h4M373 1015h4M373 1018h4M373 1020h4M373 1025h4M373 1031h4M373 1033h4M373 1042h4M374 1007h4M374 1010h4M374 1011h4M374 1017h4M374 1019h4M374 1021h4M374 1024h4M374 1025h4M374 1027h4M374 1030h4M374 1031h4M374 1041h4M375 1004h4M375 1007h4M375 1008h4M375 1010h4M375 1013h4M375 1015h4M375 1017h4M375 1019h4M375 1021h4M375 1022h4M375 1023h4M375 1034h4M376 1002h4M376 1005h4M376 1010h4M376 1016h4M376 1017h4M376 1022h4M376 1024h4M376 1028h4M376 1029h4M376 1032h4M376 1037h4M376 1044h4M377 987h4M377 993h4M377 997h4M377 1004h4M377 1005h4M377 1013h4M377 1019h4M377 1021h4M377 1032h4M377 1040h4M377 1041h4M378 981h4M378 994h4M378 997h4M378 1012h4M378 1028h4M378 1033h4M379 994h4M379 1002h4M379 1003h4M379 1005h4M379 1007h4M379 1008h4M379 1009h4M379 1017h4M379 1019h4M379 1020h4M379 1027h4M379 1033h4M379 1038h4M379 1043h4M380 995h4M380 1012h4M380 1014h4M380 1018h4M380 1019h4M380 1031h4M380 1034h4M381 996h4M381 997h4M381 1006h4M381 1016h4M381 1017h4M381 1019h4M381 1021h4M381 1023h4M381 1027h4M381 1031h4M381 1039h4M382 1005h4M382 1006h4M382 1011h4M382 1012h4M382 1014h4M382 1017h4M382 1026h4M383 986h4M383 1011h4M383 1012h4M383 1016h4M383 1023h4M383 1024h4M383 1047h4M384 998h4M384 1003h4M384 1006h4M384 1009h4M384 1018h4M384 1025h4M384 1035h4M385 984h4M385 988h4M385 1014h4M385 1016h4M385 1018h4M385 1024h4M386 982h4M386 1003h4M386 1005h4M386 1014h4M386 1016h4M386 1019h4M386 1020h4M386 1021h4M386 1025h4M386 1038h4M386 1077h4M387 997h4M387 1003h4M387 1013h4M387 1016h4M387 1025h4M387 1027h4M387 1028h4M387 1032h4M388 1002h4M388 1009h4M388 1018h4M388 1025h4M388 1027h4M388 1028h4M388 1030h4M388 1035h4M389 998h4M389 999h4M389 1007h4M389 1009h4M389 1011h4M389 1014h4M389 1036h4M390 997h4M390 1000h4M390 1011h4M390 1012h4M390 1014h4M390 1023h4M390 1025h4M390 1029h4M391 998h4M391 1011h4M391 1012h4M391 1014h4M391 1017h4M391 1018h4M391 1021h4M391 1032h4M392 998h4M392 999h4M392 1000h4M392 1001h4M392 1008h4M392 1011h4M392 1013h4M392 1016h4M392 1017h4M392 1020h4M392 1026h4M392 1030h4M392 1032h4M392 1035h4M392 1038h4M392 1040h4M393 992h4M393 1005h4M393 1007h4M393 1008h4M393 1024h4M393 1028h4M393 1039h4M394 1006h4M394 1009h4M394 1014h4M394 1027h4M394 1034h4M395 995h4M395 1000h4M395 1009h4M395 1016h4M395 1019h4M395 1024h4M395 1032h4M395 1038h4M395 1040h4M395 1048h4M396 1001h4M396 1003h4M396 1009h4M396 1019h4M396 1025h4M396 1029h4M396 1034h4M396 1040h4M396 1047h4M397 1002h4M397 1003h4M397 1018h4M397 1019h4M397 1020h4M397 1027h4M397 1029h4M397 1037h4M398 997h4M398 999h4M398 1002h4M398 1005h4M398 1016h4M398 1023h4M398 1031h4M398 1037h4M399 999h4M399 1009h4M399 1016h4M399 1022h4M399 1045h4M400 992h4M400 1010h4M400 1014h4M400 1017h4M400 1021h4M400 1023h4M400 1033h4M400 1041h4M401 1009h4M401 1012h4M401 1016h4M401 1019h4M401 1020h4M401 1036h4M402 983h4M402 998h4M402 1003h4M402 1016h4M402 1022h4M402 1023h4M402 1026h4M402 1029h4M402 1031h4M402 1042h4M403 1004h4M403 1009h4M403 1010h4M403 1016h4M404 994h4M404 1017h4M404 1034h4M405 989h4M405 1026h4M405 1035h4M405 1039h4M406 978h4M406 1017h4M406 1019h4M406 1020h4M406 1024h4M406 1031h4M406 1037h4M407 1004h4M407 1009h4M407 1012h4M407 1016h4M407 1033h4M407 1038h4M407 1048h4M408 1001h4M408 1014h4M408 1015h4M408 1020h4M409 983h4M409 1009h4M409 1014h4M409 1027h4M409 1035h4M410 992h4M410 997h4M410 1010h4M410 1011h4M410 1021h4M410 1024h4M410 1033h4M410 1037h4M411 1000h4M411 1005h4M411 1015h4M411 1017h4M411 1022h4M411 1024h4M411 1032h4M412 994h4M412 1005h4M412 1018h4M412 1023h4M412 1024h4M412 1025h4M412 1035h4M413 994h4M413 1001h4M413 1003h4M413 1004h4M413 1007h4M413 1013h4M413 1015h4M413 1039h4M414 1003h4M414 1018h4M414 1020h4M414 1024h4M414 1036h4M415 1005h4M415 1007h4M415 1009h4M415 1012h4M415 1014h4M415 1015h4M415 1018h4M415 1022h4M415 1024h4M415 1033h4M415 1049h4M416 1018h4M416 1021h4M417 1001h4M417 1006h4M417 1013h4M417 1021h4M417 1024h4M417 1028h4M418 1017h4M418 1018h4M418 1025h4M418 1029h4M418 1030h4M418 1032h4M418 1034h4M418 1037h4M419 1012h4M419 1019h4M419 1024h4M419 1025h4M419 1029h4M419 1031h4M419 1032h4M420 1003h4M420 1010h4M420 1035h4M420 1037h4M421 997h4M421 1004h4M421 1023h4M421 1025h4M421 1041h4M422 1010h4M422 1013h4M422 1014h4M422 1018h4M422 1023h4M422 1024h4M422 1039h4M423 991h4M423 996h4M423 1007h4M423 1013h4M423 1021h4M424 1006h4M424 1025h4M424 1027h4M424 1029h4M424 1030h4M425 950h4M425 999h4M425 1001h4M425 1006h4M425 1012h4M425 1016h4M425 1018h4M425 1020h4M425 1028h4M426 1010h4M426 1026h4M426 1027h4M426 1032h4M427 1007h4M427 1014h4M427 1019h4M427 1026h4M427 1032h4M427 1034h4M427 1036h4M428 1006h4M428 1045h4M428 1047h4M429 1006h4M429 1008h4M429 1012h4M429 1013h4M429 1042h4M430 996h4M430 1020h4M430 1030h4M430 1039h4M430 1041h4M431 997h4M431 1004h4M431 1011h4M431 1015h4M431 1018h4M431 1024h4M431 1042h4M432 1016h4M432 1036h4M432 1037h4M433 990h4M433 1003h4M433 1010h4M434 987h4M434 1005h4M434 1006h4M434 1020h4M435 1009h4M435 1034h4M435 1037h4M436 1004h4M436 1021h4M437 1009h4M437 1020h4M437 1023h4M437 1024h4M439 1012h4M439 1020h4M439 1021h4M439 1023h4M439 1037h4M440 996h4M440 1034h4M442 1012h4M442 1018h4M442 1019h4M443 1000h4M443 1011h4M443 1017h4M443 1022h4M444 999h4M444 1008h4M444 1030h4M444 1037h4M445 996h4M445 1002h4M445 1008h4M446 1011h4M446 1026h4M446 1037h4M447 1027h4M448 1015h4M450 1019h4M452 980h4M452 1025h4M453 1008h4M455 995h4M455 1027h4M456 1002h4M456 1015h4M458 977h4M458 1006h4M459 999h4M459 1001h4M460 1029h4M463 1019h4M463 1044h4M463 1051h4M464 1006h4M465 1012h4M466 1005h4M467 1008h4M467 1029h4M468 1027h4M470 1004h4M470 1015h4M471 1007h4M471 1012h4M471 1023h4M472 1000h4M472 1010h4M476 1008h4M481 1011h4M481 1016h4M485 1023h4M488 1004h4M491 1025h4M491 1027h4M492 1030h4M493 981h4M493 1018h4M494 1016h4M498 1016h4M500 988h4M508 1011h4M509 1010h4M510 1001h4M512 1005h4M512 1010h4M513 1013h4M514 1004h4M516 1001h4M517 999h4M517 1013h4M517 1020h4M518 1006h4M519 1009h4M520 996h4M520 1005h4M520 1010h4M520 1014h4M520 1018h4M522 1001h4M524 1003h4M525 1006h4M526 1001h4M526 1006h4M526 1008h4M528 1012h4M530 997h4M531 1002h4M531 1007h4M532 999h4M533 1000h4M534 1007h4M536 997h4M536 1008h4M537 1005h4M538 995h4M538 1002h4M538 1005h4M538 1007h4M539 1011h4M540 1006h4M540 1009h4M540 1012h4M541 1012h4M542 994h4M543 995h4M544 998h4M544 1009h4M544 1014h4M548 1017h4M549 997h4M549 1014h4M552 1005h4M553 998h4M553 1003h4M554 1009h4M555 1003h4M556 999h4M556 1003h4M556 1004h4M559 993h4M561 994h4M562 998h4M564 997h4M564 1002h4M565 996h4M565 1004h4" stroke="#959595" stroke-width="4" fill="none"/>
<path d="M143.3 984H568.5" stroke="#000" stroke-width="1.4"/>
<path d="M142.4 932 144.4 933.5 146.4 934.9 148.4 936.2 150.4 937.5 152.4 938.8 154.4 940 156.4 941.1 158.4 942.3 160.4 943.4 162.4 944.5 164.4 945.6 166.4 946.6 168.4 947.5 170.4 948.3 172.4 948.9 174.4 949.5 176.4 950.1 178.4 950.6 180.4 951 182.4 951.4 184.4 951.6 186.4 951.6 188.4 951.6 190.4 951.5 192.4 951.4 194.4 951.3 196.4 951.1 198.4 951 200.4 950.8 202.4 950.4 204.4 949.7 206.4 949 208.4 948.4 210.4 947.9 212.4 947.5 214.4 947.2 216.4 946.9 218.4 946.8 220.4 947.2 222.4 947.8 224.4 948.8 226.4 949.9 228.4 951.1 230.4 952.9 232.4 955.3 234.4 958 236.4 960.8 238.4 963.4 240.4 966.2 242.4 969.1 244.4 972 246.4 974.8 248.4 977.4 250.4 980.1 252.4 982.7 254.4 984.8 256.4 986.3 258.4 987.4 260.4 988.3 262.4 989.1 264.4 989.7 266.4 990.1 268.4 990.4 270.4 990.6 272.4 990.8 274.4 991 276.4 991.2 278.4 991.3 280.4 991.5 282.4 991.6 284.4 991.8 286.4 991.9 288.4 992.1 290.4 992.2 292.4 992.3 294.4 992.5 296.4 992.6 298.4 992.9 300.4 993.1 302.4 993.4 304.4 993.7 306.4 994.1 308.4 994.5 310.4 994.9 312.4 995.3 314.4 995.7 316.4 996.1 318.4 996.5 320.4 996.9 322.4 997.3 324.4 997.8 326.4 998.2 328.4 998.6 330.4 999.1 332.4 999.5 334.4 1000 336.4 1000.5 338.4 1000.9 340.4 1001.4 342.4 1001.9 344.4 1002.4 346.4 1002.9 348.4 1003.4 350.4 1004 352.4 1004.5 354.4 1005 356.4 1005.5 358.4 1006 360.4 1006.5 362.4 1006.9 364.4 1007.4 366.4 1007.8 368.4 1008.3 370.4 1008.7 372.4 1009.1 374.4 1009.6 376.4 1010 378.4 1010.4 380.4 1010.7 382.4 1011.1 384.4 1011.4 386.4 1011.7 388.4 1011.9 390.4 1012.2 392.4 1012.4 394.4 1012.6 396.4 1012.8 398.4 1013 400.4 1013.2 402.4 1013.4 404.4 1013.5 406.4 1013.7 408.4 1013.9 410.4 1014 412.4 1014.2 414.4 1014.4 416.4 1014.6 418.4 1014.7 420.4 1014.9 422.4 1015.1 424.4 1015.2 426.4 1015.3 428.4 1015.4 430.4 1015.5 432.4 1015.6 434.4 1015.6 436.4 1015.6 438.4 1015.5 440.4 1015.5 442.4 1015.4 444.4 1015.4 446.4 1015.3 448.4 1015.2 450.4 1015.1 452.4 1015 454.4 1014.9 456.4 1014.8 458.4 1014.7 460.4 1014.7 462.4 1014.5 464.4 1014.4 466.4 1014.3 468.4 1014.2 470.4 1014 472.4 1013.9 474.4 1013.8 476.4 1013.6 478.4 1013.4 480.4 1013.3 482.4 1013.1 484.4 1013 486.4 1012.8 488.4 1012.6 490.4 1012.4 492.4 1012.2 494.4 1012 496.4 1011.8 498.4 1011.6 500.4 1011.4 502.4 1011.2 504.4 1010.9 506.4 1010.7 508.4 1010.4 510.4 1010.1 512.4 1009.8 514.4 1009.5 516.4 1009.1 518.4 1008.8 520.4 1008.4 522.4 1008.1 524.4 1007.7 526.4 1007.3 528.4 1007 530.4 1006.7 532.4 1006.4 534.4 1006 536.4 1005.7 538.4 1005.4 540.4 1005.1 542.4 1004.8 544.4 1004.5 546.4 1004.1 548.4 1003.8 550.4 1003.5 552.4 1003.1 554.4 1002.8 556.4 1002.4 558.4 1002 560.4 1001.7 562.4 1001.3 564.4 1000.9 566.4 1000.5 568.4 1000.2 569.2 1000" stroke="#fb210e" stroke-width="7.9" stroke-linejoin="round" stroke-linecap="butt" fill="none"/>
</g>
<path d="M142.2 740.7H570" stroke="#2b2b2b" stroke-width="4" fill="none"/>
<path d="M142.2 1227.2H570" stroke="#2b2b2b" stroke-width="3.5" fill="none"/>
<path d="M568.5 740.7V1227.2" stroke="#2b2b2b" stroke-width="3" fill="none"/>
<path d="M143.3 740.7V1227.2" stroke="#1c1c1c" stroke-width="2.2" fill="none"/>
<path d="M130.3 1227.5H143.3M130.3 1105.9H143.3M130.3 984.2H143.3M130.3 862.6H143.3M130.3 741H143.3M249.1 1227.2V1239.5M400.2 1227.2V1239.5M550.9 1227.2V1239.5" stroke="#333333" stroke-width="3.6" fill="none"/>
<text x="120.6" y="1241.8" font-size="38.7" text-anchor="end" fill="#474747">-10</text>
<text x="120.6" y="1120.2" font-size="38.7" text-anchor="end" fill="#474747">-5</text>
<text x="120.6" y="998.6" font-size="38.7" text-anchor="end" fill="#474747">0</text>
<text x="120.6" y="876.9" font-size="38.7" text-anchor="end" fill="#474747">5</text>
<text x="120.6" y="755.3" font-size="38.7" text-anchor="end" fill="#474747">10</text>
<text x="249.1" y="1278.7" font-size="38.7" text-anchor="middle" fill="#474747">200</text>
<text x="400.2" y="1278.7" font-size="38.7" text-anchor="middle" fill="#474747">400</text>
<text x="550.9" y="1278.7" font-size="38.7" text-anchor="middle" fill="#474747">600</text>
</g>
<g id="panel-f">
<clipPath id="clipf"><rect x="670.5" y="740.7" width="424.7" height="486.5"/></clipPath>
<rect x="670.5" y="656.1" width="424.7" height="84.6" fill="#d9d9d9" stroke="#2b2b2b" stroke-width="2.5"/>
<text x="882.2" y="717.7" font-size="52.4" text-anchor="middle" fill="#1a1a1a">(f) Biodiversity</text>
<g clip-path="url(#clipf)">
<path d="M670.5 1166.4H1095.2M670.5 1044.8H1095.2M670.5 923.1H1095.2M670.5 801.5H1095.2M710.5 740.7V1227.2M839.6 740.7V1227.2M968.7 740.7V1227.2" stroke="#ebebeb" stroke-width="2" fill="none"/>
<path d="M670.5 1227.2H1095.2M670.5 1105.6H1095.2M670.5 984H1095.2M670.5 862.3H1095.2M670.5 740.7H1095.2M775.3 740.7V1227.2M903.6 740.7V1227.2M1032.7 740.7V1227.2" stroke="#ebebeb" stroke-width="3.9" fill="none"/>
<path d="M670 983h4M670 1004h4M670 1014h4M671 936h4M671 1013h4M671 1029h4M673 935h4M673 951h4M673 953h4M673 966h4M673 971h4M674 933h4M674 963h4M674 969h4M674 1006h4M675 971h4M675 987h4M676 963h4M676 992h4M676 993h4M676 1003h4M676 1022h4M677 974h4M677 978h4M678 963h4M678 966h4M678 967h4M678 1019h4M679 923h4M679 955h4M679 980h4M679 983h4M679 1000h4M679 1017h4M680 966h4M680 973h4M680 981h4M680 990h4M680 1016h4M680 1028h4M681 926h4M681 970h4M681 977h4M681 984h4M681 993h4M682 965h4M682 980h4M682 984h4M682 991h4M682 1001h4M682 1002h4M682 1005h4M682 1032h4M682 1038h4M683 958h4M683 976h4M683 1016h4M684 941h4M684 957h4M684 958h4M684 970h4M684 972h4M684 987h4M685 959h4M685 988h4M685 1031h4M686 902h4M686 945h4M686 954h4M686 959h4M686 982h4M686 986h4M686 988h4M686 1001h4M686 1016h4M686 1021h4M686 1032h4M686 1038h4M687 940h4M687 951h4M687 962h4M687 971h4M687 975h4M687 981h4M687 982h4M687 1006h4M687 1022h4M687 1036h4M688 927h4M688 946h4M688 951h4M688 961h4M688 964h4M688 973h4M688 977h4M688 981h4M688 1003h4M688 1015h4M688 1018h4M688 1021h4M688 1030h4M688 1032h4M688 1047h4M689 936h4M689 954h4M689 1019h4M690 941h4M690 983h4M690 988h4M690 1014h4M691 981h4M691 991h4M691 997h4M691 998h4M691 999h4M691 1001h4M691 1006h4M691 1011h4M691 1014h4M691 1015h4M691 1021h4M691 1022h4M691 1026h4M691 1029h4M691 1030h4M691 1036h4M691 1038h4M691 1064h4M692 950h4M692 971h4M692 977h4M692 982h4M692 983h4M692 985h4M692 1002h4M692 1003h4M692 1004h4M692 1006h4M692 1012h4M692 1013h4M692 1016h4M692 1017h4M692 1019h4M692 1020h4M692 1021h4M692 1023h4M692 1029h4M692 1033h4M692 1034h4M692 1036h4M692 1037h4M692 1039h4M692 1042h4M693 963h4M693 971h4M693 985h4M693 990h4M693 996h4M693 1000h4M693 1003h4M693 1004h4M693 1005h4M693 1007h4M693 1013h4M693 1015h4M693 1019h4M693 1021h4M693 1022h4M693 1025h4M693 1027h4M693 1029h4M693 1032h4M693 1033h4M693 1036h4M693 1038h4M694 979h4M694 992h4M694 995h4M694 996h4M694 998h4M694 999h4M694 1001h4M694 1004h4M694 1006h4M694 1009h4M694 1011h4M694 1014h4M694 1024h4M694 1025h4M694 1026h4M694 1028h4M694 1035h4M694 1047h4M694 1049h4M695 962h4M695 963h4M695 969h4M695 986h4M695 987h4M695 988h4M695 997h4M695 1002h4M695 1007h4M695 1010h4M695 1012h4M695 1014h4M695 1015h4M695 1016h4M695 1019h4M695 1020h4M695 1027h4M695 1028h4M695 1032h4M695 1034h4M695 1035h4M695 1039h4M695 1047h4M695 1060h4M695 1061h4M696 940h4M696 964h4M696 977h4M696 986h4M696 988h4M696 989h4M696 990h4M696 992h4M696 994h4M696 1000h4M696 1004h4M696 1005h4M696 1011h4M696 1013h4M696 1015h4M696 1019h4M696 1020h4M696 1022h4M696 1027h4M696 1028h4M696 1030h4M696 1035h4M696 1038h4M696 1040h4M696 1045h4M696 1057h4M696 1058h4M696 1059h4M696 1068h4M697 968h4M697 973h4M697 982h4M697 984h4M697 985h4M697 989h4M697 992h4M697 999h4M697 1000h4M697 1004h4M697 1008h4M697 1013h4M697 1014h4M697 1015h4M697 1017h4M697 1018h4M697 1024h4M697 1027h4M697 1031h4M697 1033h4M697 1037h4M697 1039h4M697 1041h4M697 1043h4M697 1055h4M697 1057h4M697 1062h4M698 961h4M698 988h4M698 990h4M698 991h4M698 992h4M698 996h4M698 998h4M698 1001h4M698 1004h4M698 1014h4M698 1016h4M698 1020h4M698 1026h4M698 1032h4M698 1034h4M698 1036h4M698 1041h4M698 1042h4M698 1044h4M698 1045h4M698 1046h4M698 1049h4M698 1053h4M698 1055h4M698 1159h4M699 953h4M699 988h4M699 994h4M699 997h4M699 999h4M699 1002h4M699 1003h4M699 1006h4M699 1010h4M699 1020h4M699 1026h4M699 1027h4M699 1031h4M699 1032h4M699 1034h4M699 1035h4M699 1040h4M699 1042h4M699 1044h4M699 1047h4M699 1049h4M699 1054h4M699 1060h4M699 1073h4M700 989h4M700 992h4M700 1002h4M700 1005h4M700 1006h4M700 1009h4M700 1010h4M700 1013h4M700 1020h4M700 1028h4M700 1030h4M700 1035h4M700 1039h4M700 1045h4M700 1046h4M700 1049h4M700 1050h4M700 1057h4M700 1060h4M700 1069h4M700 1092h4M701 948h4M701 985h4M701 986h4M701 987h4M701 998h4M701 999h4M701 1005h4M701 1007h4M701 1008h4M701 1011h4M701 1013h4M701 1017h4M701 1018h4M701 1026h4M701 1028h4M701 1029h4M701 1030h4M701 1036h4M701 1045h4M701 1052h4M701 1055h4M701 1061h4M701 1080h4M701 1085h4M702 973h4M702 978h4M702 990h4M702 996h4M702 999h4M702 1002h4M702 1004h4M702 1009h4M702 1011h4M702 1012h4M702 1013h4M702 1017h4M702 1020h4M702 1027h4M702 1030h4M702 1033h4M702 1034h4M702 1038h4M702 1039h4M702 1049h4M702 1053h4M702 1055h4M703 981h4M703 983h4M703 986h4M703 988h4M703 993h4M703 994h4M703 1000h4M703 1001h4M703 1003h4M703 1004h4M703 1006h4M703 1008h4M703 1017h4M703 1019h4M703 1021h4M703 1025h4M703 1030h4M703 1032h4M703 1033h4M703 1049h4M703 1056h4M703 1060h4M703 1064h4M703 1077h4M703 1083h4M703 1129h4M704 933h4M704 934h4M704 947h4M704 962h4M704 981h4M704 982h4M704 991h4M704 992h4M704 993h4M704 996h4M704 997h4M704 1001h4M704 1002h4M704 1009h4M704 1014h4M704 1016h4M704 1020h4M704 1021h4M704 1024h4M704 1025h4M704 1028h4M704 1030h4M704 1036h4M704 1044h4M704 1052h4M704 1053h4M704 1054h4M704 1057h4M704 1058h4M704 1067h4M704 1089h4M705 982h4M705 983h4M705 985h4M705 990h4M705 994h4M705 995h4M705 1000h4M705 1002h4M705 1004h4M705 1005h4M705 1008h4M705 1013h4M705 1017h4M705 1018h4M705 1019h4M705 1022h4M705 1023h4M705 1027h4M705 1033h4M705 1039h4M705 1048h4M705 1051h4M705 1053h4M705 1054h4M705 1055h4M705 1056h4M705 1058h4M705 1091h4M705 1119h4M705 1143h4M706 962h4M706 985h4M706 986h4M706 990h4M706 992h4M706 995h4M706 996h4M706 997h4M706 999h4M706 1000h4M706 1004h4M706 1008h4M706 1009h4M706 1012h4M706 1016h4M706 1018h4M706 1021h4M706 1022h4M706 1023h4M706 1031h4M706 1033h4M706 1036h4M706 1043h4M706 1051h4M706 1052h4M706 1054h4M706 1058h4M706 1111h4M706 1129h4M706 1146h4M707 977h4M707 983h4M707 988h4M707 991h4M707 992h4M707 993h4M707 1001h4M707 1005h4M707 1011h4M707 1015h4M707 1017h4M707 1021h4M707 1024h4M707 1027h4M707 1028h4M707 1030h4M707 1032h4M707 1033h4M707 1039h4M707 1041h4M707 1045h4M707 1046h4M707 1051h4M707 1070h4M707 1074h4M707 1138h4M708 981h4M708 983h4M708 993h4M708 995h4M708 996h4M708 1001h4M708 1005h4M708 1009h4M708 1010h4M708 1011h4M708 1013h4M708 1015h4M708 1017h4M708 1019h4M708 1021h4M708 1025h4M708 1026h4M708 1031h4M708 1037h4M708 1038h4M708 1050h4M708 1055h4M708 1067h4M708 1088h4M708 1138h4M709 965h4M709 972h4M709 988h4M709 989h4M709 990h4M709 994h4M709 995h4M709 1004h4M709 1016h4M709 1024h4M709 1025h4M709 1026h4M709 1027h4M709 1029h4M709 1030h4M709 1031h4M709 1036h4M709 1039h4M709 1044h4M709 1046h4M709 1047h4M709 1052h4M709 1053h4M709 1055h4M709 1063h4M709 1132h4M709 1140h4M710 939h4M710 978h4M710 987h4M710 991h4M710 996h4M710 1002h4M710 1005h4M710 1006h4M710 1008h4M710 1012h4M710 1017h4M710 1022h4M710 1026h4M710 1027h4M710 1033h4M710 1040h4M710 1041h4M710 1045h4M710 1046h4M710 1048h4M710 1050h4M710 1051h4M710 1058h4M710 1131h4M711 941h4M711 945h4M711 970h4M711 987h4M711 988h4M711 993h4M711 999h4M711 1002h4M711 1003h4M711 1005h4M711 1008h4M711 1018h4M711 1028h4M711 1031h4M711 1033h4M711 1047h4M711 1054h4M711 1122h4M712 957h4M712 968h4M712 969h4M712 992h4M712 997h4M712 1000h4M712 1001h4M712 1007h4M712 1008h4M712 1011h4M712 1015h4M712 1024h4M712 1028h4M712 1031h4M712 1032h4M712 1038h4M712 1040h4M712 1041h4M712 1042h4M712 1043h4M712 1049h4M713 942h4M713 947h4M713 958h4M713 965h4M713 976h4M713 985h4M713 994h4M713 1004h4M713 1009h4M713 1015h4M713 1016h4M713 1018h4M713 1020h4M713 1022h4M713 1025h4M713 1033h4M713 1053h4M714 939h4M714 949h4M714 956h4M714 980h4M714 983h4M714 1001h4M714 1006h4M714 1016h4M714 1027h4M714 1029h4M714 1032h4M715 942h4M715 979h4M715 992h4M715 1005h4M715 1011h4M715 1013h4M715 1014h4M715 1019h4M716 955h4M716 962h4M716 964h4M716 965h4M716 987h4M716 1030h4M717 945h4M717 983h4M718 893h4M718 926h4M718 935h4M718 937h4M718 945h4M718 955h4M718 967h4M718 976h4M719 941h4M719 942h4M719 964h4M719 966h4M719 973h4M719 986h4M719 989h4M719 993h4M719 1020h4M720 928h4M720 932h4M720 948h4M720 957h4M720 958h4M720 960h4M720 961h4M720 965h4M720 971h4M720 972h4M720 1001h4M721 909h4M721 929h4M721 957h4M721 962h4M721 964h4M721 966h4M721 967h4M721 972h4M721 982h4M721 984h4M721 987h4M721 988h4M722 920h4M722 923h4M722 927h4M722 949h4M722 952h4M722 957h4M722 969h4M722 971h4M722 974h4M722 979h4M722 981h4M723 923h4M723 929h4M723 945h4M723 948h4M723 952h4M723 955h4M723 958h4M723 965h4M723 969h4M723 970h4M723 972h4M723 973h4M723 992h4M724 915h4M724 951h4M724 952h4M724 953h4M724 955h4M724 956h4M724 957h4M724 960h4M724 961h4M724 966h4M724 970h4M724 972h4M724 975h4M724 978h4M724 979h4M724 982h4M725 919h4M725 921h4M725 928h4M725 933h4M725 938h4M725 949h4M725 950h4M725 951h4M725 952h4M725 955h4M725 959h4M725 962h4M725 971h4M725 973h4M725 975h4M725 979h4M725 984h4M726 919h4M726 932h4M726 934h4M726 935h4M726 938h4M726 941h4M726 943h4M726 944h4M726 948h4M726 949h4M726 950h4M726 951h4M726 955h4M726 959h4M726 968h4M726 972h4M726 973h4M726 974h4M726 976h4M726 980h4M726 986h4M726 1002h4M726 1083h4M727 918h4M727 927h4M727 929h4M727 937h4M727 938h4M727 939h4M727 947h4M727 949h4M727 950h4M727 957h4M727 958h4M727 960h4M727 962h4M727 964h4M727 970h4M727 975h4M728 920h4M728 924h4M728 928h4M728 929h4M728 935h4M728 938h4M728 939h4M728 942h4M728 944h4M728 946h4M728 947h4M728 949h4M728 950h4M728 953h4M728 955h4M728 958h4M728 959h4M728 961h4M728 963h4M728 965h4M728 968h4M728 976h4M728 978h4M728 980h4M728 981h4M728 986h4M729 894h4M729 915h4M729 917h4M729 925h4M729 930h4M729 934h4M729 940h4M729 941h4M729 947h4M729 950h4M729 953h4M729 956h4M729 963h4M729 966h4M729 967h4M729 973h4M729 975h4M729 984h4M730 919h4M730 920h4M730 923h4M730 929h4M730 931h4M730 933h4M730 940h4M730 946h4M730 948h4M730 949h4M730 950h4M730 951h4M730 954h4M730 957h4M730 959h4M730 960h4M730 967h4M730 970h4M730 971h4M730 972h4M730 975h4M730 982h4M730 983h4M730 985h4M730 997h4M731 917h4M731 929h4M731 944h4M731 946h4M731 947h4M731 949h4M731 950h4M731 952h4M731 953h4M731 955h4M731 956h4M731 958h4M731 959h4M731 961h4M731 966h4M731 969h4M731 970h4M731 972h4M731 973h4M731 974h4M731 976h4M731 979h4M731 983h4M731 986h4M732 919h4M732 920h4M732 931h4M732 934h4M732 935h4M732 944h4M732 947h4M732 949h4M732 951h4M732 952h4M732 953h4M732 959h4M732 964h4M732 966h4M732 968h4M732 969h4M732 980h4M732 983h4M732 986h4M733 892h4M733 923h4M733 937h4M733 942h4M733 945h4M733 946h4M733 947h4M733 951h4M733 957h4M733 961h4M733 963h4M733 965h4M733 969h4M733 971h4M733 978h4M733 982h4M733 983h4M733 998h4M734 924h4M734 931h4M734 938h4M734 942h4M734 957h4M734 959h4M734 961h4M734 962h4M734 963h4M734 965h4M734 970h4M734 972h4M734 976h4M734 978h4M734 982h4M734 986h4M734 987h4M734 999h4M735 918h4M735 943h4M735 947h4M735 948h4M735 949h4M735 952h4M735 953h4M735 957h4M735 958h4M735 959h4M735 960h4M735 964h4M735 967h4M735 973h4M735 974h4M735 977h4M735 987h4M735 988h4M735 990h4M736 916h4M736 917h4M736 925h4M736 941h4M736 942h4M736 943h4M736 944h4M736 948h4M736 951h4M736 953h4M736 956h4M736 957h4M736 960h4M736 963h4M736 964h4M736 965h4M736 967h4M736 968h4M736 969h4M736 970h4M736 971h4M736 973h4M736 976h4M736 987h4M737 938h4M737 940h4M737 943h4M737 944h4M737 954h4M737 957h4M737 958h4M737 960h4M737 961h4M737 963h4M737 968h4M737 971h4M737 972h4M737 976h4M737 977h4M737 982h4M737 983h4M737 986h4M737 987h4M738 935h4M738 940h4M738 942h4M738 943h4M738 945h4M738 947h4M738 950h4M738 955h4M738 956h4M738 959h4M738 965h4M738 966h4M738 967h4M738 968h4M738 972h4M738 973h4M738 979h4M738 982h4M738 983h4M738 998h4M738 1007h4M739 918h4M739 937h4M739 939h4M739 942h4M739 953h4M739 955h4M739 958h4M739 962h4M739 963h4M739 966h4M739 968h4M739 971h4M739 972h4M739 973h4M739 976h4M739 980h4M739 983h4M739 985h4M739 986h4M739 989h4M739 992h4M740 925h4M740 934h4M740 941h4M740 943h4M740 945h4M740 948h4M740 952h4M740 955h4M740 959h4M740 960h4M740 965h4M740 970h4M740 972h4M740 979h4M740 980h4M740 991h4M740 997h4M741 940h4M741 944h4M741 947h4M741 948h4M741 954h4M741 955h4M741 957h4M741 963h4M741 966h4M741 968h4M741 971h4M741 973h4M741 976h4M741 980h4M741 981h4M741 983h4M741 986h4M741 989h4M741 995h4M741 997h4M741 999h4M742 909h4M742 940h4M742 942h4M742 943h4M742 944h4M742 950h4M742 952h4M742 960h4M742 961h4M742 966h4M742 969h4M742 974h4M742 976h4M742 983h4M742 985h4M742 996h4M743 923h4M743 926h4M743 932h4M743 933h4M743 941h4M743 942h4M743 943h4M743 949h4M743 950h4M743 951h4M743 952h4M743 954h4M743 955h4M743 961h4M743 962h4M743 965h4M743 969h4M743 971h4M743 972h4M743 977h4M743 979h4M743 980h4M743 983h4M743 985h4M743 987h4M743 1004h4M744 915h4M744 939h4M744 943h4M744 944h4M744 949h4M744 953h4M744 955h4M744 956h4M744 960h4M744 961h4M744 968h4M744 972h4M744 973h4M744 974h4M744 978h4M744 983h4M744 984h4M744 987h4M744 996h4M745 941h4M745 942h4M745 948h4M745 949h4M745 950h4M745 953h4M745 957h4M745 959h4M745 960h4M745 962h4M745 965h4M745 967h4M745 976h4M745 977h4M745 979h4M745 981h4M745 987h4M745 988h4M745 994h4M745 998h4M746 912h4M746 925h4M746 941h4M746 943h4M746 946h4M746 949h4M746 951h4M746 957h4M746 958h4M746 960h4M746 967h4M746 972h4M746 977h4M746 984h4M746 989h4M746 992h4M746 993h4M746 994h4M746 996h4M746 997h4M747 942h4M747 946h4M747 953h4M747 956h4M747 959h4M747 961h4M747 963h4M747 967h4M747 968h4M747 972h4M747 978h4M747 984h4M747 985h4M747 988h4M747 990h4M747 998h4M748 925h4M748 940h4M748 945h4M748 946h4M748 947h4M748 950h4M748 954h4M748 956h4M748 957h4M748 958h4M748 967h4M748 968h4M748 971h4M748 972h4M748 974h4M748 976h4M748 978h4M748 981h4M748 983h4M748 985h4M748 990h4M749 934h4M749 940h4M749 944h4M749 946h4M749 949h4M749 950h4M749 953h4M749 960h4M749 964h4M749 967h4M749 971h4M749 972h4M749 975h4M749 976h4M749 983h4M749 986h4M749 987h4M749 990h4M749 997h4M750 920h4M750 925h4M750 931h4M750 944h4M750 945h4M750 947h4M750 948h4M750 949h4M750 950h4M750 952h4M750 953h4M750 954h4M750 955h4M750 957h4M750 958h4M750 960h4M750 963h4M750 966h4M750 971h4M750 972h4M750 974h4M750 976h4M750 980h4M750 984h4M750 986h4M750 987h4M750 988h4M750 990h4M750 994h4M750 1007h4M751 922h4M751 930h4M751 938h4M751 943h4M751 946h4M751 947h4M751 949h4M751 950h4M751 951h4M751 956h4M751 958h4M751 963h4M751 967h4M751 969h4M751 970h4M751 973h4M751 976h4M751 992h4M751 994h4M752 920h4M752 921h4M752 926h4M752 936h4M752 939h4M752 945h4M752 946h4M752 947h4M752 950h4M752 952h4M752 954h4M752 955h4M752 956h4M752 957h4M752 958h4M752 959h4M752 961h4M752 964h4M752 968h4M752 972h4M752 974h4M752 977h4M752 979h4M752 983h4M752 986h4M752 988h4M752 989h4M753 925h4M753 926h4M753 931h4M753 937h4M753 938h4M753 942h4M753 944h4M753 946h4M753 949h4M753 950h4M753 953h4M753 955h4M753 957h4M753 963h4M753 967h4M753 970h4M753 971h4M753 975h4M753 977h4M753 982h4M753 984h4M753 986h4M753 987h4M753 988h4M753 995h4M753 997h4M754 928h4M754 931h4M754 936h4M754 938h4M754 939h4M754 943h4M754 948h4M754 950h4M754 951h4M754 953h4M754 956h4M754 958h4M754 961h4M754 963h4M754 965h4M754 966h4M754 968h4M754 969h4M754 975h4M754 981h4M754 984h4M754 986h4M754 988h4M754 989h4M755 920h4M755 923h4M755 929h4M755 941h4M755 942h4M755 944h4M755 946h4M755 949h4M755 951h4M755 958h4M755 959h4M755 960h4M755 962h4M755 964h4M755 966h4M755 967h4M755 976h4M755 978h4M755 980h4M755 981h4M755 984h4M755 986h4M755 987h4M755 988h4M755 991h4M756 918h4M756 928h4M756 932h4M756 936h4M756 937h4M756 939h4M756 940h4M756 942h4M756 945h4M756 948h4M756 953h4M756 954h4M756 955h4M756 956h4M756 959h4M756 960h4M756 961h4M756 962h4M756 965h4M756 966h4M756 967h4M756 968h4M756 976h4M756 977h4M756 981h4M756 983h4M756 986h4M756 988h4M756 990h4M756 992h4M757 919h4M757 920h4M757 921h4M757 925h4M757 926h4M757 932h4M757 935h4M757 936h4M757 940h4M757 941h4M757 942h4M757 945h4M757 948h4M757 951h4M757 952h4M757 955h4M757 956h4M757 957h4M757 958h4M757 962h4M757 967h4M757 971h4M757 973h4M757 979h4M757 984h4M757 985h4M757 993h4M758 932h4M758 935h4M758 937h4M758 945h4M758 949h4M758 952h4M758 955h4M758 958h4M758 961h4M758 962h4M758 967h4M758 968h4M758 971h4M758 972h4M758 976h4M758 982h4M758 983h4M758 986h4M758 987h4M758 988h4M758 992h4M759 918h4M759 934h4M759 936h4M759 942h4M759 943h4M759 944h4M759 947h4M759 950h4M759 953h4M759 956h4M759 958h4M759 961h4M759 962h4M759 964h4M759 966h4M759 971h4M759 974h4M759 976h4M759 978h4M759 981h4M759 985h4M759 988h4M759 990h4M759 996h4M760 927h4M760 928h4M760 931h4M760 932h4M760 940h4M760 942h4M760 947h4M760 950h4M760 952h4M760 954h4M760 955h4M760 956h4M760 961h4M760 965h4M760 969h4M760 971h4M760 972h4M760 975h4M760 982h4M760 983h4M760 986h4M760 988h4M760 990h4M760 1017h4M761 947h4M761 957h4M761 960h4M761 962h4M761 964h4M761 965h4M761 966h4M761 967h4M761 972h4M761 974h4M761 975h4M761 978h4M761 979h4M761 982h4M761 986h4M761 990h4M761 991h4M762 939h4M762 942h4M762 945h4M762 947h4M762 949h4M762 950h4M762 954h4M762 956h4M762 957h4M762 961h4M762 962h4M762 967h4M762 969h4M762 970h4M762 972h4M762 973h4M762 981h4M762 986h4M762 987h4M762 992h4M762 994h4M763 938h4M763 940h4M763 946h4M763 955h4M763 957h4M763 958h4M763 960h4M763 962h4M763 967h4M763 975h4M763 982h4M763 984h4M763 985h4M763 987h4M763 990h4M763 996h4M764 934h4M764 938h4M764 940h4M764 941h4M764 942h4M764 943h4M764 945h4M764 948h4M764 949h4M764 950h4M764 951h4M764 952h4M764 953h4M764 956h4M764 957h4M764 959h4M764 961h4M764 962h4M764 963h4M764 967h4M764 968h4M764 969h4M764 970h4M764 971h4M764 973h4M764 975h4M764 979h4M764 988h4M764 990h4M765 907h4M765 941h4M765 943h4M765 944h4M765 945h4M765 949h4M765 952h4M765 955h4M765 957h4M765 963h4M765 964h4M765 967h4M765 968h4M765 972h4M765 974h4M765 981h4M765 982h4M765 985h4M765 991h4M765 997h4M765 1012h4M766 939h4M766 942h4M766 947h4M766 948h4M766 954h4M766 956h4M766 964h4M766 965h4M766 967h4M766 971h4M766 972h4M766 976h4M766 978h4M766 980h4M766 985h4M766 986h4M766 991h4M767 922h4M767 925h4M767 930h4M767 936h4M767 941h4M767 943h4M767 944h4M767 945h4M767 949h4M767 951h4M767 952h4M767 953h4M767 957h4M767 959h4M767 969h4M767 971h4M767 974h4M767 982h4M767 989h4M767 993h4M768 925h4M768 929h4M768 936h4M768 937h4M768 940h4M768 944h4M768 946h4M768 948h4M768 952h4M768 956h4M768 957h4M768 961h4M768 965h4M768 967h4M768 969h4M768 970h4M768 975h4M768 977h4M768 979h4M768 984h4M768 986h4M769 925h4M769 928h4M769 949h4M769 950h4M769 957h4M769 958h4M769 960h4M769 965h4M769 967h4M769 968h4M769 969h4M769 974h4M769 975h4M769 976h4M769 986h4M769 987h4M769 992h4M770 944h4M770 946h4M770 947h4M770 950h4M770 951h4M770 954h4M770 956h4M770 958h4M770 959h4M770 960h4M770 967h4M770 968h4M770 969h4M770 974h4M770 975h4M770 984h4M770 990h4M770 994h4M771 907h4M771 921h4M771 926h4M771 928h4M771 935h4M771 936h4M771 944h4M771 947h4M771 951h4M771 956h4M771 958h4M771 959h4M771 962h4M771 963h4M771 965h4M771 966h4M771 969h4M771 973h4M771 978h4M771 979h4M771 982h4M771 984h4M771 997h4M772 923h4M772 935h4M772 936h4M772 939h4M772 944h4M772 946h4M772 948h4M772 950h4M772 952h4M772 954h4M772 955h4M772 957h4M772 958h4M772 961h4M772 962h4M772 966h4M772 968h4M772 973h4M772 976h4M772 980h4M772 982h4M772 984h4M772 993h4M773 926h4M773 942h4M773 945h4M773 950h4M773 953h4M773 956h4M773 957h4M773 959h4M773 961h4M773 962h4M773 965h4M773 968h4M773 976h4M773 980h4M773 990h4M773 1008h4M774 923h4M774 925h4M774 939h4M774 942h4M774 944h4M774 947h4M774 951h4M774 952h4M774 954h4M774 958h4M774 959h4M774 960h4M774 964h4M774 966h4M774 967h4M774 968h4M774 970h4M774 972h4M774 973h4M775 921h4M775 924h4M775 931h4M775 937h4M775 938h4M775 943h4M775 945h4M775 946h4M775 948h4M775 949h4M775 950h4M775 951h4M775 953h4M775 954h4M775 955h4M775 956h4M775 957h4M775 960h4M775 963h4M775 964h4M775 970h4M775 972h4M775 979h4M775 982h4M776 917h4M776 920h4M776 922h4M776 935h4M776 938h4M776 939h4M776 944h4M776 945h4M776 952h4M776 956h4M776 958h4M776 961h4M776 963h4M776 964h4M776 969h4M776 970h4M776 972h4M776 975h4M776 977h4M776 979h4M776 983h4M777 923h4M777 925h4M777 928h4M777 930h4M777 932h4M777 937h4M777 940h4M777 947h4M777 948h4M777 954h4M777 956h4M777 957h4M777 958h4M777 965h4M777 967h4M777 971h4M777 973h4M777 974h4M777 975h4M777 977h4M777 978h4M777 979h4M777 984h4M777 991h4M777 1005h4M778 941h4M778 943h4M778 946h4M778 949h4M778 952h4M778 953h4M778 956h4M778 957h4M778 958h4M778 968h4M778 972h4M778 974h4M778 979h4M778 984h4M778 985h4M778 989h4M778 997h4M779 918h4M779 925h4M779 929h4M779 934h4M779 937h4M779 944h4M779 949h4M779 953h4M779 954h4M779 955h4M779 959h4M779 965h4M779 972h4M779 973h4M779 983h4M779 984h4M780 921h4M780 930h4M780 950h4M780 952h4M780 966h4M780 970h4M780 974h4M780 976h4M780 983h4M780 989h4M780 990h4M780 1028h4M781 952h4M781 953h4M781 955h4M781 956h4M781 961h4M781 962h4M781 963h4M781 970h4M782 931h4M782 937h4M782 940h4M782 946h4M782 968h4M782 970h4M782 972h4M782 980h4M782 982h4M783 944h4M783 954h4M783 964h4M783 970h4M783 975h4M783 990h4M783 991h4M784 952h4M784 958h4M784 971h4M784 979h4M784 1012h4M785 974h4M785 977h4M785 999h4M786 948h4M786 950h4M786 962h4M786 965h4M786 996h4M787 948h4M787 950h4M787 964h4M787 976h4M787 981h4M788 822h4M788 862h4M788 890h4M788 929h4M788 962h4M788 964h4M788 965h4M788 971h4M789 936h4M789 961h4M789 974h4M790 936h4M790 951h4M790 958h4M790 964h4M790 971h4M791 970h4M791 978h4M792 937h4M792 993h4M792 1020h4M792 1029h4M793 923h4M793 955h4M793 963h4M794 942h4M794 957h4M794 960h4M794 975h4M794 1038h4M795 995h4M795 1000h4M795 1105h4M796 947h4M796 949h4M797 960h4M797 981h4M798 940h4M798 963h4M799 924h4M799 940h4M799 967h4M800 994h4M800 1003h4M801 944h4M801 974h4M801 1151h4M802 987h4M802 994h4M802 995h4M803 974h4M803 1009h4M804 947h4M804 1032h4M805 944h4M805 980h4M805 1009h4M805 1017h4M806 959h4M806 971h4M806 978h4M806 985h4M806 994h4M807 968h4M807 1009h4M808 963h4M808 975h4M808 986h4M808 1004h4M808 1033h4M809 966h4M809 1036h4M810 1014h4M810 1022h4M810 1026h4M811 964h4M811 981h4M811 983h4M811 990h4M811 1011h4M811 1020h4M811 1043h4M812 960h4M812 961h4M812 970h4M812 981h4M812 991h4M812 996h4M812 1001h4M812 1030h4M813 958h4M813 975h4M813 987h4M813 1005h4M813 1007h4M813 1010h4M814 937h4M814 967h4M814 989h4M814 997h4M814 1009h4M814 1010h4M814 1013h4M815 962h4M815 992h4M815 998h4M815 1004h4M815 1024h4M816 983h4M816 996h4M816 1017h4M816 1038h4M816 1046h4M817 970h4M817 971h4M817 986h4M817 989h4M817 1010h4M817 1012h4M818 986h4M818 1003h4M818 1014h4M819 955h4M819 977h4M819 990h4M819 996h4M819 1001h4M819 1002h4M819 1005h4M819 1018h4M819 1022h4M820 976h4M820 978h4M820 981h4M820 993h4M820 1003h4M820 1006h4M820 1019h4M821 973h4M821 987h4M821 997h4M821 1002h4M822 964h4M822 981h4M822 984h4M822 995h4M822 1001h4M822 1002h4M822 1003h4M822 1008h4M822 1028h4M823 958h4M823 965h4M823 967h4M823 1034h4M824 951h4M824 958h4M824 999h4M824 1001h4M824 1013h4M824 1056h4M825 950h4M825 980h4M825 987h4M825 992h4M825 1010h4M825 1018h4M826 965h4M826 974h4M826 998h4M826 1003h4M826 1022h4M826 1023h4M827 994h4M827 1021h4M827 1022h4M827 1023h4M827 1025h4M827 1042h4M828 934h4M828 989h4M828 995h4M829 952h4M829 983h4M829 995h4M829 1001h4M829 1005h4M829 1018h4M829 1019h4M829 1042h4M830 947h4M830 970h4M830 983h4M830 991h4M830 998h4M830 999h4M830 1003h4M830 1007h4M830 1017h4M830 1021h4M830 1036h4M831 954h4M831 958h4M831 968h4M831 976h4M831 980h4M831 982h4M831 1007h4M831 1018h4M832 965h4M832 992h4M832 1016h4M832 1022h4M832 1024h4M833 982h4M833 1017h4M834 948h4M834 956h4M834 977h4M834 988h4M834 1002h4M835 965h4M835 966h4M835 967h4M835 982h4M835 1001h4M835 1015h4M835 1025h4M836 976h4M836 987h4M836 1001h4M836 1010h4M836 1011h4M836 1016h4M836 1023h4M836 1032h4M837 993h4M838 977h4M838 988h4M838 989h4M838 1021h4M838 1026h4M838 1035h4M838 1045h4M839 979h4M839 997h4M839 998h4M839 1016h4M839 1055h4M840 958h4M840 991h4M840 992h4M840 1006h4M840 1013h4M840 1015h4M840 1023h4M840 1032h4M841 997h4M841 999h4M841 1003h4M841 1009h4M841 1019h4M841 1026h4M841 1028h4M841 1108h4M842 1002h4M842 1007h4M842 1011h4M842 1017h4M842 1022h4M842 1023h4M842 1026h4M842 1033h4M842 1040h4M842 1047h4M842 1050h4M843 945h4M843 962h4M843 969h4M843 987h4M843 989h4M843 991h4M843 994h4M843 997h4M843 1006h4M843 1010h4M843 1011h4M843 1020h4M844 992h4M844 997h4M844 1004h4M844 1014h4M844 1020h4M844 1032h4M845 976h4M845 988h4M845 1001h4M845 1012h4M845 1028h4M845 1032h4M845 1048h4M845 1050h4M846 946h4M846 1002h4M846 1007h4M846 1014h4M846 1016h4M846 1019h4M846 1020h4M847 970h4M847 992h4M847 1013h4M847 1019h4M847 1061h4M848 986h4M848 990h4M848 1007h4M848 1024h4M849 980h4M849 987h4M849 990h4M849 998h4M849 1001h4M849 1002h4M849 1023h4M849 1028h4M849 1034h4M850 968h4M850 988h4M850 991h4M850 1002h4M850 1012h4M850 1016h4M850 1019h4M850 1025h4M850 1026h4M851 932h4M851 971h4M851 980h4M851 982h4M851 989h4M851 997h4M851 1005h4M851 1011h4M851 1018h4M851 1030h4M852 993h4M852 994h4M852 1004h4M852 1006h4M852 1025h4M852 1034h4M853 959h4M853 970h4M853 990h4M853 995h4M853 997h4M853 1012h4M853 1016h4M853 1043h4M853 1044h4M853 1046h4M854 905h4M854 994h4M854 1037h4M854 1047h4M855 929h4M855 993h4M855 1000h4M855 1007h4M855 1008h4M855 1009h4M855 1025h4M856 1009h4M856 1012h4M856 1017h4M856 1022h4M856 1027h4M856 1033h4M857 963h4M857 981h4M857 989h4M857 1013h4M857 1029h4M858 979h4M858 994h4M858 995h4M858 1010h4M858 1042h4M859 964h4M859 975h4M859 1001h4M860 982h4M860 991h4M860 1006h4M860 1023h4M860 1031h4M861 965h4M861 978h4M861 984h4M861 987h4M861 1000h4M861 1012h4M861 1015h4M861 1022h4M861 1042h4M862 980h4M862 988h4M862 990h4M862 1017h4M862 1022h4M863 1006h4M863 1030h4M864 946h4M864 979h4M864 1002h4M864 1007h4M864 1024h4M864 1034h4M864 1035h4M864 1045h4M865 962h4M865 979h4M865 982h4M865 1009h4M865 1017h4M865 1021h4M865 1073h4M866 957h4M866 993h4M866 998h4M866 1009h4M866 1019h4M866 1021h4M867 955h4M867 956h4M867 959h4M867 976h4M867 985h4M867 1000h4M867 1005h4M867 1008h4M867 1022h4M868 969h4M868 986h4M868 992h4M868 997h4M868 1043h4M869 972h4M869 981h4M869 993h4M869 994h4M869 1056h4M870 982h4M870 1023h4M870 1025h4M871 966h4M871 1012h4M871 1021h4M871 1024h4M872 990h4M872 1016h4M872 1022h4M873 1000h4M873 1028h4M873 1040h4M874 970h4M874 1001h4M874 1011h4M874 1023h4M875 1005h4M876 995h4M876 1003h4M876 1019h4M876 1020h4M876 1025h4M877 986h4M877 994h4M877 1012h4M877 1016h4M877 1023h4M878 974h4M878 992h4M878 993h4M878 996h4M878 1003h4M878 1008h4M878 1045h4M879 978h4M879 993h4M879 1001h4M879 1018h4M879 1035h4M880 988h4M880 996h4M880 1002h4M880 1014h4M880 1023h4M880 1025h4M882 1021h4M882 1024h4M883 974h4M883 990h4M883 1013h4M883 1019h4M883 1026h4M883 1028h4M884 954h4M884 984h4M884 1011h4M885 995h4M885 999h4M885 1003h4M885 1017h4M885 1023h4M886 975h4M886 997h4M886 1013h4M886 1028h4M887 983h4M887 985h4M887 987h4M887 1002h4M887 1012h4M888 987h4M888 1003h4M888 1029h4M889 991h4M889 1021h4M891 974h4M891 998h4M891 1001h4M891 1017h4M892 1000h4M892 1002h4M892 1021h4M893 940h4M893 992h4M893 999h4M893 1012h4M893 1018h4M894 930h4M894 980h4M894 985h4M894 994h4M894 1023h4M895 1036h4M896 1003h4M897 1024h4M899 969h4M899 1007h4M899 1037h4M899 1049h4M900 978h4M900 994h4M902 952h4M902 993h4M902 1017h4M902 1019h4M902 1058h4M903 983h4M903 989h4M903 994h4M903 1012h4M904 998h4M904 1011h4M904 1018h4M904 1043h4M905 972h4M905 997h4M905 1008h4M905 1010h4M905 1018h4M905 1040h4M905 1054h4M906 914h4M906 941h4M906 990h4M906 994h4M906 1019h4M906 1042h4M907 1002h4M907 1012h4M907 1039h4M908 986h4M908 1040h4M909 980h4M909 991h4M909 1004h4M909 1040h4M910 985h4M910 987h4M911 974h4M911 981h4M911 990h4M911 1002h4M911 1017h4M911 1039h4M913 904h4M913 935h4M913 951h4M913 1006h4M913 1037h4M914 939h4M914 966h4M914 996h4M914 999h4M914 1005h4M914 1013h4M914 1047h4M915 958h4M915 964h4M915 1003h4M915 1025h4M915 1044h4M915 1129h4M916 981h4M916 1017h4M916 1028h4M916 1030h4M916 1048h4M917 986h4M917 987h4M917 1001h4M917 1017h4M917 1029h4M918 999h4M918 1003h4M918 1029h4M918 1035h4M919 936h4M919 985h4M920 974h4M920 996h4M921 941h4M921 961h4M921 984h4M921 985h4M921 1001h4M922 977h4M923 1029h4M924 924h4M924 988h4M924 989h4M924 1025h4M925 981h4M925 996h4M925 1007h4M926 1000h4M926 1001h4M926 1012h4M926 1068h4M927 964h4M927 966h4M927 990h4M927 1002h4M927 1040h4M928 960h4M928 1001h4M929 903h4M929 975h4M929 1007h4M929 1035h4M930 1002h4M930 1009h4M931 961h4M932 1015h4M933 983h4M933 1030h4M934 984h4M934 1007h4M935 990h4M935 991h4M935 1016h4M936 964h4M936 987h4M936 997h4M937 1037h4M938 1000h4M939 952h4M940 1002h4M942 974h4M942 985h4M942 991h4M942 1011h4M947 1020h4M947 1037h4M948 1011h4M948 1016h4M951 998h4M951 1035h4M953 1024h4M954 977h4M954 1021h4M955 993h4M956 1076h4M958 918h4M959 1021h4M959 1055h4M960 1019h4M961 1012h4M961 1016h4M963 1033h4M967 971h4M967 989h4M967 1000h4M968 999h4M971 967h4M971 1012h4M981 993h4M986 973h4M986 991h4M990 988h4M991 890h4M992 979h4M994 990h4M994 991h4M1000 1009h4M1001 966h4M1008 980h4M1008 1016h4M1012 972h4M1014 991h4M1016 990h4M1016 1001h4M1022 974h4M1024 978h4M1025 981h4M1026 945h4M1026 969h4M1026 1010h4M1031 985h4M1034 982h4M1034 997h4M1037 962h4M1038 983h4M1041 1069h4M1047 992h4M1048 972h4M1050 971h4M1051 927h4M1053 997h4M1056 987h4M1064 978h4M1064 1005h4M1065 1013h4M1067 956h4M1067 989h4M1071 991h4" stroke="#959595" stroke-width="4" fill="none"/>
<path d="M670.5 984H1095.2" stroke="#000" stroke-width="1.4"/>
<path d="M1018.2 992.6 1020.2 992.4 1022.2 992.3 1024.2 992.1 1026.2 991.9 1028.2 991.8 1030.2 991.6 1032.2 991.5 1034.2 991.4 1036.2 991.2 1038.2 991.1 1040.2 990.9 1042.2 990.8 1044.2 990.6 1046.2 990.5 1048.2 990.3 1050.2 990.2 1052.2 990 1054.2 989.8 1056.2 989.6 1058.2 989.5 1060.2 989.3 1062.2 989.1 1064.2 988.8 1066.2 988.6 1068.2 988.4 1070.2 988.2 1072.2 988 1074.2 987.7 1076.2 987.5 1078.2 987.3 1080.2 987.1 1082.2 987 1084.2 986.8 1086.2 986.6 1088.2 986.4 1090.2 986.2 1092.2 986 1094.2 985.8 1096.2 985.6 1096.2 985.6 L1096.2 1001.6 1096.2 1001.6 1094.2 1001.4 1092.2 1001.3 1090.2 1001.2 1088.2 1001.1 1086.2 1001 1084.2 1000.9 1082.2 1000.8 1080.2 1000.7 1078.2 1000.6 1076.2 1000.5 1074.2 1000.4 1072.2 1000.3 1070.2 1000.3 1068.2 1000.2 1066.2 1000.2 1064.2 1000.1 1062.2 1000.1 1060.2 1000.1 1058.2 1000 1056.2 1000 1054.2 999.9 1052.2 999.9 1050.2 999.8 1048.2 999.7 1046.2 999.7 1044.2 999.6 1042.2 999.5 1040.2 999.5 1038.2 999.4 1036.2 999.4 1034.2 999.3 1032.2 999.3 1030.2 999.2 1028.2 999.2 1026.2 999.1 1024.2 999.1 1022.2 999.1 1020.2 999.1 1018.2 999.1Z" fill="#2e6f9e" fill-opacity="0.38"/>
<path d="M670.2 970.8 672.2 975 674.2 979.1 676.2 983.2 678.2 987.3 680.2 991.5 682.2 995.5 684.2 998.7 686.2 1001.5 688.2 1003.9 690.2 1006.1 692.2 1008.2 694.2 1009.7 696.2 1010.2 698.2 1010.6 700.2 1010.8 702.2 1010.5 704.2 1009.3 706.2 1007.5 708.2 1005.3 710.2 1002.1 712.2 998.3 714.2 994.1 716.2 989.2 718.2 984.4 720.2 980.4 722.2 976.6 724.2 973.6 726.2 971.7 728.2 970 730.2 968.6 732.2 967.8 734.2 967.4 736.2 967.1 738.2 966.9 740.2 966.8 742.2 966.9 744.2 967.5 746.2 968.3 748.2 968.8 750.2 968.8 752.2 968.7 754.2 968.5 756.2 968.3 758.2 968.1 760.2 967.8 762.2 967.2 764.2 966.6 766.2 966 768.2 965.6 770.2 965.7 772.2 966.1 774.2 966.7 776.2 967.4 778.2 968.1 780.2 969 782.2 970 784.2 971.1 786.2 972.4 788.2 973.7 790.2 975.2 792.2 976.8 794.2 978.5 796.2 980.2 798.2 981.9 800.2 983.6 802.2 985.3 804.2 987 806.2 988.7 808.2 990.3 810.2 991.8 812.2 993.2 814.2 994.7 816.2 996 818.2 997.3 820.2 998.4 822.2 999.4 824.2 1000.4 826.2 1001.3 828.2 1002.2 830.2 1002.9 832.2 1003.4 834.2 1003.8 836.2 1004.2 838.2 1004.6 840.2 1004.9 842.2 1005.1 844.2 1005.4 846.2 1005.5 848.2 1005.6 850.2 1005.6 852.2 1005.6 854.2 1005.6 856.2 1005.6 858.2 1005.6 860.2 1005.6 862.2 1005.6 864.2 1005.6 866.2 1005.6 868.2 1005.6 870.2 1005.6 872.2 1005.5 874.2 1005.5 876.2 1005.4 878.2 1005.2 880.2 1005.1 882.2 1004.9 884.2 1004.7 886.2 1004.6 888.2 1004.4 890.2 1004.2 892.2 1004 894.2 1003.8 896.2 1003.6 898.2 1003.5 900.2 1003.3 902.2 1003.1 904.2 1003 906.2 1002.8 908.2 1002.6 910.2 1002.4 912.2 1002.2 914.2 1002 916.2 1001.9 918.2 1001.7 920.2 1001.5 922.2 1001.3 924.2 1001.1 926.2 1001 928.2 1000.8 930.2 1000.7 932.2 1000.5 934.2 1000.4 936.2 1000.3 938.2 1000.1 940.2 1000 942.2 999.9 944.2 999.8 946.2 999.6 948.2 999.5 950.2 999.4 952.2 999.3 954.2 999.2 956.2 999 958.2 998.9 960.2 998.8 962.2 998.7 964.2 998.6 966.2 998.5 968.2 998.4 970.2 998.3 972.2 998.2 974.2 998.1 976.2 998 978.2 997.9 980.2 997.8 982.2 997.7 984.2 997.6 986.2 997.5 988.2 997.4 990.2 997.3 992.2 997.2 994.2 997.1 996.2 997 998.2 996.9 1000.2 996.8 1002.2 996.7 1004.2 996.6 1006.2 996.5 1008.2 996.4 1010.2 996.2 1012.2 996.1 1014.2 996 1016.2 995.9 1018.2 995.9 1020.2 995.8 1022.2 995.7 1024.2 995.6 1026.2 995.5 1028.2 995.5 1030.2 995.4 1032.2 995.4 1034.2 995.3 1036.2 995.3 1038.2 995.2 1040.2 995.2 1042.2 995.2 1044.2 995.1 1046.2 995.1 1048.2 995 1050.2 995 1052.2 994.9 1054.2 994.9 1056.2 994.8 1058.2 994.7 1060.2 994.7 1062.2 994.6 1064.2 994.5 1066.2 994.4 1068.2 994.3 1070.2 994.2 1072.2 994.1 1074.2 994.1 1076.2 994 1078.2 994 1080.2 993.9 1082.2 993.9 1084.2 993.8 1086.2 993.8 1088.2 993.7 1090.2 993.7 1092.2 993.6 1094.2 993.6 1096.2 993.6 1096.2 993.6" stroke="#fb210e" stroke-width="7.9" stroke-linejoin="round" stroke-linecap="butt" fill="none"/>
</g>
<path d="M669.4 740.7H1096.7" stroke="#2b2b2b" stroke-width="4" fill="none"/>
<path d="M669.4 1227.2H1096.7" stroke="#2b2b2b" stroke-width="3.5" fill="none"/>
<path d="M1095.2 740.7V1227.2" stroke="#2b2b2b" stroke-width="3" fill="none"/>
<path d="M670.5 740.7V1227.2" stroke="#1c1c1c" stroke-width="2.2" fill="none"/>
<path d="M657.5 1227.5H670.5M657.5 1105.9H670.5M657.5 984.2H670.5M657.5 862.6H670.5M657.5 741H670.5M775.3 1227.2V1239.5M903.6 1227.2V1239.5M1032.7 1227.2V1239.5" stroke="#333333" stroke-width="3.6" fill="none"/>
<text x="647.8" y="1241.8" font-size="38.7" text-anchor="end" fill="#474747">-10</text>
<text x="647.8" y="1120.2" font-size="38.7" text-anchor="end" fill="#474747">-5</text>
<text x="647.8" y="998.6" font-size="38.7" text-anchor="end" fill="#474747">0</text>
<text x="647.8" y="876.9" font-size="38.7" text-anchor="end" fill="#474747">5</text>
<text x="647.8" y="755.3" font-size="38.7" text-anchor="end" fill="#474747">10</text>
<text x="775.3" y="1278.7" font-size="38.7" text-anchor="middle" fill="#474747">20</text>
<text x="903.6" y="1278.7" font-size="38.7" text-anchor="middle" fill="#474747">40</text>
<text x="1032.7" y="1278.7" font-size="38.7" text-anchor="middle" fill="#474747">60</text>
</g>
<g id="panel-g">
<clipPath id="clipg"><rect x="1198.2" y="740.7" width="424.8" height="486.5"/></clipPath>
<rect x="1198.2" y="656.1" width="424.8" height="84.6" fill="#d9d9d9" stroke="#2b2b2b" stroke-width="2.5"/>
<text x="1410" y="717.7" font-size="52.4" text-anchor="middle" fill="#1a1a1a">(g) Mean.CO2</text>
<g clip-path="url(#clipg)">
<path d="M1198.2 1166.4H1623M1198.2 1044.8H1623M1198.2 923.1H1623M1198.2 801.5H1623M1234.3 740.7V1227.2M1323.9 740.7V1227.2M1413 740.7V1227.2M1502.5 740.7V1227.2M1592.1 740.7V1227.2" stroke="#ebebeb" stroke-width="2" fill="none"/>
<path d="M1198.2 1227.2H1623M1198.2 1105.6H1623M1198.2 984H1623M1198.2 862.3H1623M1198.2 740.7H1623M1279.1 740.7V1227.2M1368.6 740.7V1227.2M1457.8 740.7V1227.2M1547.7 740.7V1227.2" stroke="#ebebeb" stroke-width="3.9" fill="none"/>
<path d="M1198 972h4M1199 999h4M1199 1044h4M1200 992h4M1200 996h4M1200 1005h4M1200 1008h4M1200 1037h4M1200 1039h4M1201 1020h4M1202 933h4M1202 987h4M1202 996h4M1203 949h4M1203 952h4M1203 955h4M1203 958h4M1203 1045h4M1204 878h4M1204 959h4M1204 974h4M1204 993h4M1204 995h4M1205 974h4M1206 905h4M1206 951h4M1206 981h4M1206 1002h4M1206 1003h4M1207 935h4M1207 957h4M1207 980h4M1207 985h4M1207 1023h4M1207 1045h4M1208 818h4M1208 861h4M1208 871h4M1208 956h4M1208 966h4M1208 991h4M1208 1046h4M1209 834h4M1209 888h4M1209 950h4M1210 859h4M1210 964h4M1210 975h4M1210 1012h4M1210 1051h4M1211 981h4M1211 1002h4M1211 1012h4M1212 866h4M1212 870h4M1212 895h4M1212 981h4M1212 1046h4M1213 791h4M1213 854h4M1213 860h4M1213 926h4M1213 929h4M1213 937h4M1213 948h4M1213 952h4M1213 964h4M1213 978h4M1213 986h4M1213 1022h4M1214 800h4M1214 814h4M1214 880h4M1214 890h4M1214 928h4M1214 936h4M1214 953h4M1214 982h4M1214 989h4M1214 990h4M1214 992h4M1214 998h4M1214 999h4M1214 1006h4M1214 1012h4M1214 1019h4M1214 1022h4M1214 1030h4M1214 1034h4M1214 1036h4M1215 889h4M1215 962h4M1215 964h4M1215 969h4M1215 1086h4M1216 795h4M1216 825h4M1216 891h4M1216 901h4M1216 917h4M1216 942h4M1216 944h4M1216 959h4M1216 974h4M1216 1007h4M1216 1008h4M1216 1016h4M1216 1123h4M1217 831h4M1217 844h4M1217 866h4M1217 879h4M1217 891h4M1217 918h4M1217 930h4M1217 940h4M1217 955h4M1217 956h4M1217 959h4M1217 986h4M1218 842h4M1218 862h4M1218 900h4M1218 937h4M1218 945h4M1218 951h4M1218 960h4M1218 962h4M1218 975h4M1218 976h4M1218 991h4M1218 1034h4M1218 1131h4M1218 1137h4M1219 845h4M1219 892h4M1219 894h4M1219 900h4M1219 925h4M1219 926h4M1219 945h4M1219 952h4M1219 955h4M1219 965h4M1219 972h4M1219 975h4M1219 985h4M1219 1008h4M1219 1010h4M1219 1012h4M1219 1022h4M1219 1033h4M1220 833h4M1220 850h4M1220 856h4M1220 881h4M1220 919h4M1220 927h4M1220 944h4M1220 948h4M1220 949h4M1220 950h4M1220 956h4M1220 961h4M1220 962h4M1220 965h4M1220 970h4M1220 971h4M1220 976h4M1220 978h4M1220 985h4M1220 988h4M1220 989h4M1220 991h4M1220 992h4M1220 996h4M1220 1000h4M1220 1078h4M1221 815h4M1221 873h4M1221 881h4M1221 895h4M1221 913h4M1221 927h4M1221 928h4M1221 931h4M1221 941h4M1221 942h4M1221 946h4M1221 950h4M1221 953h4M1221 958h4M1221 959h4M1221 965h4M1221 967h4M1221 976h4M1221 979h4M1221 980h4M1221 981h4M1221 983h4M1221 986h4M1221 993h4M1221 997h4M1221 1001h4M1221 1002h4M1221 1007h4M1221 1013h4M1221 1026h4M1222 800h4M1222 828h4M1222 852h4M1222 862h4M1222 882h4M1222 934h4M1222 937h4M1222 942h4M1222 943h4M1222 945h4M1222 949h4M1222 951h4M1222 959h4M1222 961h4M1222 962h4M1222 972h4M1222 974h4M1222 977h4M1222 980h4M1222 986h4M1222 987h4M1222 992h4M1222 999h4M1222 1005h4M1223 884h4M1223 893h4M1223 912h4M1223 918h4M1223 925h4M1223 929h4M1223 931h4M1223 933h4M1223 934h4M1223 936h4M1223 939h4M1223 941h4M1223 949h4M1223 950h4M1223 951h4M1223 959h4M1223 963h4M1223 964h4M1223 965h4M1223 967h4M1223 969h4M1223 976h4M1223 985h4M1223 999h4M1223 1003h4M1223 1010h4M1223 1011h4M1223 1012h4M1223 1017h4M1223 1018h4M1223 1019h4M1224 825h4M1224 846h4M1224 887h4M1224 891h4M1224 893h4M1224 922h4M1224 929h4M1224 932h4M1224 939h4M1224 941h4M1224 944h4M1224 945h4M1224 946h4M1224 947h4M1224 951h4M1224 959h4M1224 966h4M1224 968h4M1224 977h4M1224 982h4M1224 986h4M1224 988h4M1224 990h4M1224 995h4M1224 999h4M1224 1003h4M1225 886h4M1225 925h4M1225 929h4M1225 934h4M1225 936h4M1225 937h4M1225 947h4M1225 948h4M1225 957h4M1225 961h4M1225 967h4M1225 968h4M1225 969h4M1225 982h4M1225 985h4M1225 993h4M1225 998h4M1225 1000h4M1225 1001h4M1225 1002h4M1225 1003h4M1225 1012h4M1225 1027h4M1226 839h4M1226 863h4M1226 869h4M1226 901h4M1226 923h4M1226 926h4M1226 936h4M1226 939h4M1226 940h4M1226 946h4M1226 947h4M1226 955h4M1226 961h4M1226 967h4M1226 971h4M1226 972h4M1226 973h4M1226 976h4M1226 977h4M1226 983h4M1226 985h4M1226 990h4M1226 991h4M1226 993h4M1226 995h4M1226 998h4M1226 999h4M1226 1002h4M1226 1005h4M1226 1006h4M1226 1007h4M1226 1025h4M1227 816h4M1227 837h4M1227 846h4M1227 854h4M1227 907h4M1227 912h4M1227 923h4M1227 924h4M1227 925h4M1227 931h4M1227 934h4M1227 936h4M1227 941h4M1227 945h4M1227 946h4M1227 947h4M1227 949h4M1227 953h4M1227 955h4M1227 957h4M1227 959h4M1227 965h4M1227 979h4M1227 981h4M1227 983h4M1227 993h4M1227 1004h4M1227 1014h4M1227 1021h4M1227 1025h4M1227 1027h4M1228 860h4M1228 887h4M1228 890h4M1228 891h4M1228 892h4M1228 897h4M1228 901h4M1228 921h4M1228 923h4M1228 930h4M1228 931h4M1228 932h4M1228 933h4M1228 934h4M1228 937h4M1228 939h4M1228 942h4M1228 944h4M1228 948h4M1228 950h4M1228 953h4M1228 955h4M1228 956h4M1228 962h4M1228 963h4M1228 964h4M1228 965h4M1228 967h4M1228 975h4M1228 983h4M1228 988h4M1228 993h4M1228 996h4M1228 999h4M1228 1003h4M1228 1004h4M1228 1005h4M1228 1008h4M1228 1018h4M1228 1037h4M1229 889h4M1229 896h4M1229 912h4M1229 921h4M1229 934h4M1229 946h4M1229 958h4M1229 965h4M1229 970h4M1229 972h4M1229 975h4M1229 978h4M1229 979h4M1229 982h4M1229 984h4M1229 988h4M1229 989h4M1229 998h4M1229 999h4M1229 1000h4M1229 1007h4M1229 1008h4M1229 1013h4M1229 1023h4M1229 1025h4M1229 1026h4M1229 1037h4M1230 812h4M1230 921h4M1230 928h4M1230 934h4M1230 937h4M1230 941h4M1230 943h4M1230 947h4M1230 952h4M1230 959h4M1230 964h4M1230 974h4M1230 976h4M1230 977h4M1230 979h4M1230 981h4M1230 982h4M1230 984h4M1230 985h4M1230 987h4M1230 989h4M1230 991h4M1230 994h4M1230 1001h4M1230 1003h4M1230 1007h4M1230 1008h4M1230 1010h4M1230 1011h4M1230 1012h4M1230 1014h4M1230 1018h4M1231 839h4M1231 881h4M1231 909h4M1231 926h4M1231 928h4M1231 929h4M1231 931h4M1231 932h4M1231 933h4M1231 936h4M1231 938h4M1231 940h4M1231 942h4M1231 950h4M1231 953h4M1231 962h4M1231 965h4M1231 966h4M1231 972h4M1231 976h4M1231 983h4M1231 991h4M1231 992h4M1231 997h4M1231 999h4M1231 1008h4M1231 1009h4M1231 1011h4M1231 1012h4M1231 1014h4M1231 1015h4M1231 1019h4M1231 1023h4M1232 891h4M1232 914h4M1232 924h4M1232 935h4M1232 940h4M1232 947h4M1232 950h4M1232 951h4M1232 958h4M1232 975h4M1232 978h4M1232 979h4M1232 981h4M1232 992h4M1232 993h4M1232 994h4M1232 997h4M1232 1003h4M1232 1007h4M1232 1008h4M1232 1011h4M1232 1019h4M1232 1024h4M1233 911h4M1233 921h4M1233 922h4M1233 923h4M1233 928h4M1233 930h4M1233 935h4M1233 939h4M1233 942h4M1233 943h4M1233 953h4M1233 956h4M1233 964h4M1233 974h4M1233 979h4M1233 981h4M1233 986h4M1233 994h4M1233 996h4M1233 998h4M1233 999h4M1233 1002h4M1233 1003h4M1233 1010h4M1233 1012h4M1233 1013h4M1233 1015h4M1233 1018h4M1233 1022h4M1233 1035h4M1234 904h4M1234 923h4M1234 924h4M1234 931h4M1234 938h4M1234 943h4M1234 945h4M1234 946h4M1234 947h4M1234 948h4M1234 951h4M1234 952h4M1234 957h4M1234 961h4M1234 965h4M1234 967h4M1234 971h4M1234 979h4M1234 980h4M1234 984h4M1234 988h4M1234 990h4M1234 991h4M1234 994h4M1234 995h4M1234 1006h4M1235 928h4M1235 932h4M1235 941h4M1235 942h4M1235 944h4M1235 947h4M1235 949h4M1235 952h4M1235 956h4M1235 957h4M1235 958h4M1235 961h4M1235 968h4M1235 969h4M1235 973h4M1235 976h4M1235 980h4M1235 983h4M1235 986h4M1235 989h4M1235 993h4M1235 994h4M1235 995h4M1235 996h4M1235 998h4M1235 999h4M1235 1000h4M1235 1001h4M1235 1002h4M1235 1004h4M1235 1006h4M1235 1007h4M1235 1008h4M1235 1011h4M1235 1017h4M1235 1019h4M1235 1024h4M1235 1030h4M1235 1031h4M1235 1033h4M1236 930h4M1236 935h4M1236 948h4M1236 952h4M1236 956h4M1236 959h4M1236 965h4M1236 968h4M1236 971h4M1236 979h4M1236 982h4M1236 983h4M1236 987h4M1236 991h4M1236 992h4M1236 998h4M1236 1002h4M1236 1003h4M1236 1004h4M1236 1007h4M1236 1016h4M1236 1023h4M1236 1026h4M1237 914h4M1237 919h4M1237 922h4M1237 934h4M1237 939h4M1237 945h4M1237 946h4M1237 947h4M1237 948h4M1237 950h4M1237 957h4M1237 959h4M1237 967h4M1237 970h4M1237 976h4M1237 978h4M1237 984h4M1237 989h4M1237 992h4M1237 997h4M1237 1000h4M1237 1002h4M1237 1012h4M1237 1018h4M1238 893h4M1238 916h4M1238 926h4M1238 931h4M1238 932h4M1238 939h4M1238 940h4M1238 944h4M1238 945h4M1238 947h4M1238 948h4M1238 956h4M1238 958h4M1238 959h4M1238 965h4M1238 970h4M1238 973h4M1238 975h4M1238 976h4M1238 977h4M1238 984h4M1238 988h4M1238 989h4M1238 991h4M1238 994h4M1238 999h4M1238 1000h4M1238 1001h4M1238 1003h4M1238 1011h4M1238 1019h4M1238 1024h4M1239 939h4M1239 941h4M1239 950h4M1239 959h4M1239 960h4M1239 972h4M1239 976h4M1239 977h4M1239 981h4M1239 991h4M1239 996h4M1239 1006h4M1239 1014h4M1239 1027h4M1239 1046h4M1240 920h4M1240 944h4M1240 954h4M1240 956h4M1240 958h4M1240 959h4M1240 966h4M1240 974h4M1240 979h4M1240 983h4M1240 986h4M1240 989h4M1240 991h4M1240 1001h4M1240 1017h4M1240 1027h4M1240 1032h4M1241 934h4M1241 945h4M1241 949h4M1241 954h4M1241 958h4M1241 960h4M1241 969h4M1241 970h4M1241 975h4M1241 978h4M1241 991h4M1241 992h4M1241 1000h4M1241 1052h4M1242 903h4M1242 945h4M1242 960h4M1242 964h4M1242 965h4M1242 973h4M1242 998h4M1242 1009h4M1243 900h4M1243 965h4M1243 969h4M1243 978h4M1243 979h4M1243 989h4M1243 999h4M1244 908h4M1244 937h4M1244 938h4M1244 946h4M1244 991h4M1244 1006h4M1244 1012h4M1244 1032h4M1245 916h4M1245 931h4M1245 949h4M1245 952h4M1245 963h4M1245 980h4M1245 983h4M1245 984h4M1245 994h4M1246 972h4M1246 998h4M1246 1001h4M1246 1024h4M1247 973h4M1247 982h4M1247 985h4M1247 1005h4M1248 957h4M1248 966h4M1248 973h4M1248 983h4M1248 1009h4M1248 1014h4M1249 953h4M1249 969h4M1249 975h4M1249 980h4M1249 989h4M1249 1016h4M1249 1019h4M1249 1034h4M1250 946h4M1250 971h4M1250 972h4M1250 989h4M1250 992h4M1250 1016h4M1250 1040h4M1251 969h4M1251 977h4M1251 986h4M1251 1053h4M1252 971h4M1252 972h4M1252 985h4M1252 993h4M1252 1012h4M1253 979h4M1253 988h4M1253 992h4M1253 1011h4M1253 1018h4M1253 1033h4M1253 1036h4M1253 1042h4M1254 957h4M1254 969h4M1254 971h4M1254 973h4M1254 977h4M1254 978h4M1254 979h4M1254 981h4M1254 982h4M1254 1010h4M1254 1017h4M1254 1030h4M1255 974h4M1255 979h4M1255 1000h4M1255 1006h4M1255 1013h4M1255 1014h4M1255 1020h4M1255 1021h4M1255 1026h4M1255 1028h4M1256 958h4M1256 970h4M1256 971h4M1256 990h4M1256 992h4M1256 994h4M1256 999h4M1256 1012h4M1256 1020h4M1256 1024h4M1256 1029h4M1256 1031h4M1256 1053h4M1257 981h4M1257 987h4M1257 989h4M1257 994h4M1257 1000h4M1257 1002h4M1257 1011h4M1257 1012h4M1257 1013h4M1257 1022h4M1257 1029h4M1257 1031h4M1257 1050h4M1258 953h4M1258 987h4M1258 993h4M1258 998h4M1258 1006h4M1258 1021h4M1258 1025h4M1258 1036h4M1258 1037h4M1259 961h4M1259 979h4M1259 996h4M1259 998h4M1259 1001h4M1259 1008h4M1259 1010h4M1259 1022h4M1259 1035h4M1259 1046h4M1259 1055h4M1259 1056h4M1260 987h4M1260 988h4M1260 992h4M1260 998h4M1260 1013h4M1260 1018h4M1260 1020h4M1260 1028h4M1260 1042h4M1260 1057h4M1260 1059h4M1260 1071h4M1260 1072h4M1261 977h4M1261 978h4M1261 979h4M1261 981h4M1261 983h4M1261 988h4M1261 990h4M1261 995h4M1261 999h4M1261 1002h4M1261 1003h4M1261 1008h4M1261 1011h4M1261 1017h4M1261 1019h4M1261 1020h4M1261 1022h4M1261 1023h4M1261 1024h4M1261 1025h4M1261 1028h4M1261 1045h4M1261 1054h4M1261 1072h4M1262 975h4M1262 979h4M1262 987h4M1262 989h4M1262 996h4M1262 997h4M1262 1006h4M1262 1008h4M1262 1009h4M1262 1010h4M1262 1011h4M1262 1019h4M1262 1032h4M1262 1033h4M1262 1036h4M1262 1044h4M1262 1064h4M1262 1070h4M1263 952h4M1263 964h4M1263 978h4M1263 980h4M1263 981h4M1263 982h4M1263 995h4M1263 998h4M1263 1000h4M1263 1003h4M1263 1009h4M1263 1012h4M1263 1017h4M1263 1020h4M1263 1022h4M1263 1037h4M1263 1043h4M1263 1046h4M1264 955h4M1264 984h4M1264 988h4M1264 992h4M1264 997h4M1264 1001h4M1264 1002h4M1264 1004h4M1264 1014h4M1264 1015h4M1264 1022h4M1264 1023h4M1264 1027h4M1264 1028h4M1264 1034h4M1264 1036h4M1264 1037h4M1264 1064h4M1264 1086h4M1265 961h4M1265 964h4M1265 968h4M1265 974h4M1265 978h4M1265 985h4M1265 986h4M1265 987h4M1265 992h4M1265 996h4M1265 999h4M1265 1000h4M1265 1003h4M1265 1006h4M1265 1011h4M1265 1013h4M1265 1016h4M1265 1017h4M1265 1023h4M1265 1025h4M1265 1027h4M1265 1030h4M1265 1034h4M1265 1037h4M1265 1044h4M1265 1046h4M1266 958h4M1266 968h4M1266 969h4M1266 975h4M1266 976h4M1266 985h4M1266 991h4M1266 995h4M1266 996h4M1266 1000h4M1266 1003h4M1266 1008h4M1266 1009h4M1266 1013h4M1266 1016h4M1266 1017h4M1266 1019h4M1266 1024h4M1266 1028h4M1266 1037h4M1267 985h4M1267 987h4M1267 988h4M1267 989h4M1267 990h4M1267 993h4M1267 996h4M1267 999h4M1267 1004h4M1267 1005h4M1267 1009h4M1267 1012h4M1267 1015h4M1267 1018h4M1267 1019h4M1267 1027h4M1267 1033h4M1267 1038h4M1267 1040h4M1267 1050h4M1268 958h4M1268 975h4M1268 978h4M1268 981h4M1268 983h4M1268 985h4M1268 995h4M1268 999h4M1268 1006h4M1268 1007h4M1268 1020h4M1268 1027h4M1268 1043h4M1268 1054h4M1269 962h4M1269 970h4M1269 971h4M1269 992h4M1269 1011h4M1269 1013h4M1269 1019h4M1269 1021h4M1269 1023h4M1269 1024h4M1269 1032h4M1269 1035h4M1269 1038h4M1269 1039h4M1270 964h4M1270 974h4M1270 980h4M1270 993h4M1270 998h4M1270 999h4M1270 1003h4M1270 1004h4M1270 1005h4M1270 1007h4M1270 1016h4M1270 1021h4M1270 1030h4M1270 1032h4M1270 1039h4M1271 896h4M1271 975h4M1271 976h4M1271 983h4M1271 996h4M1271 1000h4M1271 1001h4M1271 1002h4M1271 1003h4M1271 1005h4M1271 1010h4M1271 1011h4M1271 1018h4M1271 1024h4M1271 1028h4M1271 1034h4M1272 872h4M1272 937h4M1272 966h4M1272 968h4M1272 980h4M1272 993h4M1272 998h4M1272 999h4M1272 1001h4M1272 1006h4M1272 1007h4M1272 1013h4M1272 1018h4M1272 1020h4M1272 1028h4M1272 1029h4M1272 1031h4M1273 827h4M1273 951h4M1273 964h4M1273 977h4M1273 979h4M1273 982h4M1273 999h4M1273 1013h4M1273 1017h4M1273 1020h4M1273 1021h4M1273 1024h4M1273 1029h4M1274 960h4M1274 964h4M1274 980h4M1274 997h4M1274 1004h4M1274 1011h4M1274 1035h4M1274 1037h4M1275 973h4M1275 974h4M1275 982h4M1275 1001h4M1275 1002h4M1275 1011h4M1275 1019h4M1276 973h4M1276 985h4M1276 994h4M1276 1001h4M1276 1002h4M1276 1037h4M1277 954h4M1277 973h4M1277 1010h4M1278 979h4M1278 988h4M1278 991h4M1278 1003h4M1278 1033h4M1279 974h4M1279 982h4M1279 1001h4M1279 1003h4M1279 1005h4M1279 1007h4M1279 1044h4M1280 968h4M1280 971h4M1280 982h4M1280 987h4M1280 992h4M1280 1009h4M1281 985h4M1281 1000h4M1281 1002h4M1281 1012h4M1282 960h4M1282 977h4M1282 983h4M1282 985h4M1282 1002h4M1283 970h4M1283 990h4M1284 938h4M1284 979h4M1284 984h4M1284 990h4M1284 997h4M1284 1012h4M1285 959h4M1285 965h4M1285 983h4M1285 991h4M1286 963h4M1286 977h4M1286 1000h4M1287 961h4M1287 965h4M1287 983h4M1287 992h4M1288 980h4M1288 982h4M1288 1004h4M1289 978h4M1289 996h4M1289 1017h4M1290 975h4M1290 977h4M1290 984h4M1291 979h4M1291 988h4M1291 990h4M1291 1006h4M1292 914h4M1292 990h4M1293 969h4M1293 981h4M1293 996h4M1293 1009h4M1294 963h4M1294 991h4M1294 999h4M1295 963h4M1295 982h4M1296 911h4M1296 967h4M1296 987h4M1296 989h4M1297 967h4M1297 973h4M1297 984h4M1298 977h4M1299 996h4M1300 963h4M1300 968h4M1300 984h4M1300 989h4M1300 991h4M1301 975h4M1301 978h4M1301 997h4M1301 1001h4M1302 957h4M1302 977h4M1302 982h4M1302 983h4M1302 984h4M1302 985h4M1302 997h4M1303 970h4M1303 973h4M1303 975h4M1303 984h4M1303 1003h4M1304 951h4M1304 976h4M1305 880h4M1305 967h4M1305 969h4M1305 990h4M1305 996h4M1306 965h4M1306 973h4M1306 976h4M1306 984h4M1307 958h4M1307 968h4M1307 977h4M1307 983h4M1308 972h4M1308 993h4M1309 974h4M1309 984h4M1309 990h4M1309 991h4M1309 992h4M1309 995h4M1310 977h4M1310 989h4M1310 993h4M1311 972h4M1311 991h4M1311 992h4M1311 1004h4M1312 986h4M1313 974h4M1313 985h4M1313 986h4M1313 998h4M1314 963h4M1314 981h4M1314 989h4M1314 1008h4M1315 973h4M1315 981h4M1316 983h4M1316 984h4M1316 985h4M1316 992h4M1316 1004h4M1317 993h4M1317 995h4M1318 953h4M1318 976h4M1318 978h4M1318 985h4M1319 975h4M1319 984h4M1319 990h4M1319 996h4M1320 962h4M1320 972h4M1321 974h4M1321 981h4M1322 981h4M1322 984h4M1322 995h4M1322 999h4M1323 940h4M1323 979h4M1323 982h4M1323 989h4M1323 992h4M1324 959h4M1324 963h4M1324 979h4M1324 986h4M1325 954h4M1325 968h4M1325 969h4M1325 970h4M1325 977h4M1325 980h4M1325 984h4M1325 992h4M1325 996h4M1325 1001h4M1326 949h4M1326 957h4M1326 961h4M1326 973h4M1326 982h4M1326 984h4M1326 1002h4M1327 969h4M1327 977h4M1327 987h4M1327 988h4M1327 993h4M1327 997h4M1328 996h4M1328 1004h4M1328 1017h4M1329 988h4M1329 998h4M1329 1012h4M1330 980h4M1330 989h4M1330 1012h4M1330 1016h4M1331 976h4M1331 987h4M1331 996h4M1331 1002h4M1332 964h4M1332 971h4M1332 972h4M1332 976h4M1332 983h4M1332 993h4M1333 969h4M1333 970h4M1333 987h4M1333 988h4M1333 990h4M1333 997h4M1334 978h4M1334 984h4M1334 988h4M1335 970h4M1335 994h4M1335 998h4M1336 975h4M1336 978h4M1336 984h4M1336 993h4M1336 996h4M1337 971h4M1337 982h4M1337 996h4M1338 972h4M1338 987h4M1338 990h4M1338 999h4M1338 1000h4M1338 1001h4M1338 1010h4M1339 953h4M1339 963h4M1339 970h4M1339 982h4M1339 996h4M1339 1002h4M1339 1012h4M1339 1054h4M1340 992h4M1340 994h4M1340 996h4M1341 968h4M1341 1010h4M1342 971h4M1342 973h4M1342 976h4M1342 991h4M1343 986h4M1343 990h4M1343 997h4M1343 1001h4M1343 1019h4M1344 963h4M1344 972h4M1344 982h4M1344 984h4M1344 989h4M1344 996h4M1344 1011h4M1345 968h4M1345 985h4M1345 992h4M1345 996h4M1345 1003h4M1346 936h4M1346 971h4M1346 978h4M1346 982h4M1347 941h4M1347 964h4M1347 966h4M1347 988h4M1347 994h4M1348 973h4M1348 978h4M1348 986h4M1348 1003h4M1349 956h4M1349 972h4M1349 988h4M1349 992h4M1349 993h4M1349 1006h4M1349 1007h4M1350 962h4M1350 968h4M1350 977h4M1350 981h4M1350 984h4M1350 991h4M1350 1006h4M1351 961h4M1351 968h4M1351 975h4M1351 989h4M1352 998h4M1353 985h4M1353 987h4M1353 996h4M1353 1013h4M1353 1023h4M1353 1032h4M1354 963h4M1354 971h4M1354 976h4M1354 996h4M1354 997h4M1354 1016h4M1355 967h4M1355 977h4M1356 980h4M1356 986h4M1356 998h4M1356 1010h4M1356 1017h4M1357 963h4M1357 986h4M1357 998h4M1358 957h4M1358 968h4M1358 969h4M1358 975h4M1358 981h4M1358 988h4M1358 994h4M1358 998h4M1358 1007h4M1358 1008h4M1358 1009h4M1359 959h4M1359 973h4M1359 1006h4M1360 983h4M1360 989h4M1360 996h4M1360 1016h4M1361 969h4M1361 995h4M1361 1001h4M1361 1019h4M1362 963h4M1362 968h4M1362 989h4M1362 998h4M1362 1000h4M1362 1019h4M1362 1042h4M1363 967h4M1363 979h4M1363 988h4M1363 989h4M1363 1002h4M1363 1019h4M1364 962h4M1364 977h4M1364 1005h4M1364 1015h4M1365 968h4M1365 970h4M1365 983h4M1365 986h4M1365 987h4M1365 998h4M1365 1020h4M1365 1025h4M1366 963h4M1366 977h4M1366 982h4M1366 988h4M1366 1027h4M1367 937h4M1367 956h4M1367 959h4M1367 968h4M1367 970h4M1367 974h4M1367 975h4M1367 985h4M1367 986h4M1367 988h4M1367 991h4M1367 992h4M1367 993h4M1367 994h4M1367 998h4M1368 959h4M1368 982h4M1368 990h4M1368 996h4M1368 997h4M1369 974h4M1369 978h4M1369 982h4M1369 984h4M1369 986h4M1369 987h4M1369 989h4M1369 990h4M1369 991h4M1369 992h4M1369 1009h4M1369 1020h4M1370 966h4M1370 975h4M1370 989h4M1370 991h4M1370 993h4M1370 996h4M1370 998h4M1370 1001h4M1370 1002h4M1370 1007h4M1370 1008h4M1370 1016h4M1370 1030h4M1371 980h4M1371 983h4M1371 984h4M1371 991h4M1371 994h4M1371 995h4M1371 996h4M1371 1008h4M1371 1011h4M1371 1015h4M1372 976h4M1372 989h4M1372 995h4M1372 1001h4M1372 1008h4M1372 1009h4M1372 1010h4M1372 1011h4M1372 1012h4M1372 1013h4M1372 1018h4M1372 1028h4M1372 1034h4M1373 951h4M1373 966h4M1373 973h4M1373 977h4M1373 981h4M1373 984h4M1373 985h4M1373 988h4M1373 993h4M1373 999h4M1373 1001h4M1373 1004h4M1373 1011h4M1373 1012h4M1373 1013h4M1373 1014h4M1374 977h4M1374 978h4M1374 979h4M1374 986h4M1374 988h4M1374 994h4M1374 995h4M1374 1004h4M1374 1005h4M1374 1012h4M1374 1013h4M1374 1017h4M1375 947h4M1375 974h4M1375 976h4M1375 977h4M1375 979h4M1375 983h4M1375 984h4M1375 991h4M1375 992h4M1375 994h4M1375 998h4M1375 1002h4M1375 1004h4M1375 1008h4M1375 1017h4M1375 1020h4M1375 1069h4M1376 971h4M1376 981h4M1376 990h4M1376 991h4M1376 1001h4M1376 1011h4M1376 1018h4M1376 1020h4M1376 1022h4M1376 1032h4M1376 1045h4M1377 969h4M1377 972h4M1377 973h4M1377 975h4M1377 976h4M1377 979h4M1377 987h4M1377 990h4M1377 992h4M1377 997h4M1377 1000h4M1377 1001h4M1377 1002h4M1377 1005h4M1377 1013h4M1377 1014h4M1377 1016h4M1377 1017h4M1377 1027h4M1378 958h4M1378 973h4M1378 978h4M1378 985h4M1378 990h4M1378 991h4M1378 997h4M1378 998h4M1378 1004h4M1378 1009h4M1378 1014h4M1378 1017h4M1378 1019h4M1378 1021h4M1378 1024h4M1378 1028h4M1378 1058h4M1379 956h4M1379 972h4M1379 983h4M1379 986h4M1379 988h4M1379 991h4M1379 992h4M1379 993h4M1379 995h4M1379 1005h4M1379 1010h4M1379 1011h4M1379 1015h4M1379 1022h4M1379 1023h4M1379 1033h4M1380 967h4M1380 968h4M1380 970h4M1380 973h4M1380 975h4M1380 978h4M1380 979h4M1380 983h4M1380 985h4M1380 986h4M1380 992h4M1380 994h4M1380 1002h4M1380 1004h4M1380 1006h4M1380 1012h4M1380 1015h4M1380 1018h4M1380 1022h4M1380 1052h4M1381 957h4M1381 961h4M1381 968h4M1381 977h4M1381 978h4M1381 979h4M1381 980h4M1381 981h4M1381 983h4M1381 988h4M1381 990h4M1381 993h4M1381 997h4M1381 1002h4M1381 1004h4M1381 1007h4M1381 1010h4M1381 1011h4M1381 1016h4M1381 1020h4M1381 1021h4M1381 1027h4M1381 1028h4M1381 1029h4M1382 961h4M1382 966h4M1382 971h4M1382 978h4M1382 980h4M1382 989h4M1382 994h4M1382 995h4M1382 998h4M1382 1003h4M1382 1004h4M1382 1005h4M1382 1006h4M1382 1008h4M1382 1012h4M1382 1014h4M1382 1017h4M1382 1020h4M1382 1022h4M1383 964h4M1383 966h4M1383 981h4M1383 996h4M1383 1000h4M1383 1003h4M1383 1007h4M1383 1011h4M1383 1013h4M1383 1016h4M1383 1019h4M1383 1021h4M1383 1022h4M1383 1023h4M1383 1024h4M1384 954h4M1384 964h4M1384 966h4M1384 967h4M1384 968h4M1384 977h4M1384 978h4M1384 981h4M1384 985h4M1384 986h4M1384 987h4M1384 996h4M1384 998h4M1384 1000h4M1384 1002h4M1384 1003h4M1384 1008h4M1384 1014h4M1384 1024h4M1384 1027h4M1384 1035h4M1384 1036h4M1385 965h4M1385 974h4M1385 982h4M1385 984h4M1385 985h4M1385 986h4M1385 988h4M1385 994h4M1385 995h4M1385 996h4M1385 1000h4M1385 1008h4M1385 1014h4M1385 1019h4M1385 1020h4M1385 1021h4M1385 1023h4M1385 1026h4M1386 957h4M1386 963h4M1386 964h4M1386 969h4M1386 977h4M1386 986h4M1386 987h4M1386 994h4M1386 995h4M1386 997h4M1386 999h4M1386 1000h4M1386 1003h4M1386 1011h4M1386 1021h4M1386 1030h4M1386 1032h4M1387 969h4M1387 974h4M1387 981h4M1387 983h4M1387 986h4M1387 988h4M1387 996h4M1387 999h4M1387 1001h4M1387 1006h4M1387 1016h4M1387 1018h4M1387 1019h4M1387 1024h4M1387 1026h4M1387 1028h4M1387 1036h4M1387 1037h4M1387 1053h4M1388 933h4M1388 949h4M1388 962h4M1388 969h4M1388 973h4M1388 974h4M1388 976h4M1388 977h4M1388 981h4M1388 983h4M1388 989h4M1388 993h4M1388 996h4M1388 997h4M1388 999h4M1388 1000h4M1388 1004h4M1388 1005h4M1388 1012h4M1388 1019h4M1388 1023h4M1388 1025h4M1388 1028h4M1388 1035h4M1389 959h4M1389 967h4M1389 968h4M1389 969h4M1389 973h4M1389 974h4M1389 983h4M1389 985h4M1389 986h4M1389 987h4M1389 992h4M1389 995h4M1389 997h4M1389 998h4M1389 1001h4M1389 1003h4M1389 1008h4M1389 1009h4M1389 1011h4M1389 1013h4M1389 1024h4M1389 1035h4M1390 947h4M1390 957h4M1390 966h4M1390 978h4M1390 985h4M1390 989h4M1390 990h4M1390 994h4M1390 995h4M1390 1004h4M1390 1021h4M1390 1023h4M1390 1027h4M1390 1079h4M1391 955h4M1391 963h4M1391 964h4M1391 966h4M1391 971h4M1391 987h4M1391 991h4M1391 993h4M1391 994h4M1391 995h4M1391 996h4M1391 997h4M1391 999h4M1391 1000h4M1391 1001h4M1391 1003h4M1391 1006h4M1391 1011h4M1391 1013h4M1391 1020h4M1391 1022h4M1391 1023h4M1391 1028h4M1391 1029h4M1392 969h4M1392 971h4M1392 976h4M1392 979h4M1392 985h4M1392 988h4M1392 990h4M1392 992h4M1392 996h4M1392 997h4M1392 1001h4M1392 1002h4M1392 1004h4M1392 1008h4M1392 1014h4M1392 1019h4M1392 1036h4M1392 1038h4M1393 948h4M1393 965h4M1393 967h4M1393 971h4M1393 973h4M1393 975h4M1393 984h4M1393 986h4M1393 987h4M1393 990h4M1393 994h4M1393 995h4M1393 996h4M1393 999h4M1393 1003h4M1393 1005h4M1393 1011h4M1393 1018h4M1393 1021h4M1393 1028h4M1394 954h4M1394 955h4M1394 962h4M1394 974h4M1394 978h4M1394 985h4M1394 992h4M1394 1003h4M1394 1004h4M1394 1007h4M1394 1010h4M1394 1015h4M1394 1017h4M1394 1018h4M1394 1020h4M1394 1021h4M1394 1022h4M1394 1027h4M1394 1028h4M1394 1029h4M1394 1043h4M1394 1085h4M1395 964h4M1395 965h4M1395 967h4M1395 974h4M1395 975h4M1395 990h4M1395 991h4M1395 992h4M1395 993h4M1395 996h4M1395 1002h4M1395 1003h4M1395 1015h4M1395 1022h4M1395 1027h4M1395 1032h4M1396 953h4M1396 960h4M1396 966h4M1396 967h4M1396 968h4M1396 972h4M1396 974h4M1396 975h4M1396 981h4M1396 988h4M1396 990h4M1396 1006h4M1396 1013h4M1396 1016h4M1396 1019h4M1396 1023h4M1396 1025h4M1396 1029h4M1396 1034h4M1397 968h4M1397 974h4M1397 978h4M1397 980h4M1397 983h4M1397 994h4M1397 998h4M1397 1000h4M1397 1001h4M1397 1002h4M1397 1009h4M1397 1012h4M1397 1014h4M1397 1019h4M1397 1020h4M1397 1023h4M1397 1028h4M1397 1084h4M1398 960h4M1398 969h4M1398 970h4M1398 971h4M1398 977h4M1398 979h4M1398 981h4M1398 989h4M1398 994h4M1398 999h4M1398 1002h4M1398 1004h4M1398 1007h4M1398 1017h4M1398 1021h4M1398 1022h4M1398 1026h4M1399 942h4M1399 953h4M1399 954h4M1399 972h4M1399 981h4M1399 983h4M1399 992h4M1399 993h4M1399 994h4M1399 998h4M1399 1005h4M1399 1006h4M1399 1008h4M1399 1011h4M1399 1013h4M1399 1025h4M1399 1026h4M1399 1027h4M1399 1035h4M1400 949h4M1400 967h4M1400 971h4M1400 974h4M1400 979h4M1400 984h4M1400 985h4M1400 991h4M1400 996h4M1400 997h4M1400 998h4M1400 1000h4M1400 1005h4M1400 1008h4M1400 1014h4M1400 1015h4M1400 1019h4M1400 1023h4M1400 1025h4M1400 1027h4M1400 1054h4M1401 965h4M1401 968h4M1401 972h4M1401 973h4M1401 985h4M1401 986h4M1401 989h4M1401 990h4M1401 993h4M1401 996h4M1401 997h4M1401 998h4M1401 1004h4M1401 1007h4M1401 1009h4M1401 1013h4M1401 1016h4M1401 1017h4M1401 1018h4M1401 1031h4M1402 954h4M1402 956h4M1402 969h4M1402 972h4M1402 974h4M1402 978h4M1402 979h4M1402 980h4M1402 982h4M1402 983h4M1402 986h4M1402 987h4M1402 989h4M1402 994h4M1402 996h4M1402 998h4M1402 1002h4M1402 1003h4M1402 1004h4M1402 1005h4M1402 1006h4M1402 1011h4M1402 1022h4M1402 1029h4M1403 954h4M1403 974h4M1403 981h4M1403 983h4M1403 985h4M1403 986h4M1403 996h4M1403 1003h4M1403 1009h4M1403 1011h4M1403 1016h4M1403 1035h4M1403 1044h4M1404 918h4M1404 942h4M1404 972h4M1404 979h4M1404 981h4M1404 984h4M1404 985h4M1404 987h4M1404 989h4M1404 990h4M1404 995h4M1404 996h4M1404 998h4M1404 1000h4M1404 1001h4M1404 1002h4M1404 1003h4M1404 1012h4M1404 1014h4M1404 1024h4M1405 955h4M1405 959h4M1405 962h4M1405 967h4M1405 976h4M1405 978h4M1405 982h4M1405 984h4M1405 987h4M1405 993h4M1405 994h4M1405 1000h4M1405 1002h4M1405 1006h4M1405 1007h4M1405 1016h4M1405 1022h4M1406 982h4M1406 985h4M1406 988h4M1406 992h4M1406 1001h4M1406 1004h4M1406 1013h4M1406 1014h4M1406 1031h4M1407 950h4M1407 964h4M1407 989h4M1407 998h4M1407 1000h4M1407 1002h4M1407 1005h4M1407 1007h4M1407 1010h4M1408 952h4M1408 962h4M1408 983h4M1408 988h4M1408 993h4M1408 996h4M1408 997h4M1408 1000h4M1408 1029h4M1409 975h4M1409 982h4M1409 994h4M1409 1006h4M1409 1021h4M1410 961h4M1410 980h4M1410 986h4M1410 997h4M1410 1009h4M1410 1014h4M1410 1015h4M1411 941h4M1411 965h4M1411 994h4M1411 997h4M1411 1003h4M1411 1020h4M1412 970h4M1412 973h4M1412 997h4M1412 1007h4M1413 905h4M1413 972h4M1413 990h4M1413 996h4M1413 1000h4M1413 1001h4M1413 1016h4M1413 1023h4M1413 1033h4M1414 952h4M1414 965h4M1414 968h4M1414 969h4M1414 973h4M1414 988h4M1414 1008h4M1414 1012h4M1414 1019h4M1415 975h4M1415 982h4M1415 985h4M1415 1006h4M1415 1020h4M1416 948h4M1416 992h4M1416 993h4M1416 995h4M1416 998h4M1416 1006h4M1416 1020h4M1417 973h4M1417 977h4M1417 983h4M1417 999h4M1418 957h4M1418 958h4M1418 959h4M1418 975h4M1418 977h4M1418 1003h4M1418 1017h4M1419 988h4M1419 1014h4M1420 963h4M1420 970h4M1420 1030h4M1421 958h4M1421 960h4M1421 968h4M1421 977h4M1421 979h4M1421 996h4M1421 1016h4M1422 969h4M1422 970h4M1422 973h4M1422 978h4M1422 996h4M1422 999h4M1423 981h4M1423 999h4M1423 1003h4M1424 977h4M1424 980h4M1424 987h4M1424 1007h4M1425 966h4M1425 976h4M1425 987h4M1425 991h4M1425 995h4M1425 1001h4M1426 986h4M1426 987h4M1426 1004h4M1426 1022h4M1426 1075h4M1427 967h4M1427 978h4M1427 983h4M1427 995h4M1427 1001h4M1427 1013h4M1427 1016h4M1428 971h4M1428 983h4M1428 993h4M1428 995h4M1428 996h4M1429 979h4M1429 990h4M1429 1001h4M1430 965h4M1430 972h4M1430 984h4M1430 992h4M1430 1001h4M1430 1016h4M1431 954h4M1431 975h4M1431 977h4M1431 995h4M1431 1005h4M1431 1021h4M1432 977h4M1433 983h4M1433 997h4M1433 1006h4M1434 949h4M1434 954h4M1434 969h4M1434 976h4M1434 983h4M1435 951h4M1435 989h4M1435 990h4M1435 992h4M1435 1005h4M1435 1018h4M1436 993h4M1436 1013h4M1437 966h4M1437 971h4M1437 978h4M1437 989h4M1437 998h4M1437 1017h4M1438 964h4M1438 980h4M1438 992h4M1438 994h4M1438 1007h4M1438 1008h4M1439 975h4M1439 979h4M1440 956h4M1440 966h4M1440 980h4M1440 986h4M1440 1015h4M1441 967h4M1441 989h4M1441 1002h4M1441 1015h4M1443 985h4M1443 989h4M1443 991h4M1443 999h4M1443 1006h4M1444 1003h4M1444 1005h4M1444 1007h4M1445 1001h4M1445 1014h4M1445 1019h4M1446 977h4M1447 974h4M1447 977h4M1447 1005h4M1447 1007h4M1448 991h4M1449 956h4M1449 980h4M1449 1005h4M1450 966h4M1450 973h4M1450 993h4M1451 988h4M1451 991h4M1451 994h4M1451 1004h4M1452 984h4M1453 982h4M1454 972h4M1454 989h4M1454 1002h4M1455 960h4M1455 983h4M1455 985h4M1456 970h4M1456 978h4M1456 1012h4M1457 979h4M1457 998h4M1457 1009h4M1458 958h4M1458 969h4M1458 982h4M1459 977h4M1459 993h4M1460 970h4M1460 983h4M1460 996h4M1462 960h4M1463 971h4M1464 987h4M1464 990h4M1466 986h4M1467 995h4M1467 997h4M1468 983h4M1468 985h4M1469 952h4M1469 990h4M1470 1006h4M1471 970h4M1471 995h4M1472 1002h4M1473 1004h4M1474 996h4M1474 1009h4M1477 1004h4M1477 1057h4M1478 961h4M1480 983h4M1480 993h4M1482 980h4M1482 997h4M1483 971h4M1485 960h4M1486 1002h4M1487 1018h4M1492 973h4M1504 953h4M1554 967h4" stroke="#959595" stroke-width="4" fill="none"/>
<path d="M1198.2 984H1623" stroke="#000" stroke-width="1.4"/>
<path d="M1497.2 985.2 1499.2 985.2 1501.2 985.1 1503.2 985 1505.2 985 1507.2 984.9 1509.2 984.7 1511.2 984.6 1513.2 984.5 1515.2 984.3 1517.2 984.2 1519.2 984 1521.2 983.8 1523.2 983.7 1525.2 983.5 1527.2 983.3 1529.2 983.1 1531.2 982.8 1533.2 982.5 1535.2 982.2 1537.2 982 1539.2 981.7 1541.2 981.5 1543.2 981.2 1545.2 981.1 1547.2 981 1549.2 980.9 1551.2 980.8 1553.2 980.7 1555.2 980.6 1557.2 980.5 1559.2 980.5 1561.2 980.4 1563.2 980.2 1565.2 980.1 1567.2 979.8 1569.2 979.6 1571.2 979.3 1573.2 979 1575.2 978.7 1577.2 978.4 1579.2 978.1 1581.2 977.8 1583.2 977.5 1585.2 977.3 1587.2 977 1589.2 976.8 1591.2 976.5 1593.2 976.2 1595.2 976 1597.2 975.7 1599.2 975.4 1601.2 975.1 1603.2 974.9 1605.2 974.6 1607.2 974.3 1609.2 973.9 1611.2 973.6 1613.2 973.3 1615.2 973 1617.2 972.7 1619.2 972.3 1621.2 972 1623.2 971.6 1623.2 971.6 L1623.2 1016.4 1623.2 1016.4 1621.2 1015.8 1619.2 1015.2 1617.2 1014.6 1615.2 1014 1613.2 1013.4 1611.2 1012.9 1609.2 1012.3 1607.2 1011.7 1605.2 1011.2 1603.2 1010.6 1601.2 1010.1 1599.2 1009.5 1597.2 1009 1595.2 1008.5 1593.2 1008 1591.2 1007.4 1589.2 1006.9 1587.2 1006.4 1585.2 1005.8 1583.2 1005.3 1581.2 1004.7 1579.2 1004.2 1577.2 1003.6 1575.2 1003 1573.2 1002.4 1571.2 1001.9 1569.2 1001.4 1567.2 1000.9 1565.2 1000.5 1563.2 1000.1 1561.2 999.7 1559.2 999.4 1557.2 999.1 1555.2 998.8 1553.2 998.5 1551.2 998.3 1549.2 998 1547.2 997.7 1545.2 997.4 1543.2 997.1 1541.2 996.7 1539.2 996.3 1537.2 995.9 1535.2 995.4 1533.2 994.9 1531.2 994.5 1529.2 994.1 1527.2 993.7 1525.2 993.4 1523.2 993.2 1521.2 993 1519.2 992.8 1517.2 992.6 1515.2 992.5 1513.2 992.3 1511.2 992.2 1509.2 992.1 1507.2 991.9 1505.2 991.8 1503.2 991.7 1501.2 991.7 1499.2 991.6 1497.2 991.6Z" fill="#2e6f9e" fill-opacity="0.38"/>
<path d="M1197.2 990.8 1199.2 986.4 1201.2 982.2 1203.2 978.3 1205.2 974.6 1207.2 971.1 1209.2 968 1211.2 965.1 1213.2 962.3 1215.2 960.2 1217.2 958.9 1219.2 957.9 1221.2 957.1 1223.2 956.8 1225.2 957.1 1227.2 958 1229.2 959.1 1231.2 960.7 1233.2 963.3 1235.2 966.5 1237.2 969.4 1239.2 972.3 1241.2 975.3 1243.2 977.9 1245.2 980.2 1247.2 982.3 1249.2 984.2 1251.2 985.6 1253.2 986.5 1255.2 987.3 1257.2 988 1259.2 988.5 1261.2 988.8 1263.2 988.8 1265.2 988.8 1267.2 988.8 1269.2 988.8 1271.2 988.8 1273.2 988.8 1275.2 988.8 1277.2 988.8 1279.2 988.8 1281.2 988.8 1283.2 988.7 1285.2 988.6 1287.2 988.4 1289.2 988.2 1291.2 988.1 1293.2 987.9 1295.2 987.7 1297.2 987.5 1299.2 987.2 1301.2 987 1303.2 986.7 1305.2 986.5 1307.2 986.3 1309.2 986.1 1311.2 986 1313.2 986 1315.2 986 1317.2 986.1 1319.2 986.2 1321.2 986.3 1323.2 986.5 1325.2 986.6 1327.2 986.7 1329.2 986.9 1331.2 987.1 1333.2 987.3 1335.2 987.6 1337.2 987.8 1339.2 988.1 1341.2 988.4 1343.2 988.7 1345.2 989 1347.2 989.4 1349.2 989.8 1351.2 990.2 1353.2 990.7 1355.2 991 1357.2 991.3 1359.2 991.6 1361.2 991.7 1363.2 991.8 1365.2 991.9 1367.2 991.9 1369.2 992 1371.2 992 1373.2 991.8 1375.2 991.2 1377.2 990.5 1379.2 990 1381.2 990.1 1383.2 990.6 1385.2 991.3 1387.2 992.4 1389.2 994 1391.2 995.6 1393.2 996.7 1395.2 997.6 1397.2 998.4 1399.2 998.8 1401.2 998.7 1403.2 998.4 1405.2 997.9 1407.2 997.4 1409.2 996.7 1411.2 996.2 1413.2 995.6 1415.2 995.1 1417.2 994.5 1419.2 993.9 1421.2 993.4 1423.2 992.9 1425.2 992.6 1427.2 992.3 1429.2 992 1431.2 991.7 1433.2 991.5 1435.2 991.2 1437.2 991 1439.2 990.9 1441.2 990.7 1443.2 990.5 1445.2 990.3 1447.2 990.2 1449.2 990 1451.2 989.9 1453.2 989.8 1455.2 989.6 1457.2 989.5 1459.2 989.4 1461.2 989.3 1463.2 989.2 1465.2 989.1 1467.2 989.1 1469.2 989 1471.2 988.9 1473.2 988.8 1475.2 988.7 1477.2 988.7 1479.2 988.6 1481.2 988.6 1483.2 988.5 1485.2 988.5 1487.2 988.4 1489.2 988.4 1491.2 988.4 1493.2 988.4 1495.2 988.4 1497.2 988.4 1499.2 988.4 1501.2 988.4 1503.2 988.4 1505.2 988.4 1507.2 988.4 1509.2 988.4 1511.2 988.4 1513.2 988.4 1515.2 988.4 1517.2 988.4 1519.2 988.4 1521.2 988.4 1523.2 988.4 1525.2 988.5 1527.2 988.5 1529.2 988.6 1531.2 988.7 1533.2 988.7 1535.2 988.8 1537.2 988.9 1539.2 989 1541.2 989.1 1543.2 989.2 1545.2 989.3 1547.2 989.3 1549.2 989.4 1551.2 989.5 1553.2 989.6 1555.2 989.7 1557.2 989.8 1559.2 989.9 1561.2 990 1563.2 990.1 1565.2 990.3 1567.2 990.4 1569.2 990.5 1571.2 990.6 1573.2 990.7 1575.2 990.9 1577.2 991 1579.2 991.1 1581.2 991.3 1583.2 991.4 1585.2 991.6 1587.2 991.7 1589.2 991.8 1591.2 992 1593.2 992.1 1595.2 992.2 1597.2 992.4 1599.2 992.5 1601.2 992.6 1603.2 992.7 1605.2 992.9 1607.2 993 1609.2 993.1 1611.2 993.2 1613.2 993.4 1615.2 993.5 1617.2 993.6 1619.2 993.7 1621.2 993.9 1623.2 994 1623.2 994" stroke="#fb210e" stroke-width="7.9" stroke-linejoin="round" stroke-linecap="butt" fill="none"/>
</g>
<path d="M1197.1 740.7H1624.5" stroke="#2b2b2b" stroke-width="4" fill="none"/>
<path d="M1197.1 1227.2H1624.5" stroke="#2b2b2b" stroke-width="3.5" fill="none"/>
<path d="M1623 740.7V1227.2" stroke="#2b2b2b" stroke-width="3" fill="none"/>
<path d="M1198.2 740.7V1227.2" stroke="#1c1c1c" stroke-width="2.2" fill="none"/>
<path d="M1185.2 1227.5H1198.2M1185.2 1105.9H1198.2M1185.2 984.2H1198.2M1185.2 862.6H1198.2M1185.2 741H1198.2M1279.1 1227.2V1239.5M1368.6 1227.2V1239.5M1457.8 1227.2V1239.5M1547.7 1227.2V1239.5" stroke="#333333" stroke-width="3.6" fill="none"/>
<text x="1175.5" y="1241.8" font-size="38.7" text-anchor="end" fill="#474747">-10</text>
<text x="1175.5" y="1120.2" font-size="38.7" text-anchor="end" fill="#474747">-5</text>
<text x="1175.5" y="998.6" font-size="38.7" text-anchor="end" fill="#474747">0</text>
<text x="1175.5" y="876.9" font-size="38.7" text-anchor="end" fill="#474747">5</text>
<text x="1175.5" y="755.3" font-size="38.7" text-anchor="end" fill="#474747">10</text>
<text x="1279.1" y="1278.7" font-size="38.7" text-anchor="middle" fill="#474747">366</text>
<text x="1368.6" y="1278.7" font-size="38.7" text-anchor="middle" fill="#474747">368</text>
<text x="1457.8" y="1278.7" font-size="38.7" text-anchor="middle" fill="#474747">370</text>
<text x="1547.7" y="1278.7" font-size="38.7" text-anchor="middle" fill="#474747">372</text>
</g>
<g id="panel-h">
<clipPath id="cliph"><rect x="1725.2" y="740.7" width="425.2" height="486.5"/></clipPath>
<rect x="1725.2" y="656.1" width="425.2" height="84.6" fill="#d9d9d9" stroke="#2b2b2b" stroke-width="2.5"/>
<text x="1937.2" y="717.7" font-size="52.4" text-anchor="middle" fill="#1a1a1a">(h) Trend.T</text>
<g clip-path="url(#cliph)">
<path d="M1725.2 1166.4H2150.4M1725.2 1044.8H2150.4M1725.2 923.1H2150.4M1725.2 801.5H2150.4M1745.9 740.7V1227.2M1840.2 740.7V1227.2M1934.6 740.7V1227.2M2028.9 740.7V1227.2M2123.2 740.7V1227.2" stroke="#ebebeb" stroke-width="2" fill="none"/>
<path d="M1725.2 1227.2H2150.4M1725.2 1105.6H2150.4M1725.2 984H2150.4M1725.2 862.3H2150.4M1725.2 740.7H2150.4M1793.1 740.7V1227.2M1887.8 740.7V1227.2M1981.7 740.7V1227.2M2076.1 740.7V1227.2" stroke="#ebebeb" stroke-width="3.9" fill="none"/>
<path d="M1726 895h4M1747 888h4M1753 839h4M1775 947h4M1794 992h4M1795 980h4M1795 1009h4M1795 1025h4M1796 1000h4M1797 1000h4M1797 1012h4M1797 1028h4M1797 1033h4M1798 987h4M1798 999h4M1798 1017h4M1799 992h4M1800 1012h4M1801 1008h4M1801 1020h4M1802 984h4M1802 1008h4M1802 1018h4M1803 1009h4M1804 1042h4M1805 982h4M1805 1033h4M1805 1112h4M1805 1116h4M1806 994h4M1806 1010h4M1806 1012h4M1807 1004h4M1807 1012h4M1807 1022h4M1807 1090h4M1808 1073h4M1809 909h4M1810 812h4M1810 824h4M1810 827h4M1810 1040h4M1811 781h4M1811 1029h4M1811 1062h4M1812 869h4M1812 1003h4M1812 1054h4M1812 1061h4M1812 1073h4M1813 927h4M1813 1000h4M1813 1037h4M1813 1071h4M1813 1089h4M1813 1109h4M1814 1030h4M1815 1024h4M1815 1033h4M1815 1034h4M1815 1035h4M1815 1044h4M1815 1050h4M1816 1029h4M1816 1033h4M1816 1063h4M1817 996h4M1817 999h4M1817 1151h4M1818 1009h4M1818 1029h4M1818 1086h4M1818 1103h4M1818 1107h4M1818 1111h4M1819 1005h4M1819 1010h4M1819 1029h4M1819 1031h4M1819 1039h4M1819 1078h4M1820 993h4M1820 1029h4M1820 1033h4M1820 1038h4M1820 1052h4M1821 1012h4M1821 1038h4M1821 1042h4M1821 1045h4M1822 1000h4M1822 1008h4M1822 1012h4M1822 1017h4M1822 1032h4M1822 1041h4M1822 1062h4M1823 1000h4M1823 1010h4M1823 1017h4M1823 1024h4M1823 1031h4M1823 1033h4M1823 1041h4M1823 1053h4M1823 1094h4M1823 1095h4M1823 1203h4M1824 1002h4M1824 1027h4M1824 1033h4M1824 1039h4M1824 1051h4M1824 1060h4M1824 1094h4M1824 1118h4M1825 1009h4M1825 1020h4M1825 1022h4M1825 1025h4M1825 1035h4M1825 1038h4M1826 1022h4M1826 1083h4M1826 1109h4M1827 990h4M1827 1011h4M1827 1018h4M1827 1020h4M1827 1026h4M1827 1032h4M1827 1035h4M1827 1048h4M1827 1072h4M1827 1094h4M1828 1006h4M1828 1045h4M1828 1063h4M1828 1079h4M1828 1094h4M1828 1115h4M1829 1026h4M1829 1043h4M1829 1054h4M1829 1089h4M1830 949h4M1830 989h4M1830 992h4M1830 1003h4M1830 1005h4M1830 1016h4M1830 1017h4M1830 1018h4M1830 1025h4M1830 1038h4M1830 1047h4M1830 1085h4M1830 1127h4M1831 988h4M1831 1008h4M1831 1020h4M1831 1025h4M1831 1040h4M1831 1045h4M1831 1061h4M1831 1080h4M1831 1100h4M1831 1117h4M1832 998h4M1832 999h4M1832 1002h4M1832 1011h4M1832 1029h4M1832 1030h4M1832 1031h4M1832 1041h4M1832 1044h4M1832 1048h4M1832 1050h4M1832 1082h4M1833 1001h4M1833 1004h4M1833 1006h4M1833 1016h4M1833 1018h4M1833 1024h4M1833 1033h4M1833 1038h4M1833 1105h4M1834 976h4M1834 989h4M1834 991h4M1834 1002h4M1834 1004h4M1834 1028h4M1834 1037h4M1834 1063h4M1834 1064h4M1834 1074h4M1834 1098h4M1834 1125h4M1835 1012h4M1835 1016h4M1835 1023h4M1835 1026h4M1835 1067h4M1835 1085h4M1835 1087h4M1836 979h4M1836 996h4M1836 1017h4M1836 1021h4M1837 953h4M1837 970h4M1837 973h4M1837 985h4M1837 1017h4M1837 1036h4M1837 1046h4M1837 1053h4M1837 1057h4M1837 1061h4M1838 984h4M1838 996h4M1838 1003h4M1838 1008h4M1838 1012h4M1838 1023h4M1838 1030h4M1838 1034h4M1838 1041h4M1838 1043h4M1838 1045h4M1838 1050h4M1838 1053h4M1838 1122h4M1839 970h4M1839 991h4M1839 997h4M1839 1005h4M1839 1016h4M1839 1025h4M1839 1027h4M1839 1057h4M1839 1082h4M1839 1088h4M1839 1094h4M1839 1109h4M1840 957h4M1840 973h4M1840 988h4M1840 992h4M1840 995h4M1840 1010h4M1840 1013h4M1840 1014h4M1840 1015h4M1840 1017h4M1840 1019h4M1840 1020h4M1840 1022h4M1840 1023h4M1840 1025h4M1840 1026h4M1840 1040h4M1840 1041h4M1840 1042h4M1840 1043h4M1840 1044h4M1840 1063h4M1840 1101h4M1841 967h4M1841 977h4M1841 983h4M1841 992h4M1841 998h4M1841 1005h4M1841 1008h4M1841 1011h4M1841 1013h4M1841 1014h4M1841 1020h4M1841 1024h4M1841 1033h4M1841 1053h4M1841 1061h4M1841 1073h4M1842 960h4M1842 961h4M1842 964h4M1842 987h4M1842 997h4M1842 998h4M1842 1008h4M1842 1009h4M1842 1010h4M1842 1011h4M1842 1012h4M1842 1013h4M1842 1018h4M1842 1020h4M1842 1025h4M1842 1026h4M1842 1027h4M1842 1029h4M1842 1034h4M1842 1037h4M1842 1048h4M1842 1049h4M1842 1051h4M1842 1079h4M1843 985h4M1843 996h4M1843 997h4M1843 999h4M1843 1002h4M1843 1003h4M1843 1004h4M1843 1007h4M1843 1008h4M1843 1012h4M1843 1013h4M1843 1018h4M1843 1019h4M1843 1020h4M1843 1029h4M1843 1031h4M1843 1033h4M1843 1041h4M1843 1088h4M1844 958h4M1844 987h4M1844 1000h4M1844 1001h4M1844 1004h4M1844 1007h4M1844 1010h4M1844 1012h4M1844 1013h4M1844 1018h4M1844 1021h4M1844 1022h4M1844 1027h4M1844 1028h4M1844 1036h4M1844 1043h4M1845 960h4M1845 963h4M1845 967h4M1845 971h4M1845 975h4M1845 985h4M1845 991h4M1845 999h4M1845 1000h4M1845 1002h4M1845 1006h4M1845 1007h4M1845 1009h4M1845 1010h4M1845 1013h4M1845 1015h4M1845 1016h4M1845 1017h4M1845 1018h4M1845 1020h4M1845 1024h4M1845 1033h4M1846 952h4M1846 953h4M1846 955h4M1846 960h4M1846 969h4M1846 977h4M1846 980h4M1846 982h4M1846 991h4M1846 999h4M1846 1000h4M1846 1001h4M1846 1002h4M1846 1004h4M1846 1005h4M1846 1006h4M1846 1008h4M1846 1009h4M1846 1017h4M1846 1023h4M1846 1032h4M1846 1040h4M1846 1047h4M1846 1054h4M1846 1071h4M1847 966h4M1847 972h4M1847 983h4M1847 995h4M1847 1000h4M1847 1006h4M1847 1011h4M1847 1013h4M1847 1017h4M1847 1019h4M1847 1020h4M1847 1021h4M1847 1022h4M1847 1026h4M1847 1027h4M1847 1030h4M1847 1032h4M1847 1034h4M1847 1038h4M1847 1039h4M1848 954h4M1848 955h4M1848 958h4M1848 978h4M1848 981h4M1848 994h4M1848 997h4M1848 999h4M1848 1000h4M1848 1001h4M1848 1003h4M1848 1006h4M1848 1011h4M1848 1015h4M1848 1016h4M1848 1018h4M1848 1020h4M1848 1021h4M1848 1028h4M1848 1034h4M1848 1044h4M1848 1050h4M1848 1068h4M1848 1099h4M1848 1129h4M1849 949h4M1849 964h4M1849 965h4M1849 968h4M1849 971h4M1849 975h4M1849 978h4M1849 990h4M1849 991h4M1849 997h4M1849 1002h4M1849 1005h4M1849 1006h4M1849 1008h4M1849 1012h4M1849 1013h4M1849 1015h4M1849 1023h4M1849 1025h4M1849 1040h4M1849 1048h4M1849 1063h4M1849 1075h4M1849 1116h4M1849 1131h4M1850 943h4M1850 971h4M1850 972h4M1850 981h4M1850 983h4M1850 993h4M1850 995h4M1850 998h4M1850 1000h4M1850 1002h4M1850 1008h4M1850 1012h4M1850 1018h4M1850 1027h4M1850 1033h4M1850 1036h4M1850 1045h4M1851 948h4M1851 951h4M1851 955h4M1851 959h4M1851 971h4M1851 992h4M1851 995h4M1851 997h4M1851 1003h4M1851 1005h4M1851 1008h4M1851 1011h4M1851 1014h4M1851 1029h4M1851 1039h4M1851 1041h4M1851 1043h4M1851 1047h4M1851 1051h4M1852 948h4M1852 949h4M1852 953h4M1852 957h4M1852 962h4M1852 974h4M1852 979h4M1852 981h4M1852 992h4M1852 994h4M1852 1000h4M1852 1001h4M1852 1002h4M1852 1003h4M1852 1007h4M1852 1015h4M1852 1025h4M1852 1083h4M1853 943h4M1853 954h4M1853 955h4M1853 956h4M1853 977h4M1853 978h4M1853 980h4M1853 983h4M1853 989h4M1853 990h4M1853 992h4M1853 997h4M1853 998h4M1853 1002h4M1853 1006h4M1853 1010h4M1853 1012h4M1853 1019h4M1853 1020h4M1853 1039h4M1854 939h4M1854 941h4M1854 946h4M1854 948h4M1854 954h4M1854 960h4M1854 961h4M1854 962h4M1854 965h4M1854 966h4M1854 970h4M1854 972h4M1854 976h4M1854 983h4M1854 986h4M1854 992h4M1854 995h4M1854 996h4M1854 1001h4M1854 1002h4M1854 1005h4M1854 1006h4M1854 1009h4M1854 1015h4M1854 1020h4M1854 1027h4M1854 1036h4M1854 1043h4M1854 1054h4M1855 945h4M1855 969h4M1855 970h4M1855 972h4M1855 984h4M1855 993h4M1855 995h4M1855 998h4M1855 1000h4M1855 1002h4M1855 1019h4M1855 1022h4M1855 1043h4M1855 1057h4M1856 950h4M1856 975h4M1856 976h4M1856 979h4M1856 982h4M1856 984h4M1856 998h4M1856 1000h4M1856 1002h4M1856 1004h4M1856 1006h4M1856 1013h4M1856 1022h4M1856 1034h4M1856 1045h4M1857 943h4M1857 950h4M1857 952h4M1857 953h4M1857 963h4M1857 964h4M1857 971h4M1857 973h4M1857 977h4M1857 978h4M1857 981h4M1857 983h4M1857 986h4M1857 987h4M1857 988h4M1857 991h4M1857 997h4M1857 1000h4M1857 1001h4M1857 1004h4M1857 1010h4M1857 1013h4M1857 1014h4M1857 1016h4M1857 1017h4M1857 1018h4M1857 1019h4M1857 1039h4M1857 1041h4M1857 1049h4M1857 1056h4M1858 947h4M1858 959h4M1858 960h4M1858 966h4M1858 970h4M1858 978h4M1858 984h4M1858 985h4M1858 987h4M1858 991h4M1858 997h4M1858 1003h4M1858 1004h4M1858 1005h4M1858 1007h4M1858 1018h4M1858 1021h4M1858 1027h4M1858 1035h4M1858 1041h4M1858 1054h4M1859 950h4M1859 951h4M1859 975h4M1859 980h4M1859 985h4M1859 988h4M1859 990h4M1859 991h4M1859 994h4M1859 996h4M1859 997h4M1859 998h4M1859 1006h4M1859 1023h4M1859 1032h4M1859 1054h4M1859 1059h4M1860 954h4M1860 955h4M1860 961h4M1860 967h4M1860 985h4M1860 986h4M1860 991h4M1860 992h4M1860 994h4M1860 999h4M1860 1000h4M1860 1010h4M1860 1015h4M1860 1022h4M1860 1039h4M1860 1055h4M1860 1064h4M1860 1065h4M1861 948h4M1861 951h4M1861 957h4M1861 964h4M1861 976h4M1861 980h4M1861 982h4M1861 983h4M1861 985h4M1861 989h4M1861 990h4M1861 992h4M1861 994h4M1861 995h4M1861 998h4M1861 1000h4M1861 1009h4M1861 1010h4M1861 1011h4M1861 1022h4M1861 1031h4M1861 1039h4M1861 1044h4M1862 937h4M1862 952h4M1862 954h4M1862 965h4M1862 972h4M1862 973h4M1862 982h4M1862 984h4M1862 985h4M1862 989h4M1862 992h4M1862 993h4M1862 997h4M1862 998h4M1862 1003h4M1862 1005h4M1862 1021h4M1862 1022h4M1862 1023h4M1862 1027h4M1862 1030h4M1862 1031h4M1863 944h4M1863 945h4M1863 951h4M1863 956h4M1863 964h4M1863 968h4M1863 973h4M1863 984h4M1863 987h4M1863 990h4M1863 992h4M1863 995h4M1863 996h4M1863 1000h4M1863 1001h4M1863 1002h4M1863 1017h4M1863 1020h4M1863 1063h4M1864 949h4M1864 958h4M1864 961h4M1864 964h4M1864 967h4M1864 969h4M1864 973h4M1864 974h4M1864 981h4M1864 982h4M1864 983h4M1864 993h4M1864 995h4M1864 1019h4M1864 1021h4M1864 1025h4M1864 1026h4M1864 1027h4M1864 1036h4M1864 1038h4M1864 1045h4M1865 952h4M1865 957h4M1865 960h4M1865 962h4M1865 963h4M1865 964h4M1865 969h4M1865 972h4M1865 974h4M1865 978h4M1865 981h4M1865 987h4M1865 988h4M1865 996h4M1865 1006h4M1865 1007h4M1865 1018h4M1865 1026h4M1865 1044h4M1866 938h4M1866 940h4M1866 945h4M1866 946h4M1866 948h4M1866 967h4M1866 975h4M1866 982h4M1866 985h4M1866 986h4M1866 991h4M1866 995h4M1866 999h4M1866 1003h4M1866 1019h4M1866 1031h4M1866 1047h4M1867 948h4M1867 952h4M1867 953h4M1867 975h4M1867 976h4M1867 977h4M1867 979h4M1867 989h4M1867 990h4M1867 996h4M1867 998h4M1867 1001h4M1867 1002h4M1867 1007h4M1867 1010h4M1867 1032h4M1868 947h4M1868 952h4M1868 958h4M1868 966h4M1868 976h4M1868 977h4M1868 978h4M1868 980h4M1868 987h4M1868 990h4M1868 997h4M1868 1011h4M1868 1040h4M1868 1041h4M1869 953h4M1869 963h4M1869 964h4M1869 971h4M1869 975h4M1869 981h4M1869 986h4M1869 988h4M1869 989h4M1869 990h4M1869 994h4M1869 996h4M1869 1001h4M1869 1021h4M1870 930h4M1870 948h4M1870 949h4M1870 955h4M1870 964h4M1870 974h4M1870 977h4M1870 978h4M1870 981h4M1870 982h4M1870 983h4M1870 985h4M1870 988h4M1870 991h4M1870 1002h4M1870 1011h4M1870 1013h4M1870 1015h4M1870 1030h4M1870 1057h4M1870 1069h4M1871 900h4M1871 964h4M1871 966h4M1871 967h4M1871 968h4M1871 976h4M1871 978h4M1871 979h4M1871 981h4M1871 985h4M1871 987h4M1871 988h4M1871 994h4M1871 998h4M1871 999h4M1871 1004h4M1871 1006h4M1871 1022h4M1871 1032h4M1871 1036h4M1871 1061h4M1872 947h4M1872 954h4M1872 955h4M1872 957h4M1872 962h4M1872 969h4M1872 970h4M1872 973h4M1872 974h4M1872 976h4M1872 979h4M1872 987h4M1872 992h4M1872 996h4M1872 1016h4M1872 1028h4M1872 1048h4M1873 891h4M1873 955h4M1873 957h4M1873 968h4M1873 970h4M1873 973h4M1873 976h4M1873 978h4M1873 979h4M1873 988h4M1873 989h4M1873 990h4M1873 991h4M1873 994h4M1873 995h4M1873 997h4M1873 1004h4M1873 1009h4M1873 1016h4M1873 1018h4M1873 1027h4M1873 1043h4M1873 1047h4M1874 940h4M1874 955h4M1874 957h4M1874 972h4M1874 976h4M1874 985h4M1874 1001h4M1874 1020h4M1874 1057h4M1875 930h4M1875 962h4M1875 965h4M1875 966h4M1875 969h4M1875 975h4M1875 982h4M1875 984h4M1875 988h4M1875 989h4M1875 993h4M1875 999h4M1875 1017h4M1875 1028h4M1876 937h4M1876 945h4M1876 946h4M1876 949h4M1876 953h4M1876 955h4M1876 961h4M1876 962h4M1876 963h4M1876 964h4M1876 968h4M1876 970h4M1876 971h4M1876 972h4M1876 974h4M1876 975h4M1876 978h4M1876 981h4M1876 989h4M1876 990h4M1876 1002h4M1876 1008h4M1876 1009h4M1876 1011h4M1876 1020h4M1876 1021h4M1876 1032h4M1876 1039h4M1876 1040h4M1876 1048h4M1877 940h4M1877 944h4M1877 946h4M1877 960h4M1877 965h4M1877 967h4M1877 968h4M1877 971h4M1877 976h4M1877 987h4M1877 990h4M1877 993h4M1877 999h4M1877 1001h4M1877 1023h4M1877 1058h4M1878 911h4M1878 943h4M1878 950h4M1878 954h4M1878 963h4M1878 968h4M1878 969h4M1878 983h4M1878 984h4M1878 992h4M1878 996h4M1878 998h4M1878 1000h4M1878 1003h4M1878 1006h4M1878 1009h4M1879 940h4M1879 953h4M1879 955h4M1879 956h4M1879 957h4M1879 961h4M1879 971h4M1879 981h4M1879 984h4M1879 987h4M1879 991h4M1879 995h4M1879 1013h4M1879 1014h4M1879 1063h4M1880 914h4M1880 943h4M1880 951h4M1880 959h4M1880 962h4M1880 969h4M1880 972h4M1880 973h4M1880 974h4M1880 976h4M1880 979h4M1880 981h4M1880 983h4M1880 984h4M1880 986h4M1880 987h4M1880 989h4M1880 991h4M1880 993h4M1880 1009h4M1881 924h4M1881 945h4M1881 948h4M1881 949h4M1881 950h4M1881 952h4M1881 956h4M1881 958h4M1881 960h4M1881 963h4M1881 966h4M1881 968h4M1881 970h4M1881 974h4M1881 976h4M1881 977h4M1881 978h4M1881 979h4M1881 980h4M1881 981h4M1881 983h4M1881 990h4M1881 991h4M1881 995h4M1881 998h4M1881 999h4M1881 1000h4M1881 1014h4M1881 1029h4M1881 1045h4M1882 917h4M1882 934h4M1882 947h4M1882 954h4M1882 956h4M1882 961h4M1882 965h4M1882 970h4M1882 972h4M1882 973h4M1882 974h4M1882 979h4M1882 983h4M1882 984h4M1882 985h4M1882 988h4M1882 990h4M1882 991h4M1882 992h4M1882 993h4M1882 995h4M1882 1001h4M1882 1004h4M1882 1061h4M1883 953h4M1883 956h4M1883 958h4M1883 968h4M1883 969h4M1883 972h4M1883 978h4M1883 981h4M1883 983h4M1883 986h4M1883 990h4M1883 1001h4M1883 1003h4M1883 1020h4M1883 1034h4M1884 927h4M1884 934h4M1884 943h4M1884 944h4M1884 946h4M1884 954h4M1884 969h4M1884 970h4M1884 971h4M1884 973h4M1884 977h4M1884 978h4M1884 983h4M1884 985h4M1884 986h4M1884 996h4M1884 998h4M1884 1006h4M1885 942h4M1885 946h4M1885 948h4M1885 950h4M1885 953h4M1885 956h4M1885 963h4M1885 965h4M1885 967h4M1885 970h4M1885 984h4M1885 988h4M1885 992h4M1885 998h4M1885 1001h4M1885 1018h4M1886 929h4M1886 949h4M1886 958h4M1886 960h4M1886 961h4M1886 962h4M1886 963h4M1886 966h4M1886 967h4M1886 969h4M1886 970h4M1886 975h4M1886 978h4M1886 979h4M1886 981h4M1886 984h4M1886 986h4M1886 987h4M1886 988h4M1886 996h4M1886 999h4M1886 1001h4M1887 931h4M1887 933h4M1887 941h4M1887 945h4M1887 947h4M1887 953h4M1887 958h4M1887 960h4M1887 963h4M1887 964h4M1887 967h4M1887 971h4M1887 972h4M1887 976h4M1887 980h4M1887 983h4M1887 986h4M1887 989h4M1887 1004h4M1887 1009h4M1887 1022h4M1888 930h4M1888 935h4M1888 941h4M1888 942h4M1888 944h4M1888 946h4M1888 952h4M1888 953h4M1888 957h4M1888 958h4M1888 963h4M1888 964h4M1888 969h4M1888 972h4M1888 975h4M1888 980h4M1888 986h4M1888 991h4M1888 994h4M1888 998h4M1888 1012h4M1889 909h4M1889 923h4M1889 930h4M1889 932h4M1889 942h4M1889 945h4M1889 946h4M1889 947h4M1889 948h4M1889 951h4M1889 953h4M1889 957h4M1889 958h4M1889 963h4M1889 964h4M1889 965h4M1889 966h4M1889 969h4M1889 970h4M1889 977h4M1889 983h4M1889 985h4M1889 986h4M1889 988h4M1889 1043h4M1890 936h4M1890 938h4M1890 939h4M1890 940h4M1890 942h4M1890 943h4M1890 947h4M1890 949h4M1890 950h4M1890 955h4M1890 958h4M1890 961h4M1890 962h4M1890 963h4M1890 964h4M1890 967h4M1890 971h4M1890 983h4M1890 989h4M1890 999h4M1890 1049h4M1891 901h4M1891 925h4M1891 932h4M1891 933h4M1891 935h4M1891 937h4M1891 938h4M1891 940h4M1891 941h4M1891 942h4M1891 943h4M1891 946h4M1891 947h4M1891 948h4M1891 950h4M1891 952h4M1891 955h4M1891 959h4M1891 960h4M1891 962h4M1891 965h4M1891 966h4M1891 968h4M1891 970h4M1891 971h4M1891 973h4M1891 986h4M1891 995h4M1892 892h4M1892 936h4M1892 939h4M1892 940h4M1892 942h4M1892 943h4M1892 946h4M1892 948h4M1892 949h4M1892 951h4M1892 953h4M1892 956h4M1892 957h4M1892 958h4M1892 959h4M1892 964h4M1892 965h4M1892 968h4M1892 969h4M1892 972h4M1892 974h4M1892 975h4M1892 983h4M1892 985h4M1892 987h4M1892 989h4M1892 991h4M1892 994h4M1893 930h4M1893 933h4M1893 939h4M1893 945h4M1893 946h4M1893 947h4M1893 954h4M1893 955h4M1893 959h4M1893 962h4M1893 963h4M1893 964h4M1893 966h4M1893 970h4M1893 973h4M1893 983h4M1893 989h4M1893 1039h4M1894 915h4M1894 925h4M1894 929h4M1894 934h4M1894 938h4M1894 943h4M1894 947h4M1894 952h4M1894 953h4M1894 957h4M1894 959h4M1894 961h4M1894 963h4M1894 964h4M1894 965h4M1894 967h4M1894 972h4M1894 974h4M1894 977h4M1894 979h4M1894 980h4M1894 993h4M1894 996h4M1895 928h4M1895 936h4M1895 945h4M1895 946h4M1895 949h4M1895 953h4M1895 956h4M1895 957h4M1895 961h4M1895 966h4M1895 970h4M1895 971h4M1895 978h4M1895 982h4M1895 991h4M1895 997h4M1896 922h4M1896 933h4M1896 935h4M1896 941h4M1896 954h4M1896 957h4M1896 958h4M1896 960h4M1896 962h4M1896 964h4M1896 966h4M1896 972h4M1896 977h4M1896 986h4M1896 989h4M1897 917h4M1897 932h4M1897 938h4M1897 943h4M1897 949h4M1897 953h4M1897 955h4M1897 957h4M1897 959h4M1897 961h4M1897 962h4M1897 964h4M1897 965h4M1897 967h4M1897 969h4M1897 971h4M1897 973h4M1897 974h4M1897 981h4M1897 993h4M1897 999h4M1897 1003h4M1897 1007h4M1898 934h4M1898 936h4M1898 939h4M1898 940h4M1898 941h4M1898 943h4M1898 945h4M1898 950h4M1898 952h4M1898 953h4M1898 957h4M1898 960h4M1898 965h4M1898 967h4M1898 969h4M1898 970h4M1898 971h4M1898 973h4M1898 986h4M1898 989h4M1898 992h4M1899 934h4M1899 943h4M1899 945h4M1899 951h4M1899 952h4M1899 954h4M1899 956h4M1899 960h4M1899 966h4M1899 967h4M1899 971h4M1899 973h4M1899 981h4M1899 986h4M1899 993h4M1899 997h4M1899 998h4M1899 1001h4M1900 877h4M1900 931h4M1900 933h4M1900 940h4M1900 947h4M1900 951h4M1900 956h4M1900 960h4M1900 962h4M1900 967h4M1900 968h4M1900 977h4M1900 990h4M1900 991h4M1900 994h4M1900 1000h4M1900 1001h4M1901 930h4M1901 932h4M1901 939h4M1901 941h4M1901 956h4M1901 962h4M1901 967h4M1901 970h4M1901 971h4M1901 972h4M1901 975h4M1901 977h4M1901 978h4M1901 984h4M1901 993h4M1901 998h4M1901 1000h4M1902 931h4M1902 934h4M1902 936h4M1902 938h4M1902 940h4M1902 954h4M1902 957h4M1902 961h4M1902 965h4M1902 970h4M1902 976h4M1902 991h4M1902 992h4M1902 999h4M1902 1001h4M1903 912h4M1903 914h4M1903 938h4M1903 939h4M1903 941h4M1903 944h4M1903 947h4M1903 951h4M1903 957h4M1903 958h4M1903 959h4M1903 960h4M1903 962h4M1903 966h4M1903 970h4M1903 971h4M1903 975h4M1903 980h4M1903 983h4M1903 989h4M1904 929h4M1904 932h4M1904 935h4M1904 939h4M1904 954h4M1904 956h4M1904 957h4M1904 958h4M1904 959h4M1904 960h4M1904 963h4M1904 964h4M1904 971h4M1904 975h4M1904 992h4M1904 993h4M1904 998h4M1904 1002h4M1905 936h4M1905 950h4M1905 951h4M1905 952h4M1905 953h4M1905 957h4M1905 961h4M1905 962h4M1905 964h4M1905 966h4M1905 967h4M1905 970h4M1905 971h4M1905 972h4M1905 973h4M1905 976h4M1905 978h4M1905 981h4M1905 982h4M1905 983h4M1905 985h4M1905 994h4M1905 997h4M1906 928h4M1906 931h4M1906 937h4M1906 938h4M1906 941h4M1906 950h4M1906 956h4M1906 961h4M1906 962h4M1906 966h4M1906 968h4M1906 969h4M1906 984h4M1906 989h4M1906 990h4M1906 996h4M1907 919h4M1907 935h4M1907 942h4M1907 948h4M1907 950h4M1907 953h4M1907 955h4M1907 957h4M1907 958h4M1907 959h4M1907 961h4M1907 962h4M1907 966h4M1907 972h4M1907 981h4M1907 986h4M1907 989h4M1907 990h4M1907 993h4M1907 999h4M1907 1003h4M1908 920h4M1908 926h4M1908 929h4M1908 943h4M1908 944h4M1908 949h4M1908 955h4M1908 962h4M1908 963h4M1908 965h4M1908 967h4M1908 969h4M1908 975h4M1908 978h4M1908 986h4M1908 988h4M1908 999h4M1908 1003h4M1909 937h4M1909 946h4M1909 947h4M1909 948h4M1909 952h4M1909 953h4M1909 960h4M1909 963h4M1909 964h4M1909 965h4M1909 967h4M1909 969h4M1909 975h4M1909 978h4M1909 980h4M1909 984h4M1909 989h4M1909 991h4M1909 995h4M1909 1004h4M1910 937h4M1910 938h4M1910 944h4M1910 947h4M1910 951h4M1910 953h4M1910 957h4M1910 962h4M1910 967h4M1910 968h4M1910 971h4M1910 973h4M1910 980h4M1910 982h4M1910 983h4M1910 990h4M1910 997h4M1910 1000h4M1911 915h4M1911 935h4M1911 947h4M1911 952h4M1911 955h4M1911 958h4M1911 960h4M1911 963h4M1911 971h4M1911 984h4M1911 987h4M1911 995h4M1912 930h4M1912 941h4M1912 942h4M1912 943h4M1912 953h4M1912 956h4M1912 960h4M1912 967h4M1912 972h4M1912 973h4M1912 974h4M1912 975h4M1912 979h4M1912 984h4M1912 992h4M1912 1000h4M1912 1001h4M1912 1003h4M1913 914h4M1913 938h4M1913 939h4M1913 940h4M1913 942h4M1913 946h4M1913 951h4M1913 954h4M1913 955h4M1913 956h4M1913 957h4M1913 961h4M1913 962h4M1913 968h4M1913 975h4M1913 976h4M1913 977h4M1913 979h4M1913 980h4M1913 982h4M1913 983h4M1913 987h4M1913 988h4M1913 993h4M1913 1000h4M1914 914h4M1914 945h4M1914 953h4M1914 954h4M1914 957h4M1914 961h4M1914 965h4M1914 966h4M1914 968h4M1914 970h4M1914 971h4M1914 972h4M1914 973h4M1914 978h4M1914 979h4M1914 982h4M1914 993h4M1915 923h4M1915 928h4M1915 936h4M1915 939h4M1915 940h4M1915 943h4M1915 946h4M1915 947h4M1915 952h4M1915 956h4M1915 960h4M1915 963h4M1915 968h4M1915 969h4M1915 970h4M1915 975h4M1915 976h4M1915 978h4M1915 979h4M1915 988h4M1916 937h4M1916 943h4M1916 949h4M1916 957h4M1916 958h4M1916 959h4M1916 961h4M1916 964h4M1916 965h4M1916 969h4M1916 971h4M1916 972h4M1916 973h4M1916 975h4M1916 976h4M1916 977h4M1916 980h4M1916 981h4M1916 986h4M1916 987h4M1916 993h4M1916 998h4M1916 999h4M1917 929h4M1917 939h4M1917 940h4M1917 947h4M1917 948h4M1917 952h4M1917 965h4M1917 969h4M1917 970h4M1917 973h4M1917 974h4M1917 975h4M1917 976h4M1917 977h4M1917 978h4M1917 981h4M1917 985h4M1917 992h4M1918 924h4M1918 944h4M1918 945h4M1918 947h4M1918 949h4M1918 953h4M1918 954h4M1918 960h4M1918 961h4M1918 965h4M1918 966h4M1918 967h4M1918 969h4M1918 971h4M1918 982h4M1918 983h4M1918 985h4M1918 989h4M1918 991h4M1918 999h4M1919 924h4M1919 932h4M1919 935h4M1919 942h4M1919 945h4M1919 952h4M1919 961h4M1919 964h4M1919 965h4M1919 972h4M1919 973h4M1919 976h4M1919 981h4M1919 986h4M1919 1000h4M1920 914h4M1920 926h4M1920 930h4M1920 945h4M1920 948h4M1920 951h4M1920 958h4M1920 959h4M1920 960h4M1920 961h4M1920 962h4M1920 963h4M1920 968h4M1920 969h4M1920 971h4M1920 975h4M1920 976h4M1920 978h4M1920 980h4M1920 981h4M1920 982h4M1920 985h4M1920 988h4M1920 994h4M1920 1022h4M1921 931h4M1921 932h4M1921 936h4M1921 942h4M1921 946h4M1921 949h4M1921 959h4M1921 962h4M1921 964h4M1921 970h4M1921 971h4M1921 973h4M1921 974h4M1921 976h4M1921 979h4M1921 983h4M1921 988h4M1921 1015h4M1922 921h4M1922 934h4M1922 946h4M1922 964h4M1922 969h4M1922 970h4M1922 971h4M1922 974h4M1922 980h4M1922 981h4M1922 983h4M1922 984h4M1922 985h4M1922 986h4M1922 990h4M1922 991h4M1922 995h4M1922 1010h4M1923 911h4M1923 928h4M1923 932h4M1923 935h4M1923 945h4M1923 948h4M1923 949h4M1923 950h4M1923 952h4M1923 957h4M1923 962h4M1923 965h4M1923 966h4M1923 972h4M1923 982h4M1923 983h4M1923 987h4M1923 994h4M1923 997h4M1923 999h4M1923 1003h4M1923 1005h4M1924 914h4M1924 936h4M1924 949h4M1924 952h4M1924 953h4M1924 958h4M1924 961h4M1924 964h4M1924 967h4M1924 969h4M1924 971h4M1924 974h4M1924 976h4M1924 977h4M1924 981h4M1924 987h4M1924 993h4M1924 994h4M1924 995h4M1925 933h4M1925 947h4M1925 951h4M1925 964h4M1925 966h4M1925 968h4M1925 974h4M1925 975h4M1925 978h4M1925 981h4M1925 983h4M1925 989h4M1925 996h4M1926 935h4M1926 942h4M1926 949h4M1926 953h4M1926 956h4M1926 957h4M1926 959h4M1926 966h4M1926 967h4M1926 969h4M1926 970h4M1926 971h4M1926 972h4M1926 976h4M1926 977h4M1926 978h4M1926 981h4M1926 982h4M1926 991h4M1926 994h4M1927 923h4M1927 942h4M1927 943h4M1927 951h4M1927 954h4M1927 959h4M1927 960h4M1927 961h4M1927 968h4M1927 970h4M1927 971h4M1927 973h4M1927 974h4M1927 975h4M1927 978h4M1927 983h4M1927 985h4M1927 986h4M1927 989h4M1927 997h4M1928 912h4M1928 940h4M1928 943h4M1928 950h4M1928 955h4M1928 960h4M1928 961h4M1928 963h4M1928 964h4M1928 968h4M1928 969h4M1928 975h4M1928 976h4M1928 980h4M1928 983h4M1928 984h4M1928 989h4M1928 990h4M1928 994h4M1928 1006h4M1929 939h4M1929 944h4M1929 945h4M1929 946h4M1929 950h4M1929 953h4M1929 955h4M1929 958h4M1929 961h4M1929 963h4M1929 965h4M1929 968h4M1929 970h4M1929 971h4M1929 975h4M1929 978h4M1929 980h4M1929 985h4M1929 986h4M1929 994h4M1929 1002h4M1930 950h4M1930 956h4M1930 958h4M1930 959h4M1930 968h4M1930 969h4M1930 971h4M1930 973h4M1930 979h4M1930 984h4M1930 985h4M1930 986h4M1930 990h4M1930 993h4M1930 994h4M1931 936h4M1931 943h4M1931 944h4M1931 958h4M1931 959h4M1931 967h4M1931 971h4M1931 973h4M1931 975h4M1931 976h4M1931 978h4M1931 980h4M1931 992h4M1932 945h4M1932 947h4M1932 949h4M1932 952h4M1932 953h4M1932 957h4M1932 960h4M1932 961h4M1932 965h4M1932 967h4M1932 978h4M1932 980h4M1932 983h4M1932 984h4M1932 991h4M1932 997h4M1932 1003h4M1933 936h4M1933 941h4M1933 948h4M1933 951h4M1933 952h4M1933 960h4M1933 964h4M1933 968h4M1933 972h4M1933 973h4M1933 978h4M1933 980h4M1933 983h4M1933 985h4M1933 986h4M1933 987h4M1933 990h4M1933 992h4M1933 999h4M1933 1010h4M1934 938h4M1934 947h4M1934 951h4M1934 953h4M1934 956h4M1934 959h4M1934 965h4M1934 969h4M1934 973h4M1934 975h4M1934 977h4M1934 978h4M1934 979h4M1934 980h4M1934 981h4M1934 987h4M1935 945h4M1935 946h4M1935 947h4M1935 957h4M1935 959h4M1935 968h4M1935 970h4M1935 972h4M1935 976h4M1935 978h4M1935 979h4M1935 981h4M1935 983h4M1935 987h4M1935 988h4M1935 990h4M1936 926h4M1936 948h4M1936 951h4M1936 958h4M1936 960h4M1936 961h4M1936 966h4M1936 968h4M1936 970h4M1936 972h4M1936 978h4M1936 980h4M1936 982h4M1936 989h4M1937 941h4M1937 942h4M1937 948h4M1937 952h4M1937 958h4M1937 961h4M1937 964h4M1937 966h4M1937 967h4M1937 968h4M1937 969h4M1937 975h4M1937 978h4M1937 981h4M1937 985h4M1937 986h4M1938 950h4M1938 956h4M1938 961h4M1938 963h4M1938 965h4M1938 967h4M1938 973h4M1938 974h4M1938 978h4M1938 980h4M1938 982h4M1938 983h4M1938 988h4M1938 996h4M1938 1003h4M1938 1004h4M1939 942h4M1939 945h4M1939 954h4M1939 955h4M1939 961h4M1939 972h4M1939 976h4M1939 978h4M1939 986h4M1939 994h4M1940 949h4M1940 956h4M1940 959h4M1940 967h4M1940 977h4M1940 978h4M1940 983h4M1940 993h4M1941 948h4M1941 952h4M1941 955h4M1941 958h4M1941 966h4M1941 968h4M1941 969h4M1941 972h4M1941 974h4M1941 979h4M1941 985h4M1942 949h4M1942 952h4M1942 960h4M1942 969h4M1942 972h4M1942 975h4M1942 977h4M1942 978h4M1942 979h4M1942 981h4M1942 982h4M1942 983h4M1943 954h4M1943 956h4M1943 960h4M1943 963h4M1943 968h4M1943 970h4M1943 973h4M1943 974h4M1943 976h4M1943 977h4M1943 984h4M1943 994h4M1944 939h4M1944 954h4M1944 955h4M1944 961h4M1944 962h4M1944 964h4M1944 965h4M1944 975h4M1944 977h4M1944 978h4M1944 982h4M1945 938h4M1945 959h4M1945 963h4M1945 976h4M1945 977h4M1945 978h4M1945 980h4M1945 981h4M1946 952h4M1946 963h4M1946 970h4M1946 972h4M1946 979h4M1946 981h4M1946 983h4M1947 960h4M1947 968h4M1947 969h4M1947 971h4M1947 975h4M1947 978h4M1947 987h4M1947 989h4M1947 990h4M1947 994h4M1947 998h4M1948 954h4M1948 959h4M1948 960h4M1948 974h4M1948 977h4M1948 982h4M1948 984h4M1948 992h4M1948 993h4M1949 860h4M1949 957h4M1949 966h4M1949 968h4M1949 970h4M1949 971h4M1949 972h4M1949 973h4M1949 979h4M1949 980h4M1949 985h4M1949 987h4M1950 958h4M1950 962h4M1950 967h4M1950 971h4M1950 972h4M1950 974h4M1950 975h4M1950 981h4M1950 982h4M1950 986h4M1950 993h4M1950 1002h4M1951 945h4M1951 955h4M1951 966h4M1951 972h4M1951 980h4M1951 982h4M1951 983h4M1951 993h4M1952 952h4M1952 969h4M1952 978h4M1952 981h4M1952 982h4M1952 984h4M1952 996h4M1953 949h4M1953 957h4M1953 959h4M1953 964h4M1953 968h4M1953 975h4M1953 976h4M1953 983h4M1953 991h4M1953 994h4M1953 998h4M1953 1005h4M1954 966h4M1954 968h4M1954 972h4M1954 976h4M1954 980h4M1954 981h4M1954 982h4M1954 985h4M1954 991h4M1955 933h4M1955 960h4M1955 965h4M1955 971h4M1955 972h4M1955 975h4M1955 981h4M1955 988h4M1956 969h4M1956 972h4M1956 975h4M1956 980h4M1956 981h4M1956 982h4M1956 994h4M1957 920h4M1957 966h4M1957 969h4M1957 974h4M1957 976h4M1957 978h4M1957 980h4M1957 987h4M1957 991h4M1957 1007h4M1958 953h4M1958 973h4M1958 982h4M1959 969h4M1959 973h4M1959 974h4M1959 977h4M1959 980h4M1959 984h4M1959 986h4M1960 941h4M1960 961h4M1960 963h4M1960 972h4M1960 973h4M1960 974h4M1960 975h4M1960 983h4M1960 985h4M1960 986h4M1960 993h4M1961 948h4M1961 967h4M1961 974h4M1961 978h4M1962 954h4M1962 959h4M1962 962h4M1962 964h4M1962 972h4M1962 973h4M1962 977h4M1962 980h4M1962 981h4M1962 984h4M1962 985h4M1962 987h4M1962 989h4M1962 990h4M1962 993h4M1962 999h4M1963 964h4M1963 972h4M1963 978h4M1963 982h4M1963 998h4M1963 1005h4M1964 958h4M1964 968h4M1964 973h4M1964 975h4M1964 976h4M1964 977h4M1964 984h4M1964 986h4M1964 988h4M1965 952h4M1965 957h4M1965 963h4M1965 970h4M1965 974h4M1965 980h4M1965 983h4M1966 942h4M1966 974h4M1966 975h4M1966 979h4M1966 980h4M1966 983h4M1966 998h4M1966 1002h4M1967 959h4M1967 973h4M1967 975h4M1967 981h4M1968 967h4M1968 969h4M1968 973h4M1968 974h4M1968 977h4M1968 982h4M1968 988h4M1968 998h4M1969 960h4M1969 976h4M1969 985h4M1969 987h4M1969 1000h4M1969 1003h4M1970 960h4M1970 963h4M1970 972h4M1970 977h4M1970 979h4M1970 980h4M1970 982h4M1970 984h4M1970 992h4M1970 1012h4M1971 963h4M1971 971h4M1971 977h4M1971 978h4M1971 979h4M1971 987h4M1971 988h4M1971 991h4M1971 992h4M1971 994h4M1972 959h4M1972 965h4M1972 980h4M1972 982h4M1972 986h4M1972 988h4M1972 991h4M1973 962h4M1973 984h4M1973 988h4M1973 994h4M1973 1000h4M1974 952h4M1974 968h4M1974 969h4M1974 974h4M1974 975h4M1974 976h4M1974 978h4M1974 979h4M1974 980h4M1974 985h4M1974 987h4M1974 988h4M1974 994h4M1975 955h4M1975 968h4M1975 975h4M1975 976h4M1975 977h4M1975 982h4M1975 989h4M1975 993h4M1975 996h4M1975 1007h4M1976 964h4M1976 974h4M1976 975h4M1976 977h4M1976 980h4M1976 987h4M1976 988h4M1976 992h4M1976 1001h4M1976 1002h4M1977 975h4M1977 978h4M1977 985h4M1977 986h4M1977 989h4M1977 990h4M1977 992h4M1977 994h4M1978 970h4M1978 978h4M1978 982h4M1978 983h4M1978 984h4M1978 992h4M1978 993h4M1978 999h4M1979 980h4M1979 984h4M1979 985h4M1979 990h4M1979 994h4M1979 995h4M1980 965h4M1980 969h4M1980 974h4M1980 981h4M1980 984h4M1980 986h4M1980 990h4M1980 991h4M1980 992h4M1980 1005h4M1981 973h4M1981 975h4M1981 976h4M1981 978h4M1981 983h4M1981 987h4M1981 992h4M1981 993h4M1981 1000h4M1982 975h4M1982 980h4M1982 990h4M1982 995h4M1982 996h4M1982 997h4M1982 999h4M1982 1004h4M1983 974h4M1983 975h4M1983 976h4M1983 977h4M1983 982h4M1983 987h4M1983 994h4M1983 1009h4M1984 993h4M1985 970h4M1985 974h4M1985 983h4M1985 984h4M1985 989h4M1985 991h4M1985 993h4M1985 999h4M1985 1001h4M1985 1005h4M1986 962h4M1986 982h4M1986 983h4M1986 984h4M1986 1000h4M1986 1004h4M1987 945h4M1987 964h4M1987 967h4M1987 980h4M1987 986h4M1987 993h4M1987 994h4M1987 998h4M1988 954h4M1988 971h4M1988 977h4M1988 979h4M1988 983h4M1988 985h4M1988 986h4M1988 988h4M1988 998h4M1988 999h4M1988 1000h4M1988 1005h4M1989 971h4M1989 972h4M1989 980h4M1989 981h4M1989 983h4M1989 985h4M1989 991h4M1989 992h4M1989 993h4M1989 994h4M1989 996h4M1989 1002h4M1989 1003h4M1990 953h4M1990 960h4M1990 973h4M1990 978h4M1990 983h4M1990 988h4M1990 990h4M1990 992h4M1990 995h4M1990 998h4M1990 1000h4M1990 1003h4M1991 975h4M1991 980h4M1991 986h4M1991 988h4M1991 993h4M1991 997h4M1991 1000h4M1991 1002h4M1992 963h4M1992 970h4M1992 991h4M1992 993h4M1992 1003h4M1992 1006h4M1992 1008h4M1992 1012h4M1993 978h4M1993 980h4M1993 987h4M1993 996h4M1993 999h4M1993 1000h4M1993 1005h4M1993 1023h4M1994 970h4M1994 978h4M1994 984h4M1994 985h4M1994 991h4M1994 993h4M1994 994h4M1994 995h4M1994 997h4M1994 1001h4M1994 1005h4M1994 1008h4M1995 969h4M1995 981h4M1995 984h4M1995 986h4M1995 995h4M1995 1001h4M1995 1013h4M1995 1024h4M1996 955h4M1996 972h4M1996 982h4M1996 983h4M1996 985h4M1996 990h4M1996 992h4M1996 994h4M1996 997h4M1997 974h4M1997 982h4M1997 985h4M1997 988h4M1997 990h4M1997 996h4M1997 998h4M1997 1000h4M1997 1001h4M1997 1007h4M1998 969h4M1998 979h4M1998 993h4M1998 996h4M1998 1004h4M1998 1009h4M1999 980h4M1999 983h4M1999 984h4M1999 998h4M2000 979h4M2000 982h4M2000 990h4M2000 995h4M2000 997h4M2000 1002h4M2001 968h4M2001 981h4M2001 985h4M2001 991h4M2001 993h4M2001 994h4M2001 996h4M2001 997h4M2001 1001h4M2001 1003h4M2002 977h4M2002 981h4M2002 989h4M2002 991h4M2002 992h4M2002 995h4M2002 997h4M2002 998h4M2002 1003h4M2002 1008h4M2002 1016h4M2003 951h4M2003 985h4M2003 992h4M2003 998h4M2003 1001h4M2003 1005h4M2003 1021h4M2003 1033h4M2004 948h4M2004 956h4M2004 957h4M2004 966h4M2004 989h4M2004 993h4M2004 994h4M2004 995h4M2004 996h4M2004 999h4M2004 1004h4M2004 1005h4M2004 1007h4M2005 975h4M2005 978h4M2005 986h4M2005 987h4M2005 993h4M2005 996h4M2005 997h4M2005 998h4M2005 1007h4M2006 973h4M2006 985h4M2006 998h4M2006 1000h4M2006 1001h4M2006 1004h4M2006 1008h4M2006 1030h4M2006 1035h4M2006 1047h4M2007 994h4M2007 1000h4M2007 1007h4M2007 1011h4M2007 1036h4M2007 1056h4M2008 968h4M2008 969h4M2008 980h4M2008 991h4M2008 993h4M2008 996h4M2008 1002h4M2008 1003h4M2008 1005h4M2008 1013h4M2008 1026h4M2009 940h4M2009 981h4M2009 983h4M2009 997h4M2009 1035h4M2010 963h4M2010 982h4M2010 994h4M2010 999h4M2010 1004h4M2010 1009h4M2010 1011h4M2010 1022h4M2010 1029h4M2010 1032h4M2011 975h4M2011 981h4M2011 995h4M2011 998h4M2011 1002h4M2011 1008h4M2011 1025h4M2011 1030h4M2011 1061h4M2012 932h4M2012 983h4M2012 988h4M2012 995h4M2012 996h4M2012 1000h4M2012 1001h4M2012 1002h4M2012 1015h4M2012 1042h4M2012 1058h4M2012 1068h4M2013 995h4M2013 997h4M2013 998h4M2013 1002h4M2013 1009h4M2013 1017h4M2013 1019h4M2013 1034h4M2013 1072h4M2014 934h4M2014 958h4M2014 978h4M2014 990h4M2014 991h4M2014 992h4M2014 998h4M2014 1000h4M2014 1001h4M2014 1004h4M2014 1005h4M2014 1006h4M2014 1013h4M2014 1014h4M2014 1023h4M2014 1029h4M2014 1030h4M2014 1031h4M2014 1042h4M2015 950h4M2015 976h4M2015 983h4M2015 987h4M2015 994h4M2015 996h4M2015 1002h4M2015 1004h4M2015 1005h4M2015 1008h4M2015 1013h4M2015 1029h4M2015 1053h4M2015 1060h4M2015 1065h4M2015 1066h4M2016 985h4M2016 998h4M2016 1003h4M2016 1008h4M2016 1014h4M2016 1017h4M2016 1033h4M2016 1040h4M2016 1052h4M2016 1055h4M2016 1068h4M2016 1081h4M2016 1095h4M2017 944h4M2017 994h4M2017 996h4M2017 997h4M2017 998h4M2017 1001h4M2017 1008h4M2017 1009h4M2017 1021h4M2017 1031h4M2017 1057h4M2017 1062h4M2018 965h4M2018 973h4M2018 987h4M2018 989h4M2018 992h4M2018 994h4M2018 995h4M2018 998h4M2018 1013h4M2018 1019h4M2018 1024h4M2018 1025h4M2018 1040h4M2018 1045h4M2018 1048h4M2018 1051h4M2018 1052h4M2018 1075h4M2019 977h4M2019 984h4M2019 988h4M2019 997h4M2019 999h4M2019 1008h4M2019 1010h4M2019 1013h4M2019 1020h4M2019 1022h4M2019 1030h4M2019 1037h4M2019 1056h4M2019 1061h4M2019 1068h4M2019 1084h4M2019 1086h4M2020 951h4M2020 978h4M2020 989h4M2020 1003h4M2020 1008h4M2020 1009h4M2020 1010h4M2020 1013h4M2020 1015h4M2020 1019h4M2020 1021h4M2020 1022h4M2020 1027h4M2020 1049h4M2020 1054h4M2020 1061h4M2021 950h4M2021 953h4M2021 965h4M2021 976h4M2021 982h4M2021 984h4M2021 989h4M2021 991h4M2021 998h4M2021 1000h4M2021 1004h4M2021 1008h4M2021 1010h4M2021 1011h4M2021 1012h4M2021 1032h4M2021 1037h4M2021 1039h4M2021 1044h4M2021 1050h4M2021 1062h4M2021 1083h4M2022 924h4M2022 939h4M2022 972h4M2022 988h4M2022 991h4M2022 993h4M2022 997h4M2022 998h4M2022 1001h4M2022 1011h4M2022 1016h4M2022 1021h4M2022 1022h4M2022 1025h4M2022 1026h4M2022 1049h4M2022 1075h4M2022 1102h4M2023 938h4M2023 970h4M2023 983h4M2023 996h4M2023 1002h4M2023 1003h4M2023 1004h4M2023 1006h4M2023 1007h4M2023 1008h4M2023 1009h4M2023 1012h4M2023 1019h4M2023 1023h4M2023 1026h4M2023 1030h4M2023 1042h4M2023 1048h4M2024 956h4M2024 964h4M2024 968h4M2024 983h4M2024 989h4M2024 991h4M2024 992h4M2024 994h4M2024 997h4M2024 998h4M2024 1001h4M2024 1004h4M2024 1008h4M2024 1009h4M2024 1010h4M2024 1014h4M2024 1017h4M2024 1042h4M2024 1046h4M2024 1051h4M2024 1101h4M2024 1110h4M2025 955h4M2025 972h4M2025 998h4M2025 1003h4M2025 1005h4M2025 1009h4M2025 1018h4M2025 1019h4M2025 1038h4M2025 1042h4M2025 1098h4M2026 944h4M2026 987h4M2026 996h4M2026 1002h4M2026 1004h4M2026 1005h4M2026 1011h4M2026 1012h4M2026 1013h4M2026 1024h4M2026 1046h4M2026 1048h4M2026 1075h4M2027 947h4M2027 983h4M2027 985h4M2027 991h4M2027 996h4M2027 999h4M2027 1003h4M2027 1005h4M2027 1006h4M2027 1008h4M2027 1009h4M2027 1027h4M2027 1035h4M2027 1044h4M2027 1046h4M2027 1073h4M2027 1078h4M2027 1090h4M2027 1104h4M2028 965h4M2028 980h4M2028 981h4M2028 988h4M2028 989h4M2028 991h4M2028 995h4M2028 1005h4M2028 1017h4M2028 1024h4M2028 1027h4M2028 1030h4M2028 1037h4M2028 1044h4M2028 1053h4M2028 1071h4M2029 980h4M2029 988h4M2029 989h4M2029 990h4M2029 992h4M2029 994h4M2029 995h4M2029 996h4M2029 1000h4M2029 1001h4M2029 1006h4M2029 1021h4M2029 1022h4M2029 1025h4M2029 1029h4M2029 1051h4M2029 1057h4M2029 1062h4M2029 1073h4M2030 946h4M2030 981h4M2030 986h4M2030 989h4M2030 994h4M2030 995h4M2030 996h4M2030 1004h4M2030 1005h4M2030 1006h4M2030 1007h4M2030 1008h4M2030 1012h4M2030 1015h4M2030 1025h4M2030 1033h4M2030 1039h4M2030 1058h4M2031 984h4M2031 985h4M2031 990h4M2031 997h4M2031 999h4M2031 1007h4M2031 1012h4M2031 1017h4M2031 1031h4M2031 1033h4M2031 1046h4M2031 1050h4M2031 1076h4M2032 942h4M2032 968h4M2032 972h4M2032 974h4M2032 993h4M2032 999h4M2032 1003h4M2032 1008h4M2032 1021h4M2032 1043h4M2032 1116h4M2033 945h4M2033 976h4M2033 986h4M2033 990h4M2033 992h4M2033 1004h4M2033 1007h4M2033 1009h4M2033 1013h4M2033 1016h4M2033 1018h4M2033 1028h4M2033 1030h4M2033 1035h4M2033 1052h4M2034 924h4M2034 943h4M2034 976h4M2034 990h4M2034 999h4M2034 1006h4M2034 1008h4M2034 1013h4M2034 1046h4M2035 991h4M2035 993h4M2035 995h4M2035 999h4M2035 1000h4M2035 1002h4M2035 1005h4M2035 1006h4M2035 1012h4M2035 1013h4M2035 1017h4M2035 1043h4M2036 976h4M2036 1002h4M2036 1004h4M2036 1006h4M2036 1011h4M2036 1016h4M2037 984h4M2037 994h4M2037 995h4M2037 998h4M2037 1005h4M2037 1008h4M2037 1015h4M2037 1033h4M2038 960h4M2038 969h4M2038 980h4M2038 982h4M2038 1001h4M2038 1007h4M2038 1012h4M2038 1013h4M2039 992h4M2039 993h4M2039 998h4M2039 1003h4M2039 1005h4M2039 1007h4M2039 1014h4M2040 945h4M2040 953h4M2040 991h4M2040 992h4M2040 1003h4M2040 1006h4M2040 1007h4M2040 1012h4M2041 953h4M2041 955h4M2041 968h4M2041 987h4M2041 1003h4M2041 1006h4M2041 1008h4M2041 1012h4M2041 1014h4M2041 1016h4M2041 1020h4M2041 1024h4M2041 1059h4M2042 978h4M2042 981h4M2042 997h4M2042 1001h4M2042 1004h4M2042 1014h4M2042 1024h4M2042 1036h4M2043 987h4M2043 994h4M2043 1006h4M2043 1011h4M2043 1069h4M2044 986h4M2044 987h4M2044 992h4M2044 993h4M2044 996h4M2044 1002h4M2044 1005h4M2044 1009h4M2044 1017h4M2045 980h4M2045 995h4M2045 997h4M2045 1002h4M2045 1004h4M2045 1006h4M2045 1009h4M2045 1012h4M2045 1014h4M2046 981h4M2046 986h4M2046 998h4M2046 1001h4M2046 1015h4M2046 1028h4M2046 1044h4M2047 984h4M2047 992h4M2047 993h4M2047 1001h4M2047 1005h4M2047 1010h4M2047 1012h4M2047 1016h4M2047 1034h4M2048 967h4M2048 986h4M2048 989h4M2048 991h4M2048 993h4M2048 995h4M2048 997h4M2048 998h4M2048 999h4M2048 1003h4M2048 1008h4M2048 1010h4M2049 952h4M2049 979h4M2049 995h4M2049 997h4M2049 1001h4M2049 1003h4M2049 1004h4M2049 1006h4M2049 1013h4M2049 1015h4M2049 1021h4M2049 1022h4M2050 1012h4M2051 923h4M2051 935h4M2052 941h4M2052 951h4M2052 979h4M2056 998h4M2056 1036h4M2058 995h4M2059 966h4M2060 941h4M2060 997h4M2060 999h4M2061 992h4M2064 883h4M2065 976h4M2066 970h4M2066 1001h4M2067 975h4M2067 995h4M2068 985h4M2068 1009h4M2069 1001h4M2071 989h4M2073 941h4M2073 1027h4M2074 951h4M2074 998h4M2076 980h4M2076 1000h4M2076 1004h4M2078 999h4M2080 996h4M2080 1007h4M2080 1012h4M2081 1005h4M2083 974h4M2085 985h4M2087 976h4M2089 933h4M2091 969h4M2092 1002h4M2092 1003h4M2095 964h4M2095 993h4M2095 1001h4M2099 979h4M2099 981h4M2104 986h4M2106 987h4M2108 997h4M2110 990h4M2114 994h4M2115 965h4M2116 982h4M2116 1000h4M2117 979h4M2119 967h4M2119 972h4M2119 976h4M2119 985h4M2121 988h4M2122 977h4M2124 989h4M2125 985h4M2125 1001h4M2126 976h4M2128 982h4M2128 992h4M2134 972h4M2135 987h4M2137 978h4M2140 949h4M2140 995h4M2141 969h4M2141 974h4M2141 982h4M2144 962h4M2144 966h4M2144 984h4M2145 943h4M2145 980h4" stroke="#959595" stroke-width="4" fill="none"/>
<path d="M1725.2 984H2150.4" stroke="#000" stroke-width="1.4"/>
<path d="M1723.9 837.7 1725.9 843.1 1727.9 848.4 1729.9 853.8 1731.9 859.1 1733.9 864.4 1735.9 869.7 1737.9 875 1739.9 880.2 1741.9 885.4 1743.9 890.6 1745.9 895.7 1747.9 900.7 1749.9 905.5 1751.9 910.2 1753.9 914.9 1755.9 919.5 1757.9 924.1 1759.9 928.5 1761.9 932.9 1763.9 937.2 1765.9 941.4 1767.9 945.6 1769.9 949.7 L1769.9 956.4 1767.9 952.6 1765.9 948.9 1763.9 945 1761.9 941.2 1759.9 937.3 1757.9 933.4 1755.9 929.4 1753.9 925.4 1751.9 921.3 1749.9 917.2 1747.9 913.1 1745.9 909 1743.9 904.7 1741.9 900.5 1739.9 896.2 1737.9 892.1 1735.9 888.1 1733.9 884.3 1731.9 880.5 1729.9 876.9 1727.9 873.4 1725.9 869.9 1723.9 866.5Z" fill="#2e6f9e" fill-opacity="0.38"/>
<path d="M2099.9 989.5 2101.9 988.8 2103.9 988.1 2105.9 987.4 2107.9 986.7 2109.9 985.9 2111.9 985.2 2113.9 984.4 2115.9 983.5 2117.9 982.7 2119.9 981.7 2121.9 980.8 2123.9 979.8 2125.9 978.8 2127.9 977.8 2129.9 976.7 2131.9 975.7 2133.9 974.7 2135.9 973.7 2137.9 972.7 2139.9 971.7 2141.9 970.7 2143.9 969.6 2145.9 968.6 2147.9 967.5 2149.9 966.5 2150.8 966 L2150.8 978.8 2149.9 979.1 2147.9 979.8 2145.9 980.6 2143.9 981.3 2141.9 982 2139.9 982.7 2137.9 983.4 2135.9 984.2 2133.9 984.9 2131.9 985.6 2129.9 986.3 2127.9 987.1 2125.9 987.8 2123.9 988.6 2121.9 989.4 2119.9 990.1 2117.9 990.8 2115.9 991.5 2113.9 992.1 2111.9 992.7 2109.9 993.2 2107.9 993.8 2105.9 994.3 2103.9 994.9 2101.9 995.4 2099.9 995.9Z" fill="#2e6f9e" fill-opacity="0.38"/>
<path d="M1723.9 852.1 1725.9 856.5 1727.9 860.9 1729.9 865.4 1731.9 869.8 1733.9 874.4 1735.9 878.9 1737.9 883.5 1739.9 888.2 1741.9 893 1743.9 897.7 1745.9 902.3 1747.9 906.9 1749.9 911.4 1751.9 915.8 1753.9 920.1 1755.9 924.5 1757.9 928.7 1759.9 932.9 1761.9 937 1763.9 941.1 1765.9 945.1 1767.9 949.1 1769.9 953 1771.9 956.9 1773.9 960.7 1775.9 964.5 1777.9 968.3 1779.9 971.9 1781.9 975.5 1783.9 978.9 1785.9 982.2 1787.9 985.4 1789.9 988.5 1791.9 991.5 1793.9 994.3 1795.9 996.9 1797.9 999.2 1799.9 1001.4 1801.9 1003.5 1803.9 1005.5 1805.9 1007.2 1807.9 1008.8 1809.9 1010.3 1811.9 1011.8 1813.9 1013.2 1815.9 1014.4 1817.9 1015.4 1819.9 1016 1821.9 1016.4 1823.9 1016.8 1825.9 1017.1 1827.9 1017.4 1829.9 1017.5 1831.9 1017.6 1833.9 1017.4 1835.9 1017 1837.9 1016.3 1839.9 1015.6 1841.9 1014.7 1843.9 1013.7 1845.9 1012.2 1847.9 1010.5 1849.9 1008.7 1851.9 1006.7 1853.9 1004.5 1855.9 1002 1857.9 999.3 1859.9 996.7 1861.9 993.9 1863.9 991.1 1865.9 988.7 1867.9 986.5 1869.9 984.9 1871.9 985.1 1873.9 986.2 1875.9 986.8 1877.9 986.8 1879.9 986.8 1881.9 986.8 1883.9 984.4 1885.9 980.6 1887.9 977.1 1889.9 973.4 1891.9 970.7 1893.9 968.6 1895.9 966.7 1897.9 965.3 1899.9 964.8 1901.9 964.9 1903.9 965.2 1905.9 965.6 1907.9 966 1909.9 966.5 1911.9 967 1913.9 967.6 1915.9 968.3 1917.9 969 1919.9 969.6 1921.9 970.3 1923.9 970.9 1925.9 971.4 1927.9 972 1929.9 972.5 1931.9 973.1 1933.9 973.6 1935.9 974 1937.9 974.5 1939.9 974.8 1941.9 975.1 1943.9 975.4 1945.9 975.6 1947.9 975.8 1949.9 976 1951.9 976.3 1953.9 976.5 1955.9 976.8 1957.9 977.2 1959.9 977.6 1961.9 978 1963.9 978.5 1965.9 979 1967.9 979.6 1969.9 980.2 1971.9 980.9 1973.9 981.6 1975.9 982.5 1977.9 983.6 1979.9 984.7 1981.9 985.8 1983.9 986.9 1985.9 987.9 1987.9 988.9 1989.9 989.8 1991.9 990.7 1993.9 991.6 1995.9 992.5 1997.9 993.4 1999.9 994.2 2001.9 995 2003.9 995.7 2005.9 996.3 2007.9 997 2009.9 997.6 2011.9 998.2 2013.9 998.7 2015.9 999.2 2017.9 999.7 2019.9 1000 2021.9 1000.4 2023.9 1000.7 2025.9 1001.1 2027.9 1001.4 2029.9 1001.6 2031.9 1001.8 2033.9 1001.9 2035.9 1002 2037.9 1002 2039.9 1002 2041.9 1002 2043.9 1002 2045.9 1002 2047.9 1002 2049.9 1002 2051.9 1002 2053.9 1001.9 2055.9 1001.8 2057.9 1001.6 2059.9 1001.4 2061.9 1001.2 2063.9 1000.9 2065.9 1000.6 2067.9 1000.4 2069.9 1000.1 2071.9 999.7 2073.9 999.3 2075.9 998.9 2077.9 998.5 2079.9 998.1 2081.9 997.6 2083.9 997.1 2085.9 996.6 2087.9 996.1 2089.9 995.6 2091.9 995 2093.9 994.5 2095.9 993.9 2097.9 993.3 2099.9 992.7 2101.9 992.1 2103.9 991.5 2105.9 990.9 2107.9 990.2 2109.9 989.6 2111.9 988.9 2113.9 988.2 2115.9 987.5 2117.9 986.7 2119.9 985.9 2121.9 985.1 2123.9 984.2 2125.9 983.3 2127.9 982.4 2129.9 981.5 2131.9 980.7 2133.9 979.8 2135.9 978.9 2137.9 978.1 2139.9 977.2 2141.9 976.3 2143.9 975.5 2145.9 974.6 2147.9 973.7 2149.9 972.8 2150.8 972.4" stroke="#fb210e" stroke-width="7.9" stroke-linejoin="round" stroke-linecap="butt" fill="none"/>
</g>
<path d="M1724.1 740.7H2151.9" stroke="#2b2b2b" stroke-width="4" fill="none"/>
<path d="M1724.1 1227.2H2151.9" stroke="#2b2b2b" stroke-width="3.5" fill="none"/>
<path d="M2150.4 740.7V1227.2" stroke="#2b2b2b" stroke-width="3" fill="none"/>
<path d="M1725.2 740.7V1227.2" stroke="#1c1c1c" stroke-width="2.2" fill="none"/>
<path d="M1712.2 1227.5H1725.2M1712.2 1105.9H1725.2M1712.2 984.2H1725.2M1712.2 862.6H1725.2M1712.2 741H1725.2M1793.1 1227.2V1239.5M1887.8 1227.2V1239.5M1981.7 1227.2V1239.5M2076.1 1227.2V1239.5" stroke="#333333" stroke-width="3.6" fill="none"/>
<text x="1702.5" y="1241.8" font-size="38.7" text-anchor="end" fill="#474747">-10</text>
<text x="1702.5" y="1120.2" font-size="38.7" text-anchor="end" fill="#474747">-5</text>
<text x="1702.5" y="998.6" font-size="38.7" text-anchor="end" fill="#474747">0</text>
<text x="1702.5" y="876.9" font-size="38.7" text-anchor="end" fill="#474747">5</text>
<text x="1702.5" y="755.3" font-size="38.7" text-anchor="end" fill="#474747">10</text>
<text x="1793.1" y="1278.7" font-size="38.7" text-anchor="middle" fill="#474747">0.00</text>
<text x="1887.8" y="1278.7" font-size="38.7" text-anchor="middle" fill="#474747">0.02</text>
<text x="1981.7" y="1278.7" font-size="38.7" text-anchor="middle" fill="#474747">0.04</text>
<text x="2076.1" y="1278.7" font-size="38.7" text-anchor="middle" fill="#474747">0.06</text>
</g>
<text x="1146.2" y="1339.6" font-size="56" text-anchor="middle" fill="#000">The eight most important predictors</text>
<text transform="translate(41.6 657.3) rotate(-90)" font-size="56" text-anchor="middle" fill="#000">Shapley value</text>
</svg>
</body></html>
